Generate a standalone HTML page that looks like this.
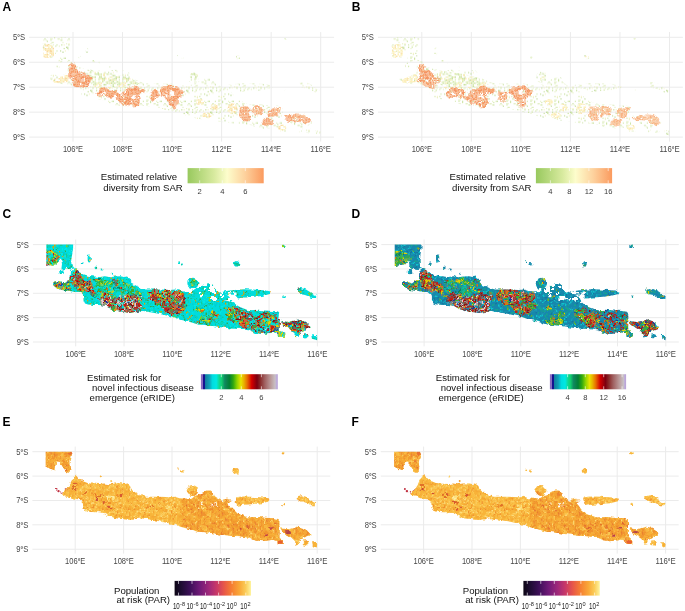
<!DOCTYPE html>
<html><head><meta charset="utf-8"><style>
html,body{margin:0;padding:0;background:#fff;overflow:hidden;}
svg{display:block;font-family:"Liberation Sans", sans-serif;}
</style></head><body>
<svg width="685" height="611" viewBox="0 0 685 611">
<defs><linearGradient id="gA" x1="0" x2="1" y1="0" y2="0"><stop offset="0" stop-color="#98c95e"/><stop offset="0.35" stop-color="#d8ea9f"/><stop offset="0.52" stop-color="#fdfdcc"/><stop offset="0.75" stop-color="#fdd29e"/><stop offset="1" stop-color="#fb9a5e"/></linearGradient><linearGradient id="gB" x1="0" x2="1" y1="0" y2="0"><stop offset="0" stop-color="#98c95e"/><stop offset="0.35" stop-color="#d8ea9f"/><stop offset="0.52" stop-color="#fdfdcc"/><stop offset="0.75" stop-color="#fdd29e"/><stop offset="1" stop-color="#fb9a5e"/></linearGradient><linearGradient id="gC" x1="0" x2="1" y1="0" y2="0"><stop offset="0" stop-color="#8a6cc0"/><stop offset="0.022" stop-color="#8a6cc0"/><stop offset="0.028" stop-color="#141490"/><stop offset="0.05" stop-color="#141490"/><stop offset="0.06" stop-color="#1080a0"/><stop offset="0.11" stop-color="#10a0b8"/><stop offset="0.15" stop-color="#00dce0"/><stop offset="0.2" stop-color="#00e8e4"/><stop offset="0.24" stop-color="#10d890"/><stop offset="0.27" stop-color="#10d070"/><stop offset="0.31" stop-color="#108860"/><stop offset="0.37" stop-color="#008034"/><stop offset="0.42" stop-color="#30a810"/><stop offset="0.47" stop-color="#90d400"/><stop offset="0.52" stop-color="#e8e400"/><stop offset="0.56" stop-color="#e8b000"/><stop offset="0.6" stop-color="#e87000"/><stop offset="0.66" stop-color="#d40000"/><stop offset="0.73" stop-color="#7c0010"/><stop offset="0.77" stop-color="#882828"/><stop offset="0.83" stop-color="#a06060"/><stop offset="0.9" stop-color="#b89494"/><stop offset="0.965" stop-color="#c8c0c4"/><stop offset="0.978" stop-color="#c0b0d8"/><stop offset="1" stop-color="#b8a0d8"/></linearGradient><linearGradient id="gD" x1="0" x2="1" y1="0" y2="0"><stop offset="0" stop-color="#8a6cc0"/><stop offset="0.022" stop-color="#8a6cc0"/><stop offset="0.028" stop-color="#141490"/><stop offset="0.05" stop-color="#141490"/><stop offset="0.06" stop-color="#1080a0"/><stop offset="0.11" stop-color="#10a0b8"/><stop offset="0.15" stop-color="#00dce0"/><stop offset="0.2" stop-color="#00e8e4"/><stop offset="0.24" stop-color="#10d890"/><stop offset="0.27" stop-color="#10d070"/><stop offset="0.31" stop-color="#108860"/><stop offset="0.37" stop-color="#008034"/><stop offset="0.42" stop-color="#30a810"/><stop offset="0.47" stop-color="#90d400"/><stop offset="0.52" stop-color="#e8e400"/><stop offset="0.56" stop-color="#e8b000"/><stop offset="0.6" stop-color="#e87000"/><stop offset="0.66" stop-color="#d40000"/><stop offset="0.73" stop-color="#7c0010"/><stop offset="0.77" stop-color="#882828"/><stop offset="0.83" stop-color="#a06060"/><stop offset="0.9" stop-color="#b89494"/><stop offset="0.965" stop-color="#c8c0c4"/><stop offset="0.978" stop-color="#c0b0d8"/><stop offset="1" stop-color="#b8a0d8"/></linearGradient><linearGradient id="gE" x1="0" x2="1" y1="0" y2="0"><stop offset="0" stop-color="#0c0614"/><stop offset="0.08" stop-color="#1c0c30"/><stop offset="0.2" stop-color="#3c0f58"/><stop offset="0.33" stop-color="#701a78"/><stop offset="0.45" stop-color="#a0287a"/><stop offset="0.55" stop-color="#c83868"/><stop offset="0.65" stop-color="#e85848"/><stop offset="0.75" stop-color="#f68032"/><stop offset="0.85" stop-color="#f9a838"/><stop offset="0.93" stop-color="#fbcc58"/><stop offset="1" stop-color="#fef4a0"/></linearGradient><linearGradient id="gF" x1="0" x2="1" y1="0" y2="0"><stop offset="0" stop-color="#0c0614"/><stop offset="0.08" stop-color="#1c0c30"/><stop offset="0.2" stop-color="#3c0f58"/><stop offset="0.33" stop-color="#701a78"/><stop offset="0.45" stop-color="#a0287a"/><stop offset="0.55" stop-color="#c83868"/><stop offset="0.65" stop-color="#e85848"/><stop offset="0.75" stop-color="#f68032"/><stop offset="0.85" stop-color="#f9a838"/><stop offset="0.93" stop-color="#fbcc58"/><stop offset="1" stop-color="#fef4a0"/></linearGradient><filter id="soft" x="-5%" y="-5%" width="110%" height="110%" color-interpolation-filters="sRGB"><feGaussianBlur stdDeviation="0.55"/></filter><filter id="disp2" x="-5%" y="-10%" width="110%" height="120%" color-interpolation-filters="sRGB"><feTurbulence type="fractalNoise" baseFrequency="0.15" numOctaves="2" seed="11" result="t"/><feDisplacementMap in="SourceGraphic" in2="t" scale="7" xChannelSelector="R" yChannelSelector="G"/></filter><filter id="rag" x="-5%" y="-10%" width="110%" height="120%" color-interpolation-filters="sRGB"><feTurbulence type="fractalNoise" baseFrequency="0.22" numOctaves="2" seed="7" result="t"/><feDisplacementMap in="SourceGraphic" in2="t" scale="4" xChannelSelector="R" yChannelSelector="G" result="d"/><feGaussianBlur in="d" stdDeviation="0.5"/></filter><filter id="disp" x="-5%" y="-10%" width="110%" height="120%" color-interpolation-filters="sRGB"><feTurbulence type="fractalNoise" baseFrequency="0.12" numOctaves="2" seed="4" result="t"/><feDisplacementMap in="SourceGraphic" in2="t" scale="9" xChannelSelector="R" yChannelSelector="G"/></filter><pattern id="hR" patternUnits="userSpaceOnUse" width="30" height="27"><rect x="0" y="0" width="1.5" height="1.5" fill="#c41c14"/><rect x="4.5" y="0" width="1.5" height="1.5" fill="#861414"/><rect x="6" y="0" width="1.5" height="1.5" fill="#ecc8c8"/><rect x="7.5" y="0" width="1.5" height="1.5" fill="#ecc8c8"/><rect x="9" y="0" width="1.5" height="1.5" fill="#e49018"/><rect x="12" y="0" width="1.5" height="1.5" fill="#c41c14"/><rect x="13.5" y="0" width="1.5" height="1.5" fill="#c41c14"/><rect x="16.5" y="0" width="1.5" height="1.5" fill="#ecc8c8"/><rect x="19.5" y="0" width="1.5" height="1.5" fill="#c41c14"/><rect x="21" y="0" width="1.5" height="1.5" fill="#ecc8c8"/><rect x="22.5" y="0" width="1.5" height="1.5" fill="#3ab030"/><rect x="24" y="0" width="1.5" height="1.5" fill="#c41c14"/><rect x="25.5" y="0" width="1.5" height="1.5" fill="#2030a0"/><rect x="27" y="0" width="1.5" height="1.5" fill="#e0d000"/><rect x="28.5" y="0" width="1.5" height="1.5" fill="#c41c14"/><rect x="0" y="1.5" width="1.5" height="1.5" fill="#c41c14"/><rect x="1.5" y="1.5" width="1.5" height="1.5" fill="#d8603c"/><rect x="3" y="1.5" width="1.5" height="1.5" fill="#2030a0"/><rect x="4.5" y="1.5" width="1.5" height="1.5" fill="#861414"/><rect x="6" y="1.5" width="1.5" height="1.5" fill="#c41c14"/><rect x="7.5" y="1.5" width="1.5" height="1.5" fill="#ecc8c8"/><rect x="9" y="1.5" width="1.5" height="1.5" fill="#c41c14"/><rect x="10.5" y="1.5" width="1.5" height="1.5" fill="#c41c14"/><rect x="12" y="1.5" width="1.5" height="1.5" fill="#ecc8c8"/><rect x="13.5" y="1.5" width="1.5" height="1.5" fill="#ecc8c8"/><rect x="15" y="1.5" width="1.5" height="1.5" fill="#c41c14"/><rect x="16.5" y="1.5" width="1.5" height="1.5" fill="#c41c14"/><rect x="18" y="1.5" width="1.5" height="1.5" fill="#c41c14"/><rect x="19.5" y="1.5" width="1.5" height="1.5" fill="#ecc8c8"/><rect x="21" y="1.5" width="1.5" height="1.5" fill="#861414"/><rect x="22.5" y="1.5" width="1.5" height="1.5" fill="#c41c14"/><rect x="25.5" y="1.5" width="1.5" height="1.5" fill="#d8603c"/><rect x="27" y="1.5" width="1.5" height="1.5" fill="#e49018"/><rect x="28.5" y="1.5" width="1.5" height="1.5" fill="#c41c14"/><rect x="0" y="3" width="1.5" height="1.5" fill="#a04848"/><rect x="3" y="3" width="1.5" height="1.5" fill="#c41c14"/><rect x="4.5" y="3" width="1.5" height="1.5" fill="#861414"/><rect x="6" y="3" width="1.5" height="1.5" fill="#3ab030"/><rect x="7.5" y="3" width="1.5" height="1.5" fill="#3ab030"/><rect x="9" y="3" width="1.5" height="1.5" fill="#2030a0"/><rect x="10.5" y="3" width="1.5" height="1.5" fill="#ecc8c8"/><rect x="13.5" y="3" width="1.5" height="1.5" fill="#e49018"/><rect x="15" y="3" width="1.5" height="1.5" fill="#861414"/><rect x="16.5" y="3" width="1.5" height="1.5" fill="#d8603c"/><rect x="18" y="3" width="1.5" height="1.5" fill="#e0d000"/><rect x="21" y="3" width="1.5" height="1.5" fill="#ecc8c8"/><rect x="22.5" y="3" width="1.5" height="1.5" fill="#d8603c"/><rect x="24" y="3" width="1.5" height="1.5" fill="#c41c14"/><rect x="25.5" y="3" width="1.5" height="1.5" fill="#861414"/><rect x="28.5" y="3" width="1.5" height="1.5" fill="#861414"/><rect x="0" y="4.5" width="1.5" height="1.5" fill="#c41c14"/><rect x="1.5" y="4.5" width="1.5" height="1.5" fill="#d8603c"/><rect x="3" y="4.5" width="1.5" height="1.5" fill="#3ab030"/><rect x="4.5" y="4.5" width="1.5" height="1.5" fill="#e49018"/><rect x="6" y="4.5" width="1.5" height="1.5" fill="#861414"/><rect x="7.5" y="4.5" width="1.5" height="1.5" fill="#ecc8c8"/><rect x="9" y="4.5" width="1.5" height="1.5" fill="#ecc8c8"/><rect x="12" y="4.5" width="1.5" height="1.5" fill="#ecc8c8"/><rect x="13.5" y="4.5" width="1.5" height="1.5" fill="#861414"/><rect x="15" y="4.5" width="1.5" height="1.5" fill="#ecc8c8"/><rect x="16.5" y="4.5" width="1.5" height="1.5" fill="#c41c14"/><rect x="18" y="4.5" width="1.5" height="1.5" fill="#c41c14"/><rect x="19.5" y="4.5" width="1.5" height="1.5" fill="#3ab030"/><rect x="21" y="4.5" width="1.5" height="1.5" fill="#a04848"/><rect x="22.5" y="4.5" width="1.5" height="1.5" fill="#d8603c"/><rect x="24" y="4.5" width="1.5" height="1.5" fill="#861414"/><rect x="25.5" y="4.5" width="1.5" height="1.5" fill="#c41c14"/><rect x="27" y="4.5" width="1.5" height="1.5" fill="#ecc8c8"/><rect x="28.5" y="4.5" width="1.5" height="1.5" fill="#a04848"/><rect x="1.5" y="6" width="1.5" height="1.5" fill="#ecc8c8"/><rect x="4.5" y="6" width="1.5" height="1.5" fill="#c41c14"/><rect x="6" y="6" width="1.5" height="1.5" fill="#ecc8c8"/><rect x="7.5" y="6" width="1.5" height="1.5" fill="#2030a0"/><rect x="9" y="6" width="1.5" height="1.5" fill="#d8603c"/><rect x="10.5" y="6" width="1.5" height="1.5" fill="#ecc8c8"/><rect x="12" y="6" width="1.5" height="1.5" fill="#861414"/><rect x="13.5" y="6" width="1.5" height="1.5" fill="#d8603c"/><rect x="15" y="6" width="1.5" height="1.5" fill="#2030a0"/><rect x="16.5" y="6" width="1.5" height="1.5" fill="#c41c14"/><rect x="21" y="6" width="1.5" height="1.5" fill="#e0d000"/><rect x="22.5" y="6" width="1.5" height="1.5" fill="#3ab030"/><rect x="25.5" y="6" width="1.5" height="1.5" fill="#ecc8c8"/><rect x="27" y="6" width="1.5" height="1.5" fill="#d8603c"/><rect x="28.5" y="6" width="1.5" height="1.5" fill="#ecc8c8"/><rect x="0" y="7.5" width="1.5" height="1.5" fill="#c41c14"/><rect x="3" y="7.5" width="1.5" height="1.5" fill="#d8603c"/><rect x="4.5" y="7.5" width="1.5" height="1.5" fill="#c41c14"/><rect x="6" y="7.5" width="1.5" height="1.5" fill="#ecc8c8"/><rect x="7.5" y="7.5" width="1.5" height="1.5" fill="#ecc8c8"/><rect x="9" y="7.5" width="1.5" height="1.5" fill="#861414"/><rect x="10.5" y="7.5" width="1.5" height="1.5" fill="#861414"/><rect x="12" y="7.5" width="1.5" height="1.5" fill="#ecc8c8"/><rect x="13.5" y="7.5" width="1.5" height="1.5" fill="#e49018"/><rect x="15" y="7.5" width="1.5" height="1.5" fill="#d8603c"/><rect x="16.5" y="7.5" width="1.5" height="1.5" fill="#ecc8c8"/><rect x="18" y="7.5" width="1.5" height="1.5" fill="#c41c14"/><rect x="19.5" y="7.5" width="1.5" height="1.5" fill="#c41c14"/><rect x="21" y="7.5" width="1.5" height="1.5" fill="#c41c14"/><rect x="22.5" y="7.5" width="1.5" height="1.5" fill="#d8603c"/><rect x="0" y="9" width="1.5" height="1.5" fill="#861414"/><rect x="3" y="9" width="1.5" height="1.5" fill="#e49018"/><rect x="4.5" y="9" width="1.5" height="1.5" fill="#c41c14"/><rect x="6" y="9" width="1.5" height="1.5" fill="#c41c14"/><rect x="7.5" y="9" width="1.5" height="1.5" fill="#c41c14"/><rect x="9" y="9" width="1.5" height="1.5" fill="#3ab030"/><rect x="10.5" y="9" width="1.5" height="1.5" fill="#861414"/><rect x="12" y="9" width="1.5" height="1.5" fill="#c41c14"/><rect x="13.5" y="9" width="1.5" height="1.5" fill="#e49018"/><rect x="15" y="9" width="1.5" height="1.5" fill="#861414"/><rect x="16.5" y="9" width="1.5" height="1.5" fill="#c41c14"/><rect x="18" y="9" width="1.5" height="1.5" fill="#c41c14"/><rect x="19.5" y="9" width="1.5" height="1.5" fill="#ecc8c8"/><rect x="21" y="9" width="1.5" height="1.5" fill="#c41c14"/><rect x="22.5" y="9" width="1.5" height="1.5" fill="#861414"/><rect x="24" y="9" width="1.5" height="1.5" fill="#3ab030"/><rect x="25.5" y="9" width="1.5" height="1.5" fill="#ecc8c8"/><rect x="27" y="9" width="1.5" height="1.5" fill="#861414"/><rect x="28.5" y="9" width="1.5" height="1.5" fill="#ecc8c8"/><rect x="0" y="10.5" width="1.5" height="1.5" fill="#c41c14"/><rect x="1.5" y="10.5" width="1.5" height="1.5" fill="#861414"/><rect x="3" y="10.5" width="1.5" height="1.5" fill="#ecc8c8"/><rect x="4.5" y="10.5" width="1.5" height="1.5" fill="#c41c14"/><rect x="6" y="10.5" width="1.5" height="1.5" fill="#c41c14"/><rect x="7.5" y="10.5" width="1.5" height="1.5" fill="#e0d000"/><rect x="9" y="10.5" width="1.5" height="1.5" fill="#ecc8c8"/><rect x="10.5" y="10.5" width="1.5" height="1.5" fill="#c41c14"/><rect x="12" y="10.5" width="1.5" height="1.5" fill="#d8603c"/><rect x="15" y="10.5" width="1.5" height="1.5" fill="#c41c14"/><rect x="16.5" y="10.5" width="1.5" height="1.5" fill="#c41c14"/><rect x="18" y="10.5" width="1.5" height="1.5" fill="#c41c14"/><rect x="19.5" y="10.5" width="1.5" height="1.5" fill="#3ab030"/><rect x="21" y="10.5" width="1.5" height="1.5" fill="#c41c14"/><rect x="22.5" y="10.5" width="1.5" height="1.5" fill="#3ab030"/><rect x="24" y="10.5" width="1.5" height="1.5" fill="#e49018"/><rect x="25.5" y="10.5" width="1.5" height="1.5" fill="#d8603c"/><rect x="27" y="10.5" width="1.5" height="1.5" fill="#c41c14"/><rect x="28.5" y="10.5" width="1.5" height="1.5" fill="#a04848"/><rect x="1.5" y="12" width="1.5" height="1.5" fill="#ecc8c8"/><rect x="3" y="12" width="1.5" height="1.5" fill="#c41c14"/><rect x="4.5" y="12" width="1.5" height="1.5" fill="#e49018"/><rect x="6" y="12" width="1.5" height="1.5" fill="#861414"/><rect x="7.5" y="12" width="1.5" height="1.5" fill="#d8603c"/><rect x="9" y="12" width="1.5" height="1.5" fill="#861414"/><rect x="10.5" y="12" width="1.5" height="1.5" fill="#e49018"/><rect x="12" y="12" width="1.5" height="1.5" fill="#c41c14"/><rect x="13.5" y="12" width="1.5" height="1.5" fill="#861414"/><rect x="15" y="12" width="1.5" height="1.5" fill="#a04848"/><rect x="18" y="12" width="1.5" height="1.5" fill="#861414"/><rect x="21" y="12" width="1.5" height="1.5" fill="#861414"/><rect x="22.5" y="12" width="1.5" height="1.5" fill="#2030a0"/><rect x="24" y="12" width="1.5" height="1.5" fill="#3ab030"/><rect x="25.5" y="12" width="1.5" height="1.5" fill="#861414"/><rect x="27" y="12" width="1.5" height="1.5" fill="#861414"/><rect x="28.5" y="12" width="1.5" height="1.5" fill="#c41c14"/><rect x="1.5" y="13.5" width="1.5" height="1.5" fill="#c41c14"/><rect x="4.5" y="13.5" width="1.5" height="1.5" fill="#a04848"/><rect x="6" y="13.5" width="1.5" height="1.5" fill="#d8603c"/><rect x="7.5" y="13.5" width="1.5" height="1.5" fill="#c41c14"/><rect x="10.5" y="13.5" width="1.5" height="1.5" fill="#a04848"/><rect x="12" y="13.5" width="1.5" height="1.5" fill="#3ab030"/><rect x="13.5" y="13.5" width="1.5" height="1.5" fill="#ecc8c8"/><rect x="15" y="13.5" width="1.5" height="1.5" fill="#861414"/><rect x="16.5" y="13.5" width="1.5" height="1.5" fill="#861414"/><rect x="18" y="13.5" width="1.5" height="1.5" fill="#c41c14"/><rect x="19.5" y="13.5" width="1.5" height="1.5" fill="#e49018"/><rect x="21" y="13.5" width="1.5" height="1.5" fill="#ecc8c8"/><rect x="22.5" y="13.5" width="1.5" height="1.5" fill="#c41c14"/><rect x="24" y="13.5" width="1.5" height="1.5" fill="#c41c14"/><rect x="25.5" y="13.5" width="1.5" height="1.5" fill="#e49018"/><rect x="27" y="13.5" width="1.5" height="1.5" fill="#861414"/><rect x="28.5" y="13.5" width="1.5" height="1.5" fill="#ecc8c8"/><rect x="0" y="15" width="1.5" height="1.5" fill="#861414"/><rect x="3" y="15" width="1.5" height="1.5" fill="#e0d000"/><rect x="4.5" y="15" width="1.5" height="1.5" fill="#c41c14"/><rect x="6" y="15" width="1.5" height="1.5" fill="#c41c14"/><rect x="7.5" y="15" width="1.5" height="1.5" fill="#861414"/><rect x="9" y="15" width="1.5" height="1.5" fill="#a04848"/><rect x="12" y="15" width="1.5" height="1.5" fill="#861414"/><rect x="13.5" y="15" width="1.5" height="1.5" fill="#c41c14"/><rect x="15" y="15" width="1.5" height="1.5" fill="#e49018"/><rect x="18" y="15" width="1.5" height="1.5" fill="#2030a0"/><rect x="19.5" y="15" width="1.5" height="1.5" fill="#861414"/><rect x="21" y="15" width="1.5" height="1.5" fill="#e0d000"/><rect x="22.5" y="15" width="1.5" height="1.5" fill="#3ab030"/><rect x="24" y="15" width="1.5" height="1.5" fill="#ecc8c8"/><rect x="25.5" y="15" width="1.5" height="1.5" fill="#a04848"/><rect x="27" y="15" width="1.5" height="1.5" fill="#c41c14"/><rect x="28.5" y="15" width="1.5" height="1.5" fill="#3ab030"/><rect x="0" y="16.5" width="1.5" height="1.5" fill="#c41c14"/><rect x="1.5" y="16.5" width="1.5" height="1.5" fill="#c41c14"/><rect x="3" y="16.5" width="1.5" height="1.5" fill="#e0d000"/><rect x="4.5" y="16.5" width="1.5" height="1.5" fill="#c41c14"/><rect x="6" y="16.5" width="1.5" height="1.5" fill="#3ab030"/><rect x="7.5" y="16.5" width="1.5" height="1.5" fill="#d8603c"/><rect x="10.5" y="16.5" width="1.5" height="1.5" fill="#861414"/><rect x="12" y="16.5" width="1.5" height="1.5" fill="#861414"/><rect x="13.5" y="16.5" width="1.5" height="1.5" fill="#861414"/><rect x="16.5" y="16.5" width="1.5" height="1.5" fill="#d8603c"/><rect x="18" y="16.5" width="1.5" height="1.5" fill="#2030a0"/><rect x="19.5" y="16.5" width="1.5" height="1.5" fill="#e0d000"/><rect x="21" y="16.5" width="1.5" height="1.5" fill="#c41c14"/><rect x="22.5" y="16.5" width="1.5" height="1.5" fill="#d8603c"/><rect x="24" y="16.5" width="1.5" height="1.5" fill="#c41c14"/><rect x="25.5" y="16.5" width="1.5" height="1.5" fill="#c41c14"/><rect x="27" y="16.5" width="1.5" height="1.5" fill="#c41c14"/><rect x="3" y="18" width="1.5" height="1.5" fill="#861414"/><rect x="4.5" y="18" width="1.5" height="1.5" fill="#d8603c"/><rect x="7.5" y="18" width="1.5" height="1.5" fill="#861414"/><rect x="9" y="18" width="1.5" height="1.5" fill="#d8603c"/><rect x="10.5" y="18" width="1.5" height="1.5" fill="#c41c14"/><rect x="12" y="18" width="1.5" height="1.5" fill="#c41c14"/><rect x="13.5" y="18" width="1.5" height="1.5" fill="#861414"/><rect x="15" y="18" width="1.5" height="1.5" fill="#e0d000"/><rect x="16.5" y="18" width="1.5" height="1.5" fill="#d8603c"/><rect x="18" y="18" width="1.5" height="1.5" fill="#e0d000"/><rect x="19.5" y="18" width="1.5" height="1.5" fill="#ecc8c8"/><rect x="21" y="18" width="1.5" height="1.5" fill="#861414"/><rect x="25.5" y="18" width="1.5" height="1.5" fill="#c41c14"/><rect x="27" y="18" width="1.5" height="1.5" fill="#e49018"/><rect x="28.5" y="18" width="1.5" height="1.5" fill="#c41c14"/><rect x="0" y="19.5" width="1.5" height="1.5" fill="#c41c14"/><rect x="1.5" y="19.5" width="1.5" height="1.5" fill="#e0d000"/><rect x="3" y="19.5" width="1.5" height="1.5" fill="#c41c14"/><rect x="4.5" y="19.5" width="1.5" height="1.5" fill="#c41c14"/><rect x="6" y="19.5" width="1.5" height="1.5" fill="#a04848"/><rect x="7.5" y="19.5" width="1.5" height="1.5" fill="#ecc8c8"/><rect x="9" y="19.5" width="1.5" height="1.5" fill="#c41c14"/><rect x="10.5" y="19.5" width="1.5" height="1.5" fill="#c41c14"/><rect x="12" y="19.5" width="1.5" height="1.5" fill="#861414"/><rect x="13.5" y="19.5" width="1.5" height="1.5" fill="#3ab030"/><rect x="15" y="19.5" width="1.5" height="1.5" fill="#c41c14"/><rect x="16.5" y="19.5" width="1.5" height="1.5" fill="#e0d000"/><rect x="18" y="19.5" width="1.5" height="1.5" fill="#861414"/><rect x="19.5" y="19.5" width="1.5" height="1.5" fill="#a04848"/><rect x="21" y="19.5" width="1.5" height="1.5" fill="#e0d000"/><rect x="22.5" y="19.5" width="1.5" height="1.5" fill="#861414"/><rect x="24" y="19.5" width="1.5" height="1.5" fill="#861414"/><rect x="25.5" y="19.5" width="1.5" height="1.5" fill="#ecc8c8"/><rect x="27" y="19.5" width="1.5" height="1.5" fill="#c41c14"/><rect x="28.5" y="19.5" width="1.5" height="1.5" fill="#e49018"/><rect x="0" y="21" width="1.5" height="1.5" fill="#c41c14"/><rect x="1.5" y="21" width="1.5" height="1.5" fill="#c41c14"/><rect x="3" y="21" width="1.5" height="1.5" fill="#a04848"/><rect x="4.5" y="21" width="1.5" height="1.5" fill="#861414"/><rect x="6" y="21" width="1.5" height="1.5" fill="#d8603c"/><rect x="7.5" y="21" width="1.5" height="1.5" fill="#ecc8c8"/><rect x="9" y="21" width="1.5" height="1.5" fill="#861414"/><rect x="10.5" y="21" width="1.5" height="1.5" fill="#c41c14"/><rect x="12" y="21" width="1.5" height="1.5" fill="#e0d000"/><rect x="13.5" y="21" width="1.5" height="1.5" fill="#a04848"/><rect x="15" y="21" width="1.5" height="1.5" fill="#a04848"/><rect x="16.5" y="21" width="1.5" height="1.5" fill="#c41c14"/><rect x="18" y="21" width="1.5" height="1.5" fill="#c41c14"/><rect x="19.5" y="21" width="1.5" height="1.5" fill="#d8603c"/><rect x="21" y="21" width="1.5" height="1.5" fill="#a04848"/><rect x="22.5" y="21" width="1.5" height="1.5" fill="#d8603c"/><rect x="24" y="21" width="1.5" height="1.5" fill="#3ab030"/><rect x="25.5" y="21" width="1.5" height="1.5" fill="#e49018"/><rect x="27" y="21" width="1.5" height="1.5" fill="#861414"/><rect x="28.5" y="21" width="1.5" height="1.5" fill="#d8603c"/><rect x="0" y="22.5" width="1.5" height="1.5" fill="#861414"/><rect x="1.5" y="22.5" width="1.5" height="1.5" fill="#861414"/><rect x="3" y="22.5" width="1.5" height="1.5" fill="#c41c14"/><rect x="4.5" y="22.5" width="1.5" height="1.5" fill="#861414"/><rect x="6" y="22.5" width="1.5" height="1.5" fill="#a04848"/><rect x="7.5" y="22.5" width="1.5" height="1.5" fill="#ecc8c8"/><rect x="9" y="22.5" width="1.5" height="1.5" fill="#e49018"/><rect x="10.5" y="22.5" width="1.5" height="1.5" fill="#e49018"/><rect x="12" y="22.5" width="1.5" height="1.5" fill="#2030a0"/><rect x="13.5" y="22.5" width="1.5" height="1.5" fill="#861414"/><rect x="15" y="22.5" width="1.5" height="1.5" fill="#861414"/><rect x="16.5" y="22.5" width="1.5" height="1.5" fill="#861414"/><rect x="18" y="22.5" width="1.5" height="1.5" fill="#861414"/><rect x="21" y="22.5" width="1.5" height="1.5" fill="#e0d000"/><rect x="22.5" y="22.5" width="1.5" height="1.5" fill="#861414"/><rect x="24" y="22.5" width="1.5" height="1.5" fill="#861414"/><rect x="25.5" y="22.5" width="1.5" height="1.5" fill="#d8603c"/><rect x="27" y="22.5" width="1.5" height="1.5" fill="#d8603c"/><rect x="28.5" y="22.5" width="1.5" height="1.5" fill="#d8603c"/><rect x="0" y="24" width="1.5" height="1.5" fill="#861414"/><rect x="1.5" y="24" width="1.5" height="1.5" fill="#c41c14"/><rect x="3" y="24" width="1.5" height="1.5" fill="#861414"/><rect x="4.5" y="24" width="1.5" height="1.5" fill="#c41c14"/><rect x="6" y="24" width="1.5" height="1.5" fill="#d8603c"/><rect x="7.5" y="24" width="1.5" height="1.5" fill="#c41c14"/><rect x="9" y="24" width="1.5" height="1.5" fill="#c41c14"/><rect x="10.5" y="24" width="1.5" height="1.5" fill="#e49018"/><rect x="12" y="24" width="1.5" height="1.5" fill="#861414"/><rect x="15" y="24" width="1.5" height="1.5" fill="#ecc8c8"/><rect x="18" y="24" width="1.5" height="1.5" fill="#c41c14"/><rect x="19.5" y="24" width="1.5" height="1.5" fill="#ecc8c8"/><rect x="22.5" y="24" width="1.5" height="1.5" fill="#c41c14"/><rect x="24" y="24" width="1.5" height="1.5" fill="#2030a0"/><rect x="25.5" y="24" width="1.5" height="1.5" fill="#c41c14"/><rect x="28.5" y="24" width="1.5" height="1.5" fill="#a04848"/><rect x="1.5" y="25.5" width="1.5" height="1.5" fill="#861414"/><rect x="3" y="25.5" width="1.5" height="1.5" fill="#c41c14"/><rect x="4.5" y="25.5" width="1.5" height="1.5" fill="#ecc8c8"/><rect x="6" y="25.5" width="1.5" height="1.5" fill="#e0d000"/><rect x="7.5" y="25.5" width="1.5" height="1.5" fill="#861414"/><rect x="9" y="25.5" width="1.5" height="1.5" fill="#e0d000"/><rect x="10.5" y="25.5" width="1.5" height="1.5" fill="#c41c14"/><rect x="12" y="25.5" width="1.5" height="1.5" fill="#e0d000"/><rect x="13.5" y="25.5" width="1.5" height="1.5" fill="#c41c14"/><rect x="15" y="25.5" width="1.5" height="1.5" fill="#861414"/><rect x="16.5" y="25.5" width="1.5" height="1.5" fill="#e0d000"/><rect x="19.5" y="25.5" width="1.5" height="1.5" fill="#e0d000"/><rect x="22.5" y="25.5" width="1.5" height="1.5" fill="#3ab030"/><rect x="24" y="25.5" width="1.5" height="1.5" fill="#3ab030"/><rect x="25.5" y="25.5" width="1.5" height="1.5" fill="#c41c14"/><rect x="27" y="25.5" width="1.5" height="1.5" fill="#ecc8c8"/><rect x="28.5" y="25.5" width="1.5" height="1.5" fill="#c41c14"/></pattern><pattern id="hR2" patternUnits="userSpaceOnUse" width="30" height="27"><rect x="0" y="0" width="1.5" height="1.5" fill="#d8603c"/><rect x="1.5" y="0" width="1.5" height="1.5" fill="#d8603c"/><rect x="3" y="0" width="1.5" height="1.5" fill="#c41c14"/><rect x="4.5" y="0" width="1.5" height="1.5" fill="#c41c14"/><rect x="7.5" y="0" width="1.5" height="1.5" fill="#3ab030"/><rect x="9" y="0" width="1.5" height="1.5" fill="#3ab030"/><rect x="10.5" y="0" width="1.5" height="1.5" fill="#861414"/><rect x="12" y="0" width="1.5" height="1.5" fill="#e0c800"/><rect x="13.5" y="0" width="1.5" height="1.5" fill="#e0c800"/><rect x="15" y="0" width="1.5" height="1.5" fill="#e0c800"/><rect x="16.5" y="0" width="1.5" height="1.5" fill="#c41c14"/><rect x="18" y="0" width="1.5" height="1.5" fill="#e07010"/><rect x="19.5" y="0" width="1.5" height="1.5" fill="#861414"/><rect x="21" y="0" width="1.5" height="1.5" fill="#3ab030"/><rect x="22.5" y="0" width="1.5" height="1.5" fill="#d8603c"/><rect x="24" y="0" width="1.5" height="1.5" fill="#d8603c"/><rect x="25.5" y="0" width="1.5" height="1.5" fill="#e07010"/><rect x="27" y="0" width="1.5" height="1.5" fill="#e07010"/><rect x="28.5" y="0" width="1.5" height="1.5" fill="#c41c14"/><rect x="0" y="1.5" width="1.5" height="1.5" fill="#c41c14"/><rect x="1.5" y="1.5" width="1.5" height="1.5" fill="#c41c14"/><rect x="3" y="1.5" width="1.5" height="1.5" fill="#e07010"/><rect x="4.5" y="1.5" width="1.5" height="1.5" fill="#861414"/><rect x="6" y="1.5" width="1.5" height="1.5" fill="#861414"/><rect x="9" y="1.5" width="1.5" height="1.5" fill="#e07010"/><rect x="10.5" y="1.5" width="1.5" height="1.5" fill="#e0c800"/><rect x="12" y="1.5" width="1.5" height="1.5" fill="#c41c14"/><rect x="13.5" y="1.5" width="1.5" height="1.5" fill="#c41c14"/><rect x="15" y="1.5" width="1.5" height="1.5" fill="#861414"/><rect x="16.5" y="1.5" width="1.5" height="1.5" fill="#c41c14"/><rect x="18" y="1.5" width="1.5" height="1.5" fill="#e07010"/><rect x="19.5" y="1.5" width="1.5" height="1.5" fill="#d8603c"/><rect x="21" y="1.5" width="1.5" height="1.5" fill="#3ab030"/><rect x="22.5" y="1.5" width="1.5" height="1.5" fill="#c41c14"/><rect x="27" y="1.5" width="1.5" height="1.5" fill="#3ab030"/><rect x="0" y="3" width="1.5" height="1.5" fill="#e0a0a0"/><rect x="1.5" y="3" width="1.5" height="1.5" fill="#e0a0a0"/><rect x="3" y="3" width="1.5" height="1.5" fill="#861414"/><rect x="4.5" y="3" width="1.5" height="1.5" fill="#d8603c"/><rect x="6" y="3" width="1.5" height="1.5" fill="#d8603c"/><rect x="7.5" y="3" width="1.5" height="1.5" fill="#c41c14"/><rect x="9" y="3" width="1.5" height="1.5" fill="#e0a0a0"/><rect x="10.5" y="3" width="1.5" height="1.5" fill="#3ab030"/><rect x="12" y="3" width="1.5" height="1.5" fill="#e07010"/><rect x="13.5" y="3" width="1.5" height="1.5" fill="#e07010"/><rect x="15" y="3" width="1.5" height="1.5" fill="#e07010"/><rect x="16.5" y="3" width="1.5" height="1.5" fill="#2030a0"/><rect x="18" y="3" width="1.5" height="1.5" fill="#e07010"/><rect x="21" y="3" width="1.5" height="1.5" fill="#861414"/><rect x="25.5" y="3" width="1.5" height="1.5" fill="#e07010"/><rect x="27" y="3" width="1.5" height="1.5" fill="#e0c800"/><rect x="28.5" y="3" width="1.5" height="1.5" fill="#2030a0"/><rect x="0" y="4.5" width="1.5" height="1.5" fill="#3ab030"/><rect x="1.5" y="4.5" width="1.5" height="1.5" fill="#e07010"/><rect x="3" y="4.5" width="1.5" height="1.5" fill="#c41c14"/><rect x="4.5" y="4.5" width="1.5" height="1.5" fill="#861414"/><rect x="6" y="4.5" width="1.5" height="1.5" fill="#3ab030"/><rect x="7.5" y="4.5" width="1.5" height="1.5" fill="#c41c14"/><rect x="10.5" y="4.5" width="1.5" height="1.5" fill="#c41c14"/><rect x="13.5" y="4.5" width="1.5" height="1.5" fill="#861414"/><rect x="15" y="4.5" width="1.5" height="1.5" fill="#d8603c"/><rect x="16.5" y="4.5" width="1.5" height="1.5" fill="#3ab030"/><rect x="18" y="4.5" width="1.5" height="1.5" fill="#e07010"/><rect x="19.5" y="4.5" width="1.5" height="1.5" fill="#e07010"/><rect x="21" y="4.5" width="1.5" height="1.5" fill="#3ab030"/><rect x="22.5" y="4.5" width="1.5" height="1.5" fill="#e0c800"/><rect x="24" y="4.5" width="1.5" height="1.5" fill="#861414"/><rect x="25.5" y="4.5" width="1.5" height="1.5" fill="#c41c14"/><rect x="27" y="4.5" width="1.5" height="1.5" fill="#e07010"/><rect x="28.5" y="4.5" width="1.5" height="1.5" fill="#2030a0"/><rect x="0" y="6" width="1.5" height="1.5" fill="#e0c800"/><rect x="1.5" y="6" width="1.5" height="1.5" fill="#c41c14"/><rect x="4.5" y="6" width="1.5" height="1.5" fill="#3ab030"/><rect x="7.5" y="6" width="1.5" height="1.5" fill="#c41c14"/><rect x="9" y="6" width="1.5" height="1.5" fill="#3ab030"/><rect x="10.5" y="6" width="1.5" height="1.5" fill="#c41c14"/><rect x="12" y="6" width="1.5" height="1.5" fill="#3ab030"/><rect x="13.5" y="6" width="1.5" height="1.5" fill="#c41c14"/><rect x="15" y="6" width="1.5" height="1.5" fill="#c41c14"/><rect x="18" y="6" width="1.5" height="1.5" fill="#c41c14"/><rect x="19.5" y="6" width="1.5" height="1.5" fill="#e07010"/><rect x="22.5" y="6" width="1.5" height="1.5" fill="#c41c14"/><rect x="24" y="6" width="1.5" height="1.5" fill="#c41c14"/><rect x="27" y="6" width="1.5" height="1.5" fill="#e07010"/><rect x="28.5" y="6" width="1.5" height="1.5" fill="#3ab030"/><rect x="0" y="7.5" width="1.5" height="1.5" fill="#c41c14"/><rect x="1.5" y="7.5" width="1.5" height="1.5" fill="#861414"/><rect x="3" y="7.5" width="1.5" height="1.5" fill="#c41c14"/><rect x="4.5" y="7.5" width="1.5" height="1.5" fill="#3ab030"/><rect x="6" y="7.5" width="1.5" height="1.5" fill="#c41c14"/><rect x="7.5" y="7.5" width="1.5" height="1.5" fill="#d8603c"/><rect x="9" y="7.5" width="1.5" height="1.5" fill="#c41c14"/><rect x="10.5" y="7.5" width="1.5" height="1.5" fill="#3ab030"/><rect x="12" y="7.5" width="1.5" height="1.5" fill="#c41c14"/><rect x="13.5" y="7.5" width="1.5" height="1.5" fill="#c41c14"/><rect x="16.5" y="7.5" width="1.5" height="1.5" fill="#c41c14"/><rect x="18" y="7.5" width="1.5" height="1.5" fill="#c41c14"/><rect x="19.5" y="7.5" width="1.5" height="1.5" fill="#3ab030"/><rect x="21" y="7.5" width="1.5" height="1.5" fill="#861414"/><rect x="22.5" y="7.5" width="1.5" height="1.5" fill="#c41c14"/><rect x="24" y="7.5" width="1.5" height="1.5" fill="#d8603c"/><rect x="25.5" y="7.5" width="1.5" height="1.5" fill="#c41c14"/><rect x="27" y="7.5" width="1.5" height="1.5" fill="#c41c14"/><rect x="28.5" y="7.5" width="1.5" height="1.5" fill="#861414"/><rect x="0" y="9" width="1.5" height="1.5" fill="#e0c800"/><rect x="1.5" y="9" width="1.5" height="1.5" fill="#3ab030"/><rect x="3" y="9" width="1.5" height="1.5" fill="#c41c14"/><rect x="4.5" y="9" width="1.5" height="1.5" fill="#861414"/><rect x="6" y="9" width="1.5" height="1.5" fill="#c41c14"/><rect x="7.5" y="9" width="1.5" height="1.5" fill="#e07010"/><rect x="9" y="9" width="1.5" height="1.5" fill="#e0a0a0"/><rect x="10.5" y="9" width="1.5" height="1.5" fill="#3ab030"/><rect x="13.5" y="9" width="1.5" height="1.5" fill="#e0a0a0"/><rect x="16.5" y="9" width="1.5" height="1.5" fill="#3ab030"/><rect x="18" y="9" width="1.5" height="1.5" fill="#e07010"/><rect x="19.5" y="9" width="1.5" height="1.5" fill="#c41c14"/><rect x="21" y="9" width="1.5" height="1.5" fill="#3ab030"/><rect x="22.5" y="9" width="1.5" height="1.5" fill="#861414"/><rect x="24" y="9" width="1.5" height="1.5" fill="#c41c14"/><rect x="25.5" y="9" width="1.5" height="1.5" fill="#e07010"/><rect x="28.5" y="9" width="1.5" height="1.5" fill="#c41c14"/><rect x="0" y="10.5" width="1.5" height="1.5" fill="#e0c800"/><rect x="1.5" y="10.5" width="1.5" height="1.5" fill="#861414"/><rect x="3" y="10.5" width="1.5" height="1.5" fill="#e07010"/><rect x="4.5" y="10.5" width="1.5" height="1.5" fill="#c41c14"/><rect x="6" y="10.5" width="1.5" height="1.5" fill="#d8603c"/><rect x="7.5" y="10.5" width="1.5" height="1.5" fill="#c41c14"/><rect x="9" y="10.5" width="1.5" height="1.5" fill="#e0c800"/><rect x="10.5" y="10.5" width="1.5" height="1.5" fill="#861414"/><rect x="12" y="10.5" width="1.5" height="1.5" fill="#c41c14"/><rect x="13.5" y="10.5" width="1.5" height="1.5" fill="#e07010"/><rect x="15" y="10.5" width="1.5" height="1.5" fill="#c41c14"/><rect x="16.5" y="10.5" width="1.5" height="1.5" fill="#c41c14"/><rect x="18" y="10.5" width="1.5" height="1.5" fill="#c41c14"/><rect x="19.5" y="10.5" width="1.5" height="1.5" fill="#c41c14"/><rect x="21" y="10.5" width="1.5" height="1.5" fill="#c41c14"/><rect x="22.5" y="10.5" width="1.5" height="1.5" fill="#e0c800"/><rect x="24" y="10.5" width="1.5" height="1.5" fill="#e07010"/><rect x="25.5" y="10.5" width="1.5" height="1.5" fill="#d8603c"/><rect x="27" y="10.5" width="1.5" height="1.5" fill="#2030a0"/><rect x="28.5" y="10.5" width="1.5" height="1.5" fill="#d8603c"/><rect x="0" y="12" width="1.5" height="1.5" fill="#c41c14"/><rect x="1.5" y="12" width="1.5" height="1.5" fill="#e07010"/><rect x="3" y="12" width="1.5" height="1.5" fill="#c41c14"/><rect x="4.5" y="12" width="1.5" height="1.5" fill="#e0c800"/><rect x="6" y="12" width="1.5" height="1.5" fill="#e0c800"/><rect x="9" y="12" width="1.5" height="1.5" fill="#3ab030"/><rect x="10.5" y="12" width="1.5" height="1.5" fill="#c41c14"/><rect x="12" y="12" width="1.5" height="1.5" fill="#e07010"/><rect x="13.5" y="12" width="1.5" height="1.5" fill="#e07010"/><rect x="15" y="12" width="1.5" height="1.5" fill="#c41c14"/><rect x="16.5" y="12" width="1.5" height="1.5" fill="#c41c14"/><rect x="18" y="12" width="1.5" height="1.5" fill="#861414"/><rect x="19.5" y="12" width="1.5" height="1.5" fill="#c41c14"/><rect x="21" y="12" width="1.5" height="1.5" fill="#3ab030"/><rect x="22.5" y="12" width="1.5" height="1.5" fill="#c41c14"/><rect x="24" y="12" width="1.5" height="1.5" fill="#c41c14"/><rect x="25.5" y="12" width="1.5" height="1.5" fill="#c41c14"/><rect x="27" y="12" width="1.5" height="1.5" fill="#c41c14"/><rect x="28.5" y="12" width="1.5" height="1.5" fill="#c41c14"/><rect x="0" y="13.5" width="1.5" height="1.5" fill="#e07010"/><rect x="1.5" y="13.5" width="1.5" height="1.5" fill="#e07010"/><rect x="3" y="13.5" width="1.5" height="1.5" fill="#861414"/><rect x="4.5" y="13.5" width="1.5" height="1.5" fill="#e0c800"/><rect x="6" y="13.5" width="1.5" height="1.5" fill="#c41c14"/><rect x="9" y="13.5" width="1.5" height="1.5" fill="#d8603c"/><rect x="10.5" y="13.5" width="1.5" height="1.5" fill="#3ab030"/><rect x="12" y="13.5" width="1.5" height="1.5" fill="#e07010"/><rect x="13.5" y="13.5" width="1.5" height="1.5" fill="#e07010"/><rect x="15" y="13.5" width="1.5" height="1.5" fill="#e0c800"/><rect x="16.5" y="13.5" width="1.5" height="1.5" fill="#c41c14"/><rect x="18" y="13.5" width="1.5" height="1.5" fill="#861414"/><rect x="19.5" y="13.5" width="1.5" height="1.5" fill="#e07010"/><rect x="21" y="13.5" width="1.5" height="1.5" fill="#c41c14"/><rect x="22.5" y="13.5" width="1.5" height="1.5" fill="#c41c14"/><rect x="25.5" y="13.5" width="1.5" height="1.5" fill="#861414"/><rect x="27" y="13.5" width="1.5" height="1.5" fill="#e07010"/><rect x="28.5" y="13.5" width="1.5" height="1.5" fill="#2030a0"/><rect x="0" y="15" width="1.5" height="1.5" fill="#e0c800"/><rect x="1.5" y="15" width="1.5" height="1.5" fill="#861414"/><rect x="3" y="15" width="1.5" height="1.5" fill="#d8603c"/><rect x="4.5" y="15" width="1.5" height="1.5" fill="#861414"/><rect x="6" y="15" width="1.5" height="1.5" fill="#c41c14"/><rect x="7.5" y="15" width="1.5" height="1.5" fill="#3ab030"/><rect x="9" y="15" width="1.5" height="1.5" fill="#c41c14"/><rect x="10.5" y="15" width="1.5" height="1.5" fill="#861414"/><rect x="13.5" y="15" width="1.5" height="1.5" fill="#3ab030"/><rect x="15" y="15" width="1.5" height="1.5" fill="#c41c14"/><rect x="16.5" y="15" width="1.5" height="1.5" fill="#e07010"/><rect x="18" y="15" width="1.5" height="1.5" fill="#861414"/><rect x="19.5" y="15" width="1.5" height="1.5" fill="#e07010"/><rect x="21" y="15" width="1.5" height="1.5" fill="#c41c14"/><rect x="22.5" y="15" width="1.5" height="1.5" fill="#e0c800"/><rect x="24" y="15" width="1.5" height="1.5" fill="#c41c14"/><rect x="25.5" y="15" width="1.5" height="1.5" fill="#861414"/><rect x="27" y="15" width="1.5" height="1.5" fill="#861414"/><rect x="28.5" y="15" width="1.5" height="1.5" fill="#2030a0"/><rect x="0" y="16.5" width="1.5" height="1.5" fill="#c41c14"/><rect x="1.5" y="16.5" width="1.5" height="1.5" fill="#e0a0a0"/><rect x="3" y="16.5" width="1.5" height="1.5" fill="#c41c14"/><rect x="4.5" y="16.5" width="1.5" height="1.5" fill="#e0c800"/><rect x="6" y="16.5" width="1.5" height="1.5" fill="#861414"/><rect x="7.5" y="16.5" width="1.5" height="1.5" fill="#e07010"/><rect x="9" y="16.5" width="1.5" height="1.5" fill="#e0a0a0"/><rect x="10.5" y="16.5" width="1.5" height="1.5" fill="#861414"/><rect x="12" y="16.5" width="1.5" height="1.5" fill="#c41c14"/><rect x="13.5" y="16.5" width="1.5" height="1.5" fill="#c41c14"/><rect x="15" y="16.5" width="1.5" height="1.5" fill="#c41c14"/><rect x="18" y="16.5" width="1.5" height="1.5" fill="#e0c800"/><rect x="19.5" y="16.5" width="1.5" height="1.5" fill="#d8603c"/><rect x="21" y="16.5" width="1.5" height="1.5" fill="#3ab030"/><rect x="22.5" y="16.5" width="1.5" height="1.5" fill="#c41c14"/><rect x="24" y="16.5" width="1.5" height="1.5" fill="#3ab030"/><rect x="25.5" y="16.5" width="1.5" height="1.5" fill="#e0a0a0"/><rect x="27" y="16.5" width="1.5" height="1.5" fill="#3ab030"/><rect x="28.5" y="16.5" width="1.5" height="1.5" fill="#e07010"/><rect x="0" y="18" width="1.5" height="1.5" fill="#861414"/><rect x="1.5" y="18" width="1.5" height="1.5" fill="#e07010"/><rect x="4.5" y="18" width="1.5" height="1.5" fill="#c41c14"/><rect x="6" y="18" width="1.5" height="1.5" fill="#e07010"/><rect x="7.5" y="18" width="1.5" height="1.5" fill="#e07010"/><rect x="9" y="18" width="1.5" height="1.5" fill="#d8603c"/><rect x="12" y="18" width="1.5" height="1.5" fill="#2030a0"/><rect x="15" y="18" width="1.5" height="1.5" fill="#861414"/><rect x="16.5" y="18" width="1.5" height="1.5" fill="#c41c14"/><rect x="18" y="18" width="1.5" height="1.5" fill="#e07010"/><rect x="19.5" y="18" width="1.5" height="1.5" fill="#c41c14"/><rect x="21" y="18" width="1.5" height="1.5" fill="#e07010"/><rect x="22.5" y="18" width="1.5" height="1.5" fill="#3ab030"/><rect x="25.5" y="18" width="1.5" height="1.5" fill="#e0c800"/><rect x="28.5" y="18" width="1.5" height="1.5" fill="#c41c14"/><rect x="0" y="19.5" width="1.5" height="1.5" fill="#861414"/><rect x="1.5" y="19.5" width="1.5" height="1.5" fill="#d8603c"/><rect x="3" y="19.5" width="1.5" height="1.5" fill="#c41c14"/><rect x="4.5" y="19.5" width="1.5" height="1.5" fill="#861414"/><rect x="6" y="19.5" width="1.5" height="1.5" fill="#c41c14"/><rect x="7.5" y="19.5" width="1.5" height="1.5" fill="#c41c14"/><rect x="10.5" y="19.5" width="1.5" height="1.5" fill="#d8603c"/><rect x="12" y="19.5" width="1.5" height="1.5" fill="#e0c800"/><rect x="13.5" y="19.5" width="1.5" height="1.5" fill="#c41c14"/><rect x="15" y="19.5" width="1.5" height="1.5" fill="#861414"/><rect x="16.5" y="19.5" width="1.5" height="1.5" fill="#c41c14"/><rect x="18" y="19.5" width="1.5" height="1.5" fill="#3ab030"/><rect x="19.5" y="19.5" width="1.5" height="1.5" fill="#3ab030"/><rect x="21" y="19.5" width="1.5" height="1.5" fill="#e07010"/><rect x="22.5" y="19.5" width="1.5" height="1.5" fill="#e07010"/><rect x="24" y="19.5" width="1.5" height="1.5" fill="#c41c14"/><rect x="25.5" y="19.5" width="1.5" height="1.5" fill="#e07010"/><rect x="27" y="19.5" width="1.5" height="1.5" fill="#d8603c"/><rect x="28.5" y="19.5" width="1.5" height="1.5" fill="#e0a0a0"/><rect x="0" y="21" width="1.5" height="1.5" fill="#c41c14"/><rect x="1.5" y="21" width="1.5" height="1.5" fill="#e07010"/><rect x="3" y="21" width="1.5" height="1.5" fill="#3ab030"/><rect x="4.5" y="21" width="1.5" height="1.5" fill="#c41c14"/><rect x="7.5" y="21" width="1.5" height="1.5" fill="#e07010"/><rect x="9" y="21" width="1.5" height="1.5" fill="#3ab030"/><rect x="10.5" y="21" width="1.5" height="1.5" fill="#861414"/><rect x="12" y="21" width="1.5" height="1.5" fill="#d8603c"/><rect x="13.5" y="21" width="1.5" height="1.5" fill="#e0a0a0"/><rect x="15" y="21" width="1.5" height="1.5" fill="#e0c800"/><rect x="16.5" y="21" width="1.5" height="1.5" fill="#c41c14"/><rect x="18" y="21" width="1.5" height="1.5" fill="#e07010"/><rect x="19.5" y="21" width="1.5" height="1.5" fill="#c41c14"/><rect x="21" y="21" width="1.5" height="1.5" fill="#e0c800"/><rect x="24" y="21" width="1.5" height="1.5" fill="#c41c14"/><rect x="25.5" y="21" width="1.5" height="1.5" fill="#e07010"/><rect x="27" y="21" width="1.5" height="1.5" fill="#e07010"/><rect x="28.5" y="21" width="1.5" height="1.5" fill="#861414"/><rect x="0" y="22.5" width="1.5" height="1.5" fill="#3ab030"/><rect x="1.5" y="22.5" width="1.5" height="1.5" fill="#2030a0"/><rect x="3" y="22.5" width="1.5" height="1.5" fill="#3ab030"/><rect x="4.5" y="22.5" width="1.5" height="1.5" fill="#e07010"/><rect x="6" y="22.5" width="1.5" height="1.5" fill="#d8603c"/><rect x="7.5" y="22.5" width="1.5" height="1.5" fill="#861414"/><rect x="9" y="22.5" width="1.5" height="1.5" fill="#3ab030"/><rect x="10.5" y="22.5" width="1.5" height="1.5" fill="#3ab030"/><rect x="12" y="22.5" width="1.5" height="1.5" fill="#e0a0a0"/><rect x="15" y="22.5" width="1.5" height="1.5" fill="#c41c14"/><rect x="16.5" y="22.5" width="1.5" height="1.5" fill="#e0c800"/><rect x="18" y="22.5" width="1.5" height="1.5" fill="#861414"/><rect x="19.5" y="22.5" width="1.5" height="1.5" fill="#3ab030"/><rect x="21" y="22.5" width="1.5" height="1.5" fill="#d8603c"/><rect x="22.5" y="22.5" width="1.5" height="1.5" fill="#e0c800"/><rect x="24" y="22.5" width="1.5" height="1.5" fill="#c41c14"/><rect x="25.5" y="22.5" width="1.5" height="1.5" fill="#e07010"/><rect x="27" y="22.5" width="1.5" height="1.5" fill="#3ab030"/><rect x="0" y="24" width="1.5" height="1.5" fill="#3ab030"/><rect x="3" y="24" width="1.5" height="1.5" fill="#c41c14"/><rect x="4.5" y="24" width="1.5" height="1.5" fill="#d8603c"/><rect x="6" y="24" width="1.5" height="1.5" fill="#3ab030"/><rect x="7.5" y="24" width="1.5" height="1.5" fill="#e0c800"/><rect x="12" y="24" width="1.5" height="1.5" fill="#c41c14"/><rect x="15" y="24" width="1.5" height="1.5" fill="#e0a0a0"/><rect x="16.5" y="24" width="1.5" height="1.5" fill="#c41c14"/><rect x="18" y="24" width="1.5" height="1.5" fill="#3ab030"/><rect x="19.5" y="24" width="1.5" height="1.5" fill="#e0c800"/><rect x="21" y="24" width="1.5" height="1.5" fill="#c41c14"/><rect x="24" y="24" width="1.5" height="1.5" fill="#c41c14"/><rect x="25.5" y="24" width="1.5" height="1.5" fill="#e0c800"/><rect x="27" y="24" width="1.5" height="1.5" fill="#e07010"/><rect x="28.5" y="24" width="1.5" height="1.5" fill="#c41c14"/><rect x="0" y="25.5" width="1.5" height="1.5" fill="#e0c800"/><rect x="1.5" y="25.5" width="1.5" height="1.5" fill="#e07010"/><rect x="3" y="25.5" width="1.5" height="1.5" fill="#c41c14"/><rect x="4.5" y="25.5" width="1.5" height="1.5" fill="#d8603c"/><rect x="6" y="25.5" width="1.5" height="1.5" fill="#c41c14"/><rect x="7.5" y="25.5" width="1.5" height="1.5" fill="#c41c14"/><rect x="9" y="25.5" width="1.5" height="1.5" fill="#e07010"/><rect x="12" y="25.5" width="1.5" height="1.5" fill="#3ab030"/><rect x="13.5" y="25.5" width="1.5" height="1.5" fill="#e0a0a0"/><rect x="15" y="25.5" width="1.5" height="1.5" fill="#e07010"/><rect x="16.5" y="25.5" width="1.5" height="1.5" fill="#3ab030"/><rect x="18" y="25.5" width="1.5" height="1.5" fill="#861414"/><rect x="19.5" y="25.5" width="1.5" height="1.5" fill="#c41c14"/><rect x="21" y="25.5" width="1.5" height="1.5" fill="#e07010"/><rect x="22.5" y="25.5" width="1.5" height="1.5" fill="#c41c14"/><rect x="24" y="25.5" width="1.5" height="1.5" fill="#c41c14"/><rect x="25.5" y="25.5" width="1.5" height="1.5" fill="#e0a0a0"/><rect x="27" y="25.5" width="1.5" height="1.5" fill="#c41c14"/><rect x="28.5" y="25.5" width="1.5" height="1.5" fill="#e0a0a0"/></pattern><pattern id="hW" patternUnits="userSpaceOnUse" width="30" height="27"><rect x="0" y="0" width="1.5" height="1.5" fill="#e07010"/><rect x="1.5" y="0" width="1.5" height="1.5" fill="#3ab030"/><rect x="3" y="0" width="1.5" height="1.5" fill="#e0d000"/><rect x="4.5" y="0" width="1.5" height="1.5" fill="#3ab030"/><rect x="6" y="0" width="1.5" height="1.5" fill="#3ab030"/><rect x="7.5" y="0" width="1.5" height="1.5" fill="#c41c14"/><rect x="9" y="0" width="1.5" height="1.5" fill="#c41c14"/><rect x="12" y="0" width="1.5" height="1.5" fill="#e07010"/><rect x="13.5" y="0" width="1.5" height="1.5" fill="#e07010"/><rect x="15" y="0" width="1.5" height="1.5" fill="#861414"/><rect x="16.5" y="0" width="1.5" height="1.5" fill="#3ab030"/><rect x="19.5" y="0" width="1.5" height="1.5" fill="#3ab030"/><rect x="22.5" y="0" width="1.5" height="1.5" fill="#c41c14"/><rect x="25.5" y="0" width="1.5" height="1.5" fill="#0e8060"/><rect x="27" y="0" width="1.5" height="1.5" fill="#3ab030"/><rect x="1.5" y="1.5" width="1.5" height="1.5" fill="#c41c14"/><rect x="4.5" y="1.5" width="1.5" height="1.5" fill="#3ab030"/><rect x="6" y="1.5" width="1.5" height="1.5" fill="#e0d000"/><rect x="7.5" y="1.5" width="1.5" height="1.5" fill="#c41c14"/><rect x="9" y="1.5" width="1.5" height="1.5" fill="#0e8060"/><rect x="10.5" y="1.5" width="1.5" height="1.5" fill="#3ab030"/><rect x="13.5" y="1.5" width="1.5" height="1.5" fill="#0e8060"/><rect x="16.5" y="1.5" width="1.5" height="1.5" fill="#0e8060"/><rect x="18" y="1.5" width="1.5" height="1.5" fill="#e0d000"/><rect x="21" y="1.5" width="1.5" height="1.5" fill="#3ab030"/><rect x="22.5" y="1.5" width="1.5" height="1.5" fill="#2030a0"/><rect x="24" y="1.5" width="1.5" height="1.5" fill="#0e8060"/><rect x="25.5" y="1.5" width="1.5" height="1.5" fill="#c41c14"/><rect x="27" y="1.5" width="1.5" height="1.5" fill="#c41c14"/><rect x="28.5" y="1.5" width="1.5" height="1.5" fill="#e07010"/><rect x="0" y="3" width="1.5" height="1.5" fill="#2030a0"/><rect x="1.5" y="3" width="1.5" height="1.5" fill="#3ab030"/><rect x="3" y="3" width="1.5" height="1.5" fill="#3ab030"/><rect x="4.5" y="3" width="1.5" height="1.5" fill="#e0d000"/><rect x="6" y="3" width="1.5" height="1.5" fill="#3ab030"/><rect x="7.5" y="3" width="1.5" height="1.5" fill="#e0d000"/><rect x="9" y="3" width="1.5" height="1.5" fill="#e0d000"/><rect x="10.5" y="3" width="1.5" height="1.5" fill="#3ab030"/><rect x="12" y="3" width="1.5" height="1.5" fill="#3ab030"/><rect x="13.5" y="3" width="1.5" height="1.5" fill="#0e8060"/><rect x="16.5" y="3" width="1.5" height="1.5" fill="#0e8060"/><rect x="18" y="3" width="1.5" height="1.5" fill="#0e8060"/><rect x="19.5" y="3" width="1.5" height="1.5" fill="#861414"/><rect x="22.5" y="3" width="1.5" height="1.5" fill="#e07010"/><rect x="24" y="3" width="1.5" height="1.5" fill="#0e8060"/><rect x="25.5" y="3" width="1.5" height="1.5" fill="#2030a0"/><rect x="27" y="3" width="1.5" height="1.5" fill="#0e8060"/><rect x="28.5" y="3" width="1.5" height="1.5" fill="#3ab030"/><rect x="1.5" y="4.5" width="1.5" height="1.5" fill="#e07010"/><rect x="4.5" y="4.5" width="1.5" height="1.5" fill="#3ab030"/><rect x="6" y="4.5" width="1.5" height="1.5" fill="#e0d000"/><rect x="7.5" y="4.5" width="1.5" height="1.5" fill="#c41c14"/><rect x="9" y="4.5" width="1.5" height="1.5" fill="#0e8060"/><rect x="10.5" y="4.5" width="1.5" height="1.5" fill="#861414"/><rect x="12" y="4.5" width="1.5" height="1.5" fill="#c41c14"/><rect x="15" y="4.5" width="1.5" height="1.5" fill="#e0d000"/><rect x="16.5" y="4.5" width="1.5" height="1.5" fill="#c41c14"/><rect x="18" y="4.5" width="1.5" height="1.5" fill="#e0d000"/><rect x="21" y="4.5" width="1.5" height="1.5" fill="#0e8060"/><rect x="22.5" y="4.5" width="1.5" height="1.5" fill="#c41c14"/><rect x="24" y="4.5" width="1.5" height="1.5" fill="#3ab030"/><rect x="25.5" y="4.5" width="1.5" height="1.5" fill="#c41c14"/><rect x="28.5" y="4.5" width="1.5" height="1.5" fill="#e0d000"/><rect x="0" y="6" width="1.5" height="1.5" fill="#0e8060"/><rect x="1.5" y="6" width="1.5" height="1.5" fill="#861414"/><rect x="3" y="6" width="1.5" height="1.5" fill="#3ab030"/><rect x="4.5" y="6" width="1.5" height="1.5" fill="#861414"/><rect x="6" y="6" width="1.5" height="1.5" fill="#e0d000"/><rect x="7.5" y="6" width="1.5" height="1.5" fill="#c41c14"/><rect x="9" y="6" width="1.5" height="1.5" fill="#3ab030"/><rect x="10.5" y="6" width="1.5" height="1.5" fill="#c41c14"/><rect x="12" y="6" width="1.5" height="1.5" fill="#e07010"/><rect x="13.5" y="6" width="1.5" height="1.5" fill="#e0d000"/><rect x="15" y="6" width="1.5" height="1.5" fill="#3ab030"/><rect x="16.5" y="6" width="1.5" height="1.5" fill="#c41c14"/><rect x="18" y="6" width="1.5" height="1.5" fill="#c41c14"/><rect x="19.5" y="6" width="1.5" height="1.5" fill="#0e8060"/><rect x="21" y="6" width="1.5" height="1.5" fill="#e0d000"/><rect x="22.5" y="6" width="1.5" height="1.5" fill="#2030a0"/><rect x="24" y="6" width="1.5" height="1.5" fill="#0e8060"/><rect x="25.5" y="6" width="1.5" height="1.5" fill="#e0d000"/><rect x="27" y="6" width="1.5" height="1.5" fill="#3ab030"/><rect x="28.5" y="6" width="1.5" height="1.5" fill="#3ab030"/><rect x="1.5" y="7.5" width="1.5" height="1.5" fill="#3ab030"/><rect x="3" y="7.5" width="1.5" height="1.5" fill="#3ab030"/><rect x="4.5" y="7.5" width="1.5" height="1.5" fill="#3ab030"/><rect x="6" y="7.5" width="1.5" height="1.5" fill="#2030a0"/><rect x="7.5" y="7.5" width="1.5" height="1.5" fill="#3ab030"/><rect x="9" y="7.5" width="1.5" height="1.5" fill="#3ab030"/><rect x="12" y="7.5" width="1.5" height="1.5" fill="#e07010"/><rect x="13.5" y="7.5" width="1.5" height="1.5" fill="#e0d000"/><rect x="15" y="7.5" width="1.5" height="1.5" fill="#861414"/><rect x="16.5" y="7.5" width="1.5" height="1.5" fill="#3ab030"/><rect x="18" y="7.5" width="1.5" height="1.5" fill="#3ab030"/><rect x="19.5" y="7.5" width="1.5" height="1.5" fill="#c41c14"/><rect x="21" y="7.5" width="1.5" height="1.5" fill="#e0d000"/><rect x="22.5" y="7.5" width="1.5" height="1.5" fill="#3ab030"/><rect x="24" y="7.5" width="1.5" height="1.5" fill="#c41c14"/><rect x="25.5" y="7.5" width="1.5" height="1.5" fill="#3ab030"/><rect x="28.5" y="7.5" width="1.5" height="1.5" fill="#c41c14"/><rect x="0" y="9" width="1.5" height="1.5" fill="#3ab030"/><rect x="1.5" y="9" width="1.5" height="1.5" fill="#3ab030"/><rect x="4.5" y="9" width="1.5" height="1.5" fill="#e0d000"/><rect x="9" y="9" width="1.5" height="1.5" fill="#c41c14"/><rect x="10.5" y="9" width="1.5" height="1.5" fill="#c41c14"/><rect x="13.5" y="9" width="1.5" height="1.5" fill="#2030a0"/><rect x="15" y="9" width="1.5" height="1.5" fill="#e07010"/><rect x="16.5" y="9" width="1.5" height="1.5" fill="#3ab030"/><rect x="18" y="9" width="1.5" height="1.5" fill="#3ab030"/><rect x="19.5" y="9" width="1.5" height="1.5" fill="#e0d000"/><rect x="21" y="9" width="1.5" height="1.5" fill="#e0d000"/><rect x="22.5" y="9" width="1.5" height="1.5" fill="#e0d000"/><rect x="24" y="9" width="1.5" height="1.5" fill="#e0d000"/><rect x="25.5" y="9" width="1.5" height="1.5" fill="#3ab030"/><rect x="27" y="9" width="1.5" height="1.5" fill="#e0d000"/><rect x="28.5" y="9" width="1.5" height="1.5" fill="#e0d000"/><rect x="1.5" y="10.5" width="1.5" height="1.5" fill="#c41c14"/><rect x="3" y="10.5" width="1.5" height="1.5" fill="#3ab030"/><rect x="6" y="10.5" width="1.5" height="1.5" fill="#e0d000"/><rect x="7.5" y="10.5" width="1.5" height="1.5" fill="#e07010"/><rect x="10.5" y="10.5" width="1.5" height="1.5" fill="#e07010"/><rect x="12" y="10.5" width="1.5" height="1.5" fill="#e07010"/><rect x="13.5" y="10.5" width="1.5" height="1.5" fill="#3ab030"/><rect x="16.5" y="10.5" width="1.5" height="1.5" fill="#c41c14"/><rect x="18" y="10.5" width="1.5" height="1.5" fill="#e0d000"/><rect x="19.5" y="10.5" width="1.5" height="1.5" fill="#e0d000"/><rect x="22.5" y="10.5" width="1.5" height="1.5" fill="#3ab030"/><rect x="24" y="10.5" width="1.5" height="1.5" fill="#0e8060"/><rect x="25.5" y="10.5" width="1.5" height="1.5" fill="#e07010"/><rect x="27" y="10.5" width="1.5" height="1.5" fill="#e0d000"/><rect x="0" y="12" width="1.5" height="1.5" fill="#0e8060"/><rect x="1.5" y="12" width="1.5" height="1.5" fill="#3ab030"/><rect x="3" y="12" width="1.5" height="1.5" fill="#e07010"/><rect x="4.5" y="12" width="1.5" height="1.5" fill="#c41c14"/><rect x="6" y="12" width="1.5" height="1.5" fill="#3ab030"/><rect x="7.5" y="12" width="1.5" height="1.5" fill="#e07010"/><rect x="12" y="12" width="1.5" height="1.5" fill="#e07010"/><rect x="13.5" y="12" width="1.5" height="1.5" fill="#e07010"/><rect x="19.5" y="12" width="1.5" height="1.5" fill="#e0d000"/><rect x="21" y="12" width="1.5" height="1.5" fill="#c41c14"/><rect x="22.5" y="12" width="1.5" height="1.5" fill="#e0d000"/><rect x="25.5" y="12" width="1.5" height="1.5" fill="#e07010"/><rect x="27" y="12" width="1.5" height="1.5" fill="#e0d000"/><rect x="28.5" y="12" width="1.5" height="1.5" fill="#e0d000"/><rect x="0" y="13.5" width="1.5" height="1.5" fill="#e0d000"/><rect x="1.5" y="13.5" width="1.5" height="1.5" fill="#e0d000"/><rect x="3" y="13.5" width="1.5" height="1.5" fill="#0e8060"/><rect x="4.5" y="13.5" width="1.5" height="1.5" fill="#c41c14"/><rect x="6" y="13.5" width="1.5" height="1.5" fill="#c41c14"/><rect x="7.5" y="13.5" width="1.5" height="1.5" fill="#2030a0"/><rect x="9" y="13.5" width="1.5" height="1.5" fill="#0e8060"/><rect x="10.5" y="13.5" width="1.5" height="1.5" fill="#861414"/><rect x="12" y="13.5" width="1.5" height="1.5" fill="#3ab030"/><rect x="13.5" y="13.5" width="1.5" height="1.5" fill="#2030a0"/><rect x="15" y="13.5" width="1.5" height="1.5" fill="#0e8060"/><rect x="16.5" y="13.5" width="1.5" height="1.5" fill="#e07010"/><rect x="22.5" y="13.5" width="1.5" height="1.5" fill="#3ab030"/><rect x="24" y="13.5" width="1.5" height="1.5" fill="#e0d000"/><rect x="25.5" y="13.5" width="1.5" height="1.5" fill="#e0d000"/><rect x="27" y="13.5" width="1.5" height="1.5" fill="#e07010"/><rect x="28.5" y="13.5" width="1.5" height="1.5" fill="#c41c14"/><rect x="0" y="15" width="1.5" height="1.5" fill="#3ab030"/><rect x="1.5" y="15" width="1.5" height="1.5" fill="#e0d000"/><rect x="4.5" y="15" width="1.5" height="1.5" fill="#c41c14"/><rect x="6" y="15" width="1.5" height="1.5" fill="#0e8060"/><rect x="9" y="15" width="1.5" height="1.5" fill="#0e8060"/><rect x="10.5" y="15" width="1.5" height="1.5" fill="#0e8060"/><rect x="12" y="15" width="1.5" height="1.5" fill="#0e8060"/><rect x="13.5" y="15" width="1.5" height="1.5" fill="#3ab030"/><rect x="15" y="15" width="1.5" height="1.5" fill="#c41c14"/><rect x="18" y="15" width="1.5" height="1.5" fill="#e07010"/><rect x="19.5" y="15" width="1.5" height="1.5" fill="#e0d000"/><rect x="22.5" y="15" width="1.5" height="1.5" fill="#3ab030"/><rect x="24" y="15" width="1.5" height="1.5" fill="#e0d000"/><rect x="25.5" y="15" width="1.5" height="1.5" fill="#2030a0"/><rect x="27" y="15" width="1.5" height="1.5" fill="#3ab030"/><rect x="28.5" y="15" width="1.5" height="1.5" fill="#e0d000"/><rect x="0" y="16.5" width="1.5" height="1.5" fill="#e07010"/><rect x="1.5" y="16.5" width="1.5" height="1.5" fill="#0e8060"/><rect x="3" y="16.5" width="1.5" height="1.5" fill="#3ab030"/><rect x="6" y="16.5" width="1.5" height="1.5" fill="#e0d000"/><rect x="7.5" y="16.5" width="1.5" height="1.5" fill="#e07010"/><rect x="9" y="16.5" width="1.5" height="1.5" fill="#3ab030"/><rect x="12" y="16.5" width="1.5" height="1.5" fill="#e07010"/><rect x="15" y="16.5" width="1.5" height="1.5" fill="#0e8060"/><rect x="19.5" y="16.5" width="1.5" height="1.5" fill="#c41c14"/><rect x="21" y="16.5" width="1.5" height="1.5" fill="#3ab030"/><rect x="22.5" y="16.5" width="1.5" height="1.5" fill="#0e8060"/><rect x="24" y="16.5" width="1.5" height="1.5" fill="#c41c14"/><rect x="25.5" y="16.5" width="1.5" height="1.5" fill="#e07010"/><rect x="27" y="16.5" width="1.5" height="1.5" fill="#e07010"/><rect x="28.5" y="16.5" width="1.5" height="1.5" fill="#3ab030"/><rect x="0" y="18" width="1.5" height="1.5" fill="#e0d000"/><rect x="1.5" y="18" width="1.5" height="1.5" fill="#3ab030"/><rect x="4.5" y="18" width="1.5" height="1.5" fill="#c41c14"/><rect x="6" y="18" width="1.5" height="1.5" fill="#c41c14"/><rect x="7.5" y="18" width="1.5" height="1.5" fill="#c41c14"/><rect x="9" y="18" width="1.5" height="1.5" fill="#c41c14"/><rect x="10.5" y="18" width="1.5" height="1.5" fill="#c41c14"/><rect x="12" y="18" width="1.5" height="1.5" fill="#861414"/><rect x="13.5" y="18" width="1.5" height="1.5" fill="#0e8060"/><rect x="15" y="18" width="1.5" height="1.5" fill="#c41c14"/><rect x="16.5" y="18" width="1.5" height="1.5" fill="#3ab030"/><rect x="18" y="18" width="1.5" height="1.5" fill="#e0d000"/><rect x="19.5" y="18" width="1.5" height="1.5" fill="#e0d000"/><rect x="21" y="18" width="1.5" height="1.5" fill="#e0d000"/><rect x="24" y="18" width="1.5" height="1.5" fill="#3ab030"/><rect x="25.5" y="18" width="1.5" height="1.5" fill="#e0d000"/><rect x="27" y="18" width="1.5" height="1.5" fill="#e07010"/><rect x="28.5" y="18" width="1.5" height="1.5" fill="#e0d000"/><rect x="0" y="19.5" width="1.5" height="1.5" fill="#c41c14"/><rect x="1.5" y="19.5" width="1.5" height="1.5" fill="#3ab030"/><rect x="4.5" y="19.5" width="1.5" height="1.5" fill="#e0d000"/><rect x="6" y="19.5" width="1.5" height="1.5" fill="#c41c14"/><rect x="7.5" y="19.5" width="1.5" height="1.5" fill="#e07010"/><rect x="9" y="19.5" width="1.5" height="1.5" fill="#e0d000"/><rect x="10.5" y="19.5" width="1.5" height="1.5" fill="#3ab030"/><rect x="13.5" y="19.5" width="1.5" height="1.5" fill="#e0d000"/><rect x="16.5" y="19.5" width="1.5" height="1.5" fill="#3ab030"/><rect x="18" y="19.5" width="1.5" height="1.5" fill="#3ab030"/><rect x="19.5" y="19.5" width="1.5" height="1.5" fill="#e0d000"/><rect x="21" y="19.5" width="1.5" height="1.5" fill="#3ab030"/><rect x="24" y="19.5" width="1.5" height="1.5" fill="#e0d000"/><rect x="27" y="19.5" width="1.5" height="1.5" fill="#3ab030"/><rect x="28.5" y="19.5" width="1.5" height="1.5" fill="#e07010"/><rect x="0" y="21" width="1.5" height="1.5" fill="#3ab030"/><rect x="3" y="21" width="1.5" height="1.5" fill="#c41c14"/><rect x="4.5" y="21" width="1.5" height="1.5" fill="#e0d000"/><rect x="6" y="21" width="1.5" height="1.5" fill="#e0d000"/><rect x="7.5" y="21" width="1.5" height="1.5" fill="#0e8060"/><rect x="9" y="21" width="1.5" height="1.5" fill="#2030a0"/><rect x="10.5" y="21" width="1.5" height="1.5" fill="#e0d000"/><rect x="12" y="21" width="1.5" height="1.5" fill="#0e8060"/><rect x="15" y="21" width="1.5" height="1.5" fill="#e07010"/><rect x="16.5" y="21" width="1.5" height="1.5" fill="#3ab030"/><rect x="18" y="21" width="1.5" height="1.5" fill="#c41c14"/><rect x="22.5" y="21" width="1.5" height="1.5" fill="#0e8060"/><rect x="28.5" y="21" width="1.5" height="1.5" fill="#3ab030"/><rect x="0" y="22.5" width="1.5" height="1.5" fill="#c41c14"/><rect x="1.5" y="22.5" width="1.5" height="1.5" fill="#3ab030"/><rect x="3" y="22.5" width="1.5" height="1.5" fill="#c41c14"/><rect x="4.5" y="22.5" width="1.5" height="1.5" fill="#c41c14"/><rect x="7.5" y="22.5" width="1.5" height="1.5" fill="#c41c14"/><rect x="9" y="22.5" width="1.5" height="1.5" fill="#c41c14"/><rect x="10.5" y="22.5" width="1.5" height="1.5" fill="#c41c14"/><rect x="12" y="22.5" width="1.5" height="1.5" fill="#0e8060"/><rect x="13.5" y="22.5" width="1.5" height="1.5" fill="#e07010"/><rect x="15" y="22.5" width="1.5" height="1.5" fill="#c41c14"/><rect x="18" y="22.5" width="1.5" height="1.5" fill="#c41c14"/><rect x="24" y="22.5" width="1.5" height="1.5" fill="#2030a0"/><rect x="25.5" y="22.5" width="1.5" height="1.5" fill="#3ab030"/><rect x="28.5" y="22.5" width="1.5" height="1.5" fill="#c41c14"/><rect x="1.5" y="24" width="1.5" height="1.5" fill="#3ab030"/><rect x="4.5" y="24" width="1.5" height="1.5" fill="#c41c14"/><rect x="7.5" y="24" width="1.5" height="1.5" fill="#2030a0"/><rect x="9" y="24" width="1.5" height="1.5" fill="#c41c14"/><rect x="10.5" y="24" width="1.5" height="1.5" fill="#e0d000"/><rect x="12" y="24" width="1.5" height="1.5" fill="#3ab030"/><rect x="15" y="24" width="1.5" height="1.5" fill="#e07010"/><rect x="16.5" y="24" width="1.5" height="1.5" fill="#e07010"/><rect x="18" y="24" width="1.5" height="1.5" fill="#e07010"/><rect x="19.5" y="24" width="1.5" height="1.5" fill="#3ab030"/><rect x="22.5" y="24" width="1.5" height="1.5" fill="#e0d000"/><rect x="24" y="24" width="1.5" height="1.5" fill="#e0d000"/><rect x="25.5" y="24" width="1.5" height="1.5" fill="#e0d000"/><rect x="27" y="24" width="1.5" height="1.5" fill="#e0d000"/><rect x="28.5" y="24" width="1.5" height="1.5" fill="#e0d000"/><rect x="0" y="25.5" width="1.5" height="1.5" fill="#c41c14"/><rect x="1.5" y="25.5" width="1.5" height="1.5" fill="#3ab030"/><rect x="3" y="25.5" width="1.5" height="1.5" fill="#861414"/><rect x="4.5" y="25.5" width="1.5" height="1.5" fill="#e0d000"/><rect x="7.5" y="25.5" width="1.5" height="1.5" fill="#e07010"/><rect x="13.5" y="25.5" width="1.5" height="1.5" fill="#3ab030"/><rect x="15" y="25.5" width="1.5" height="1.5" fill="#3ab030"/><rect x="18" y="25.5" width="1.5" height="1.5" fill="#0e8060"/><rect x="19.5" y="25.5" width="1.5" height="1.5" fill="#c41c14"/><rect x="21" y="25.5" width="1.5" height="1.5" fill="#c41c14"/><rect x="24" y="25.5" width="1.5" height="1.5" fill="#0e8060"/><rect x="25.5" y="25.5" width="1.5" height="1.5" fill="#3ab030"/><rect x="27" y="25.5" width="1.5" height="1.5" fill="#3ab030"/></pattern><pattern id="hW2" patternUnits="userSpaceOnUse" width="30" height="27"><rect x="0" y="0" width="1.5" height="1.5" fill="#861414"/><rect x="1.5" y="0" width="1.5" height="1.5" fill="#c41c14"/><rect x="3" y="0" width="1.5" height="1.5" fill="#e07010"/><rect x="4.5" y="0" width="1.5" height="1.5" fill="#c41c14"/><rect x="6" y="0" width="1.5" height="1.5" fill="#c41c14"/><rect x="7.5" y="0" width="1.5" height="1.5" fill="#e07010"/><rect x="13.5" y="0" width="1.5" height="1.5" fill="#861414"/><rect x="15" y="0" width="1.5" height="1.5" fill="#e0d000"/><rect x="16.5" y="0" width="1.5" height="1.5" fill="#861414"/><rect x="18" y="0" width="1.5" height="1.5" fill="#c41c14"/><rect x="19.5" y="0" width="1.5" height="1.5" fill="#c41c14"/><rect x="21" y="0" width="1.5" height="1.5" fill="#c41c14"/><rect x="22.5" y="0" width="1.5" height="1.5" fill="#2030a0"/><rect x="28.5" y="0" width="1.5" height="1.5" fill="#c41c14"/><rect x="0" y="1.5" width="1.5" height="1.5" fill="#861414"/><rect x="1.5" y="1.5" width="1.5" height="1.5" fill="#3ab030"/><rect x="3" y="1.5" width="1.5" height="1.5" fill="#3ab030"/><rect x="7.5" y="1.5" width="1.5" height="1.5" fill="#c41c14"/><rect x="9" y="1.5" width="1.5" height="1.5" fill="#3ab030"/><rect x="10.5" y="1.5" width="1.5" height="1.5" fill="#3ab030"/><rect x="12" y="1.5" width="1.5" height="1.5" fill="#e0d000"/><rect x="13.5" y="1.5" width="1.5" height="1.5" fill="#c41c14"/><rect x="15" y="1.5" width="1.5" height="1.5" fill="#e0d000"/><rect x="16.5" y="1.5" width="1.5" height="1.5" fill="#c41c14"/><rect x="18" y="1.5" width="1.5" height="1.5" fill="#2030a0"/><rect x="21" y="1.5" width="1.5" height="1.5" fill="#e0d000"/><rect x="22.5" y="1.5" width="1.5" height="1.5" fill="#861414"/><rect x="25.5" y="1.5" width="1.5" height="1.5" fill="#e0d000"/><rect x="0" y="3" width="1.5" height="1.5" fill="#e0d000"/><rect x="1.5" y="3" width="1.5" height="1.5" fill="#e07010"/><rect x="3" y="3" width="1.5" height="1.5" fill="#e0d000"/><rect x="4.5" y="3" width="1.5" height="1.5" fill="#e07010"/><rect x="6" y="3" width="1.5" height="1.5" fill="#c41c14"/><rect x="7.5" y="3" width="1.5" height="1.5" fill="#861414"/><rect x="10.5" y="3" width="1.5" height="1.5" fill="#c41c14"/><rect x="12" y="3" width="1.5" height="1.5" fill="#c41c14"/><rect x="13.5" y="3" width="1.5" height="1.5" fill="#3ab030"/><rect x="15" y="3" width="1.5" height="1.5" fill="#861414"/><rect x="16.5" y="3" width="1.5" height="1.5" fill="#e0d000"/><rect x="18" y="3" width="1.5" height="1.5" fill="#e0d000"/><rect x="19.5" y="3" width="1.5" height="1.5" fill="#e07010"/><rect x="21" y="3" width="1.5" height="1.5" fill="#0e8060"/><rect x="22.5" y="3" width="1.5" height="1.5" fill="#c41c14"/><rect x="24" y="3" width="1.5" height="1.5" fill="#e07010"/><rect x="25.5" y="3" width="1.5" height="1.5" fill="#c41c14"/><rect x="27" y="3" width="1.5" height="1.5" fill="#3ab030"/><rect x="28.5" y="3" width="1.5" height="1.5" fill="#861414"/><rect x="0" y="4.5" width="1.5" height="1.5" fill="#e07010"/><rect x="3" y="4.5" width="1.5" height="1.5" fill="#e07010"/><rect x="4.5" y="4.5" width="1.5" height="1.5" fill="#e0d000"/><rect x="7.5" y="4.5" width="1.5" height="1.5" fill="#c41c14"/><rect x="9" y="4.5" width="1.5" height="1.5" fill="#c41c14"/><rect x="10.5" y="4.5" width="1.5" height="1.5" fill="#861414"/><rect x="13.5" y="4.5" width="1.5" height="1.5" fill="#3ab030"/><rect x="15" y="4.5" width="1.5" height="1.5" fill="#861414"/><rect x="16.5" y="4.5" width="1.5" height="1.5" fill="#e07010"/><rect x="18" y="4.5" width="1.5" height="1.5" fill="#c41c14"/><rect x="19.5" y="4.5" width="1.5" height="1.5" fill="#e07010"/><rect x="21" y="4.5" width="1.5" height="1.5" fill="#c41c14"/><rect x="22.5" y="4.5" width="1.5" height="1.5" fill="#3ab030"/><rect x="25.5" y="4.5" width="1.5" height="1.5" fill="#2030a0"/><rect x="27" y="4.5" width="1.5" height="1.5" fill="#3ab030"/><rect x="28.5" y="4.5" width="1.5" height="1.5" fill="#2030a0"/><rect x="0" y="6" width="1.5" height="1.5" fill="#c41c14"/><rect x="1.5" y="6" width="1.5" height="1.5" fill="#861414"/><rect x="3" y="6" width="1.5" height="1.5" fill="#2030a0"/><rect x="6" y="6" width="1.5" height="1.5" fill="#e07010"/><rect x="7.5" y="6" width="1.5" height="1.5" fill="#2030a0"/><rect x="9" y="6" width="1.5" height="1.5" fill="#3ab030"/><rect x="12" y="6" width="1.5" height="1.5" fill="#861414"/><rect x="13.5" y="6" width="1.5" height="1.5" fill="#c41c14"/><rect x="15" y="6" width="1.5" height="1.5" fill="#e07010"/><rect x="16.5" y="6" width="1.5" height="1.5" fill="#c41c14"/><rect x="18" y="6" width="1.5" height="1.5" fill="#e07010"/><rect x="19.5" y="6" width="1.5" height="1.5" fill="#2030a0"/><rect x="21" y="6" width="1.5" height="1.5" fill="#e07010"/><rect x="22.5" y="6" width="1.5" height="1.5" fill="#c41c14"/><rect x="24" y="6" width="1.5" height="1.5" fill="#c41c14"/><rect x="25.5" y="6" width="1.5" height="1.5" fill="#c41c14"/><rect x="28.5" y="6" width="1.5" height="1.5" fill="#e07010"/><rect x="0" y="7.5" width="1.5" height="1.5" fill="#861414"/><rect x="1.5" y="7.5" width="1.5" height="1.5" fill="#c41c14"/><rect x="3" y="7.5" width="1.5" height="1.5" fill="#0e8060"/><rect x="4.5" y="7.5" width="1.5" height="1.5" fill="#e07010"/><rect x="6" y="7.5" width="1.5" height="1.5" fill="#c41c14"/><rect x="7.5" y="7.5" width="1.5" height="1.5" fill="#c41c14"/><rect x="9" y="7.5" width="1.5" height="1.5" fill="#c41c14"/><rect x="10.5" y="7.5" width="1.5" height="1.5" fill="#c41c14"/><rect x="12" y="7.5" width="1.5" height="1.5" fill="#3ab030"/><rect x="13.5" y="7.5" width="1.5" height="1.5" fill="#c41c14"/><rect x="15" y="7.5" width="1.5" height="1.5" fill="#c41c14"/><rect x="16.5" y="7.5" width="1.5" height="1.5" fill="#e0d000"/><rect x="18" y="7.5" width="1.5" height="1.5" fill="#861414"/><rect x="19.5" y="7.5" width="1.5" height="1.5" fill="#0e8060"/><rect x="21" y="7.5" width="1.5" height="1.5" fill="#c41c14"/><rect x="22.5" y="7.5" width="1.5" height="1.5" fill="#e0d000"/><rect x="25.5" y="7.5" width="1.5" height="1.5" fill="#e07010"/><rect x="27" y="7.5" width="1.5" height="1.5" fill="#0e8060"/><rect x="28.5" y="7.5" width="1.5" height="1.5" fill="#e0d000"/><rect x="0" y="9" width="1.5" height="1.5" fill="#861414"/><rect x="1.5" y="9" width="1.5" height="1.5" fill="#e07010"/><rect x="3" y="9" width="1.5" height="1.5" fill="#c41c14"/><rect x="4.5" y="9" width="1.5" height="1.5" fill="#e07010"/><rect x="6" y="9" width="1.5" height="1.5" fill="#861414"/><rect x="10.5" y="9" width="1.5" height="1.5" fill="#e0d000"/><rect x="12" y="9" width="1.5" height="1.5" fill="#c41c14"/><rect x="13.5" y="9" width="1.5" height="1.5" fill="#861414"/><rect x="15" y="9" width="1.5" height="1.5" fill="#861414"/><rect x="16.5" y="9" width="1.5" height="1.5" fill="#c41c14"/><rect x="18" y="9" width="1.5" height="1.5" fill="#861414"/><rect x="21" y="9" width="1.5" height="1.5" fill="#c41c14"/><rect x="22.5" y="9" width="1.5" height="1.5" fill="#c41c14"/><rect x="24" y="9" width="1.5" height="1.5" fill="#2030a0"/><rect x="25.5" y="9" width="1.5" height="1.5" fill="#e0d000"/><rect x="27" y="9" width="1.5" height="1.5" fill="#0e8060"/><rect x="28.5" y="9" width="1.5" height="1.5" fill="#e07010"/><rect x="1.5" y="10.5" width="1.5" height="1.5" fill="#3ab030"/><rect x="6" y="10.5" width="1.5" height="1.5" fill="#e0d000"/><rect x="7.5" y="10.5" width="1.5" height="1.5" fill="#c41c14"/><rect x="9" y="10.5" width="1.5" height="1.5" fill="#c41c14"/><rect x="13.5" y="10.5" width="1.5" height="1.5" fill="#2030a0"/><rect x="15" y="10.5" width="1.5" height="1.5" fill="#e07010"/><rect x="16.5" y="10.5" width="1.5" height="1.5" fill="#3ab030"/><rect x="19.5" y="10.5" width="1.5" height="1.5" fill="#3ab030"/><rect x="22.5" y="10.5" width="1.5" height="1.5" fill="#e0d000"/><rect x="24" y="10.5" width="1.5" height="1.5" fill="#3ab030"/><rect x="25.5" y="10.5" width="1.5" height="1.5" fill="#3ab030"/><rect x="27" y="10.5" width="1.5" height="1.5" fill="#861414"/><rect x="28.5" y="10.5" width="1.5" height="1.5" fill="#2030a0"/><rect x="0" y="12" width="1.5" height="1.5" fill="#2030a0"/><rect x="1.5" y="12" width="1.5" height="1.5" fill="#c41c14"/><rect x="3" y="12" width="1.5" height="1.5" fill="#0e8060"/><rect x="4.5" y="12" width="1.5" height="1.5" fill="#2030a0"/><rect x="6" y="12" width="1.5" height="1.5" fill="#3ab030"/><rect x="7.5" y="12" width="1.5" height="1.5" fill="#c41c14"/><rect x="10.5" y="12" width="1.5" height="1.5" fill="#c41c14"/><rect x="12" y="12" width="1.5" height="1.5" fill="#2030a0"/><rect x="13.5" y="12" width="1.5" height="1.5" fill="#3ab030"/><rect x="15" y="12" width="1.5" height="1.5" fill="#c41c14"/><rect x="16.5" y="12" width="1.5" height="1.5" fill="#c41c14"/><rect x="18" y="12" width="1.5" height="1.5" fill="#3ab030"/><rect x="19.5" y="12" width="1.5" height="1.5" fill="#e0d000"/><rect x="22.5" y="12" width="1.5" height="1.5" fill="#2030a0"/><rect x="24" y="12" width="1.5" height="1.5" fill="#c41c14"/><rect x="25.5" y="12" width="1.5" height="1.5" fill="#c41c14"/><rect x="27" y="12" width="1.5" height="1.5" fill="#2030a0"/><rect x="28.5" y="12" width="1.5" height="1.5" fill="#c41c14"/><rect x="1.5" y="13.5" width="1.5" height="1.5" fill="#c41c14"/><rect x="7.5" y="13.5" width="1.5" height="1.5" fill="#e0d000"/><rect x="10.5" y="13.5" width="1.5" height="1.5" fill="#c41c14"/><rect x="12" y="13.5" width="1.5" height="1.5" fill="#3ab030"/><rect x="13.5" y="13.5" width="1.5" height="1.5" fill="#e07010"/><rect x="18" y="13.5" width="1.5" height="1.5" fill="#e0d000"/><rect x="19.5" y="13.5" width="1.5" height="1.5" fill="#e0d000"/><rect x="21" y="13.5" width="1.5" height="1.5" fill="#c41c14"/><rect x="22.5" y="13.5" width="1.5" height="1.5" fill="#c41c14"/><rect x="24" y="13.5" width="1.5" height="1.5" fill="#e0d000"/><rect x="25.5" y="13.5" width="1.5" height="1.5" fill="#e0d000"/><rect x="28.5" y="13.5" width="1.5" height="1.5" fill="#3ab030"/><rect x="0" y="15" width="1.5" height="1.5" fill="#c41c14"/><rect x="1.5" y="15" width="1.5" height="1.5" fill="#e07010"/><rect x="4.5" y="15" width="1.5" height="1.5" fill="#e0d000"/><rect x="6" y="15" width="1.5" height="1.5" fill="#c41c14"/><rect x="10.5" y="15" width="1.5" height="1.5" fill="#c41c14"/><rect x="12" y="15" width="1.5" height="1.5" fill="#e0d000"/><rect x="13.5" y="15" width="1.5" height="1.5" fill="#e07010"/><rect x="16.5" y="15" width="1.5" height="1.5" fill="#861414"/><rect x="18" y="15" width="1.5" height="1.5" fill="#861414"/><rect x="19.5" y="15" width="1.5" height="1.5" fill="#e0d000"/><rect x="21" y="15" width="1.5" height="1.5" fill="#2030a0"/><rect x="22.5" y="15" width="1.5" height="1.5" fill="#c41c14"/><rect x="24" y="15" width="1.5" height="1.5" fill="#c41c14"/><rect x="25.5" y="15" width="1.5" height="1.5" fill="#3ab030"/><rect x="28.5" y="15" width="1.5" height="1.5" fill="#e0d000"/><rect x="0" y="16.5" width="1.5" height="1.5" fill="#e07010"/><rect x="4.5" y="16.5" width="1.5" height="1.5" fill="#c41c14"/><rect x="7.5" y="16.5" width="1.5" height="1.5" fill="#c41c14"/><rect x="9" y="16.5" width="1.5" height="1.5" fill="#861414"/><rect x="12" y="16.5" width="1.5" height="1.5" fill="#e07010"/><rect x="15" y="16.5" width="1.5" height="1.5" fill="#c41c14"/><rect x="18" y="16.5" width="1.5" height="1.5" fill="#c41c14"/><rect x="19.5" y="16.5" width="1.5" height="1.5" fill="#c41c14"/><rect x="21" y="16.5" width="1.5" height="1.5" fill="#e0d000"/><rect x="22.5" y="16.5" width="1.5" height="1.5" fill="#e07010"/><rect x="24" y="16.5" width="1.5" height="1.5" fill="#e0d000"/><rect x="27" y="16.5" width="1.5" height="1.5" fill="#3ab030"/><rect x="28.5" y="16.5" width="1.5" height="1.5" fill="#c41c14"/><rect x="0" y="18" width="1.5" height="1.5" fill="#861414"/><rect x="1.5" y="18" width="1.5" height="1.5" fill="#e0d000"/><rect x="3" y="18" width="1.5" height="1.5" fill="#e0d000"/><rect x="4.5" y="18" width="1.5" height="1.5" fill="#3ab030"/><rect x="6" y="18" width="1.5" height="1.5" fill="#e0d000"/><rect x="7.5" y="18" width="1.5" height="1.5" fill="#c41c14"/><rect x="9" y="18" width="1.5" height="1.5" fill="#861414"/><rect x="12" y="18" width="1.5" height="1.5" fill="#e07010"/><rect x="15" y="18" width="1.5" height="1.5" fill="#0e8060"/><rect x="16.5" y="18" width="1.5" height="1.5" fill="#3ab030"/><rect x="18" y="18" width="1.5" height="1.5" fill="#3ab030"/><rect x="19.5" y="18" width="1.5" height="1.5" fill="#3ab030"/><rect x="21" y="18" width="1.5" height="1.5" fill="#861414"/><rect x="24" y="18" width="1.5" height="1.5" fill="#e0d000"/><rect x="27" y="18" width="1.5" height="1.5" fill="#861414"/><rect x="1.5" y="19.5" width="1.5" height="1.5" fill="#3ab030"/><rect x="3" y="19.5" width="1.5" height="1.5" fill="#e07010"/><rect x="4.5" y="19.5" width="1.5" height="1.5" fill="#c41c14"/><rect x="7.5" y="19.5" width="1.5" height="1.5" fill="#e07010"/><rect x="9" y="19.5" width="1.5" height="1.5" fill="#3ab030"/><rect x="10.5" y="19.5" width="1.5" height="1.5" fill="#c41c14"/><rect x="12" y="19.5" width="1.5" height="1.5" fill="#c41c14"/><rect x="13.5" y="19.5" width="1.5" height="1.5" fill="#c41c14"/><rect x="16.5" y="19.5" width="1.5" height="1.5" fill="#c41c14"/><rect x="19.5" y="19.5" width="1.5" height="1.5" fill="#e07010"/><rect x="21" y="19.5" width="1.5" height="1.5" fill="#e0d000"/><rect x="22.5" y="19.5" width="1.5" height="1.5" fill="#e07010"/><rect x="24" y="19.5" width="1.5" height="1.5" fill="#3ab030"/><rect x="25.5" y="19.5" width="1.5" height="1.5" fill="#c41c14"/><rect x="27" y="19.5" width="1.5" height="1.5" fill="#e07010"/><rect x="28.5" y="19.5" width="1.5" height="1.5" fill="#2030a0"/><rect x="0" y="21" width="1.5" height="1.5" fill="#c41c14"/><rect x="1.5" y="21" width="1.5" height="1.5" fill="#3ab030"/><rect x="3" y="21" width="1.5" height="1.5" fill="#e07010"/><rect x="4.5" y="21" width="1.5" height="1.5" fill="#861414"/><rect x="6" y="21" width="1.5" height="1.5" fill="#c41c14"/><rect x="7.5" y="21" width="1.5" height="1.5" fill="#c41c14"/><rect x="9" y="21" width="1.5" height="1.5" fill="#2030a0"/><rect x="15" y="21" width="1.5" height="1.5" fill="#2030a0"/><rect x="16.5" y="21" width="1.5" height="1.5" fill="#c41c14"/><rect x="18" y="21" width="1.5" height="1.5" fill="#e0d000"/><rect x="19.5" y="21" width="1.5" height="1.5" fill="#e0d000"/><rect x="21" y="21" width="1.5" height="1.5" fill="#e0d000"/><rect x="22.5" y="21" width="1.5" height="1.5" fill="#2030a0"/><rect x="25.5" y="21" width="1.5" height="1.5" fill="#2030a0"/><rect x="27" y="21" width="1.5" height="1.5" fill="#c41c14"/><rect x="28.5" y="21" width="1.5" height="1.5" fill="#3ab030"/><rect x="0" y="22.5" width="1.5" height="1.5" fill="#3ab030"/><rect x="3" y="22.5" width="1.5" height="1.5" fill="#3ab030"/><rect x="6" y="22.5" width="1.5" height="1.5" fill="#861414"/><rect x="7.5" y="22.5" width="1.5" height="1.5" fill="#2030a0"/><rect x="9" y="22.5" width="1.5" height="1.5" fill="#e07010"/><rect x="10.5" y="22.5" width="1.5" height="1.5" fill="#e0d000"/><rect x="13.5" y="22.5" width="1.5" height="1.5" fill="#3ab030"/><rect x="15" y="22.5" width="1.5" height="1.5" fill="#861414"/><rect x="16.5" y="22.5" width="1.5" height="1.5" fill="#861414"/><rect x="18" y="22.5" width="1.5" height="1.5" fill="#e07010"/><rect x="19.5" y="22.5" width="1.5" height="1.5" fill="#3ab030"/><rect x="21" y="22.5" width="1.5" height="1.5" fill="#0e8060"/><rect x="24" y="22.5" width="1.5" height="1.5" fill="#e07010"/><rect x="25.5" y="22.5" width="1.5" height="1.5" fill="#e07010"/><rect x="28.5" y="22.5" width="1.5" height="1.5" fill="#861414"/><rect x="0" y="24" width="1.5" height="1.5" fill="#e07010"/><rect x="1.5" y="24" width="1.5" height="1.5" fill="#c41c14"/><rect x="3" y="24" width="1.5" height="1.5" fill="#c41c14"/><rect x="4.5" y="24" width="1.5" height="1.5" fill="#e0d000"/><rect x="6" y="24" width="1.5" height="1.5" fill="#3ab030"/><rect x="7.5" y="24" width="1.5" height="1.5" fill="#3ab030"/><rect x="9" y="24" width="1.5" height="1.5" fill="#e07010"/><rect x="10.5" y="24" width="1.5" height="1.5" fill="#2030a0"/><rect x="12" y="24" width="1.5" height="1.5" fill="#3ab030"/><rect x="13.5" y="24" width="1.5" height="1.5" fill="#c41c14"/><rect x="15" y="24" width="1.5" height="1.5" fill="#c41c14"/><rect x="16.5" y="24" width="1.5" height="1.5" fill="#0e8060"/><rect x="18" y="24" width="1.5" height="1.5" fill="#0e8060"/><rect x="21" y="24" width="1.5" height="1.5" fill="#3ab030"/><rect x="22.5" y="24" width="1.5" height="1.5" fill="#861414"/><rect x="24" y="24" width="1.5" height="1.5" fill="#c41c14"/><rect x="25.5" y="24" width="1.5" height="1.5" fill="#861414"/><rect x="27" y="24" width="1.5" height="1.5" fill="#861414"/><rect x="28.5" y="24" width="1.5" height="1.5" fill="#2030a0"/><rect x="3" y="25.5" width="1.5" height="1.5" fill="#c41c14"/><rect x="4.5" y="25.5" width="1.5" height="1.5" fill="#861414"/><rect x="6" y="25.5" width="1.5" height="1.5" fill="#861414"/><rect x="7.5" y="25.5" width="1.5" height="1.5" fill="#2030a0"/><rect x="9" y="25.5" width="1.5" height="1.5" fill="#c41c14"/><rect x="12" y="25.5" width="1.5" height="1.5" fill="#3ab030"/><rect x="13.5" y="25.5" width="1.5" height="1.5" fill="#e0d000"/><rect x="15" y="25.5" width="1.5" height="1.5" fill="#2030a0"/><rect x="16.5" y="25.5" width="1.5" height="1.5" fill="#861414"/><rect x="18" y="25.5" width="1.5" height="1.5" fill="#e0d000"/><rect x="19.5" y="25.5" width="1.5" height="1.5" fill="#c41c14"/><rect x="21" y="25.5" width="1.5" height="1.5" fill="#c41c14"/><rect x="22.5" y="25.5" width="1.5" height="1.5" fill="#c41c14"/><rect x="24" y="25.5" width="1.5" height="1.5" fill="#861414"/><rect x="25.5" y="25.5" width="1.5" height="1.5" fill="#c41c14"/><rect x="27" y="25.5" width="1.5" height="1.5" fill="#c41c14"/><rect x="28.5" y="25.5" width="1.5" height="1.5" fill="#0e8060"/></pattern><pattern id="hG" patternUnits="userSpaceOnUse" width="30" height="27"><rect x="0" y="0" width="1.5" height="1.5" fill="#3ab030"/><rect x="1.5" y="0" width="1.5" height="1.5" fill="#3ab030"/><rect x="3" y="0" width="1.5" height="1.5" fill="#e0d000"/><rect x="4.5" y="0" width="1.5" height="1.5" fill="#c41c14"/><rect x="6" y="0" width="1.5" height="1.5" fill="#3ab030"/><rect x="7.5" y="0" width="1.5" height="1.5" fill="#c41c14"/><rect x="10.5" y="0" width="1.5" height="1.5" fill="#10c890"/><rect x="12" y="0" width="1.5" height="1.5" fill="#c41c14"/><rect x="13.5" y="0" width="1.5" height="1.5" fill="#3ab030"/><rect x="15" y="0" width="1.5" height="1.5" fill="#e07010"/><rect x="18" y="0" width="1.5" height="1.5" fill="#10c890"/><rect x="21" y="0" width="1.5" height="1.5" fill="#10c890"/><rect x="22.5" y="0" width="1.5" height="1.5" fill="#10c890"/><rect x="28.5" y="0" width="1.5" height="1.5" fill="#e07010"/><rect x="0" y="1.5" width="1.5" height="1.5" fill="#e0d000"/><rect x="3" y="1.5" width="1.5" height="1.5" fill="#e0d000"/><rect x="6" y="1.5" width="1.5" height="1.5" fill="#3ab030"/><rect x="10.5" y="1.5" width="1.5" height="1.5" fill="#e07010"/><rect x="15" y="1.5" width="1.5" height="1.5" fill="#0e8060"/><rect x="16.5" y="1.5" width="1.5" height="1.5" fill="#e07010"/><rect x="19.5" y="1.5" width="1.5" height="1.5" fill="#0e8060"/><rect x="21" y="1.5" width="1.5" height="1.5" fill="#10c890"/><rect x="22.5" y="1.5" width="1.5" height="1.5" fill="#3ab030"/><rect x="25.5" y="1.5" width="1.5" height="1.5" fill="#c41c14"/><rect x="27" y="1.5" width="1.5" height="1.5" fill="#3ab030"/><rect x="28.5" y="1.5" width="1.5" height="1.5" fill="#0e8060"/><rect x="0" y="3" width="1.5" height="1.5" fill="#e07010"/><rect x="10.5" y="3" width="1.5" height="1.5" fill="#3ab030"/><rect x="13.5" y="3" width="1.5" height="1.5" fill="#3ab030"/><rect x="18" y="3" width="1.5" height="1.5" fill="#e0d000"/><rect x="19.5" y="3" width="1.5" height="1.5" fill="#10c890"/><rect x="22.5" y="3" width="1.5" height="1.5" fill="#10c890"/><rect x="24" y="3" width="1.5" height="1.5" fill="#3ab030"/><rect x="27" y="3" width="1.5" height="1.5" fill="#0e8060"/><rect x="0" y="4.5" width="1.5" height="1.5" fill="#3ab030"/><rect x="1.5" y="4.5" width="1.5" height="1.5" fill="#e0d000"/><rect x="4.5" y="4.5" width="1.5" height="1.5" fill="#e0d000"/><rect x="7.5" y="4.5" width="1.5" height="1.5" fill="#10c890"/><rect x="13.5" y="4.5" width="1.5" height="1.5" fill="#c41c14"/><rect x="16.5" y="4.5" width="1.5" height="1.5" fill="#e0d000"/><rect x="18" y="4.5" width="1.5" height="1.5" fill="#c41c14"/><rect x="19.5" y="4.5" width="1.5" height="1.5" fill="#c41c14"/><rect x="24" y="4.5" width="1.5" height="1.5" fill="#10c890"/><rect x="25.5" y="4.5" width="1.5" height="1.5" fill="#e0d000"/><rect x="28.5" y="4.5" width="1.5" height="1.5" fill="#3ab030"/><rect x="0" y="6" width="1.5" height="1.5" fill="#e0d000"/><rect x="1.5" y="6" width="1.5" height="1.5" fill="#e07010"/><rect x="4.5" y="6" width="1.5" height="1.5" fill="#c41c14"/><rect x="9" y="6" width="1.5" height="1.5" fill="#3ab030"/><rect x="10.5" y="6" width="1.5" height="1.5" fill="#e07010"/><rect x="13.5" y="6" width="1.5" height="1.5" fill="#c41c14"/><rect x="15" y="6" width="1.5" height="1.5" fill="#10c890"/><rect x="24" y="6" width="1.5" height="1.5" fill="#3ab030"/><rect x="25.5" y="6" width="1.5" height="1.5" fill="#0e8060"/><rect x="0" y="7.5" width="1.5" height="1.5" fill="#0e8060"/><rect x="1.5" y="7.5" width="1.5" height="1.5" fill="#10c890"/><rect x="6" y="7.5" width="1.5" height="1.5" fill="#10c890"/><rect x="7.5" y="7.5" width="1.5" height="1.5" fill="#e0d000"/><rect x="9" y="7.5" width="1.5" height="1.5" fill="#10c890"/><rect x="13.5" y="7.5" width="1.5" height="1.5" fill="#e07010"/><rect x="16.5" y="7.5" width="1.5" height="1.5" fill="#10c890"/><rect x="18" y="7.5" width="1.5" height="1.5" fill="#e0d000"/><rect x="21" y="7.5" width="1.5" height="1.5" fill="#3ab030"/><rect x="22.5" y="7.5" width="1.5" height="1.5" fill="#c41c14"/><rect x="24" y="7.5" width="1.5" height="1.5" fill="#3ab030"/><rect x="25.5" y="7.5" width="1.5" height="1.5" fill="#e0d000"/><rect x="1.5" y="9" width="1.5" height="1.5" fill="#e0d000"/><rect x="4.5" y="9" width="1.5" height="1.5" fill="#10c890"/><rect x="6" y="9" width="1.5" height="1.5" fill="#0e8060"/><rect x="7.5" y="9" width="1.5" height="1.5" fill="#e07010"/><rect x="9" y="9" width="1.5" height="1.5" fill="#0e8060"/><rect x="10.5" y="9" width="1.5" height="1.5" fill="#10c890"/><rect x="12" y="9" width="1.5" height="1.5" fill="#10c890"/><rect x="13.5" y="9" width="1.5" height="1.5" fill="#3ab030"/><rect x="15" y="9" width="1.5" height="1.5" fill="#10c890"/><rect x="22.5" y="9" width="1.5" height="1.5" fill="#0e8060"/><rect x="24" y="9" width="1.5" height="1.5" fill="#c41c14"/><rect x="25.5" y="9" width="1.5" height="1.5" fill="#3ab030"/><rect x="27" y="9" width="1.5" height="1.5" fill="#10c890"/><rect x="3" y="10.5" width="1.5" height="1.5" fill="#e0d000"/><rect x="4.5" y="10.5" width="1.5" height="1.5" fill="#e07010"/><rect x="7.5" y="10.5" width="1.5" height="1.5" fill="#e0d000"/><rect x="9" y="10.5" width="1.5" height="1.5" fill="#e0d000"/><rect x="10.5" y="10.5" width="1.5" height="1.5" fill="#3ab030"/><rect x="12" y="10.5" width="1.5" height="1.5" fill="#3ab030"/><rect x="13.5" y="10.5" width="1.5" height="1.5" fill="#e0d000"/><rect x="16.5" y="10.5" width="1.5" height="1.5" fill="#3ab030"/><rect x="19.5" y="10.5" width="1.5" height="1.5" fill="#10c890"/><rect x="21" y="10.5" width="1.5" height="1.5" fill="#e0d000"/><rect x="22.5" y="10.5" width="1.5" height="1.5" fill="#3ab030"/><rect x="25.5" y="10.5" width="1.5" height="1.5" fill="#c41c14"/><rect x="27" y="10.5" width="1.5" height="1.5" fill="#3ab030"/><rect x="28.5" y="10.5" width="1.5" height="1.5" fill="#10c890"/><rect x="1.5" y="12" width="1.5" height="1.5" fill="#10c890"/><rect x="4.5" y="12" width="1.5" height="1.5" fill="#3ab030"/><rect x="6" y="12" width="1.5" height="1.5" fill="#10c890"/><rect x="7.5" y="12" width="1.5" height="1.5" fill="#e0d000"/><rect x="9" y="12" width="1.5" height="1.5" fill="#3ab030"/><rect x="10.5" y="12" width="1.5" height="1.5" fill="#e0d000"/><rect x="13.5" y="12" width="1.5" height="1.5" fill="#3ab030"/><rect x="15" y="12" width="1.5" height="1.5" fill="#3ab030"/><rect x="16.5" y="12" width="1.5" height="1.5" fill="#e0d000"/><rect x="19.5" y="12" width="1.5" height="1.5" fill="#e0d000"/><rect x="21" y="12" width="1.5" height="1.5" fill="#e07010"/><rect x="22.5" y="12" width="1.5" height="1.5" fill="#3ab030"/><rect x="24" y="12" width="1.5" height="1.5" fill="#0e8060"/><rect x="25.5" y="12" width="1.5" height="1.5" fill="#c41c14"/><rect x="27" y="12" width="1.5" height="1.5" fill="#10c890"/><rect x="28.5" y="12" width="1.5" height="1.5" fill="#10c890"/><rect x="1.5" y="13.5" width="1.5" height="1.5" fill="#e0d000"/><rect x="3" y="13.5" width="1.5" height="1.5" fill="#c41c14"/><rect x="4.5" y="13.5" width="1.5" height="1.5" fill="#10c890"/><rect x="6" y="13.5" width="1.5" height="1.5" fill="#3ab030"/><rect x="7.5" y="13.5" width="1.5" height="1.5" fill="#3ab030"/><rect x="9" y="13.5" width="1.5" height="1.5" fill="#3ab030"/><rect x="12" y="13.5" width="1.5" height="1.5" fill="#e0d000"/><rect x="13.5" y="13.5" width="1.5" height="1.5" fill="#10c890"/><rect x="15" y="13.5" width="1.5" height="1.5" fill="#3ab030"/><rect x="18" y="13.5" width="1.5" height="1.5" fill="#3ab030"/><rect x="19.5" y="13.5" width="1.5" height="1.5" fill="#e0d000"/><rect x="21" y="13.5" width="1.5" height="1.5" fill="#3ab030"/><rect x="22.5" y="13.5" width="1.5" height="1.5" fill="#3ab030"/><rect x="28.5" y="13.5" width="1.5" height="1.5" fill="#3ab030"/><rect x="1.5" y="15" width="1.5" height="1.5" fill="#3ab030"/><rect x="3" y="15" width="1.5" height="1.5" fill="#3ab030"/><rect x="6" y="15" width="1.5" height="1.5" fill="#10c890"/><rect x="18" y="15" width="1.5" height="1.5" fill="#10c890"/><rect x="21" y="15" width="1.5" height="1.5" fill="#3ab030"/><rect x="22.5" y="15" width="1.5" height="1.5" fill="#10c890"/><rect x="25.5" y="15" width="1.5" height="1.5" fill="#e07010"/><rect x="4.5" y="16.5" width="1.5" height="1.5" fill="#e0d000"/><rect x="9" y="16.5" width="1.5" height="1.5" fill="#3ab030"/><rect x="12" y="16.5" width="1.5" height="1.5" fill="#10c890"/><rect x="15" y="16.5" width="1.5" height="1.5" fill="#10c890"/><rect x="16.5" y="16.5" width="1.5" height="1.5" fill="#c41c14"/><rect x="18" y="16.5" width="1.5" height="1.5" fill="#e0d000"/><rect x="21" y="16.5" width="1.5" height="1.5" fill="#e0d000"/><rect x="22.5" y="16.5" width="1.5" height="1.5" fill="#3ab030"/><rect x="27" y="16.5" width="1.5" height="1.5" fill="#10c890"/><rect x="28.5" y="16.5" width="1.5" height="1.5" fill="#10c890"/><rect x="0" y="18" width="1.5" height="1.5" fill="#c41c14"/><rect x="1.5" y="18" width="1.5" height="1.5" fill="#0e8060"/><rect x="3" y="18" width="1.5" height="1.5" fill="#3ab030"/><rect x="6" y="18" width="1.5" height="1.5" fill="#e07010"/><rect x="10.5" y="18" width="1.5" height="1.5" fill="#10c890"/><rect x="12" y="18" width="1.5" height="1.5" fill="#3ab030"/><rect x="15" y="18" width="1.5" height="1.5" fill="#3ab030"/><rect x="16.5" y="18" width="1.5" height="1.5" fill="#e07010"/><rect x="24" y="18" width="1.5" height="1.5" fill="#0e8060"/><rect x="27" y="18" width="1.5" height="1.5" fill="#0e8060"/><rect x="28.5" y="18" width="1.5" height="1.5" fill="#e07010"/><rect x="0" y="19.5" width="1.5" height="1.5" fill="#10c890"/><rect x="3" y="19.5" width="1.5" height="1.5" fill="#0e8060"/><rect x="4.5" y="19.5" width="1.5" height="1.5" fill="#10c890"/><rect x="9" y="19.5" width="1.5" height="1.5" fill="#0e8060"/><rect x="10.5" y="19.5" width="1.5" height="1.5" fill="#10c890"/><rect x="13.5" y="19.5" width="1.5" height="1.5" fill="#10c890"/><rect x="16.5" y="19.5" width="1.5" height="1.5" fill="#3ab030"/><rect x="21" y="19.5" width="1.5" height="1.5" fill="#e0d000"/><rect x="22.5" y="19.5" width="1.5" height="1.5" fill="#e0d000"/><rect x="25.5" y="19.5" width="1.5" height="1.5" fill="#10c890"/><rect x="28.5" y="19.5" width="1.5" height="1.5" fill="#c41c14"/><rect x="0" y="21" width="1.5" height="1.5" fill="#e0d000"/><rect x="6" y="21" width="1.5" height="1.5" fill="#0e8060"/><rect x="9" y="21" width="1.5" height="1.5" fill="#3ab030"/><rect x="10.5" y="21" width="1.5" height="1.5" fill="#10c890"/><rect x="12" y="21" width="1.5" height="1.5" fill="#3ab030"/><rect x="13.5" y="21" width="1.5" height="1.5" fill="#3ab030"/><rect x="15" y="21" width="1.5" height="1.5" fill="#3ab030"/><rect x="18" y="21" width="1.5" height="1.5" fill="#e0d000"/><rect x="21" y="21" width="1.5" height="1.5" fill="#10c890"/><rect x="25.5" y="21" width="1.5" height="1.5" fill="#10c890"/><rect x="27" y="21" width="1.5" height="1.5" fill="#10c890"/><rect x="0" y="22.5" width="1.5" height="1.5" fill="#3ab030"/><rect x="1.5" y="22.5" width="1.5" height="1.5" fill="#10c890"/><rect x="6" y="22.5" width="1.5" height="1.5" fill="#10c890"/><rect x="7.5" y="22.5" width="1.5" height="1.5" fill="#e07010"/><rect x="9" y="22.5" width="1.5" height="1.5" fill="#e07010"/><rect x="10.5" y="22.5" width="1.5" height="1.5" fill="#10c890"/><rect x="13.5" y="22.5" width="1.5" height="1.5" fill="#e0d000"/><rect x="16.5" y="22.5" width="1.5" height="1.5" fill="#10c890"/><rect x="18" y="22.5" width="1.5" height="1.5" fill="#3ab030"/><rect x="19.5" y="22.5" width="1.5" height="1.5" fill="#3ab030"/><rect x="21" y="22.5" width="1.5" height="1.5" fill="#10c890"/><rect x="22.5" y="22.5" width="1.5" height="1.5" fill="#e07010"/><rect x="27" y="22.5" width="1.5" height="1.5" fill="#e07010"/><rect x="1.5" y="24" width="1.5" height="1.5" fill="#e0d000"/><rect x="4.5" y="24" width="1.5" height="1.5" fill="#e0d000"/><rect x="6" y="24" width="1.5" height="1.5" fill="#3ab030"/><rect x="10.5" y="24" width="1.5" height="1.5" fill="#e0d000"/><rect x="12" y="24" width="1.5" height="1.5" fill="#e07010"/><rect x="15" y="24" width="1.5" height="1.5" fill="#10c890"/><rect x="16.5" y="24" width="1.5" height="1.5" fill="#10c890"/><rect x="18" y="24" width="1.5" height="1.5" fill="#10c890"/><rect x="22.5" y="24" width="1.5" height="1.5" fill="#10c890"/><rect x="24" y="24" width="1.5" height="1.5" fill="#e0d000"/><rect x="28.5" y="24" width="1.5" height="1.5" fill="#e0d000"/><rect x="0" y="25.5" width="1.5" height="1.5" fill="#e0d000"/><rect x="1.5" y="25.5" width="1.5" height="1.5" fill="#3ab030"/><rect x="4.5" y="25.5" width="1.5" height="1.5" fill="#3ab030"/><rect x="6" y="25.5" width="1.5" height="1.5" fill="#0e8060"/><rect x="7.5" y="25.5" width="1.5" height="1.5" fill="#0e8060"/><rect x="9" y="25.5" width="1.5" height="1.5" fill="#3ab030"/><rect x="12" y="25.5" width="1.5" height="1.5" fill="#e0d000"/><rect x="15" y="25.5" width="1.5" height="1.5" fill="#3ab030"/><rect x="16.5" y="25.5" width="1.5" height="1.5" fill="#c41c14"/><rect x="18" y="25.5" width="1.5" height="1.5" fill="#3ab030"/><rect x="22.5" y="25.5" width="1.5" height="1.5" fill="#e07010"/><rect x="25.5" y="25.5" width="1.5" height="1.5" fill="#3ab030"/></pattern><pattern id="hEJ" patternUnits="userSpaceOnUse" width="30" height="27"><rect x="0" y="0" width="1.5" height="1.5" fill="#861414"/><rect x="1.5" y="0" width="1.5" height="1.5" fill="#e07010"/><rect x="7.5" y="0" width="1.5" height="1.5" fill="#c41c14"/><rect x="10.5" y="0" width="1.5" height="1.5" fill="#861414"/><rect x="13.5" y="0" width="1.5" height="1.5" fill="#861414"/><rect x="16.5" y="0" width="1.5" height="1.5" fill="#e07010"/><rect x="18" y="0" width="1.5" height="1.5" fill="#861414"/><rect x="22.5" y="0" width="1.5" height="1.5" fill="#c41c14"/><rect x="27" y="0" width="1.5" height="1.5" fill="#e07010"/><rect x="0" y="1.5" width="1.5" height="1.5" fill="#e07010"/><rect x="1.5" y="1.5" width="1.5" height="1.5" fill="#c41c14"/><rect x="3" y="1.5" width="1.5" height="1.5" fill="#e07010"/><rect x="7.5" y="1.5" width="1.5" height="1.5" fill="#e07010"/><rect x="9" y="1.5" width="1.5" height="1.5" fill="#e07010"/><rect x="15" y="1.5" width="1.5" height="1.5" fill="#c41c14"/><rect x="18" y="1.5" width="1.5" height="1.5" fill="#2030a0"/><rect x="19.5" y="1.5" width="1.5" height="1.5" fill="#c41c14"/><rect x="22.5" y="1.5" width="1.5" height="1.5" fill="#c41c14"/><rect x="25.5" y="1.5" width="1.5" height="1.5" fill="#3ab030"/><rect x="27" y="1.5" width="1.5" height="1.5" fill="#3ab030"/><rect x="0" y="3" width="1.5" height="1.5" fill="#c41c14"/><rect x="1.5" y="3" width="1.5" height="1.5" fill="#c41c14"/><rect x="3" y="3" width="1.5" height="1.5" fill="#e07010"/><rect x="4.5" y="3" width="1.5" height="1.5" fill="#2030a0"/><rect x="9" y="3" width="1.5" height="1.5" fill="#c41c14"/><rect x="12" y="3" width="1.5" height="1.5" fill="#c41c14"/><rect x="15" y="3" width="1.5" height="1.5" fill="#e0d000"/><rect x="19.5" y="3" width="1.5" height="1.5" fill="#c41c14"/><rect x="28.5" y="3" width="1.5" height="1.5" fill="#e0d000"/><rect x="0" y="4.5" width="1.5" height="1.5" fill="#c41c14"/><rect x="3" y="4.5" width="1.5" height="1.5" fill="#861414"/><rect x="7.5" y="4.5" width="1.5" height="1.5" fill="#3ab030"/><rect x="9" y="4.5" width="1.5" height="1.5" fill="#c41c14"/><rect x="16.5" y="4.5" width="1.5" height="1.5" fill="#0e8060"/><rect x="21" y="4.5" width="1.5" height="1.5" fill="#861414"/><rect x="24" y="4.5" width="1.5" height="1.5" fill="#ecc8c8"/><rect x="27" y="4.5" width="1.5" height="1.5" fill="#2030a0"/><rect x="28.5" y="4.5" width="1.5" height="1.5" fill="#e0d000"/><rect x="0" y="6" width="1.5" height="1.5" fill="#c41c14"/><rect x="1.5" y="6" width="1.5" height="1.5" fill="#e0d000"/><rect x="4.5" y="6" width="1.5" height="1.5" fill="#e07010"/><rect x="6" y="6" width="1.5" height="1.5" fill="#861414"/><rect x="10.5" y="6" width="1.5" height="1.5" fill="#c41c14"/><rect x="15" y="6" width="1.5" height="1.5" fill="#861414"/><rect x="19.5" y="6" width="1.5" height="1.5" fill="#861414"/><rect x="25.5" y="6" width="1.5" height="1.5" fill="#c41c14"/><rect x="1.5" y="7.5" width="1.5" height="1.5" fill="#3ab030"/><rect x="6" y="7.5" width="1.5" height="1.5" fill="#e0d000"/><rect x="7.5" y="7.5" width="1.5" height="1.5" fill="#c41c14"/><rect x="18" y="7.5" width="1.5" height="1.5" fill="#e07010"/><rect x="21" y="7.5" width="1.5" height="1.5" fill="#c41c14"/><rect x="22.5" y="7.5" width="1.5" height="1.5" fill="#2030a0"/><rect x="24" y="7.5" width="1.5" height="1.5" fill="#3ab030"/><rect x="27" y="7.5" width="1.5" height="1.5" fill="#c41c14"/><rect x="3" y="9" width="1.5" height="1.5" fill="#861414"/><rect x="4.5" y="9" width="1.5" height="1.5" fill="#3ab030"/><rect x="13.5" y="9" width="1.5" height="1.5" fill="#861414"/><rect x="16.5" y="9" width="1.5" height="1.5" fill="#c41c14"/><rect x="19.5" y="9" width="1.5" height="1.5" fill="#3ab030"/><rect x="21" y="9" width="1.5" height="1.5" fill="#e07010"/><rect x="25.5" y="9" width="1.5" height="1.5" fill="#3ab030"/><rect x="27" y="9" width="1.5" height="1.5" fill="#c41c14"/><rect x="0" y="10.5" width="1.5" height="1.5" fill="#861414"/><rect x="1.5" y="10.5" width="1.5" height="1.5" fill="#e07010"/><rect x="10.5" y="10.5" width="1.5" height="1.5" fill="#c41c14"/><rect x="12" y="10.5" width="1.5" height="1.5" fill="#c41c14"/><rect x="15" y="10.5" width="1.5" height="1.5" fill="#c41c14"/><rect x="19.5" y="10.5" width="1.5" height="1.5" fill="#c41c14"/><rect x="22.5" y="10.5" width="1.5" height="1.5" fill="#e0d000"/><rect x="24" y="10.5" width="1.5" height="1.5" fill="#c41c14"/><rect x="25.5" y="10.5" width="1.5" height="1.5" fill="#c41c14"/><rect x="28.5" y="10.5" width="1.5" height="1.5" fill="#e07010"/><rect x="1.5" y="12" width="1.5" height="1.5" fill="#c41c14"/><rect x="3" y="12" width="1.5" height="1.5" fill="#3ab030"/><rect x="4.5" y="12" width="1.5" height="1.5" fill="#3ab030"/><rect x="6" y="12" width="1.5" height="1.5" fill="#e0d000"/><rect x="9" y="12" width="1.5" height="1.5" fill="#c41c14"/><rect x="10.5" y="12" width="1.5" height="1.5" fill="#861414"/><rect x="13.5" y="12" width="1.5" height="1.5" fill="#3ab030"/><rect x="15" y="12" width="1.5" height="1.5" fill="#3ab030"/><rect x="18" y="12" width="1.5" height="1.5" fill="#861414"/><rect x="22.5" y="12" width="1.5" height="1.5" fill="#c41c14"/><rect x="25.5" y="12" width="1.5" height="1.5" fill="#e07010"/><rect x="27" y="12" width="1.5" height="1.5" fill="#2030a0"/><rect x="0" y="13.5" width="1.5" height="1.5" fill="#3ab030"/><rect x="3" y="13.5" width="1.5" height="1.5" fill="#e07010"/><rect x="6" y="13.5" width="1.5" height="1.5" fill="#2030a0"/><rect x="9" y="13.5" width="1.5" height="1.5" fill="#3ab030"/><rect x="13.5" y="13.5" width="1.5" height="1.5" fill="#e07010"/><rect x="15" y="13.5" width="1.5" height="1.5" fill="#c41c14"/><rect x="24" y="13.5" width="1.5" height="1.5" fill="#0e8060"/><rect x="25.5" y="13.5" width="1.5" height="1.5" fill="#861414"/><rect x="27" y="13.5" width="1.5" height="1.5" fill="#3ab030"/><rect x="28.5" y="13.5" width="1.5" height="1.5" fill="#c41c14"/><rect x="3" y="15" width="1.5" height="1.5" fill="#861414"/><rect x="22.5" y="15" width="1.5" height="1.5" fill="#c41c14"/><rect x="28.5" y="15" width="1.5" height="1.5" fill="#c41c14"/><rect x="0" y="16.5" width="1.5" height="1.5" fill="#3ab030"/><rect x="7.5" y="16.5" width="1.5" height="1.5" fill="#c41c14"/><rect x="9" y="16.5" width="1.5" height="1.5" fill="#861414"/><rect x="10.5" y="16.5" width="1.5" height="1.5" fill="#c41c14"/><rect x="19.5" y="16.5" width="1.5" height="1.5" fill="#0e8060"/><rect x="22.5" y="16.5" width="1.5" height="1.5" fill="#c41c14"/><rect x="24" y="16.5" width="1.5" height="1.5" fill="#c41c14"/><rect x="25.5" y="16.5" width="1.5" height="1.5" fill="#c41c14"/><rect x="27" y="16.5" width="1.5" height="1.5" fill="#e07010"/><rect x="0" y="18" width="1.5" height="1.5" fill="#c41c14"/><rect x="1.5" y="18" width="1.5" height="1.5" fill="#2030a0"/><rect x="4.5" y="18" width="1.5" height="1.5" fill="#c41c14"/><rect x="10.5" y="18" width="1.5" height="1.5" fill="#861414"/><rect x="13.5" y="18" width="1.5" height="1.5" fill="#c41c14"/><rect x="21" y="18" width="1.5" height="1.5" fill="#861414"/><rect x="24" y="18" width="1.5" height="1.5" fill="#c41c14"/><rect x="25.5" y="18" width="1.5" height="1.5" fill="#3ab030"/><rect x="0" y="19.5" width="1.5" height="1.5" fill="#861414"/><rect x="1.5" y="19.5" width="1.5" height="1.5" fill="#e0d000"/><rect x="4.5" y="19.5" width="1.5" height="1.5" fill="#c41c14"/><rect x="9" y="19.5" width="1.5" height="1.5" fill="#ecc8c8"/><rect x="12" y="19.5" width="1.5" height="1.5" fill="#3ab030"/><rect x="13.5" y="19.5" width="1.5" height="1.5" fill="#861414"/><rect x="15" y="19.5" width="1.5" height="1.5" fill="#c41c14"/><rect x="16.5" y="19.5" width="1.5" height="1.5" fill="#861414"/><rect x="18" y="19.5" width="1.5" height="1.5" fill="#c41c14"/><rect x="24" y="19.5" width="1.5" height="1.5" fill="#e07010"/><rect x="25.5" y="19.5" width="1.5" height="1.5" fill="#861414"/><rect x="27" y="19.5" width="1.5" height="1.5" fill="#861414"/><rect x="0" y="21" width="1.5" height="1.5" fill="#c41c14"/><rect x="3" y="21" width="1.5" height="1.5" fill="#861414"/><rect x="4.5" y="21" width="1.5" height="1.5" fill="#861414"/><rect x="6" y="21" width="1.5" height="1.5" fill="#0e8060"/><rect x="7.5" y="21" width="1.5" height="1.5" fill="#c41c14"/><rect x="9" y="21" width="1.5" height="1.5" fill="#c41c14"/><rect x="10.5" y="21" width="1.5" height="1.5" fill="#861414"/><rect x="13.5" y="21" width="1.5" height="1.5" fill="#c41c14"/><rect x="19.5" y="21" width="1.5" height="1.5" fill="#3ab030"/><rect x="22.5" y="21" width="1.5" height="1.5" fill="#3ab030"/><rect x="24" y="21" width="1.5" height="1.5" fill="#3ab030"/><rect x="27" y="21" width="1.5" height="1.5" fill="#e07010"/><rect x="6" y="22.5" width="1.5" height="1.5" fill="#e07010"/><rect x="9" y="22.5" width="1.5" height="1.5" fill="#c41c14"/><rect x="16.5" y="22.5" width="1.5" height="1.5" fill="#2030a0"/><rect x="19.5" y="22.5" width="1.5" height="1.5" fill="#c41c14"/><rect x="21" y="22.5" width="1.5" height="1.5" fill="#c41c14"/><rect x="22.5" y="22.5" width="1.5" height="1.5" fill="#c41c14"/><rect x="28.5" y="22.5" width="1.5" height="1.5" fill="#e0d000"/><rect x="3" y="24" width="1.5" height="1.5" fill="#e07010"/><rect x="4.5" y="24" width="1.5" height="1.5" fill="#c41c14"/><rect x="6" y="24" width="1.5" height="1.5" fill="#3ab030"/><rect x="7.5" y="24" width="1.5" height="1.5" fill="#e07010"/><rect x="12" y="24" width="1.5" height="1.5" fill="#c41c14"/><rect x="15" y="24" width="1.5" height="1.5" fill="#e0d000"/><rect x="18" y="24" width="1.5" height="1.5" fill="#c41c14"/><rect x="19.5" y="24" width="1.5" height="1.5" fill="#e07010"/><rect x="22.5" y="24" width="1.5" height="1.5" fill="#e07010"/><rect x="24" y="24" width="1.5" height="1.5" fill="#e0d000"/><rect x="27" y="24" width="1.5" height="1.5" fill="#3ab030"/><rect x="28.5" y="24" width="1.5" height="1.5" fill="#e0d000"/><rect x="0" y="25.5" width="1.5" height="1.5" fill="#e07010"/><rect x="7.5" y="25.5" width="1.5" height="1.5" fill="#e07010"/><rect x="15" y="25.5" width="1.5" height="1.5" fill="#c41c14"/><rect x="16.5" y="25.5" width="1.5" height="1.5" fill="#861414"/><rect x="18" y="25.5" width="1.5" height="1.5" fill="#3ab030"/><rect x="24" y="25.5" width="1.5" height="1.5" fill="#3ab030"/><rect x="25.5" y="25.5" width="1.5" height="1.5" fill="#e07010"/><rect x="28.5" y="25.5" width="1.5" height="1.5" fill="#2030a0"/></pattern><pattern id="hB" patternUnits="userSpaceOnUse" width="30" height="27"><rect x="1.5" y="0" width="1.5" height="1.5" fill="#e0d000"/><rect x="3" y="0" width="1.5" height="1.5" fill="#2040b0"/><rect x="4.5" y="0" width="1.5" height="1.5" fill="#e0d000"/><rect x="9" y="0" width="1.5" height="1.5" fill="#e0d000"/><rect x="12" y="0" width="1.5" height="1.5" fill="#e0d000"/><rect x="15" y="0" width="1.5" height="1.5" fill="#e0d000"/><rect x="16.5" y="0" width="1.5" height="1.5" fill="#e0d000"/><rect x="19.5" y="0" width="1.5" height="1.5" fill="#3ab030"/><rect x="21" y="0" width="1.5" height="1.5" fill="#e0d000"/><rect x="22.5" y="0" width="1.5" height="1.5" fill="#e0d000"/><rect x="24" y="0" width="1.5" height="1.5" fill="#2040b0"/><rect x="25.5" y="0" width="1.5" height="1.5" fill="#e07010"/><rect x="27" y="0" width="1.5" height="1.5" fill="#2040b0"/><rect x="0" y="1.5" width="1.5" height="1.5" fill="#e07010"/><rect x="1.5" y="1.5" width="1.5" height="1.5" fill="#e0d000"/><rect x="3" y="1.5" width="1.5" height="1.5" fill="#3ab030"/><rect x="4.5" y="1.5" width="1.5" height="1.5" fill="#e0d000"/><rect x="6" y="1.5" width="1.5" height="1.5" fill="#e0d000"/><rect x="7.5" y="1.5" width="1.5" height="1.5" fill="#e0d000"/><rect x="10.5" y="1.5" width="1.5" height="1.5" fill="#3ab030"/><rect x="12" y="1.5" width="1.5" height="1.5" fill="#e0d000"/><rect x="13.5" y="1.5" width="1.5" height="1.5" fill="#2040b0"/><rect x="15" y="1.5" width="1.5" height="1.5" fill="#2040b0"/><rect x="19.5" y="1.5" width="1.5" height="1.5" fill="#e0d000"/><rect x="21" y="1.5" width="1.5" height="1.5" fill="#e0d000"/><rect x="22.5" y="1.5" width="1.5" height="1.5" fill="#e0d000"/><rect x="24" y="1.5" width="1.5" height="1.5" fill="#2040b0"/><rect x="28.5" y="1.5" width="1.5" height="1.5" fill="#2040b0"/><rect x="1.5" y="3" width="1.5" height="1.5" fill="#e0d000"/><rect x="3" y="3" width="1.5" height="1.5" fill="#3ab030"/><rect x="4.5" y="3" width="1.5" height="1.5" fill="#2040b0"/><rect x="6" y="3" width="1.5" height="1.5" fill="#e0d000"/><rect x="7.5" y="3" width="1.5" height="1.5" fill="#2040b0"/><rect x="10.5" y="3" width="1.5" height="1.5" fill="#3ab030"/><rect x="12" y="3" width="1.5" height="1.5" fill="#2040b0"/><rect x="13.5" y="3" width="1.5" height="1.5" fill="#e0d000"/><rect x="15" y="3" width="1.5" height="1.5" fill="#e07010"/><rect x="16.5" y="3" width="1.5" height="1.5" fill="#e0d000"/><rect x="19.5" y="3" width="1.5" height="1.5" fill="#3ab030"/><rect x="21" y="3" width="1.5" height="1.5" fill="#e0d000"/><rect x="24" y="3" width="1.5" height="1.5" fill="#e0d000"/><rect x="25.5" y="3" width="1.5" height="1.5" fill="#2040b0"/><rect x="27" y="3" width="1.5" height="1.5" fill="#3ab030"/><rect x="28.5" y="3" width="1.5" height="1.5" fill="#2040b0"/><rect x="0" y="4.5" width="1.5" height="1.5" fill="#3ab030"/><rect x="3" y="4.5" width="1.5" height="1.5" fill="#2040b0"/><rect x="4.5" y="4.5" width="1.5" height="1.5" fill="#2040b0"/><rect x="6" y="4.5" width="1.5" height="1.5" fill="#2040b0"/><rect x="9" y="4.5" width="1.5" height="1.5" fill="#3ab030"/><rect x="10.5" y="4.5" width="1.5" height="1.5" fill="#e07010"/><rect x="13.5" y="4.5" width="1.5" height="1.5" fill="#2040b0"/><rect x="15" y="4.5" width="1.5" height="1.5" fill="#e0d000"/><rect x="16.5" y="4.5" width="1.5" height="1.5" fill="#2040b0"/><rect x="18" y="4.5" width="1.5" height="1.5" fill="#2040b0"/><rect x="19.5" y="4.5" width="1.5" height="1.5" fill="#e07010"/><rect x="21" y="4.5" width="1.5" height="1.5" fill="#3ab030"/><rect x="22.5" y="4.5" width="1.5" height="1.5" fill="#e0d000"/><rect x="25.5" y="4.5" width="1.5" height="1.5" fill="#2040b0"/><rect x="27" y="4.5" width="1.5" height="1.5" fill="#e0d000"/><rect x="0" y="6" width="1.5" height="1.5" fill="#e0d000"/><rect x="1.5" y="6" width="1.5" height="1.5" fill="#e0d000"/><rect x="3" y="6" width="1.5" height="1.5" fill="#e0d000"/><rect x="4.5" y="6" width="1.5" height="1.5" fill="#3ab030"/><rect x="6" y="6" width="1.5" height="1.5" fill="#e0d000"/><rect x="7.5" y="6" width="1.5" height="1.5" fill="#e0d000"/><rect x="10.5" y="6" width="1.5" height="1.5" fill="#3ab030"/><rect x="12" y="6" width="1.5" height="1.5" fill="#e0d000"/><rect x="16.5" y="6" width="1.5" height="1.5" fill="#3ab030"/><rect x="18" y="6" width="1.5" height="1.5" fill="#3ab030"/><rect x="19.5" y="6" width="1.5" height="1.5" fill="#3ab030"/><rect x="21" y="6" width="1.5" height="1.5" fill="#e0d000"/><rect x="25.5" y="6" width="1.5" height="1.5" fill="#3ab030"/><rect x="27" y="6" width="1.5" height="1.5" fill="#e07010"/><rect x="28.5" y="6" width="1.5" height="1.5" fill="#e0d000"/><rect x="0" y="7.5" width="1.5" height="1.5" fill="#e0d000"/><rect x="1.5" y="7.5" width="1.5" height="1.5" fill="#e0d000"/><rect x="3" y="7.5" width="1.5" height="1.5" fill="#e0d000"/><rect x="6" y="7.5" width="1.5" height="1.5" fill="#2040b0"/><rect x="7.5" y="7.5" width="1.5" height="1.5" fill="#e0d000"/><rect x="9" y="7.5" width="1.5" height="1.5" fill="#e0d000"/><rect x="13.5" y="7.5" width="1.5" height="1.5" fill="#2040b0"/><rect x="15" y="7.5" width="1.5" height="1.5" fill="#e07010"/><rect x="16.5" y="7.5" width="1.5" height="1.5" fill="#2040b0"/><rect x="19.5" y="7.5" width="1.5" height="1.5" fill="#2040b0"/><rect x="21" y="7.5" width="1.5" height="1.5" fill="#2040b0"/><rect x="22.5" y="7.5" width="1.5" height="1.5" fill="#e0d000"/><rect x="24" y="7.5" width="1.5" height="1.5" fill="#3ab030"/><rect x="25.5" y="7.5" width="1.5" height="1.5" fill="#3ab030"/><rect x="27" y="7.5" width="1.5" height="1.5" fill="#3ab030"/><rect x="28.5" y="7.5" width="1.5" height="1.5" fill="#3ab030"/><rect x="3" y="9" width="1.5" height="1.5" fill="#e0d000"/><rect x="4.5" y="9" width="1.5" height="1.5" fill="#2040b0"/><rect x="6" y="9" width="1.5" height="1.5" fill="#e0d000"/><rect x="7.5" y="9" width="1.5" height="1.5" fill="#e0d000"/><rect x="9" y="9" width="1.5" height="1.5" fill="#e0d000"/><rect x="10.5" y="9" width="1.5" height="1.5" fill="#e0d000"/><rect x="13.5" y="9" width="1.5" height="1.5" fill="#e0d000"/><rect x="15" y="9" width="1.5" height="1.5" fill="#e0d000"/><rect x="16.5" y="9" width="1.5" height="1.5" fill="#e0d000"/><rect x="18" y="9" width="1.5" height="1.5" fill="#e0d000"/><rect x="21" y="9" width="1.5" height="1.5" fill="#e0d000"/><rect x="22.5" y="9" width="1.5" height="1.5" fill="#3ab030"/><rect x="24" y="9" width="1.5" height="1.5" fill="#2040b0"/><rect x="25.5" y="9" width="1.5" height="1.5" fill="#e0d000"/><rect x="27" y="9" width="1.5" height="1.5" fill="#e0d000"/><rect x="1.5" y="10.5" width="1.5" height="1.5" fill="#e0d000"/><rect x="3" y="10.5" width="1.5" height="1.5" fill="#3ab030"/><rect x="4.5" y="10.5" width="1.5" height="1.5" fill="#e07010"/><rect x="9" y="10.5" width="1.5" height="1.5" fill="#e0d000"/><rect x="10.5" y="10.5" width="1.5" height="1.5" fill="#e0d000"/><rect x="13.5" y="10.5" width="1.5" height="1.5" fill="#e0d000"/><rect x="15" y="10.5" width="1.5" height="1.5" fill="#3ab030"/><rect x="16.5" y="10.5" width="1.5" height="1.5" fill="#e0d000"/><rect x="18" y="10.5" width="1.5" height="1.5" fill="#e0d000"/><rect x="19.5" y="10.5" width="1.5" height="1.5" fill="#e07010"/><rect x="22.5" y="10.5" width="1.5" height="1.5" fill="#e0d000"/><rect x="25.5" y="10.5" width="1.5" height="1.5" fill="#e0d000"/><rect x="28.5" y="10.5" width="1.5" height="1.5" fill="#e07010"/><rect x="0" y="12" width="1.5" height="1.5" fill="#3ab030"/><rect x="1.5" y="12" width="1.5" height="1.5" fill="#2040b0"/><rect x="3" y="12" width="1.5" height="1.5" fill="#e0d000"/><rect x="6" y="12" width="1.5" height="1.5" fill="#e0d000"/><rect x="7.5" y="12" width="1.5" height="1.5" fill="#3ab030"/><rect x="10.5" y="12" width="1.5" height="1.5" fill="#3ab030"/><rect x="13.5" y="12" width="1.5" height="1.5" fill="#e0d000"/><rect x="15" y="12" width="1.5" height="1.5" fill="#3ab030"/><rect x="16.5" y="12" width="1.5" height="1.5" fill="#e07010"/><rect x="18" y="12" width="1.5" height="1.5" fill="#3ab030"/><rect x="19.5" y="12" width="1.5" height="1.5" fill="#3ab030"/><rect x="21" y="12" width="1.5" height="1.5" fill="#3ab030"/><rect x="22.5" y="12" width="1.5" height="1.5" fill="#2040b0"/><rect x="24" y="12" width="1.5" height="1.5" fill="#e0d000"/><rect x="28.5" y="12" width="1.5" height="1.5" fill="#e0d000"/><rect x="0" y="13.5" width="1.5" height="1.5" fill="#e0d000"/><rect x="1.5" y="13.5" width="1.5" height="1.5" fill="#e0d000"/><rect x="3" y="13.5" width="1.5" height="1.5" fill="#e0d000"/><rect x="4.5" y="13.5" width="1.5" height="1.5" fill="#2040b0"/><rect x="6" y="13.5" width="1.5" height="1.5" fill="#e07010"/><rect x="9" y="13.5" width="1.5" height="1.5" fill="#e07010"/><rect x="10.5" y="13.5" width="1.5" height="1.5" fill="#e07010"/><rect x="12" y="13.5" width="1.5" height="1.5" fill="#e07010"/><rect x="15" y="13.5" width="1.5" height="1.5" fill="#e0d000"/><rect x="16.5" y="13.5" width="1.5" height="1.5" fill="#e0d000"/><rect x="18" y="13.5" width="1.5" height="1.5" fill="#e0d000"/><rect x="19.5" y="13.5" width="1.5" height="1.5" fill="#e0d000"/><rect x="21" y="13.5" width="1.5" height="1.5" fill="#2040b0"/><rect x="22.5" y="13.5" width="1.5" height="1.5" fill="#e07010"/><rect x="24" y="13.5" width="1.5" height="1.5" fill="#3ab030"/><rect x="27" y="13.5" width="1.5" height="1.5" fill="#2040b0"/><rect x="28.5" y="13.5" width="1.5" height="1.5" fill="#3ab030"/><rect x="0" y="15" width="1.5" height="1.5" fill="#e0d000"/><rect x="1.5" y="15" width="1.5" height="1.5" fill="#2040b0"/><rect x="3" y="15" width="1.5" height="1.5" fill="#e07010"/><rect x="4.5" y="15" width="1.5" height="1.5" fill="#3ab030"/><rect x="6" y="15" width="1.5" height="1.5" fill="#3ab030"/><rect x="9" y="15" width="1.5" height="1.5" fill="#e0d000"/><rect x="10.5" y="15" width="1.5" height="1.5" fill="#3ab030"/><rect x="13.5" y="15" width="1.5" height="1.5" fill="#3ab030"/><rect x="15" y="15" width="1.5" height="1.5" fill="#e07010"/><rect x="19.5" y="15" width="1.5" height="1.5" fill="#e07010"/><rect x="21" y="15" width="1.5" height="1.5" fill="#2040b0"/><rect x="22.5" y="15" width="1.5" height="1.5" fill="#e0d000"/><rect x="24" y="15" width="1.5" height="1.5" fill="#e0d000"/><rect x="25.5" y="15" width="1.5" height="1.5" fill="#e0d000"/><rect x="27" y="15" width="1.5" height="1.5" fill="#e07010"/><rect x="28.5" y="15" width="1.5" height="1.5" fill="#3ab030"/><rect x="0" y="16.5" width="1.5" height="1.5" fill="#e0d000"/><rect x="1.5" y="16.5" width="1.5" height="1.5" fill="#3ab030"/><rect x="3" y="16.5" width="1.5" height="1.5" fill="#e07010"/><rect x="4.5" y="16.5" width="1.5" height="1.5" fill="#2040b0"/><rect x="9" y="16.5" width="1.5" height="1.5" fill="#e0d000"/><rect x="10.5" y="16.5" width="1.5" height="1.5" fill="#e0d000"/><rect x="12" y="16.5" width="1.5" height="1.5" fill="#e07010"/><rect x="13.5" y="16.5" width="1.5" height="1.5" fill="#2040b0"/><rect x="16.5" y="16.5" width="1.5" height="1.5" fill="#e07010"/><rect x="19.5" y="16.5" width="1.5" height="1.5" fill="#3ab030"/><rect x="21" y="16.5" width="1.5" height="1.5" fill="#3ab030"/><rect x="22.5" y="16.5" width="1.5" height="1.5" fill="#e0d000"/><rect x="24" y="16.5" width="1.5" height="1.5" fill="#e0d000"/><rect x="25.5" y="16.5" width="1.5" height="1.5" fill="#e0d000"/><rect x="27" y="16.5" width="1.5" height="1.5" fill="#e0d000"/><rect x="28.5" y="16.5" width="1.5" height="1.5" fill="#2040b0"/><rect x="0" y="18" width="1.5" height="1.5" fill="#e0d000"/><rect x="3" y="18" width="1.5" height="1.5" fill="#e0d000"/><rect x="4.5" y="18" width="1.5" height="1.5" fill="#e07010"/><rect x="9" y="18" width="1.5" height="1.5" fill="#2040b0"/><rect x="10.5" y="18" width="1.5" height="1.5" fill="#e07010"/><rect x="13.5" y="18" width="1.5" height="1.5" fill="#e07010"/><rect x="19.5" y="18" width="1.5" height="1.5" fill="#e0d000"/><rect x="22.5" y="18" width="1.5" height="1.5" fill="#e0d000"/><rect x="24" y="18" width="1.5" height="1.5" fill="#e0d000"/><rect x="25.5" y="18" width="1.5" height="1.5" fill="#3ab030"/><rect x="27" y="18" width="1.5" height="1.5" fill="#e0d000"/><rect x="0" y="19.5" width="1.5" height="1.5" fill="#2040b0"/><rect x="1.5" y="19.5" width="1.5" height="1.5" fill="#2040b0"/><rect x="6" y="19.5" width="1.5" height="1.5" fill="#2040b0"/><rect x="7.5" y="19.5" width="1.5" height="1.5" fill="#3ab030"/><rect x="9" y="19.5" width="1.5" height="1.5" fill="#e0d000"/><rect x="10.5" y="19.5" width="1.5" height="1.5" fill="#2040b0"/><rect x="12" y="19.5" width="1.5" height="1.5" fill="#e0d000"/><rect x="13.5" y="19.5" width="1.5" height="1.5" fill="#e0d000"/><rect x="15" y="19.5" width="1.5" height="1.5" fill="#3ab030"/><rect x="18" y="19.5" width="1.5" height="1.5" fill="#2040b0"/><rect x="19.5" y="19.5" width="1.5" height="1.5" fill="#3ab030"/><rect x="21" y="19.5" width="1.5" height="1.5" fill="#e07010"/><rect x="24" y="19.5" width="1.5" height="1.5" fill="#2040b0"/><rect x="28.5" y="19.5" width="1.5" height="1.5" fill="#2040b0"/><rect x="4.5" y="21" width="1.5" height="1.5" fill="#e07010"/><rect x="6" y="21" width="1.5" height="1.5" fill="#2040b0"/><rect x="7.5" y="21" width="1.5" height="1.5" fill="#3ab030"/><rect x="9" y="21" width="1.5" height="1.5" fill="#e07010"/><rect x="10.5" y="21" width="1.5" height="1.5" fill="#e0d000"/><rect x="12" y="21" width="1.5" height="1.5" fill="#2040b0"/><rect x="13.5" y="21" width="1.5" height="1.5" fill="#e07010"/><rect x="15" y="21" width="1.5" height="1.5" fill="#3ab030"/><rect x="16.5" y="21" width="1.5" height="1.5" fill="#e0d000"/><rect x="18" y="21" width="1.5" height="1.5" fill="#e0d000"/><rect x="21" y="21" width="1.5" height="1.5" fill="#e0d000"/><rect x="22.5" y="21" width="1.5" height="1.5" fill="#e0d000"/><rect x="24" y="21" width="1.5" height="1.5" fill="#e0d000"/><rect x="25.5" y="21" width="1.5" height="1.5" fill="#2040b0"/><rect x="27" y="21" width="1.5" height="1.5" fill="#3ab030"/><rect x="28.5" y="21" width="1.5" height="1.5" fill="#3ab030"/><rect x="0" y="22.5" width="1.5" height="1.5" fill="#e0d000"/><rect x="1.5" y="22.5" width="1.5" height="1.5" fill="#2040b0"/><rect x="3" y="22.5" width="1.5" height="1.5" fill="#2040b0"/><rect x="4.5" y="22.5" width="1.5" height="1.5" fill="#e0d000"/><rect x="6" y="22.5" width="1.5" height="1.5" fill="#3ab030"/><rect x="7.5" y="22.5" width="1.5" height="1.5" fill="#e07010"/><rect x="9" y="22.5" width="1.5" height="1.5" fill="#e0d000"/><rect x="10.5" y="22.5" width="1.5" height="1.5" fill="#e07010"/><rect x="15" y="22.5" width="1.5" height="1.5" fill="#e07010"/><rect x="16.5" y="22.5" width="1.5" height="1.5" fill="#3ab030"/><rect x="18" y="22.5" width="1.5" height="1.5" fill="#e0d000"/><rect x="24" y="22.5" width="1.5" height="1.5" fill="#e0d000"/><rect x="27" y="22.5" width="1.5" height="1.5" fill="#2040b0"/><rect x="28.5" y="22.5" width="1.5" height="1.5" fill="#e0d000"/><rect x="0" y="24" width="1.5" height="1.5" fill="#2040b0"/><rect x="3" y="24" width="1.5" height="1.5" fill="#e0d000"/><rect x="6" y="24" width="1.5" height="1.5" fill="#2040b0"/><rect x="9" y="24" width="1.5" height="1.5" fill="#e0d000"/><rect x="10.5" y="24" width="1.5" height="1.5" fill="#e07010"/><rect x="12" y="24" width="1.5" height="1.5" fill="#3ab030"/><rect x="13.5" y="24" width="1.5" height="1.5" fill="#e07010"/><rect x="15" y="24" width="1.5" height="1.5" fill="#e0d000"/><rect x="16.5" y="24" width="1.5" height="1.5" fill="#e0d000"/><rect x="18" y="24" width="1.5" height="1.5" fill="#e0d000"/><rect x="19.5" y="24" width="1.5" height="1.5" fill="#3ab030"/><rect x="21" y="24" width="1.5" height="1.5" fill="#e0d000"/><rect x="22.5" y="24" width="1.5" height="1.5" fill="#e0d000"/><rect x="25.5" y="24" width="1.5" height="1.5" fill="#e07010"/><rect x="27" y="24" width="1.5" height="1.5" fill="#3ab030"/><rect x="28.5" y="24" width="1.5" height="1.5" fill="#e0d000"/><rect x="0" y="25.5" width="1.5" height="1.5" fill="#e0d000"/><rect x="1.5" y="25.5" width="1.5" height="1.5" fill="#e07010"/><rect x="3" y="25.5" width="1.5" height="1.5" fill="#2040b0"/><rect x="4.5" y="25.5" width="1.5" height="1.5" fill="#2040b0"/><rect x="6" y="25.5" width="1.5" height="1.5" fill="#e0d000"/><rect x="7.5" y="25.5" width="1.5" height="1.5" fill="#e0d000"/><rect x="9" y="25.5" width="1.5" height="1.5" fill="#2040b0"/><rect x="12" y="25.5" width="1.5" height="1.5" fill="#e0d000"/><rect x="13.5" y="25.5" width="1.5" height="1.5" fill="#e07010"/><rect x="15" y="25.5" width="1.5" height="1.5" fill="#2040b0"/><rect x="16.5" y="25.5" width="1.5" height="1.5" fill="#3ab030"/><rect x="18" y="25.5" width="1.5" height="1.5" fill="#e0d000"/><rect x="19.5" y="25.5" width="1.5" height="1.5" fill="#3ab030"/><rect x="21" y="25.5" width="1.5" height="1.5" fill="#e0d000"/><rect x="22.5" y="25.5" width="1.5" height="1.5" fill="#3ab030"/><rect x="27" y="25.5" width="1.5" height="1.5" fill="#2040b0"/><rect x="28.5" y="25.5" width="1.5" height="1.5" fill="#e07010"/></pattern><pattern id="hYG" patternUnits="userSpaceOnUse" width="30" height="27"><rect x="0" y="0" width="1.5" height="1.5" fill="#e0d000"/><rect x="1.5" y="0" width="1.5" height="1.5" fill="#0e8060"/><rect x="3" y="0" width="1.5" height="1.5" fill="#e0d000"/><rect x="6" y="0" width="1.5" height="1.5" fill="#e0d000"/><rect x="7.5" y="0" width="1.5" height="1.5" fill="#e0d000"/><rect x="9" y="0" width="1.5" height="1.5" fill="#0e8060"/><rect x="10.5" y="0" width="1.5" height="1.5" fill="#e0d000"/><rect x="12" y="0" width="1.5" height="1.5" fill="#90d000"/><rect x="13.5" y="0" width="1.5" height="1.5" fill="#3ab030"/><rect x="15" y="0" width="1.5" height="1.5" fill="#3ab030"/><rect x="16.5" y="0" width="1.5" height="1.5" fill="#3ab030"/><rect x="18" y="0" width="1.5" height="1.5" fill="#e0d000"/><rect x="21" y="0" width="1.5" height="1.5" fill="#e0d000"/><rect x="22.5" y="0" width="1.5" height="1.5" fill="#e0d000"/><rect x="24" y="0" width="1.5" height="1.5" fill="#e0d000"/><rect x="25.5" y="0" width="1.5" height="1.5" fill="#3ab030"/><rect x="27" y="0" width="1.5" height="1.5" fill="#3ab030"/><rect x="28.5" y="0" width="1.5" height="1.5" fill="#e07010"/><rect x="0" y="1.5" width="1.5" height="1.5" fill="#3ab030"/><rect x="1.5" y="1.5" width="1.5" height="1.5" fill="#e0d000"/><rect x="3" y="1.5" width="1.5" height="1.5" fill="#e0d000"/><rect x="4.5" y="1.5" width="1.5" height="1.5" fill="#0e8060"/><rect x="6" y="1.5" width="1.5" height="1.5" fill="#e0d000"/><rect x="7.5" y="1.5" width="1.5" height="1.5" fill="#90d000"/><rect x="9" y="1.5" width="1.5" height="1.5" fill="#3ab030"/><rect x="10.5" y="1.5" width="1.5" height="1.5" fill="#90d000"/><rect x="12" y="1.5" width="1.5" height="1.5" fill="#3ab030"/><rect x="15" y="1.5" width="1.5" height="1.5" fill="#3ab030"/><rect x="16.5" y="1.5" width="1.5" height="1.5" fill="#90d000"/><rect x="18" y="1.5" width="1.5" height="1.5" fill="#e07010"/><rect x="19.5" y="1.5" width="1.5" height="1.5" fill="#90d000"/><rect x="21" y="1.5" width="1.5" height="1.5" fill="#e0d000"/><rect x="22.5" y="1.5" width="1.5" height="1.5" fill="#e0d000"/><rect x="24" y="1.5" width="1.5" height="1.5" fill="#0e8060"/><rect x="25.5" y="1.5" width="1.5" height="1.5" fill="#3ab030"/><rect x="27" y="1.5" width="1.5" height="1.5" fill="#e0d000"/><rect x="28.5" y="1.5" width="1.5" height="1.5" fill="#0e8060"/><rect x="0" y="3" width="1.5" height="1.5" fill="#90d000"/><rect x="3" y="3" width="1.5" height="1.5" fill="#e07010"/><rect x="4.5" y="3" width="1.5" height="1.5" fill="#3ab030"/><rect x="6" y="3" width="1.5" height="1.5" fill="#3ab030"/><rect x="7.5" y="3" width="1.5" height="1.5" fill="#e07010"/><rect x="9" y="3" width="1.5" height="1.5" fill="#e0d000"/><rect x="12" y="3" width="1.5" height="1.5" fill="#e0d000"/><rect x="16.5" y="3" width="1.5" height="1.5" fill="#0e8060"/><rect x="19.5" y="3" width="1.5" height="1.5" fill="#3ab030"/><rect x="21" y="3" width="1.5" height="1.5" fill="#e0d000"/><rect x="22.5" y="3" width="1.5" height="1.5" fill="#e0d000"/><rect x="24" y="3" width="1.5" height="1.5" fill="#90d000"/><rect x="25.5" y="3" width="1.5" height="1.5" fill="#3ab030"/><rect x="27" y="3" width="1.5" height="1.5" fill="#e0d000"/><rect x="28.5" y="3" width="1.5" height="1.5" fill="#e07010"/><rect x="0" y="4.5" width="1.5" height="1.5" fill="#3ab030"/><rect x="3" y="4.5" width="1.5" height="1.5" fill="#e0d000"/><rect x="4.5" y="4.5" width="1.5" height="1.5" fill="#e0d000"/><rect x="6" y="4.5" width="1.5" height="1.5" fill="#e0d000"/><rect x="7.5" y="4.5" width="1.5" height="1.5" fill="#3ab030"/><rect x="9" y="4.5" width="1.5" height="1.5" fill="#3ab030"/><rect x="10.5" y="4.5" width="1.5" height="1.5" fill="#3ab030"/><rect x="12" y="4.5" width="1.5" height="1.5" fill="#3ab030"/><rect x="15" y="4.5" width="1.5" height="1.5" fill="#e07010"/><rect x="16.5" y="4.5" width="1.5" height="1.5" fill="#e0d000"/><rect x="18" y="4.5" width="1.5" height="1.5" fill="#3ab030"/><rect x="19.5" y="4.5" width="1.5" height="1.5" fill="#e0d000"/><rect x="21" y="4.5" width="1.5" height="1.5" fill="#90d000"/><rect x="22.5" y="4.5" width="1.5" height="1.5" fill="#0e8060"/><rect x="24" y="4.5" width="1.5" height="1.5" fill="#e0d000"/><rect x="27" y="4.5" width="1.5" height="1.5" fill="#3ab030"/><rect x="28.5" y="4.5" width="1.5" height="1.5" fill="#e0d000"/><rect x="1.5" y="6" width="1.5" height="1.5" fill="#3ab030"/><rect x="3" y="6" width="1.5" height="1.5" fill="#e0d000"/><rect x="4.5" y="6" width="1.5" height="1.5" fill="#3ab030"/><rect x="6" y="6" width="1.5" height="1.5" fill="#e0d000"/><rect x="7.5" y="6" width="1.5" height="1.5" fill="#3ab030"/><rect x="9" y="6" width="1.5" height="1.5" fill="#3ab030"/><rect x="10.5" y="6" width="1.5" height="1.5" fill="#3ab030"/><rect x="12" y="6" width="1.5" height="1.5" fill="#90d000"/><rect x="13.5" y="6" width="1.5" height="1.5" fill="#3ab030"/><rect x="15" y="6" width="1.5" height="1.5" fill="#e0d000"/><rect x="16.5" y="6" width="1.5" height="1.5" fill="#e0d000"/><rect x="18" y="6" width="1.5" height="1.5" fill="#e0d000"/><rect x="19.5" y="6" width="1.5" height="1.5" fill="#90d000"/><rect x="21" y="6" width="1.5" height="1.5" fill="#3ab030"/><rect x="24" y="6" width="1.5" height="1.5" fill="#3ab030"/><rect x="27" y="6" width="1.5" height="1.5" fill="#0e8060"/><rect x="28.5" y="6" width="1.5" height="1.5" fill="#e0d000"/><rect x="0" y="7.5" width="1.5" height="1.5" fill="#e0d000"/><rect x="1.5" y="7.5" width="1.5" height="1.5" fill="#e0d000"/><rect x="3" y="7.5" width="1.5" height="1.5" fill="#3ab030"/><rect x="4.5" y="7.5" width="1.5" height="1.5" fill="#90d000"/><rect x="7.5" y="7.5" width="1.5" height="1.5" fill="#3ab030"/><rect x="9" y="7.5" width="1.5" height="1.5" fill="#0e8060"/><rect x="10.5" y="7.5" width="1.5" height="1.5" fill="#e0d000"/><rect x="13.5" y="7.5" width="1.5" height="1.5" fill="#e0d000"/><rect x="15" y="7.5" width="1.5" height="1.5" fill="#e07010"/><rect x="16.5" y="7.5" width="1.5" height="1.5" fill="#e0d000"/><rect x="18" y="7.5" width="1.5" height="1.5" fill="#0e8060"/><rect x="21" y="7.5" width="1.5" height="1.5" fill="#0e8060"/><rect x="22.5" y="7.5" width="1.5" height="1.5" fill="#90d000"/><rect x="24" y="7.5" width="1.5" height="1.5" fill="#e0d000"/><rect x="25.5" y="7.5" width="1.5" height="1.5" fill="#0e8060"/><rect x="27" y="7.5" width="1.5" height="1.5" fill="#3ab030"/><rect x="28.5" y="7.5" width="1.5" height="1.5" fill="#e0d000"/><rect x="0" y="9" width="1.5" height="1.5" fill="#90d000"/><rect x="1.5" y="9" width="1.5" height="1.5" fill="#3ab030"/><rect x="3" y="9" width="1.5" height="1.5" fill="#3ab030"/><rect x="4.5" y="9" width="1.5" height="1.5" fill="#e0d000"/><rect x="6" y="9" width="1.5" height="1.5" fill="#e0d000"/><rect x="7.5" y="9" width="1.5" height="1.5" fill="#90d000"/><rect x="9" y="9" width="1.5" height="1.5" fill="#3ab030"/><rect x="10.5" y="9" width="1.5" height="1.5" fill="#e0d000"/><rect x="12" y="9" width="1.5" height="1.5" fill="#3ab030"/><rect x="16.5" y="9" width="1.5" height="1.5" fill="#3ab030"/><rect x="18" y="9" width="1.5" height="1.5" fill="#3ab030"/><rect x="19.5" y="9" width="1.5" height="1.5" fill="#3ab030"/><rect x="21" y="9" width="1.5" height="1.5" fill="#e0d000"/><rect x="22.5" y="9" width="1.5" height="1.5" fill="#e0d000"/><rect x="24" y="9" width="1.5" height="1.5" fill="#3ab030"/><rect x="25.5" y="9" width="1.5" height="1.5" fill="#e0d000"/><rect x="0" y="10.5" width="1.5" height="1.5" fill="#90d000"/><rect x="1.5" y="10.5" width="1.5" height="1.5" fill="#e0d000"/><rect x="3" y="10.5" width="1.5" height="1.5" fill="#3ab030"/><rect x="4.5" y="10.5" width="1.5" height="1.5" fill="#3ab030"/><rect x="6" y="10.5" width="1.5" height="1.5" fill="#e0d000"/><rect x="7.5" y="10.5" width="1.5" height="1.5" fill="#0e8060"/><rect x="10.5" y="10.5" width="1.5" height="1.5" fill="#3ab030"/><rect x="13.5" y="10.5" width="1.5" height="1.5" fill="#e0d000"/><rect x="15" y="10.5" width="1.5" height="1.5" fill="#e0d000"/><rect x="16.5" y="10.5" width="1.5" height="1.5" fill="#90d000"/><rect x="19.5" y="10.5" width="1.5" height="1.5" fill="#90d000"/><rect x="21" y="10.5" width="1.5" height="1.5" fill="#e0d000"/><rect x="22.5" y="10.5" width="1.5" height="1.5" fill="#90d000"/><rect x="24" y="10.5" width="1.5" height="1.5" fill="#e07010"/><rect x="27" y="10.5" width="1.5" height="1.5" fill="#0e8060"/><rect x="28.5" y="10.5" width="1.5" height="1.5" fill="#0e8060"/><rect x="0" y="12" width="1.5" height="1.5" fill="#e0d000"/><rect x="1.5" y="12" width="1.5" height="1.5" fill="#3ab030"/><rect x="3" y="12" width="1.5" height="1.5" fill="#90d000"/><rect x="4.5" y="12" width="1.5" height="1.5" fill="#0e8060"/><rect x="6" y="12" width="1.5" height="1.5" fill="#3ab030"/><rect x="7.5" y="12" width="1.5" height="1.5" fill="#0e8060"/><rect x="10.5" y="12" width="1.5" height="1.5" fill="#3ab030"/><rect x="12" y="12" width="1.5" height="1.5" fill="#90d000"/><rect x="13.5" y="12" width="1.5" height="1.5" fill="#0e8060"/><rect x="16.5" y="12" width="1.5" height="1.5" fill="#3ab030"/><rect x="19.5" y="12" width="1.5" height="1.5" fill="#e0d000"/><rect x="21" y="12" width="1.5" height="1.5" fill="#3ab030"/><rect x="22.5" y="12" width="1.5" height="1.5" fill="#0e8060"/><rect x="25.5" y="12" width="1.5" height="1.5" fill="#3ab030"/><rect x="27" y="12" width="1.5" height="1.5" fill="#3ab030"/><rect x="28.5" y="12" width="1.5" height="1.5" fill="#90d000"/><rect x="3" y="13.5" width="1.5" height="1.5" fill="#0e8060"/><rect x="7.5" y="13.5" width="1.5" height="1.5" fill="#90d000"/><rect x="9" y="13.5" width="1.5" height="1.5" fill="#3ab030"/><rect x="10.5" y="13.5" width="1.5" height="1.5" fill="#3ab030"/><rect x="12" y="13.5" width="1.5" height="1.5" fill="#3ab030"/><rect x="13.5" y="13.5" width="1.5" height="1.5" fill="#90d000"/><rect x="16.5" y="13.5" width="1.5" height="1.5" fill="#3ab030"/><rect x="18" y="13.5" width="1.5" height="1.5" fill="#e0d000"/><rect x="21" y="13.5" width="1.5" height="1.5" fill="#3ab030"/><rect x="22.5" y="13.5" width="1.5" height="1.5" fill="#3ab030"/><rect x="24" y="13.5" width="1.5" height="1.5" fill="#e0d000"/><rect x="27" y="13.5" width="1.5" height="1.5" fill="#3ab030"/><rect x="28.5" y="13.5" width="1.5" height="1.5" fill="#3ab030"/><rect x="1.5" y="15" width="1.5" height="1.5" fill="#3ab030"/><rect x="3" y="15" width="1.5" height="1.5" fill="#3ab030"/><rect x="4.5" y="15" width="1.5" height="1.5" fill="#e07010"/><rect x="6" y="15" width="1.5" height="1.5" fill="#3ab030"/><rect x="7.5" y="15" width="1.5" height="1.5" fill="#3ab030"/><rect x="9" y="15" width="1.5" height="1.5" fill="#0e8060"/><rect x="13.5" y="15" width="1.5" height="1.5" fill="#e0d000"/><rect x="16.5" y="15" width="1.5" height="1.5" fill="#90d000"/><rect x="19.5" y="15" width="1.5" height="1.5" fill="#3ab030"/><rect x="24" y="15" width="1.5" height="1.5" fill="#3ab030"/><rect x="25.5" y="15" width="1.5" height="1.5" fill="#90d000"/><rect x="28.5" y="15" width="1.5" height="1.5" fill="#0e8060"/><rect x="0" y="16.5" width="1.5" height="1.5" fill="#0e8060"/><rect x="3" y="16.5" width="1.5" height="1.5" fill="#e0d000"/><rect x="4.5" y="16.5" width="1.5" height="1.5" fill="#90d000"/><rect x="7.5" y="16.5" width="1.5" height="1.5" fill="#e0d000"/><rect x="9" y="16.5" width="1.5" height="1.5" fill="#3ab030"/><rect x="10.5" y="16.5" width="1.5" height="1.5" fill="#e07010"/><rect x="12" y="16.5" width="1.5" height="1.5" fill="#e07010"/><rect x="13.5" y="16.5" width="1.5" height="1.5" fill="#0e8060"/><rect x="15" y="16.5" width="1.5" height="1.5" fill="#e0d000"/><rect x="16.5" y="16.5" width="1.5" height="1.5" fill="#90d000"/><rect x="18" y="16.5" width="1.5" height="1.5" fill="#e07010"/><rect x="19.5" y="16.5" width="1.5" height="1.5" fill="#90d000"/><rect x="21" y="16.5" width="1.5" height="1.5" fill="#3ab030"/><rect x="22.5" y="16.5" width="1.5" height="1.5" fill="#e0d000"/><rect x="24" y="16.5" width="1.5" height="1.5" fill="#e07010"/><rect x="27" y="16.5" width="1.5" height="1.5" fill="#90d000"/><rect x="28.5" y="16.5" width="1.5" height="1.5" fill="#3ab030"/><rect x="4.5" y="18" width="1.5" height="1.5" fill="#90d000"/><rect x="6" y="18" width="1.5" height="1.5" fill="#3ab030"/><rect x="7.5" y="18" width="1.5" height="1.5" fill="#3ab030"/><rect x="9" y="18" width="1.5" height="1.5" fill="#3ab030"/><rect x="10.5" y="18" width="1.5" height="1.5" fill="#3ab030"/><rect x="12" y="18" width="1.5" height="1.5" fill="#90d000"/><rect x="13.5" y="18" width="1.5" height="1.5" fill="#e0d000"/><rect x="16.5" y="18" width="1.5" height="1.5" fill="#3ab030"/><rect x="18" y="18" width="1.5" height="1.5" fill="#e0d000"/><rect x="19.5" y="18" width="1.5" height="1.5" fill="#e0d000"/><rect x="21" y="18" width="1.5" height="1.5" fill="#3ab030"/><rect x="22.5" y="18" width="1.5" height="1.5" fill="#3ab030"/><rect x="25.5" y="18" width="1.5" height="1.5" fill="#e0d000"/><rect x="27" y="18" width="1.5" height="1.5" fill="#e0d000"/><rect x="28.5" y="18" width="1.5" height="1.5" fill="#3ab030"/><rect x="0" y="19.5" width="1.5" height="1.5" fill="#e0d000"/><rect x="3" y="19.5" width="1.5" height="1.5" fill="#e0d000"/><rect x="4.5" y="19.5" width="1.5" height="1.5" fill="#e0d000"/><rect x="6" y="19.5" width="1.5" height="1.5" fill="#90d000"/><rect x="10.5" y="19.5" width="1.5" height="1.5" fill="#90d000"/><rect x="12" y="19.5" width="1.5" height="1.5" fill="#3ab030"/><rect x="13.5" y="19.5" width="1.5" height="1.5" fill="#e07010"/><rect x="16.5" y="19.5" width="1.5" height="1.5" fill="#3ab030"/><rect x="18" y="19.5" width="1.5" height="1.5" fill="#90d000"/><rect x="19.5" y="19.5" width="1.5" height="1.5" fill="#0e8060"/><rect x="21" y="19.5" width="1.5" height="1.5" fill="#0e8060"/><rect x="22.5" y="19.5" width="1.5" height="1.5" fill="#0e8060"/><rect x="24" y="19.5" width="1.5" height="1.5" fill="#e0d000"/><rect x="25.5" y="19.5" width="1.5" height="1.5" fill="#3ab030"/><rect x="27" y="19.5" width="1.5" height="1.5" fill="#3ab030"/><rect x="28.5" y="19.5" width="1.5" height="1.5" fill="#e0d000"/><rect x="1.5" y="21" width="1.5" height="1.5" fill="#e0d000"/><rect x="3" y="21" width="1.5" height="1.5" fill="#e07010"/><rect x="4.5" y="21" width="1.5" height="1.5" fill="#90d000"/><rect x="6" y="21" width="1.5" height="1.5" fill="#90d000"/><rect x="7.5" y="21" width="1.5" height="1.5" fill="#3ab030"/><rect x="9" y="21" width="1.5" height="1.5" fill="#0e8060"/><rect x="10.5" y="21" width="1.5" height="1.5" fill="#90d000"/><rect x="12" y="21" width="1.5" height="1.5" fill="#e07010"/><rect x="13.5" y="21" width="1.5" height="1.5" fill="#0e8060"/><rect x="16.5" y="21" width="1.5" height="1.5" fill="#0e8060"/><rect x="18" y="21" width="1.5" height="1.5" fill="#3ab030"/><rect x="19.5" y="21" width="1.5" height="1.5" fill="#3ab030"/><rect x="22.5" y="21" width="1.5" height="1.5" fill="#90d000"/><rect x="24" y="21" width="1.5" height="1.5" fill="#3ab030"/><rect x="27" y="21" width="1.5" height="1.5" fill="#3ab030"/><rect x="28.5" y="21" width="1.5" height="1.5" fill="#e0d000"/><rect x="1.5" y="22.5" width="1.5" height="1.5" fill="#3ab030"/><rect x="3" y="22.5" width="1.5" height="1.5" fill="#0e8060"/><rect x="4.5" y="22.5" width="1.5" height="1.5" fill="#90d000"/><rect x="6" y="22.5" width="1.5" height="1.5" fill="#0e8060"/><rect x="7.5" y="22.5" width="1.5" height="1.5" fill="#3ab030"/><rect x="9" y="22.5" width="1.5" height="1.5" fill="#e0d000"/><rect x="10.5" y="22.5" width="1.5" height="1.5" fill="#90d000"/><rect x="15" y="22.5" width="1.5" height="1.5" fill="#90d000"/><rect x="16.5" y="22.5" width="1.5" height="1.5" fill="#e0d000"/><rect x="18" y="22.5" width="1.5" height="1.5" fill="#3ab030"/><rect x="19.5" y="22.5" width="1.5" height="1.5" fill="#e0d000"/><rect x="21" y="22.5" width="1.5" height="1.5" fill="#3ab030"/><rect x="22.5" y="22.5" width="1.5" height="1.5" fill="#0e8060"/><rect x="24" y="22.5" width="1.5" height="1.5" fill="#3ab030"/><rect x="27" y="22.5" width="1.5" height="1.5" fill="#90d000"/><rect x="28.5" y="22.5" width="1.5" height="1.5" fill="#e0d000"/><rect x="1.5" y="24" width="1.5" height="1.5" fill="#e0d000"/><rect x="3" y="24" width="1.5" height="1.5" fill="#e0d000"/><rect x="4.5" y="24" width="1.5" height="1.5" fill="#90d000"/><rect x="6" y="24" width="1.5" height="1.5" fill="#e0d000"/><rect x="7.5" y="24" width="1.5" height="1.5" fill="#0e8060"/><rect x="9" y="24" width="1.5" height="1.5" fill="#3ab030"/><rect x="10.5" y="24" width="1.5" height="1.5" fill="#90d000"/><rect x="12" y="24" width="1.5" height="1.5" fill="#0e8060"/><rect x="13.5" y="24" width="1.5" height="1.5" fill="#e0d000"/><rect x="15" y="24" width="1.5" height="1.5" fill="#0e8060"/><rect x="16.5" y="24" width="1.5" height="1.5" fill="#e0d000"/><rect x="18" y="24" width="1.5" height="1.5" fill="#90d000"/><rect x="19.5" y="24" width="1.5" height="1.5" fill="#90d000"/><rect x="21" y="24" width="1.5" height="1.5" fill="#0e8060"/><rect x="22.5" y="24" width="1.5" height="1.5" fill="#3ab030"/><rect x="24" y="24" width="1.5" height="1.5" fill="#0e8060"/><rect x="25.5" y="24" width="1.5" height="1.5" fill="#90d000"/><rect x="27" y="24" width="1.5" height="1.5" fill="#3ab030"/><rect x="28.5" y="24" width="1.5" height="1.5" fill="#e0d000"/><rect x="0" y="25.5" width="1.5" height="1.5" fill="#e0d000"/><rect x="1.5" y="25.5" width="1.5" height="1.5" fill="#3ab030"/><rect x="3" y="25.5" width="1.5" height="1.5" fill="#3ab030"/><rect x="4.5" y="25.5" width="1.5" height="1.5" fill="#3ab030"/><rect x="7.5" y="25.5" width="1.5" height="1.5" fill="#3ab030"/><rect x="9" y="25.5" width="1.5" height="1.5" fill="#90d000"/><rect x="10.5" y="25.5" width="1.5" height="1.5" fill="#e0d000"/><rect x="12" y="25.5" width="1.5" height="1.5" fill="#e0d000"/><rect x="15" y="25.5" width="1.5" height="1.5" fill="#e07010"/><rect x="16.5" y="25.5" width="1.5" height="1.5" fill="#3ab030"/><rect x="18" y="25.5" width="1.5" height="1.5" fill="#e0d000"/><rect x="19.5" y="25.5" width="1.5" height="1.5" fill="#e0d000"/><rect x="21" y="25.5" width="1.5" height="1.5" fill="#3ab030"/><rect x="22.5" y="25.5" width="1.5" height="1.5" fill="#3ab030"/><rect x="24" y="25.5" width="1.5" height="1.5" fill="#90d000"/><rect x="25.5" y="25.5" width="1.5" height="1.5" fill="#3ab030"/><rect x="27" y="25.5" width="1.5" height="1.5" fill="#90d000"/></pattern><pattern id="hUK" patternUnits="userSpaceOnUse" width="30" height="27"><rect x="0" y="0" width="1.5" height="1.5" fill="#3ab030"/><rect x="1.5" y="0" width="1.5" height="1.5" fill="#3ab030"/><rect x="3" y="0" width="1.5" height="1.5" fill="#e0d000"/><rect x="4.5" y="0" width="1.5" height="1.5" fill="#0e8060"/><rect x="6" y="0" width="1.5" height="1.5" fill="#e0d000"/><rect x="7.5" y="0" width="1.5" height="1.5" fill="#3ab030"/><rect x="9" y="0" width="1.5" height="1.5" fill="#0e8060"/><rect x="10.5" y="0" width="1.5" height="1.5" fill="#e0d000"/><rect x="15" y="0" width="1.5" height="1.5" fill="#e0d000"/><rect x="16.5" y="0" width="1.5" height="1.5" fill="#3ab030"/><rect x="18" y="0" width="1.5" height="1.5" fill="#2040b0"/><rect x="19.5" y="0" width="1.5" height="1.5" fill="#3ab030"/><rect x="21" y="0" width="1.5" height="1.5" fill="#2040b0"/><rect x="22.5" y="0" width="1.5" height="1.5" fill="#e0d000"/><rect x="24" y="0" width="1.5" height="1.5" fill="#e07010"/><rect x="25.5" y="0" width="1.5" height="1.5" fill="#e0d000"/><rect x="27" y="0" width="1.5" height="1.5" fill="#3ab030"/><rect x="28.5" y="0" width="1.5" height="1.5" fill="#c41c14"/><rect x="1.5" y="1.5" width="1.5" height="1.5" fill="#2040b0"/><rect x="3" y="1.5" width="1.5" height="1.5" fill="#3ab030"/><rect x="4.5" y="1.5" width="1.5" height="1.5" fill="#2040b0"/><rect x="6" y="1.5" width="1.5" height="1.5" fill="#e0d000"/><rect x="7.5" y="1.5" width="1.5" height="1.5" fill="#e07010"/><rect x="9" y="1.5" width="1.5" height="1.5" fill="#2040b0"/><rect x="10.5" y="1.5" width="1.5" height="1.5" fill="#2040b0"/><rect x="12" y="1.5" width="1.5" height="1.5" fill="#3ab030"/><rect x="13.5" y="1.5" width="1.5" height="1.5" fill="#e0d000"/><rect x="15" y="1.5" width="1.5" height="1.5" fill="#e07010"/><rect x="16.5" y="1.5" width="1.5" height="1.5" fill="#e07010"/><rect x="18" y="1.5" width="1.5" height="1.5" fill="#e07010"/><rect x="19.5" y="1.5" width="1.5" height="1.5" fill="#0e8060"/><rect x="21" y="1.5" width="1.5" height="1.5" fill="#e07010"/><rect x="22.5" y="1.5" width="1.5" height="1.5" fill="#0e8060"/><rect x="24" y="1.5" width="1.5" height="1.5" fill="#0e8060"/><rect x="25.5" y="1.5" width="1.5" height="1.5" fill="#e0d000"/><rect x="27" y="1.5" width="1.5" height="1.5" fill="#3ab030"/><rect x="28.5" y="1.5" width="1.5" height="1.5" fill="#3ab030"/><rect x="0" y="3" width="1.5" height="1.5" fill="#e0d000"/><rect x="1.5" y="3" width="1.5" height="1.5" fill="#3ab030"/><rect x="3" y="3" width="1.5" height="1.5" fill="#c41c14"/><rect x="4.5" y="3" width="1.5" height="1.5" fill="#e0d000"/><rect x="7.5" y="3" width="1.5" height="1.5" fill="#e0d000"/><rect x="10.5" y="3" width="1.5" height="1.5" fill="#0e8060"/><rect x="12" y="3" width="1.5" height="1.5" fill="#e07010"/><rect x="13.5" y="3" width="1.5" height="1.5" fill="#e0d000"/><rect x="15" y="3" width="1.5" height="1.5" fill="#e0d000"/><rect x="18" y="3" width="1.5" height="1.5" fill="#e0d000"/><rect x="19.5" y="3" width="1.5" height="1.5" fill="#e0d000"/><rect x="21" y="3" width="1.5" height="1.5" fill="#3ab030"/><rect x="22.5" y="3" width="1.5" height="1.5" fill="#c41c14"/><rect x="24" y="3" width="1.5" height="1.5" fill="#3ab030"/><rect x="25.5" y="3" width="1.5" height="1.5" fill="#3ab030"/><rect x="28.5" y="3" width="1.5" height="1.5" fill="#e0d000"/><rect x="1.5" y="4.5" width="1.5" height="1.5" fill="#e0d000"/><rect x="4.5" y="4.5" width="1.5" height="1.5" fill="#c41c14"/><rect x="6" y="4.5" width="1.5" height="1.5" fill="#e0d000"/><rect x="10.5" y="4.5" width="1.5" height="1.5" fill="#e0d000"/><rect x="12" y="4.5" width="1.5" height="1.5" fill="#e07010"/><rect x="13.5" y="4.5" width="1.5" height="1.5" fill="#10c890"/><rect x="15" y="4.5" width="1.5" height="1.5" fill="#10c890"/><rect x="16.5" y="4.5" width="1.5" height="1.5" fill="#e0d000"/><rect x="18" y="4.5" width="1.5" height="1.5" fill="#2040b0"/><rect x="19.5" y="4.5" width="1.5" height="1.5" fill="#c41c14"/><rect x="21" y="4.5" width="1.5" height="1.5" fill="#e07010"/><rect x="24" y="4.5" width="1.5" height="1.5" fill="#e0d000"/><rect x="25.5" y="4.5" width="1.5" height="1.5" fill="#3ab030"/><rect x="27" y="4.5" width="1.5" height="1.5" fill="#2040b0"/><rect x="0" y="6" width="1.5" height="1.5" fill="#2040b0"/><rect x="1.5" y="6" width="1.5" height="1.5" fill="#e0d000"/><rect x="3" y="6" width="1.5" height="1.5" fill="#3ab030"/><rect x="4.5" y="6" width="1.5" height="1.5" fill="#0e8060"/><rect x="7.5" y="6" width="1.5" height="1.5" fill="#3ab030"/><rect x="9" y="6" width="1.5" height="1.5" fill="#3ab030"/><rect x="10.5" y="6" width="1.5" height="1.5" fill="#10c890"/><rect x="13.5" y="6" width="1.5" height="1.5" fill="#e0d000"/><rect x="15" y="6" width="1.5" height="1.5" fill="#2040b0"/><rect x="16.5" y="6" width="1.5" height="1.5" fill="#3ab030"/><rect x="18" y="6" width="1.5" height="1.5" fill="#3ab030"/><rect x="19.5" y="6" width="1.5" height="1.5" fill="#e07010"/><rect x="21" y="6" width="1.5" height="1.5" fill="#3ab030"/><rect x="22.5" y="6" width="1.5" height="1.5" fill="#3ab030"/><rect x="24" y="6" width="1.5" height="1.5" fill="#e0d000"/><rect x="27" y="6" width="1.5" height="1.5" fill="#e0d000"/><rect x="28.5" y="6" width="1.5" height="1.5" fill="#2040b0"/><rect x="0" y="7.5" width="1.5" height="1.5" fill="#e0d000"/><rect x="1.5" y="7.5" width="1.5" height="1.5" fill="#2040b0"/><rect x="3" y="7.5" width="1.5" height="1.5" fill="#0e8060"/><rect x="4.5" y="7.5" width="1.5" height="1.5" fill="#3ab030"/><rect x="6" y="7.5" width="1.5" height="1.5" fill="#2040b0"/><rect x="7.5" y="7.5" width="1.5" height="1.5" fill="#e07010"/><rect x="9" y="7.5" width="1.5" height="1.5" fill="#2040b0"/><rect x="10.5" y="7.5" width="1.5" height="1.5" fill="#3ab030"/><rect x="12" y="7.5" width="1.5" height="1.5" fill="#e07010"/><rect x="13.5" y="7.5" width="1.5" height="1.5" fill="#10c890"/><rect x="15" y="7.5" width="1.5" height="1.5" fill="#3ab030"/><rect x="16.5" y="7.5" width="1.5" height="1.5" fill="#3ab030"/><rect x="18" y="7.5" width="1.5" height="1.5" fill="#0e8060"/><rect x="19.5" y="7.5" width="1.5" height="1.5" fill="#3ab030"/><rect x="21" y="7.5" width="1.5" height="1.5" fill="#2040b0"/><rect x="22.5" y="7.5" width="1.5" height="1.5" fill="#e0d000"/><rect x="24" y="7.5" width="1.5" height="1.5" fill="#0e8060"/><rect x="25.5" y="7.5" width="1.5" height="1.5" fill="#e07010"/><rect x="27" y="7.5" width="1.5" height="1.5" fill="#e0d000"/><rect x="28.5" y="7.5" width="1.5" height="1.5" fill="#10c890"/><rect x="0" y="9" width="1.5" height="1.5" fill="#e0d000"/><rect x="1.5" y="9" width="1.5" height="1.5" fill="#c41c14"/><rect x="3" y="9" width="1.5" height="1.5" fill="#10c890"/><rect x="6" y="9" width="1.5" height="1.5" fill="#e0d000"/><rect x="7.5" y="9" width="1.5" height="1.5" fill="#e0d000"/><rect x="9" y="9" width="1.5" height="1.5" fill="#e07010"/><rect x="10.5" y="9" width="1.5" height="1.5" fill="#3ab030"/><rect x="13.5" y="9" width="1.5" height="1.5" fill="#10c890"/><rect x="15" y="9" width="1.5" height="1.5" fill="#3ab030"/><rect x="16.5" y="9" width="1.5" height="1.5" fill="#e0d000"/><rect x="19.5" y="9" width="1.5" height="1.5" fill="#e0d000"/><rect x="21" y="9" width="1.5" height="1.5" fill="#e0d000"/><rect x="24" y="9" width="1.5" height="1.5" fill="#2040b0"/><rect x="25.5" y="9" width="1.5" height="1.5" fill="#e0d000"/><rect x="27" y="9" width="1.5" height="1.5" fill="#3ab030"/><rect x="28.5" y="9" width="1.5" height="1.5" fill="#2040b0"/><rect x="0" y="10.5" width="1.5" height="1.5" fill="#2040b0"/><rect x="1.5" y="10.5" width="1.5" height="1.5" fill="#3ab030"/><rect x="3" y="10.5" width="1.5" height="1.5" fill="#0e8060"/><rect x="4.5" y="10.5" width="1.5" height="1.5" fill="#e0d000"/><rect x="6" y="10.5" width="1.5" height="1.5" fill="#2040b0"/><rect x="7.5" y="10.5" width="1.5" height="1.5" fill="#2040b0"/><rect x="9" y="10.5" width="1.5" height="1.5" fill="#0e8060"/><rect x="10.5" y="10.5" width="1.5" height="1.5" fill="#3ab030"/><rect x="12" y="10.5" width="1.5" height="1.5" fill="#e0d000"/><rect x="13.5" y="10.5" width="1.5" height="1.5" fill="#e0d000"/><rect x="16.5" y="10.5" width="1.5" height="1.5" fill="#e0d000"/><rect x="19.5" y="10.5" width="1.5" height="1.5" fill="#e0d000"/><rect x="21" y="10.5" width="1.5" height="1.5" fill="#2040b0"/><rect x="22.5" y="10.5" width="1.5" height="1.5" fill="#e07010"/><rect x="24" y="10.5" width="1.5" height="1.5" fill="#e0d000"/><rect x="25.5" y="10.5" width="1.5" height="1.5" fill="#e0d000"/><rect x="27" y="10.5" width="1.5" height="1.5" fill="#3ab030"/><rect x="0" y="12" width="1.5" height="1.5" fill="#3ab030"/><rect x="1.5" y="12" width="1.5" height="1.5" fill="#e0d000"/><rect x="3" y="12" width="1.5" height="1.5" fill="#3ab030"/><rect x="4.5" y="12" width="1.5" height="1.5" fill="#c41c14"/><rect x="7.5" y="12" width="1.5" height="1.5" fill="#c41c14"/><rect x="9" y="12" width="1.5" height="1.5" fill="#e0d000"/><rect x="10.5" y="12" width="1.5" height="1.5" fill="#10c890"/><rect x="12" y="12" width="1.5" height="1.5" fill="#0e8060"/><rect x="18" y="12" width="1.5" height="1.5" fill="#c41c14"/><rect x="19.5" y="12" width="1.5" height="1.5" fill="#e0d000"/><rect x="24" y="12" width="1.5" height="1.5" fill="#3ab030"/><rect x="25.5" y="12" width="1.5" height="1.5" fill="#2040b0"/><rect x="27" y="12" width="1.5" height="1.5" fill="#2040b0"/><rect x="28.5" y="12" width="1.5" height="1.5" fill="#e0d000"/><rect x="0" y="13.5" width="1.5" height="1.5" fill="#2040b0"/><rect x="1.5" y="13.5" width="1.5" height="1.5" fill="#3ab030"/><rect x="3" y="13.5" width="1.5" height="1.5" fill="#3ab030"/><rect x="6" y="13.5" width="1.5" height="1.5" fill="#e0d000"/><rect x="9" y="13.5" width="1.5" height="1.5" fill="#3ab030"/><rect x="10.5" y="13.5" width="1.5" height="1.5" fill="#0e8060"/><rect x="12" y="13.5" width="1.5" height="1.5" fill="#e07010"/><rect x="13.5" y="13.5" width="1.5" height="1.5" fill="#0e8060"/><rect x="15" y="13.5" width="1.5" height="1.5" fill="#2040b0"/><rect x="18" y="13.5" width="1.5" height="1.5" fill="#0e8060"/><rect x="19.5" y="13.5" width="1.5" height="1.5" fill="#e0d000"/><rect x="24" y="13.5" width="1.5" height="1.5" fill="#2040b0"/><rect x="25.5" y="13.5" width="1.5" height="1.5" fill="#3ab030"/><rect x="27" y="13.5" width="1.5" height="1.5" fill="#e0d000"/><rect x="28.5" y="13.5" width="1.5" height="1.5" fill="#e07010"/><rect x="1.5" y="15" width="1.5" height="1.5" fill="#e07010"/><rect x="3" y="15" width="1.5" height="1.5" fill="#e0d000"/><rect x="4.5" y="15" width="1.5" height="1.5" fill="#3ab030"/><rect x="6" y="15" width="1.5" height="1.5" fill="#3ab030"/><rect x="9" y="15" width="1.5" height="1.5" fill="#e0d000"/><rect x="10.5" y="15" width="1.5" height="1.5" fill="#2040b0"/><rect x="12" y="15" width="1.5" height="1.5" fill="#3ab030"/><rect x="13.5" y="15" width="1.5" height="1.5" fill="#2040b0"/><rect x="15" y="15" width="1.5" height="1.5" fill="#e0d000"/><rect x="16.5" y="15" width="1.5" height="1.5" fill="#c41c14"/><rect x="19.5" y="15" width="1.5" height="1.5" fill="#10c890"/><rect x="21" y="15" width="1.5" height="1.5" fill="#10c890"/><rect x="22.5" y="15" width="1.5" height="1.5" fill="#0e8060"/><rect x="24" y="15" width="1.5" height="1.5" fill="#e0d000"/><rect x="25.5" y="15" width="1.5" height="1.5" fill="#3ab030"/><rect x="27" y="15" width="1.5" height="1.5" fill="#e07010"/><rect x="28.5" y="15" width="1.5" height="1.5" fill="#2040b0"/><rect x="0" y="16.5" width="1.5" height="1.5" fill="#e07010"/><rect x="1.5" y="16.5" width="1.5" height="1.5" fill="#e07010"/><rect x="3" y="16.5" width="1.5" height="1.5" fill="#e0d000"/><rect x="4.5" y="16.5" width="1.5" height="1.5" fill="#e0d000"/><rect x="6" y="16.5" width="1.5" height="1.5" fill="#c41c14"/><rect x="7.5" y="16.5" width="1.5" height="1.5" fill="#10c890"/><rect x="9" y="16.5" width="1.5" height="1.5" fill="#3ab030"/><rect x="10.5" y="16.5" width="1.5" height="1.5" fill="#2040b0"/><rect x="12" y="16.5" width="1.5" height="1.5" fill="#3ab030"/><rect x="15" y="16.5" width="1.5" height="1.5" fill="#3ab030"/><rect x="18" y="16.5" width="1.5" height="1.5" fill="#e07010"/><rect x="19.5" y="16.5" width="1.5" height="1.5" fill="#e07010"/><rect x="21" y="16.5" width="1.5" height="1.5" fill="#3ab030"/><rect x="22.5" y="16.5" width="1.5" height="1.5" fill="#e07010"/><rect x="24" y="16.5" width="1.5" height="1.5" fill="#3ab030"/><rect x="25.5" y="16.5" width="1.5" height="1.5" fill="#c41c14"/><rect x="27" y="16.5" width="1.5" height="1.5" fill="#e0d000"/><rect x="28.5" y="16.5" width="1.5" height="1.5" fill="#e0d000"/><rect x="0" y="18" width="1.5" height="1.5" fill="#2040b0"/><rect x="1.5" y="18" width="1.5" height="1.5" fill="#e0d000"/><rect x="3" y="18" width="1.5" height="1.5" fill="#e07010"/><rect x="4.5" y="18" width="1.5" height="1.5" fill="#0e8060"/><rect x="7.5" y="18" width="1.5" height="1.5" fill="#e07010"/><rect x="9" y="18" width="1.5" height="1.5" fill="#e0d000"/><rect x="10.5" y="18" width="1.5" height="1.5" fill="#e07010"/><rect x="12" y="18" width="1.5" height="1.5" fill="#3ab030"/><rect x="13.5" y="18" width="1.5" height="1.5" fill="#0e8060"/><rect x="15" y="18" width="1.5" height="1.5" fill="#10c890"/><rect x="16.5" y="18" width="1.5" height="1.5" fill="#2040b0"/><rect x="18" y="18" width="1.5" height="1.5" fill="#c41c14"/><rect x="19.5" y="18" width="1.5" height="1.5" fill="#c41c14"/><rect x="21" y="18" width="1.5" height="1.5" fill="#0e8060"/><rect x="22.5" y="18" width="1.5" height="1.5" fill="#c41c14"/><rect x="24" y="18" width="1.5" height="1.5" fill="#10c890"/><rect x="25.5" y="18" width="1.5" height="1.5" fill="#e0d000"/><rect x="27" y="18" width="1.5" height="1.5" fill="#3ab030"/><rect x="28.5" y="18" width="1.5" height="1.5" fill="#e07010"/><rect x="1.5" y="19.5" width="1.5" height="1.5" fill="#3ab030"/><rect x="3" y="19.5" width="1.5" height="1.5" fill="#3ab030"/><rect x="4.5" y="19.5" width="1.5" height="1.5" fill="#0e8060"/><rect x="6" y="19.5" width="1.5" height="1.5" fill="#3ab030"/><rect x="7.5" y="19.5" width="1.5" height="1.5" fill="#e07010"/><rect x="9" y="19.5" width="1.5" height="1.5" fill="#e07010"/><rect x="10.5" y="19.5" width="1.5" height="1.5" fill="#3ab030"/><rect x="15" y="19.5" width="1.5" height="1.5" fill="#3ab030"/><rect x="16.5" y="19.5" width="1.5" height="1.5" fill="#e07010"/><rect x="18" y="19.5" width="1.5" height="1.5" fill="#3ab030"/><rect x="19.5" y="19.5" width="1.5" height="1.5" fill="#3ab030"/><rect x="21" y="19.5" width="1.5" height="1.5" fill="#e0d000"/><rect x="24" y="19.5" width="1.5" height="1.5" fill="#e07010"/><rect x="25.5" y="19.5" width="1.5" height="1.5" fill="#2040b0"/><rect x="28.5" y="19.5" width="1.5" height="1.5" fill="#e0d000"/><rect x="1.5" y="21" width="1.5" height="1.5" fill="#3ab030"/><rect x="3" y="21" width="1.5" height="1.5" fill="#3ab030"/><rect x="6" y="21" width="1.5" height="1.5" fill="#2040b0"/><rect x="7.5" y="21" width="1.5" height="1.5" fill="#0e8060"/><rect x="9" y="21" width="1.5" height="1.5" fill="#2040b0"/><rect x="10.5" y="21" width="1.5" height="1.5" fill="#e07010"/><rect x="13.5" y="21" width="1.5" height="1.5" fill="#3ab030"/><rect x="15" y="21" width="1.5" height="1.5" fill="#e0d000"/><rect x="18" y="21" width="1.5" height="1.5" fill="#3ab030"/><rect x="19.5" y="21" width="1.5" height="1.5" fill="#0e8060"/><rect x="21" y="21" width="1.5" height="1.5" fill="#3ab030"/><rect x="22.5" y="21" width="1.5" height="1.5" fill="#0e8060"/><rect x="24" y="21" width="1.5" height="1.5" fill="#3ab030"/><rect x="25.5" y="21" width="1.5" height="1.5" fill="#e0d000"/><rect x="27" y="21" width="1.5" height="1.5" fill="#2040b0"/><rect x="28.5" y="21" width="1.5" height="1.5" fill="#e07010"/><rect x="1.5" y="22.5" width="1.5" height="1.5" fill="#e0d000"/><rect x="3" y="22.5" width="1.5" height="1.5" fill="#e0d000"/><rect x="4.5" y="22.5" width="1.5" height="1.5" fill="#c41c14"/><rect x="6" y="22.5" width="1.5" height="1.5" fill="#e0d000"/><rect x="7.5" y="22.5" width="1.5" height="1.5" fill="#e0d000"/><rect x="9" y="22.5" width="1.5" height="1.5" fill="#e0d000"/><rect x="10.5" y="22.5" width="1.5" height="1.5" fill="#e0d000"/><rect x="12" y="22.5" width="1.5" height="1.5" fill="#0e8060"/><rect x="13.5" y="22.5" width="1.5" height="1.5" fill="#10c890"/><rect x="16.5" y="22.5" width="1.5" height="1.5" fill="#3ab030"/><rect x="18" y="22.5" width="1.5" height="1.5" fill="#0e8060"/><rect x="19.5" y="22.5" width="1.5" height="1.5" fill="#3ab030"/><rect x="21" y="22.5" width="1.5" height="1.5" fill="#e0d000"/><rect x="22.5" y="22.5" width="1.5" height="1.5" fill="#2040b0"/><rect x="24" y="22.5" width="1.5" height="1.5" fill="#3ab030"/><rect x="25.5" y="22.5" width="1.5" height="1.5" fill="#e07010"/><rect x="27" y="22.5" width="1.5" height="1.5" fill="#3ab030"/><rect x="28.5" y="22.5" width="1.5" height="1.5" fill="#3ab030"/><rect x="0" y="24" width="1.5" height="1.5" fill="#e07010"/><rect x="3" y="24" width="1.5" height="1.5" fill="#0e8060"/><rect x="6" y="24" width="1.5" height="1.5" fill="#e0d000"/><rect x="7.5" y="24" width="1.5" height="1.5" fill="#2040b0"/><rect x="9" y="24" width="1.5" height="1.5" fill="#e0d000"/><rect x="10.5" y="24" width="1.5" height="1.5" fill="#3ab030"/><rect x="12" y="24" width="1.5" height="1.5" fill="#0e8060"/><rect x="13.5" y="24" width="1.5" height="1.5" fill="#2040b0"/><rect x="15" y="24" width="1.5" height="1.5" fill="#c41c14"/><rect x="16.5" y="24" width="1.5" height="1.5" fill="#2040b0"/><rect x="18" y="24" width="1.5" height="1.5" fill="#e07010"/><rect x="19.5" y="24" width="1.5" height="1.5" fill="#e0d000"/><rect x="21" y="24" width="1.5" height="1.5" fill="#3ab030"/><rect x="22.5" y="24" width="1.5" height="1.5" fill="#2040b0"/><rect x="24" y="24" width="1.5" height="1.5" fill="#e07010"/><rect x="25.5" y="24" width="1.5" height="1.5" fill="#3ab030"/><rect x="27" y="24" width="1.5" height="1.5" fill="#2040b0"/><rect x="28.5" y="24" width="1.5" height="1.5" fill="#3ab030"/><rect x="3" y="25.5" width="1.5" height="1.5" fill="#c41c14"/><rect x="4.5" y="25.5" width="1.5" height="1.5" fill="#e0d000"/><rect x="6" y="25.5" width="1.5" height="1.5" fill="#e07010"/><rect x="7.5" y="25.5" width="1.5" height="1.5" fill="#2040b0"/><rect x="9" y="25.5" width="1.5" height="1.5" fill="#2040b0"/><rect x="10.5" y="25.5" width="1.5" height="1.5" fill="#e0d000"/><rect x="12" y="25.5" width="1.5" height="1.5" fill="#e0d000"/><rect x="13.5" y="25.5" width="1.5" height="1.5" fill="#e07010"/><rect x="16.5" y="25.5" width="1.5" height="1.5" fill="#c41c14"/><rect x="18" y="25.5" width="1.5" height="1.5" fill="#e07010"/><rect x="19.5" y="25.5" width="1.5" height="1.5" fill="#e07010"/><rect x="21" y="25.5" width="1.5" height="1.5" fill="#2040b0"/><rect x="22.5" y="25.5" width="1.5" height="1.5" fill="#3ab030"/><rect x="24" y="25.5" width="1.5" height="1.5" fill="#0e8060"/><rect x="25.5" y="25.5" width="1.5" height="1.5" fill="#10c890"/><rect x="27" y="25.5" width="1.5" height="1.5" fill="#c41c14"/><rect x="28.5" y="25.5" width="1.5" height="1.5" fill="#2040b0"/></pattern><pattern id="perode" patternUnits="userSpaceOnUse" width="24" height="20"><rect x="8" y="0" width="2" height="2" fill="#fff"/><rect x="10" y="0" width="2" height="2" fill="#fff"/><rect x="12" y="0" width="2" height="2" fill="#fff"/><rect x="22" y="0" width="2" height="2" fill="#fff"/><rect x="0" y="2" width="2" height="2" fill="#fff"/><rect x="4" y="2" width="2" height="2" fill="#fff"/><rect x="12" y="2" width="2" height="2" fill="#fff"/><rect x="16" y="2" width="2" height="2" fill="#fff"/><rect x="18" y="2" width="2" height="2" fill="#fff"/><rect x="22" y="2" width="2" height="2" fill="#fff"/><rect x="0" y="4" width="2" height="2" fill="#fff"/><rect x="2" y="4" width="2" height="2" fill="#fff"/><rect x="12" y="4" width="2" height="2" fill="#fff"/><rect x="18" y="4" width="2" height="2" fill="#fff"/><rect x="6" y="6" width="2" height="2" fill="#fff"/><rect x="18" y="6" width="2" height="2" fill="#fff"/><rect x="20" y="6" width="2" height="2" fill="#fff"/><rect x="0" y="8" width="2" height="2" fill="#fff"/><rect x="12" y="8" width="2" height="2" fill="#fff"/><rect x="18" y="8" width="2" height="2" fill="#fff"/><rect x="20" y="8" width="2" height="2" fill="#fff"/><rect x="16" y="10" width="2" height="2" fill="#fff"/><rect x="18" y="10" width="2" height="2" fill="#fff"/><rect x="20" y="10" width="2" height="2" fill="#fff"/><rect x="6" y="12" width="2" height="2" fill="#fff"/><rect x="20" y="12" width="2" height="2" fill="#fff"/><rect x="22" y="12" width="2" height="2" fill="#fff"/><rect x="4" y="14" width="2" height="2" fill="#fff"/><rect x="6" y="16" width="2" height="2" fill="#fff"/><rect x="0" y="18" width="2" height="2" fill="#fff"/><rect x="12" y="18" width="2" height="2" fill="#fff"/><rect x="14" y="18" width="2" height="2" fill="#fff"/><rect x="16" y="18" width="2" height="2" fill="#fff"/><rect x="20" y="18" width="2" height="2" fill="#fff"/><rect x="22" y="18" width="2" height="2" fill="#fff"/></pattern><pattern id="pbC" patternUnits="userSpaceOnUse" width="27" height="24"><rect width="27" height="24" fill="#00dcdc"/><rect x="3" y="0" width="1.5" height="1.5" fill="#00e8e8"/><rect x="12" y="0" width="1.5" height="1.5" fill="#00cfd4"/><rect x="13.5" y="0" width="1.5" height="1.5" fill="#12cc9a"/><rect x="19.5" y="0" width="1.5" height="1.5" fill="#12cc9a"/><rect x="21" y="0" width="1.5" height="1.5" fill="#00cfd4"/><rect x="24" y="0" width="1.5" height="1.5" fill="#e0a000"/><rect x="25.5" y="0" width="1.5" height="1.5" fill="#9ad000"/><rect x="0" y="1.5" width="1.5" height="1.5" fill="#00cfd4"/><rect x="16.5" y="1.5" width="1.5" height="1.5" fill="#2aae58"/><rect x="19.5" y="1.5" width="1.5" height="1.5" fill="#00cfd4"/><rect x="22.5" y="1.5" width="1.5" height="1.5" fill="#00cfd4"/><rect x="0" y="3" width="1.5" height="1.5" fill="#e0a000"/><rect x="1.5" y="3" width="1.5" height="1.5" fill="#e0a000"/><rect x="3" y="3" width="1.5" height="1.5" fill="#2aae58"/><rect x="4.5" y="3" width="1.5" height="1.5" fill="#00cfd4"/><rect x="12" y="3" width="1.5" height="1.5" fill="#12cc9a"/><rect x="15" y="3" width="1.5" height="1.5" fill="#2aae58"/><rect x="18" y="3" width="1.5" height="1.5" fill="#00e8e8"/><rect x="19.5" y="3" width="1.5" height="1.5" fill="#2aae58"/><rect x="24" y="3" width="1.5" height="1.5" fill="#00e8e8"/><rect x="0" y="4.5" width="1.5" height="1.5" fill="#e0a000"/><rect x="4.5" y="4.5" width="1.5" height="1.5" fill="#00cfd4"/><rect x="6" y="4.5" width="1.5" height="1.5" fill="#12cc9a"/><rect x="12" y="4.5" width="1.5" height="1.5" fill="#9ad000"/><rect x="13.5" y="4.5" width="1.5" height="1.5" fill="#12cc9a"/><rect x="21" y="4.5" width="1.5" height="1.5" fill="#12cc9a"/><rect x="1.5" y="6" width="1.5" height="1.5" fill="#12cc9a"/><rect x="4.5" y="6" width="1.5" height="1.5" fill="#00cfd4"/><rect x="12" y="6" width="1.5" height="1.5" fill="#9ad000"/><rect x="13.5" y="6" width="1.5" height="1.5" fill="#12cc9a"/><rect x="16.5" y="6" width="1.5" height="1.5" fill="#00e8e8"/><rect x="21" y="6" width="1.5" height="1.5" fill="#2aae58"/><rect x="22.5" y="6" width="1.5" height="1.5" fill="#00cfd4"/><rect x="25.5" y="6" width="1.5" height="1.5" fill="#e0a000"/><rect x="3" y="7.5" width="1.5" height="1.5" fill="#12cc9a"/><rect x="18" y="7.5" width="1.5" height="1.5" fill="#00e8e8"/><rect x="22.5" y="7.5" width="1.5" height="1.5" fill="#00e8e8"/><rect x="0" y="9" width="1.5" height="1.5" fill="#00e8e8"/><rect x="1.5" y="9" width="1.5" height="1.5" fill="#2aae58"/><rect x="6" y="9" width="1.5" height="1.5" fill="#12cc9a"/><rect x="7.5" y="9" width="1.5" height="1.5" fill="#00e8e8"/><rect x="10.5" y="9" width="1.5" height="1.5" fill="#00e8e8"/><rect x="12" y="9" width="1.5" height="1.5" fill="#00e8e8"/><rect x="19.5" y="9" width="1.5" height="1.5" fill="#9ad000"/><rect x="22.5" y="9" width="1.5" height="1.5" fill="#00cfd4"/><rect x="25.5" y="9" width="1.5" height="1.5" fill="#2aae58"/><rect x="4.5" y="10.5" width="1.5" height="1.5" fill="#12cc9a"/><rect x="10.5" y="10.5" width="1.5" height="1.5" fill="#2aae58"/><rect x="15" y="10.5" width="1.5" height="1.5" fill="#00e8e8"/><rect x="4.5" y="12" width="1.5" height="1.5" fill="#00e8e8"/><rect x="6" y="12" width="1.5" height="1.5" fill="#e0a000"/><rect x="7.5" y="12" width="1.5" height="1.5" fill="#00cfd4"/><rect x="9" y="12" width="1.5" height="1.5" fill="#00cfd4"/><rect x="16.5" y="12" width="1.5" height="1.5" fill="#00e8e8"/><rect x="18" y="12" width="1.5" height="1.5" fill="#00cfd4"/><rect x="19.5" y="12" width="1.5" height="1.5" fill="#9ad000"/><rect x="22.5" y="12" width="1.5" height="1.5" fill="#00cfd4"/><rect x="25.5" y="12" width="1.5" height="1.5" fill="#12cc9a"/><rect x="1.5" y="13.5" width="1.5" height="1.5" fill="#e0a000"/><rect x="6" y="13.5" width="1.5" height="1.5" fill="#12cc9a"/><rect x="7.5" y="13.5" width="1.5" height="1.5" fill="#00e8e8"/><rect x="9" y="13.5" width="1.5" height="1.5" fill="#12cc9a"/><rect x="10.5" y="13.5" width="1.5" height="1.5" fill="#00cfd4"/><rect x="12" y="13.5" width="1.5" height="1.5" fill="#12cc9a"/><rect x="13.5" y="13.5" width="1.5" height="1.5" fill="#00e8e8"/><rect x="16.5" y="13.5" width="1.5" height="1.5" fill="#00cfd4"/><rect x="18" y="13.5" width="1.5" height="1.5" fill="#00e8e8"/><rect x="19.5" y="13.5" width="1.5" height="1.5" fill="#00e8e8"/><rect x="22.5" y="13.5" width="1.5" height="1.5" fill="#12cc9a"/><rect x="24" y="13.5" width="1.5" height="1.5" fill="#00e8e8"/><rect x="0" y="15" width="1.5" height="1.5" fill="#00cfd4"/><rect x="7.5" y="15" width="1.5" height="1.5" fill="#00cfd4"/><rect x="9" y="15" width="1.5" height="1.5" fill="#e0a000"/><rect x="10.5" y="15" width="1.5" height="1.5" fill="#00e8e8"/><rect x="12" y="15" width="1.5" height="1.5" fill="#12cc9a"/><rect x="15" y="15" width="1.5" height="1.5" fill="#12cc9a"/><rect x="19.5" y="15" width="1.5" height="1.5" fill="#2aae58"/><rect x="22.5" y="15" width="1.5" height="1.5" fill="#12cc9a"/><rect x="3" y="16.5" width="1.5" height="1.5" fill="#00cfd4"/><rect x="7.5" y="16.5" width="1.5" height="1.5" fill="#00e8e8"/><rect x="13.5" y="16.5" width="1.5" height="1.5" fill="#00cfd4"/><rect x="18" y="16.5" width="1.5" height="1.5" fill="#00e8e8"/><rect x="19.5" y="16.5" width="1.5" height="1.5" fill="#00cfd4"/><rect x="22.5" y="16.5" width="1.5" height="1.5" fill="#00e8e8"/><rect x="25.5" y="16.5" width="1.5" height="1.5" fill="#00cfd4"/><rect x="3" y="18" width="1.5" height="1.5" fill="#12cc9a"/><rect x="4.5" y="18" width="1.5" height="1.5" fill="#00e8e8"/><rect x="6" y="18" width="1.5" height="1.5" fill="#00e8e8"/><rect x="15" y="18" width="1.5" height="1.5" fill="#2aae58"/><rect x="16.5" y="18" width="1.5" height="1.5" fill="#2aae58"/><rect x="18" y="18" width="1.5" height="1.5" fill="#00cfd4"/><rect x="19.5" y="18" width="1.5" height="1.5" fill="#00e8e8"/><rect x="3" y="19.5" width="1.5" height="1.5" fill="#00cfd4"/><rect x="7.5" y="19.5" width="1.5" height="1.5" fill="#2aae58"/><rect x="9" y="19.5" width="1.5" height="1.5" fill="#e0a000"/><rect x="15" y="19.5" width="1.5" height="1.5" fill="#00e8e8"/><rect x="18" y="19.5" width="1.5" height="1.5" fill="#00cfd4"/><rect x="22.5" y="19.5" width="1.5" height="1.5" fill="#12cc9a"/><rect x="3" y="21" width="1.5" height="1.5" fill="#2aae58"/><rect x="9" y="21" width="1.5" height="1.5" fill="#00cfd4"/><rect x="12" y="21" width="1.5" height="1.5" fill="#00cfd4"/><rect x="13.5" y="21" width="1.5" height="1.5" fill="#00cfd4"/><rect x="15" y="21" width="1.5" height="1.5" fill="#12cc9a"/><rect x="16.5" y="21" width="1.5" height="1.5" fill="#00e8e8"/><rect x="18" y="21" width="1.5" height="1.5" fill="#00cfd4"/><rect x="0" y="22.5" width="1.5" height="1.5" fill="#00cfd4"/><rect x="6" y="22.5" width="1.5" height="1.5" fill="#00cfd4"/><rect x="10.5" y="22.5" width="1.5" height="1.5" fill="#12cc9a"/><rect x="13.5" y="22.5" width="1.5" height="1.5" fill="#12cc9a"/><rect x="15" y="22.5" width="1.5" height="1.5" fill="#00e8e8"/><rect x="18" y="22.5" width="1.5" height="1.5" fill="#00e8e8"/><rect x="19.5" y="22.5" width="1.5" height="1.5" fill="#12cc9a"/><rect x="24" y="22.5" width="1.5" height="1.5" fill="#00cfd4"/><rect x="25.5" y="22.5" width="1.5" height="1.5" fill="#00e8e8"/></pattern><clipPath id="clipC"><path d="M71.0,270.4 L74.0,268.0 L77.0,268.5 L79.0,272.0 L83.0,274.0 L88.0,275.8 L95.0,276.6 L100.0,277.0 L105.0,276.3 L110.0,277.2 L115.0,276.5 L120.5,276.2 L124.0,277.0 L127.0,276.5 L130.5,279.0 L131.5,282.5 L135.0,285.0 L140.3,287.8 L146.7,289.5 L152.6,289.5 L160.0,289.5 L165.0,289.8 L170.0,290.0 L175.0,289.5 L180.0,291.0 L185.0,291.5 L192.0,291.0 L195.0,289.0 L199.0,287.5 L201.0,286.0 L204.0,284.5 L207.0,283.3 L211.0,283.3 L213.0,285.0 L213.5,288.0 L215.0,289.8 L220.4,292.9 L225.0,294.5 L228.0,295.5 L231.0,299.0 L233.0,302.0 L236.5,305.0 L240.0,307.0 L245.0,309.0 L250.0,310.3 L258.0,309.7 L264.7,310.6 L274.2,311.1 L278.5,311.8 L279.8,313.5 L279.8,322.0 L279.8,331.0 L284.2,332.8 L284.2,336.8 L278.0,336.8 L277.5,333.5 L274.0,332.5 L270.0,333.0 L262.0,334.0 L255.0,333.0 L250.0,330.5 L240.0,329.0 L230.0,328.5 L222.6,327.5 L214.4,326.3 L205.0,325.1 L198.0,324.6 L191.0,322.2 L181.7,319.9 L172.3,316.6 L170.0,316.2 L160.0,314.0 L150.2,312.3 L142.0,311.1 L135.0,312.3 L130.4,312.9 L122.2,311.7 L115.2,311.0 L110.0,308.5 L105.5,306.0 L100.0,305.0 L95.0,305.0 L88.0,304.6 L85.0,303.4 L83.5,300.0 L83.5,296.0 L83.0,294.5 L80.0,292.0 L75.3,291.9 L72.0,291.5 L70.0,291.0 L66.0,290.5 L62.0,290.0 L57.0,288.5 L53.5,285.5 L53.0,283.0 L55.0,281.0 L58.0,281.0 L61.0,282.5 L63.5,283.5 L66.0,281.5 L68.5,280.0 L70.0,280.5 L70.5,278.0ZM42.5,240.5 L73.8,240.5 L73.2,244.5 L73.0,249.0 L72.3,254.0 L71.2,260.0 L71.4,263.6 L72.0,266.5 L73.5,267.5 L70.0,269.0 L67.0,268.5 L65.0,268.0 L63.5,270.0 L61.5,269.0 L62.0,265.0 L61.5,262.0 L59.5,259.5 L58.0,262.0 L56.0,264.2 L53.0,265.1 L50.0,264.0 L48.0,265.5 L46.3,266.0 L42.5,266.0ZM59.5,270.0 L63.5,270.5 L64.0,273.5 L60.0,274.0ZM222.0,292.0 L226.0,291.0 L230.0,290.5 L235.0,290.0 L238.0,289.5 L245.0,289.3 L252.0,289.5 L260.0,290.0 L266.0,290.5 L271.0,291.5 L270.0,294.0 L262.0,296.0 L252.0,297.0 L244.0,297.5 L238.0,298.5 L235.0,295.0 L230.0,294.5 L224.0,295.0 L222.0,294.0ZM281.4,320.8 L283.7,321.5 L288.4,322.0 L295.0,320.6 L297.9,319.6 L302.6,320.6 L307.4,323.4 L310.7,327.2 L306.4,330.1 L299.8,332.9 L298.8,336.7 L296.0,337.6 L295.0,333.9 L291.2,330.1 L286.5,327.2 L281.8,323.4ZM297.0,289.0 L302.0,288.0 L306.0,289.5 L310.0,292.0 L313.0,294.5 L316.2,296.0 L316.0,299.0 L312.0,299.0 L309.0,296.5 L305.0,295.0 L300.0,294.0 L297.0,292.0ZM303.0,333.4 L307.0,333.0 L308.8,336.0 L306.0,338.6 L303.0,337.5ZM312.2,335.1 L316.0,335.0 L317.4,337.0 L317.0,340.3 L313.0,339.0Z" fill="#000"/><circle cx="192.8" cy="283.4" r="5.60" fill="#000"/><circle cx="236.5" cy="263.7" r="2.80" fill="#000"/><circle cx="283.6" cy="296.8" r="1.30" fill="#000"/><circle cx="182.5" cy="264.3" r="1.20" fill="#000"/><circle cx="178.2" cy="262.2" r="0.90" fill="#000"/><circle cx="82.0" cy="263.8" r="1.30" fill="#000"/><circle cx="96.0" cy="268.0" r="1.20" fill="#000"/><circle cx="101.3" cy="269.4" r="1.00" fill="#000"/><circle cx="111.8" cy="273.8" r="1.00" fill="#000"/><circle cx="95.6" cy="267.8" r="1.00" fill="#000"/><circle cx="61.5" cy="272.0" r="2.20" fill="#000"/><circle cx="283.2" cy="245.9" r="1.40" fill="#000"/><ellipse cx="89.2" cy="258.5" rx="1.60" ry="4.00" fill="#000"/></clipPath><clipPath id="boxC"><rect x="46.30" y="244.60" width="320" height="130"/></clipPath><pattern id="pbD" patternUnits="userSpaceOnUse" width="27" height="24"><rect width="27" height="24" fill="#1788ac"/><rect x="1.5" y="0" width="1.5" height="1.5" fill="#1a94b0"/><rect x="3" y="0" width="1.5" height="1.5" fill="#1a94b0"/><rect x="10.5" y="0" width="1.5" height="1.5" fill="#14a88c"/><rect x="12" y="0" width="1.5" height="1.5" fill="#0ec4cc"/><rect x="13.5" y="0" width="1.5" height="1.5" fill="#1a94b0"/><rect x="16.5" y="0" width="1.5" height="1.5" fill="#1a94b0"/><rect x="22.5" y="0" width="1.5" height="1.5" fill="#1478a0"/><rect x="25.5" y="0" width="1.5" height="1.5" fill="#14a88c"/><rect x="1.5" y="1.5" width="1.5" height="1.5" fill="#0ec4cc"/><rect x="6" y="1.5" width="1.5" height="1.5" fill="#14a88c"/><rect x="10.5" y="1.5" width="1.5" height="1.5" fill="#1478a0"/><rect x="15" y="1.5" width="1.5" height="1.5" fill="#6ab820"/><rect x="16.5" y="1.5" width="1.5" height="1.5" fill="#1478a0"/><rect x="24" y="1.5" width="1.5" height="1.5" fill="#1a94b0"/><rect x="0" y="3" width="1.5" height="1.5" fill="#0ec4cc"/><rect x="4.5" y="3" width="1.5" height="1.5" fill="#14a88c"/><rect x="9" y="3" width="1.5" height="1.5" fill="#1a94b0"/><rect x="15" y="3" width="1.5" height="1.5" fill="#0ec4cc"/><rect x="16.5" y="3" width="1.5" height="1.5" fill="#1478a0"/><rect x="18" y="3" width="1.5" height="1.5" fill="#6ab820"/><rect x="19.5" y="3" width="1.5" height="1.5" fill="#1a94b0"/><rect x="24" y="3" width="1.5" height="1.5" fill="#0ec4cc"/><rect x="25.5" y="3" width="1.5" height="1.5" fill="#1a94b0"/><rect x="6" y="4.5" width="1.5" height="1.5" fill="#14a88c"/><rect x="10.5" y="4.5" width="1.5" height="1.5" fill="#14a88c"/><rect x="19.5" y="4.5" width="1.5" height="1.5" fill="#0ec4cc"/><rect x="25.5" y="4.5" width="1.5" height="1.5" fill="#0ec4cc"/><rect x="4.5" y="6" width="1.5" height="1.5" fill="#1a94b0"/><rect x="13.5" y="6" width="1.5" height="1.5" fill="#1478a0"/><rect x="16.5" y="6" width="1.5" height="1.5" fill="#1478a0"/><rect x="19.5" y="6" width="1.5" height="1.5" fill="#1478a0"/><rect x="24" y="6" width="1.5" height="1.5" fill="#0ec4cc"/><rect x="25.5" y="6" width="1.5" height="1.5" fill="#1478a0"/><rect x="3" y="7.5" width="1.5" height="1.5" fill="#0ec4cc"/><rect x="10.5" y="7.5" width="1.5" height="1.5" fill="#1a94b0"/><rect x="12" y="7.5" width="1.5" height="1.5" fill="#6ab820"/><rect x="13.5" y="7.5" width="1.5" height="1.5" fill="#d0a010"/><rect x="19.5" y="7.5" width="1.5" height="1.5" fill="#0ec4cc"/><rect x="21" y="7.5" width="1.5" height="1.5" fill="#14a88c"/><rect x="22.5" y="7.5" width="1.5" height="1.5" fill="#1a94b0"/><rect x="1.5" y="9" width="1.5" height="1.5" fill="#1a94b0"/><rect x="4.5" y="9" width="1.5" height="1.5" fill="#1478a0"/><rect x="6" y="9" width="1.5" height="1.5" fill="#1478a0"/><rect x="10.5" y="9" width="1.5" height="1.5" fill="#14a88c"/><rect x="13.5" y="9" width="1.5" height="1.5" fill="#1478a0"/><rect x="16.5" y="9" width="1.5" height="1.5" fill="#0ec4cc"/><rect x="18" y="9" width="1.5" height="1.5" fill="#0ec4cc"/><rect x="24" y="9" width="1.5" height="1.5" fill="#0ec4cc"/><rect x="25.5" y="9" width="1.5" height="1.5" fill="#0ec4cc"/><rect x="1.5" y="10.5" width="1.5" height="1.5" fill="#1478a0"/><rect x="7.5" y="10.5" width="1.5" height="1.5" fill="#6ab820"/><rect x="10.5" y="10.5" width="1.5" height="1.5" fill="#1a94b0"/><rect x="12" y="10.5" width="1.5" height="1.5" fill="#1478a0"/><rect x="13.5" y="10.5" width="1.5" height="1.5" fill="#1478a0"/><rect x="15" y="10.5" width="1.5" height="1.5" fill="#0ec4cc"/><rect x="18" y="10.5" width="1.5" height="1.5" fill="#1a94b0"/><rect x="19.5" y="10.5" width="1.5" height="1.5" fill="#1478a0"/><rect x="21" y="10.5" width="1.5" height="1.5" fill="#0ec4cc"/><rect x="22.5" y="10.5" width="1.5" height="1.5" fill="#1a94b0"/><rect x="0" y="12" width="1.5" height="1.5" fill="#0ec4cc"/><rect x="4.5" y="12" width="1.5" height="1.5" fill="#0ec4cc"/><rect x="6" y="12" width="1.5" height="1.5" fill="#1478a0"/><rect x="7.5" y="12" width="1.5" height="1.5" fill="#0ec4cc"/><rect x="9" y="12" width="1.5" height="1.5" fill="#1478a0"/><rect x="10.5" y="12" width="1.5" height="1.5" fill="#1478a0"/><rect x="13.5" y="12" width="1.5" height="1.5" fill="#0ec4cc"/><rect x="21" y="12" width="1.5" height="1.5" fill="#1478a0"/><rect x="22.5" y="12" width="1.5" height="1.5" fill="#0ec4cc"/><rect x="25.5" y="12" width="1.5" height="1.5" fill="#1a94b0"/><rect x="3" y="13.5" width="1.5" height="1.5" fill="#0ec4cc"/><rect x="10.5" y="13.5" width="1.5" height="1.5" fill="#0ec4cc"/><rect x="16.5" y="13.5" width="1.5" height="1.5" fill="#0ec4cc"/><rect x="18" y="13.5" width="1.5" height="1.5" fill="#0ec4cc"/><rect x="19.5" y="13.5" width="1.5" height="1.5" fill="#1a94b0"/><rect x="21" y="13.5" width="1.5" height="1.5" fill="#1478a0"/><rect x="3" y="15" width="1.5" height="1.5" fill="#1a94b0"/><rect x="9" y="15" width="1.5" height="1.5" fill="#1478a0"/><rect x="19.5" y="15" width="1.5" height="1.5" fill="#1478a0"/><rect x="22.5" y="15" width="1.5" height="1.5" fill="#0ec4cc"/><rect x="0" y="16.5" width="1.5" height="1.5" fill="#1a94b0"/><rect x="1.5" y="16.5" width="1.5" height="1.5" fill="#14a88c"/><rect x="6" y="16.5" width="1.5" height="1.5" fill="#14a88c"/><rect x="7.5" y="16.5" width="1.5" height="1.5" fill="#14a88c"/><rect x="12" y="16.5" width="1.5" height="1.5" fill="#0ec4cc"/><rect x="15" y="16.5" width="1.5" height="1.5" fill="#1a94b0"/><rect x="16.5" y="16.5" width="1.5" height="1.5" fill="#1a94b0"/><rect x="18" y="16.5" width="1.5" height="1.5" fill="#6ab820"/><rect x="21" y="16.5" width="1.5" height="1.5" fill="#0ec4cc"/><rect x="24" y="16.5" width="1.5" height="1.5" fill="#0ec4cc"/><rect x="12" y="18" width="1.5" height="1.5" fill="#0ec4cc"/><rect x="15" y="18" width="1.5" height="1.5" fill="#1478a0"/><rect x="16.5" y="18" width="1.5" height="1.5" fill="#1a94b0"/><rect x="19.5" y="18" width="1.5" height="1.5" fill="#14a88c"/><rect x="21" y="18" width="1.5" height="1.5" fill="#1478a0"/><rect x="25.5" y="18" width="1.5" height="1.5" fill="#1a94b0"/><rect x="0" y="19.5" width="1.5" height="1.5" fill="#14a88c"/><rect x="1.5" y="19.5" width="1.5" height="1.5" fill="#1a94b0"/><rect x="3" y="19.5" width="1.5" height="1.5" fill="#0ec4cc"/><rect x="6" y="19.5" width="1.5" height="1.5" fill="#1a94b0"/><rect x="15" y="19.5" width="1.5" height="1.5" fill="#0ec4cc"/><rect x="21" y="19.5" width="1.5" height="1.5" fill="#6ab820"/><rect x="25.5" y="19.5" width="1.5" height="1.5" fill="#14a88c"/><rect x="0" y="21" width="1.5" height="1.5" fill="#14a88c"/><rect x="1.5" y="21" width="1.5" height="1.5" fill="#14a88c"/><rect x="4.5" y="21" width="1.5" height="1.5" fill="#0ec4cc"/><rect x="9" y="21" width="1.5" height="1.5" fill="#14a88c"/><rect x="10.5" y="21" width="1.5" height="1.5" fill="#14a88c"/><rect x="13.5" y="21" width="1.5" height="1.5" fill="#14a88c"/><rect x="22.5" y="21" width="1.5" height="1.5" fill="#0ec4cc"/><rect x="3" y="22.5" width="1.5" height="1.5" fill="#14a88c"/><rect x="4.5" y="22.5" width="1.5" height="1.5" fill="#1a94b0"/><rect x="7.5" y="22.5" width="1.5" height="1.5" fill="#0ec4cc"/><rect x="13.5" y="22.5" width="1.5" height="1.5" fill="#1a94b0"/><rect x="15" y="22.5" width="1.5" height="1.5" fill="#0ec4cc"/><rect x="18" y="22.5" width="1.5" height="1.5" fill="#1a94b0"/><rect x="21" y="22.5" width="1.5" height="1.5" fill="#1a94b0"/></pattern><clipPath id="clipD"><path d="M419.4,270.4 L422.4,268.0 L425.4,268.5 L427.4,272.0 L431.4,274.0 L436.4,275.8 L443.4,276.6 L448.4,277.0 L453.4,276.3 L458.4,277.2 L463.4,276.5 L468.9,276.2 L472.4,277.0 L475.4,276.5 L478.9,279.0 L479.9,282.5 L483.4,285.0 L488.7,287.8 L495.1,289.5 L501.0,289.5 L508.4,289.5 L513.4,289.8 L518.4,290.0 L523.4,289.5 L528.4,291.0 L533.4,291.5 L540.4,291.0 L543.4,289.0 L547.4,287.5 L549.4,286.0 L552.4,284.5 L555.4,283.3 L559.4,283.3 L561.4,285.0 L561.9,288.0 L563.4,289.8 L568.8,292.9 L573.4,294.5 L576.4,295.5 L579.4,299.0 L581.4,302.0 L584.9,305.0 L588.4,307.0 L593.4,309.0 L598.4,310.3 L606.4,309.7 L613.1,310.6 L622.6,311.1 L626.9,311.8 L628.2,313.5 L628.2,322.0 L628.2,331.0 L632.6,332.8 L632.6,336.8 L626.4,336.8 L625.9,333.5 L622.4,332.5 L618.4,333.0 L610.4,334.0 L603.4,333.0 L598.4,330.5 L588.4,329.0 L578.4,328.5 L571.0,327.5 L562.8,326.3 L553.4,325.1 L546.4,324.6 L539.4,322.2 L530.1,319.9 L520.7,316.6 L518.4,316.2 L508.4,314.0 L498.6,312.3 L490.4,311.1 L483.4,312.3 L478.8,312.9 L470.6,311.7 L463.6,311.0 L458.4,308.5 L453.9,306.0 L448.4,305.0 L443.4,305.0 L436.4,304.6 L433.4,303.4 L431.9,300.0 L431.9,296.0 L431.4,294.5 L428.4,292.0 L423.7,291.9 L420.4,291.5 L418.4,291.0 L414.4,290.5 L410.4,290.0 L405.4,288.5 L401.9,285.5 L401.4,283.0 L403.4,281.0 L406.4,281.0 L409.4,282.5 L411.9,283.5 L414.4,281.5 L416.9,280.0 L418.4,280.5 L418.9,278.0ZM390.9,240.5 L422.2,240.5 L421.6,244.5 L421.4,249.0 L420.7,254.0 L419.6,260.0 L419.8,263.6 L420.4,266.5 L421.9,267.5 L418.4,269.0 L415.4,268.5 L413.4,268.0 L411.9,270.0 L409.9,269.0 L410.4,265.0 L409.9,262.0 L407.9,259.5 L406.4,262.0 L404.4,264.2 L401.4,265.1 L398.4,264.0 L396.4,265.5 L394.7,266.0 L390.9,266.0ZM407.9,270.0 L411.9,270.5 L412.4,273.5 L408.4,274.0ZM570.4,292.0 L574.4,291.0 L578.4,290.5 L583.4,290.0 L586.4,289.5 L593.4,289.3 L600.4,289.5 L608.4,290.0 L614.4,290.5 L619.4,291.5 L618.4,294.0 L610.4,296.0 L600.4,297.0 L592.4,297.5 L586.4,298.5 L583.4,295.0 L578.4,294.5 L572.4,295.0 L570.4,294.0ZM629.8,320.8 L632.1,321.5 L636.8,322.0 L643.4,320.6 L646.3,319.6 L651.0,320.6 L655.8,323.4 L659.1,327.2 L654.8,330.1 L648.2,332.9 L647.2,336.7 L644.4,337.6 L643.4,333.9 L639.6,330.1 L634.9,327.2 L630.2,323.4ZM645.4,289.0 L650.4,288.0 L654.4,289.5 L658.4,292.0 L661.4,294.5 L664.6,296.0 L664.4,299.0 L660.4,299.0 L657.4,296.5 L653.4,295.0 L648.4,294.0 L645.4,292.0ZM651.4,333.4 L655.4,333.0 L657.2,336.0 L654.4,338.6 L651.4,337.5ZM660.6,335.1 L664.4,335.0 L665.8,337.0 L665.4,340.3 L661.4,339.0Z" fill="#000"/><circle cx="541.2" cy="283.4" r="5.60" fill="#000"/><circle cx="584.9" cy="263.7" r="2.80" fill="#000"/><circle cx="632.0" cy="296.8" r="1.30" fill="#000"/><circle cx="530.9" cy="264.3" r="1.20" fill="#000"/><circle cx="526.6" cy="262.2" r="0.90" fill="#000"/><circle cx="430.4" cy="263.8" r="1.30" fill="#000"/><circle cx="444.4" cy="268.0" r="1.20" fill="#000"/><circle cx="449.7" cy="269.4" r="1.00" fill="#000"/><circle cx="460.2" cy="273.8" r="1.00" fill="#000"/><circle cx="444.0" cy="267.8" r="1.00" fill="#000"/><circle cx="409.9" cy="272.0" r="2.20" fill="#000"/><circle cx="631.6" cy="245.9" r="1.40" fill="#000"/><ellipse cx="437.6" cy="258.5" rx="1.60" ry="4.00" fill="#000"/></clipPath><clipPath id="boxD"><rect x="394.70" y="244.60" width="320" height="130"/></clipPath><pattern id="pbE" patternUnits="userSpaceOnUse" width="27" height="25.5"><rect width="27" height="25.5" fill="#f8b43a"/><rect x="1.5" y="0" width="1.5" height="1.5" fill="#f5a632"/><rect x="3" y="0" width="1.5" height="1.5" fill="#f5a632"/><rect x="4.5" y="0" width="1.5" height="1.5" fill="#fde080"/><rect x="12" y="0" width="1.5" height="1.5" fill="#fcd060"/><rect x="15" y="0" width="1.5" height="1.5" fill="#fbc248"/><rect x="19.5" y="0" width="1.5" height="1.5" fill="#fbc248"/><rect x="21" y="0" width="1.5" height="1.5" fill="#fcd060"/><rect x="22.5" y="0" width="1.5" height="1.5" fill="#f5a632"/><rect x="1.5" y="1.5" width="1.5" height="1.5" fill="#fde080"/><rect x="3" y="1.5" width="1.5" height="1.5" fill="#fcd060"/><rect x="4.5" y="1.5" width="1.5" height="1.5" fill="#fcd060"/><rect x="6" y="1.5" width="1.5" height="1.5" fill="#fcd060"/><rect x="7.5" y="1.5" width="1.5" height="1.5" fill="#fcd060"/><rect x="9" y="1.5" width="1.5" height="1.5" fill="#f08e2c"/><rect x="10.5" y="1.5" width="1.5" height="1.5" fill="#fcd060"/><rect x="13.5" y="1.5" width="1.5" height="1.5" fill="#fde080"/><rect x="15" y="1.5" width="1.5" height="1.5" fill="#fbc248"/><rect x="16.5" y="1.5" width="1.5" height="1.5" fill="#fcd060"/><rect x="18" y="1.5" width="1.5" height="1.5" fill="#f5a632"/><rect x="19.5" y="1.5" width="1.5" height="1.5" fill="#fbc248"/><rect x="21" y="1.5" width="1.5" height="1.5" fill="#fbc248"/><rect x="22.5" y="1.5" width="1.5" height="1.5" fill="#fbc248"/><rect x="0" y="3" width="1.5" height="1.5" fill="#fcd060"/><rect x="1.5" y="3" width="1.5" height="1.5" fill="#fcd060"/><rect x="3" y="3" width="1.5" height="1.5" fill="#f9bc40"/><rect x="4.5" y="3" width="1.5" height="1.5" fill="#f5a632"/><rect x="6" y="3" width="1.5" height="1.5" fill="#fbc248"/><rect x="7.5" y="3" width="1.5" height="1.5" fill="#fcd060"/><rect x="10.5" y="3" width="1.5" height="1.5" fill="#f5a632"/><rect x="12" y="3" width="1.5" height="1.5" fill="#fbc248"/><rect x="16.5" y="3" width="1.5" height="1.5" fill="#fbc248"/><rect x="19.5" y="3" width="1.5" height="1.5" fill="#fbc248"/><rect x="21" y="3" width="1.5" height="1.5" fill="#f5a632"/><rect x="22.5" y="3" width="1.5" height="1.5" fill="#fbc248"/><rect x="25.5" y="3" width="1.5" height="1.5" fill="#fbc248"/><rect x="4.5" y="4.5" width="1.5" height="1.5" fill="#fbc248"/><rect x="7.5" y="4.5" width="1.5" height="1.5" fill="#f5a632"/><rect x="9" y="4.5" width="1.5" height="1.5" fill="#f08e2c"/><rect x="10.5" y="4.5" width="1.5" height="1.5" fill="#fbc248"/><rect x="12" y="4.5" width="1.5" height="1.5" fill="#f5a632"/><rect x="13.5" y="4.5" width="1.5" height="1.5" fill="#f08e2c"/><rect x="18" y="4.5" width="1.5" height="1.5" fill="#fcd060"/><rect x="19.5" y="4.5" width="1.5" height="1.5" fill="#fcd060"/><rect x="21" y="4.5" width="1.5" height="1.5" fill="#f5a632"/><rect x="24" y="4.5" width="1.5" height="1.5" fill="#fbc248"/><rect x="25.5" y="4.5" width="1.5" height="1.5" fill="#fde080"/><rect x="0" y="6" width="1.5" height="1.5" fill="#fde080"/><rect x="1.5" y="6" width="1.5" height="1.5" fill="#fcd060"/><rect x="4.5" y="6" width="1.5" height="1.5" fill="#fde080"/><rect x="6" y="6" width="1.5" height="1.5" fill="#fbc248"/><rect x="7.5" y="6" width="1.5" height="1.5" fill="#f5a632"/><rect x="10.5" y="6" width="1.5" height="1.5" fill="#f9bc40"/><rect x="12" y="6" width="1.5" height="1.5" fill="#f5a632"/><rect x="13.5" y="6" width="1.5" height="1.5" fill="#fcd060"/><rect x="16.5" y="6" width="1.5" height="1.5" fill="#f5a632"/><rect x="18" y="6" width="1.5" height="1.5" fill="#f5a632"/><rect x="19.5" y="6" width="1.5" height="1.5" fill="#f5a632"/><rect x="22.5" y="6" width="1.5" height="1.5" fill="#fcd060"/><rect x="1.5" y="7.5" width="1.5" height="1.5" fill="#f5a632"/><rect x="7.5" y="7.5" width="1.5" height="1.5" fill="#f5a632"/><rect x="9" y="7.5" width="1.5" height="1.5" fill="#fbc248"/><rect x="10.5" y="7.5" width="1.5" height="1.5" fill="#fbc248"/><rect x="13.5" y="7.5" width="1.5" height="1.5" fill="#fbc248"/><rect x="19.5" y="7.5" width="1.5" height="1.5" fill="#f9bc40"/><rect x="25.5" y="7.5" width="1.5" height="1.5" fill="#f5a632"/><rect x="1.5" y="9" width="1.5" height="1.5" fill="#fbc248"/><rect x="3" y="9" width="1.5" height="1.5" fill="#fbc248"/><rect x="4.5" y="9" width="1.5" height="1.5" fill="#fcd060"/><rect x="9" y="9" width="1.5" height="1.5" fill="#fbc248"/><rect x="10.5" y="9" width="1.5" height="1.5" fill="#f08e2c"/><rect x="12" y="9" width="1.5" height="1.5" fill="#fbc248"/><rect x="13.5" y="9" width="1.5" height="1.5" fill="#fbc248"/><rect x="15" y="9" width="1.5" height="1.5" fill="#f5a632"/><rect x="19.5" y="9" width="1.5" height="1.5" fill="#fbc248"/><rect x="21" y="9" width="1.5" height="1.5" fill="#f08e2c"/><rect x="22.5" y="9" width="1.5" height="1.5" fill="#fcd060"/><rect x="25.5" y="9" width="1.5" height="1.5" fill="#f5a632"/><rect x="0" y="10.5" width="1.5" height="1.5" fill="#fde080"/><rect x="3" y="10.5" width="1.5" height="1.5" fill="#f5a632"/><rect x="13.5" y="10.5" width="1.5" height="1.5" fill="#fbc248"/><rect x="16.5" y="10.5" width="1.5" height="1.5" fill="#fcd060"/><rect x="18" y="10.5" width="1.5" height="1.5" fill="#f5a632"/><rect x="21" y="10.5" width="1.5" height="1.5" fill="#fcd060"/><rect x="24" y="10.5" width="1.5" height="1.5" fill="#fbc248"/><rect x="25.5" y="10.5" width="1.5" height="1.5" fill="#fbc248"/><rect x="3" y="12" width="1.5" height="1.5" fill="#fbc248"/><rect x="6" y="12" width="1.5" height="1.5" fill="#fde080"/><rect x="9" y="12" width="1.5" height="1.5" fill="#fcd060"/><rect x="13.5" y="12" width="1.5" height="1.5" fill="#fbc248"/><rect x="18" y="12" width="1.5" height="1.5" fill="#fbc248"/><rect x="19.5" y="12" width="1.5" height="1.5" fill="#fbc248"/><rect x="21" y="12" width="1.5" height="1.5" fill="#fde080"/><rect x="22.5" y="12" width="1.5" height="1.5" fill="#f9bc40"/><rect x="25.5" y="12" width="1.5" height="1.5" fill="#fbc248"/><rect x="1.5" y="13.5" width="1.5" height="1.5" fill="#fcd060"/><rect x="4.5" y="13.5" width="1.5" height="1.5" fill="#fde080"/><rect x="6" y="13.5" width="1.5" height="1.5" fill="#fbc248"/><rect x="12" y="13.5" width="1.5" height="1.5" fill="#fde080"/><rect x="15" y="13.5" width="1.5" height="1.5" fill="#fbc248"/><rect x="16.5" y="13.5" width="1.5" height="1.5" fill="#fbc248"/><rect x="19.5" y="13.5" width="1.5" height="1.5" fill="#fcd060"/><rect x="22.5" y="13.5" width="1.5" height="1.5" fill="#f5a632"/><rect x="24" y="13.5" width="1.5" height="1.5" fill="#f5a632"/><rect x="25.5" y="13.5" width="1.5" height="1.5" fill="#f08e2c"/><rect x="0" y="15" width="1.5" height="1.5" fill="#fbc248"/><rect x="1.5" y="15" width="1.5" height="1.5" fill="#f08e2c"/><rect x="3" y="15" width="1.5" height="1.5" fill="#fbc248"/><rect x="4.5" y="15" width="1.5" height="1.5" fill="#f5a632"/><rect x="6" y="15" width="1.5" height="1.5" fill="#f5a632"/><rect x="7.5" y="15" width="1.5" height="1.5" fill="#fcd060"/><rect x="9" y="15" width="1.5" height="1.5" fill="#fde080"/><rect x="13.5" y="15" width="1.5" height="1.5" fill="#fbc248"/><rect x="15" y="15" width="1.5" height="1.5" fill="#fcd060"/><rect x="16.5" y="15" width="1.5" height="1.5" fill="#fbc248"/><rect x="19.5" y="15" width="1.5" height="1.5" fill="#f08e2c"/><rect x="0" y="16.5" width="1.5" height="1.5" fill="#fcd060"/><rect x="3" y="16.5" width="1.5" height="1.5" fill="#f5a632"/><rect x="4.5" y="16.5" width="1.5" height="1.5" fill="#fde080"/><rect x="6" y="16.5" width="1.5" height="1.5" fill="#f9bc40"/><rect x="7.5" y="16.5" width="1.5" height="1.5" fill="#fcd060"/><rect x="9" y="16.5" width="1.5" height="1.5" fill="#fbc248"/><rect x="10.5" y="16.5" width="1.5" height="1.5" fill="#f5a632"/><rect x="12" y="16.5" width="1.5" height="1.5" fill="#fcd060"/><rect x="13.5" y="16.5" width="1.5" height="1.5" fill="#f5a632"/><rect x="16.5" y="16.5" width="1.5" height="1.5" fill="#fcd060"/><rect x="21" y="16.5" width="1.5" height="1.5" fill="#f9bc40"/><rect x="22.5" y="16.5" width="1.5" height="1.5" fill="#fbc248"/><rect x="25.5" y="16.5" width="1.5" height="1.5" fill="#fcd060"/><rect x="0" y="18" width="1.5" height="1.5" fill="#fbc248"/><rect x="7.5" y="18" width="1.5" height="1.5" fill="#f08e2c"/><rect x="10.5" y="18" width="1.5" height="1.5" fill="#fde080"/><rect x="12" y="18" width="1.5" height="1.5" fill="#fde080"/><rect x="13.5" y="18" width="1.5" height="1.5" fill="#fbc248"/><rect x="15" y="18" width="1.5" height="1.5" fill="#f9bc40"/><rect x="16.5" y="18" width="1.5" height="1.5" fill="#fcd060"/><rect x="18" y="18" width="1.5" height="1.5" fill="#fbc248"/><rect x="21" y="18" width="1.5" height="1.5" fill="#fbc248"/><rect x="22.5" y="18" width="1.5" height="1.5" fill="#f08e2c"/><rect x="24" y="18" width="1.5" height="1.5" fill="#fbc248"/><rect x="0" y="19.5" width="1.5" height="1.5" fill="#fbc248"/><rect x="1.5" y="19.5" width="1.5" height="1.5" fill="#fbc248"/><rect x="4.5" y="19.5" width="1.5" height="1.5" fill="#f5a632"/><rect x="7.5" y="19.5" width="1.5" height="1.5" fill="#fcd060"/><rect x="12" y="19.5" width="1.5" height="1.5" fill="#f5a632"/><rect x="15" y="19.5" width="1.5" height="1.5" fill="#fde080"/><rect x="16.5" y="19.5" width="1.5" height="1.5" fill="#fbc248"/><rect x="18" y="19.5" width="1.5" height="1.5" fill="#fbc248"/><rect x="19.5" y="19.5" width="1.5" height="1.5" fill="#fcd060"/><rect x="22.5" y="19.5" width="1.5" height="1.5" fill="#fcd060"/><rect x="24" y="19.5" width="1.5" height="1.5" fill="#f5a632"/><rect x="25.5" y="19.5" width="1.5" height="1.5" fill="#fbc248"/><rect x="0" y="21" width="1.5" height="1.5" fill="#f08e2c"/><rect x="3" y="21" width="1.5" height="1.5" fill="#fde080"/><rect x="6" y="21" width="1.5" height="1.5" fill="#fcd060"/><rect x="10.5" y="21" width="1.5" height="1.5" fill="#fbc248"/><rect x="12" y="21" width="1.5" height="1.5" fill="#f08e2c"/><rect x="15" y="21" width="1.5" height="1.5" fill="#fbc248"/><rect x="16.5" y="21" width="1.5" height="1.5" fill="#f5a632"/><rect x="19.5" y="21" width="1.5" height="1.5" fill="#fbc248"/><rect x="22.5" y="21" width="1.5" height="1.5" fill="#fbc248"/><rect x="24" y="21" width="1.5" height="1.5" fill="#fcd060"/><rect x="3" y="22.5" width="1.5" height="1.5" fill="#f5a632"/><rect x="4.5" y="22.5" width="1.5" height="1.5" fill="#fbc248"/><rect x="6" y="22.5" width="1.5" height="1.5" fill="#f08e2c"/><rect x="7.5" y="22.5" width="1.5" height="1.5" fill="#fcd060"/><rect x="10.5" y="22.5" width="1.5" height="1.5" fill="#f08e2c"/><rect x="12" y="22.5" width="1.5" height="1.5" fill="#f08e2c"/><rect x="13.5" y="22.5" width="1.5" height="1.5" fill="#fcd060"/><rect x="15" y="22.5" width="1.5" height="1.5" fill="#fcd060"/><rect x="16.5" y="22.5" width="1.5" height="1.5" fill="#f5a632"/><rect x="18" y="22.5" width="1.5" height="1.5" fill="#fcd060"/><rect x="19.5" y="22.5" width="1.5" height="1.5" fill="#f5a632"/><rect x="21" y="22.5" width="1.5" height="1.5" fill="#f5a632"/><rect x="25.5" y="22.5" width="1.5" height="1.5" fill="#fcd060"/><rect x="0" y="24" width="1.5" height="1.5" fill="#f5a632"/><rect x="3" y="24" width="1.5" height="1.5" fill="#f5a632"/><rect x="4.5" y="24" width="1.5" height="1.5" fill="#f5a632"/><rect x="6" y="24" width="1.5" height="1.5" fill="#fbc248"/><rect x="7.5" y="24" width="1.5" height="1.5" fill="#fcd060"/><rect x="9" y="24" width="1.5" height="1.5" fill="#fde080"/><rect x="10.5" y="24" width="1.5" height="1.5" fill="#fbc248"/><rect x="12" y="24" width="1.5" height="1.5" fill="#fcd060"/><rect x="13.5" y="24" width="1.5" height="1.5" fill="#fbc248"/><rect x="15" y="24" width="1.5" height="1.5" fill="#f5a632"/><rect x="16.5" y="24" width="1.5" height="1.5" fill="#fbc248"/><rect x="18" y="24" width="1.5" height="1.5" fill="#f08e2c"/><rect x="19.5" y="24" width="1.5" height="1.5" fill="#fbc248"/><rect x="21" y="24" width="1.5" height="1.5" fill="#f08e2c"/><rect x="24" y="24" width="1.5" height="1.5" fill="#f5a632"/><rect x="25.5" y="24" width="1.5" height="1.5" fill="#f08e2c"/></pattern><pattern id="pdE" patternUnits="userSpaceOnUse" width="20" height="20"><rect x="2" y="0" width="2" height="2" fill="#d85a30"/><rect x="4" y="0" width="2" height="2" fill="#e07028"/><rect x="6" y="0" width="2" height="2" fill="#f0902c"/><rect x="12" y="0" width="2" height="2" fill="#d85a30"/><rect x="14" y="0" width="2" height="2" fill="#e07028"/><rect x="18" y="0" width="2" height="2" fill="#d85a30"/><rect x="2" y="2" width="2" height="2" fill="#d85a30"/><rect x="8" y="2" width="2" height="2" fill="#f0902c"/><rect x="14" y="2" width="2" height="2" fill="#d85a30"/><rect x="16" y="2" width="2" height="2" fill="#e07028"/><rect x="0" y="4" width="2" height="2" fill="#e07028"/><rect x="2" y="4" width="2" height="2" fill="#e07028"/><rect x="6" y="4" width="2" height="2" fill="#e07028"/><rect x="16" y="4" width="2" height="2" fill="#f0902c"/><rect x="0" y="6" width="2" height="2" fill="#f0902c"/><rect x="4" y="6" width="2" height="2" fill="#e07028"/><rect x="6" y="6" width="2" height="2" fill="#c84838"/><rect x="8" y="6" width="2" height="2" fill="#d85a30"/><rect x="12" y="6" width="2" height="2" fill="#e07028"/><rect x="14" y="6" width="2" height="2" fill="#e07028"/><rect x="0" y="8" width="2" height="2" fill="#c84838"/><rect x="2" y="8" width="2" height="2" fill="#e07028"/><rect x="10" y="8" width="2" height="2" fill="#d85a30"/><rect x="12" y="8" width="2" height="2" fill="#e07028"/><rect x="16" y="8" width="2" height="2" fill="#d85a30"/><rect x="4" y="10" width="2" height="2" fill="#d85a30"/><rect x="8" y="10" width="2" height="2" fill="#e07028"/><rect x="14" y="10" width="2" height="2" fill="#d85a30"/><rect x="16" y="10" width="2" height="2" fill="#e07028"/><rect x="4" y="12" width="2" height="2" fill="#e07028"/><rect x="12" y="12" width="2" height="2" fill="#c84838"/><rect x="14" y="12" width="2" height="2" fill="#f0902c"/><rect x="0" y="14" width="2" height="2" fill="#d85a30"/><rect x="2" y="14" width="2" height="2" fill="#e07028"/><rect x="6" y="14" width="2" height="2" fill="#d85a30"/><rect x="8" y="14" width="2" height="2" fill="#f0902c"/><rect x="14" y="14" width="2" height="2" fill="#e07028"/><rect x="16" y="14" width="2" height="2" fill="#f0902c"/><rect x="4" y="16" width="2" height="2" fill="#e07028"/><rect x="16" y="16" width="2" height="2" fill="#f0902c"/><rect x="18" y="16" width="2" height="2" fill="#e07028"/><rect x="2" y="18" width="2" height="2" fill="#f0902c"/><rect x="16" y="18" width="2" height="2" fill="#c84838"/></pattern><pattern id="plE" patternUnits="userSpaceOnUse" width="20" height="20"><rect x="0" y="0" width="2" height="2" fill="#fbd060"/><rect x="4" y="0" width="2" height="2" fill="#fdeaa0"/><rect x="8" y="0" width="2" height="2" fill="#fbd060"/><rect x="12" y="0" width="2" height="2" fill="#fbd060"/><rect x="14" y="0" width="2" height="2" fill="#fce080"/><rect x="16" y="0" width="2" height="2" fill="#fbd060"/><rect x="18" y="0" width="2" height="2" fill="#fbd060"/><rect x="4" y="2" width="2" height="2" fill="#fdeaa0"/><rect x="12" y="2" width="2" height="2" fill="#fbd060"/><rect x="14" y="2" width="2" height="2" fill="#fbd060"/><rect x="16" y="2" width="2" height="2" fill="#fdeaa0"/><rect x="0" y="4" width="2" height="2" fill="#fbd060"/><rect x="2" y="4" width="2" height="2" fill="#fce080"/><rect x="6" y="4" width="2" height="2" fill="#fce080"/><rect x="12" y="4" width="2" height="2" fill="#fce080"/><rect x="16" y="4" width="2" height="2" fill="#fce080"/><rect x="18" y="4" width="2" height="2" fill="#fbd060"/><rect x="0" y="6" width="2" height="2" fill="#fce080"/><rect x="4" y="6" width="2" height="2" fill="#fbd060"/><rect x="6" y="6" width="2" height="2" fill="#fbd060"/><rect x="8" y="6" width="2" height="2" fill="#fce080"/><rect x="10" y="6" width="2" height="2" fill="#fbd060"/><rect x="18" y="6" width="2" height="2" fill="#fbd060"/><rect x="0" y="8" width="2" height="2" fill="#fce080"/><rect x="2" y="8" width="2" height="2" fill="#fdeaa0"/><rect x="6" y="8" width="2" height="2" fill="#fce080"/><rect x="8" y="8" width="2" height="2" fill="#fbd060"/><rect x="16" y="8" width="2" height="2" fill="#fce080"/><rect x="18" y="8" width="2" height="2" fill="#fdeaa0"/><rect x="0" y="10" width="2" height="2" fill="#fce080"/><rect x="4" y="10" width="2" height="2" fill="#fce080"/><rect x="8" y="10" width="2" height="2" fill="#fbd060"/><rect x="16" y="10" width="2" height="2" fill="#fdeaa0"/><rect x="0" y="12" width="2" height="2" fill="#fbd060"/><rect x="8" y="12" width="2" height="2" fill="#fbd060"/><rect x="10" y="12" width="2" height="2" fill="#fdeaa0"/><rect x="12" y="12" width="2" height="2" fill="#fce080"/><rect x="16" y="12" width="2" height="2" fill="#fce080"/><rect x="0" y="14" width="2" height="2" fill="#fdeaa0"/><rect x="2" y="14" width="2" height="2" fill="#fbd060"/><rect x="4" y="14" width="2" height="2" fill="#fdeaa0"/><rect x="10" y="14" width="2" height="2" fill="#fbd060"/><rect x="12" y="14" width="2" height="2" fill="#fbd060"/><rect x="16" y="14" width="2" height="2" fill="#fce080"/><rect x="18" y="14" width="2" height="2" fill="#fce080"/><rect x="0" y="16" width="2" height="2" fill="#fbd060"/><rect x="6" y="16" width="2" height="2" fill="#fdeaa0"/><rect x="8" y="16" width="2" height="2" fill="#fce080"/><rect x="10" y="16" width="2" height="2" fill="#fce080"/><rect x="12" y="16" width="2" height="2" fill="#fdeaa0"/><rect x="14" y="16" width="2" height="2" fill="#fce080"/><rect x="16" y="16" width="2" height="2" fill="#fce080"/><rect x="6" y="18" width="2" height="2" fill="#fce080"/><rect x="12" y="18" width="2" height="2" fill="#fce080"/><rect x="14" y="18" width="2" height="2" fill="#fdeaa0"/><rect x="16" y="18" width="2" height="2" fill="#fce080"/></pattern><pattern id="peoE" patternUnits="userSpaceOnUse" width="21" height="19.5"><rect x="1.5" y="0" width="1.5" height="1.5" fill="#f29a2c"/><rect x="3" y="0" width="1.5" height="1.5" fill="#f29a2c"/><rect x="4.5" y="0" width="1.5" height="1.5" fill="#f29a2c"/><rect x="6" y="0" width="1.5" height="1.5" fill="#f29a2c"/><rect x="7.5" y="0" width="1.5" height="1.5" fill="#ee8a2a"/><rect x="10.5" y="0" width="1.5" height="1.5" fill="#f29a2c"/><rect x="18" y="0" width="1.5" height="1.5" fill="#ee8a2a"/><rect x="0" y="1.5" width="1.5" height="1.5" fill="#ee8a2a"/><rect x="1.5" y="1.5" width="1.5" height="1.5" fill="#e47030"/><rect x="4.5" y="1.5" width="1.5" height="1.5" fill="#f5a632"/><rect x="6" y="1.5" width="1.5" height="1.5" fill="#f5a632"/><rect x="7.5" y="1.5" width="1.5" height="1.5" fill="#ee8a2a"/><rect x="10.5" y="1.5" width="1.5" height="1.5" fill="#f29a2c"/><rect x="12" y="1.5" width="1.5" height="1.5" fill="#f29a2c"/><rect x="19.5" y="1.5" width="1.5" height="1.5" fill="#ee8a2a"/><rect x="1.5" y="3" width="1.5" height="1.5" fill="#f29a2c"/><rect x="3" y="3" width="1.5" height="1.5" fill="#f29a2c"/><rect x="4.5" y="3" width="1.5" height="1.5" fill="#f5a632"/><rect x="9" y="3" width="1.5" height="1.5" fill="#e47030"/><rect x="10.5" y="3" width="1.5" height="1.5" fill="#f5a632"/><rect x="12" y="3" width="1.5" height="1.5" fill="#ee8a2a"/><rect x="13.5" y="3" width="1.5" height="1.5" fill="#f29a2c"/><rect x="19.5" y="3" width="1.5" height="1.5" fill="#f29a2c"/><rect x="1.5" y="4.5" width="1.5" height="1.5" fill="#ee8a2a"/><rect x="3" y="4.5" width="1.5" height="1.5" fill="#ee8a2a"/><rect x="6" y="4.5" width="1.5" height="1.5" fill="#f5a632"/><rect x="7.5" y="4.5" width="1.5" height="1.5" fill="#f29a2c"/><rect x="9" y="4.5" width="1.5" height="1.5" fill="#f5a632"/><rect x="10.5" y="4.5" width="1.5" height="1.5" fill="#f29a2c"/><rect x="12" y="4.5" width="1.5" height="1.5" fill="#ee8a2a"/><rect x="13.5" y="4.5" width="1.5" height="1.5" fill="#f29a2c"/><rect x="15" y="4.5" width="1.5" height="1.5" fill="#f29a2c"/><rect x="16.5" y="4.5" width="1.5" height="1.5" fill="#f29a2c"/><rect x="1.5" y="6" width="1.5" height="1.5" fill="#f29a2c"/><rect x="4.5" y="6" width="1.5" height="1.5" fill="#f29a2c"/><rect x="6" y="6" width="1.5" height="1.5" fill="#ee8a2a"/><rect x="7.5" y="6" width="1.5" height="1.5" fill="#f29a2c"/><rect x="10.5" y="6" width="1.5" height="1.5" fill="#f29a2c"/><rect x="12" y="6" width="1.5" height="1.5" fill="#e47030"/><rect x="13.5" y="6" width="1.5" height="1.5" fill="#ee8a2a"/><rect x="15" y="6" width="1.5" height="1.5" fill="#ee8a2a"/><rect x="16.5" y="6" width="1.5" height="1.5" fill="#f5a632"/><rect x="4.5" y="7.5" width="1.5" height="1.5" fill="#f29a2c"/><rect x="6" y="7.5" width="1.5" height="1.5" fill="#f5a632"/><rect x="9" y="7.5" width="1.5" height="1.5" fill="#ee8a2a"/><rect x="10.5" y="7.5" width="1.5" height="1.5" fill="#f5a632"/><rect x="12" y="7.5" width="1.5" height="1.5" fill="#ee8a2a"/><rect x="15" y="7.5" width="1.5" height="1.5" fill="#f29a2c"/><rect x="0" y="9" width="1.5" height="1.5" fill="#f29a2c"/><rect x="1.5" y="9" width="1.5" height="1.5" fill="#f5a632"/><rect x="9" y="9" width="1.5" height="1.5" fill="#f29a2c"/><rect x="10.5" y="9" width="1.5" height="1.5" fill="#ee8a2a"/><rect x="12" y="9" width="1.5" height="1.5" fill="#f29a2c"/><rect x="18" y="9" width="1.5" height="1.5" fill="#ee8a2a"/><rect x="19.5" y="9" width="1.5" height="1.5" fill="#f5a632"/><rect x="0" y="10.5" width="1.5" height="1.5" fill="#f29a2c"/><rect x="4.5" y="10.5" width="1.5" height="1.5" fill="#f29a2c"/><rect x="9" y="10.5" width="1.5" height="1.5" fill="#f29a2c"/><rect x="10.5" y="10.5" width="1.5" height="1.5" fill="#f5a632"/><rect x="13.5" y="10.5" width="1.5" height="1.5" fill="#f5a632"/><rect x="15" y="10.5" width="1.5" height="1.5" fill="#f5a632"/><rect x="16.5" y="10.5" width="1.5" height="1.5" fill="#f29a2c"/><rect x="0" y="12" width="1.5" height="1.5" fill="#ee8a2a"/><rect x="1.5" y="12" width="1.5" height="1.5" fill="#f5a632"/><rect x="3" y="12" width="1.5" height="1.5" fill="#f5a632"/><rect x="6" y="12" width="1.5" height="1.5" fill="#f29a2c"/><rect x="15" y="12" width="1.5" height="1.5" fill="#e47030"/><rect x="18" y="12" width="1.5" height="1.5" fill="#f29a2c"/><rect x="19.5" y="12" width="1.5" height="1.5" fill="#f29a2c"/><rect x="0" y="13.5" width="1.5" height="1.5" fill="#f29a2c"/><rect x="1.5" y="13.5" width="1.5" height="1.5" fill="#f29a2c"/><rect x="3" y="13.5" width="1.5" height="1.5" fill="#f29a2c"/><rect x="4.5" y="13.5" width="1.5" height="1.5" fill="#f29a2c"/><rect x="7.5" y="13.5" width="1.5" height="1.5" fill="#f29a2c"/><rect x="9" y="13.5" width="1.5" height="1.5" fill="#ee8a2a"/><rect x="10.5" y="13.5" width="1.5" height="1.5" fill="#ee8a2a"/><rect x="13.5" y="13.5" width="1.5" height="1.5" fill="#f29a2c"/><rect x="15" y="13.5" width="1.5" height="1.5" fill="#f5a632"/><rect x="16.5" y="13.5" width="1.5" height="1.5" fill="#ee8a2a"/><rect x="1.5" y="15" width="1.5" height="1.5" fill="#ee8a2a"/><rect x="3" y="15" width="1.5" height="1.5" fill="#f29a2c"/><rect x="7.5" y="15" width="1.5" height="1.5" fill="#f29a2c"/><rect x="9" y="15" width="1.5" height="1.5" fill="#ee8a2a"/><rect x="10.5" y="15" width="1.5" height="1.5" fill="#f29a2c"/><rect x="15" y="15" width="1.5" height="1.5" fill="#f29a2c"/><rect x="18" y="15" width="1.5" height="1.5" fill="#f5a632"/><rect x="0" y="16.5" width="1.5" height="1.5" fill="#f29a2c"/><rect x="3" y="16.5" width="1.5" height="1.5" fill="#e47030"/><rect x="4.5" y="16.5" width="1.5" height="1.5" fill="#ee8a2a"/><rect x="7.5" y="16.5" width="1.5" height="1.5" fill="#f29a2c"/><rect x="9" y="16.5" width="1.5" height="1.5" fill="#f5a632"/><rect x="10.5" y="16.5" width="1.5" height="1.5" fill="#f5a632"/><rect x="12" y="16.5" width="1.5" height="1.5" fill="#ee8a2a"/><rect x="13.5" y="16.5" width="1.5" height="1.5" fill="#f29a2c"/><rect x="15" y="16.5" width="1.5" height="1.5" fill="#ee8a2a"/><rect x="16.5" y="16.5" width="1.5" height="1.5" fill="#f5a632"/><rect x="18" y="16.5" width="1.5" height="1.5" fill="#f29a2c"/><rect x="19.5" y="16.5" width="1.5" height="1.5" fill="#f29a2c"/><rect x="0" y="18" width="1.5" height="1.5" fill="#ee8a2a"/><rect x="1.5" y="18" width="1.5" height="1.5" fill="#f29a2c"/><rect x="4.5" y="18" width="1.5" height="1.5" fill="#f29a2c"/><rect x="7.5" y="18" width="1.5" height="1.5" fill="#ee8a2a"/><rect x="9" y="18" width="1.5" height="1.5" fill="#ee8a2a"/><rect x="10.5" y="18" width="1.5" height="1.5" fill="#f5a632"/><rect x="15" y="18" width="1.5" height="1.5" fill="#f5a632"/><rect x="16.5" y="18" width="1.5" height="1.5" fill="#ee8a2a"/><rect x="18" y="18" width="1.5" height="1.5" fill="#e47030"/><rect x="19.5" y="18" width="1.5" height="1.5" fill="#f5a632"/></pattern><clipPath id="clipE"><path d="M75.8,473.7 L76.5,475.6 L78.5,479.1 L82.5,481.1 L87.5,482.9 L94.5,483.7 L99.5,484.1 L104.5,483.4 L109.5,484.3 L114.5,483.6 L120.1,483.3 L123.6,484.1 L126.6,483.6 L130.1,486.1 L131.1,489.6 L134.6,492.1 L139.9,495.0 L146.3,496.7 L152.2,496.7 L159.6,496.7 L164.6,497.0 L169.6,497.2 L174.6,496.7 L179.6,498.2 L184.6,498.7 L191.6,498.2 L194.6,496.2 L198.7,494.7 L200.7,493.2 L203.7,491.6 L206.7,490.4 L210.7,490.4 L212.7,492.1 L213.2,495.2 L214.7,497.0 L220.1,500.1 L224.7,501.7 L227.7,502.7 L230.7,506.2 L232.7,509.2 L236.2,512.2 L239.7,514.2 L244.7,516.2 L249.7,517.5 L257.7,516.9 L264.4,517.8 L273.9,518.3 L278.3,519.0 L279.6,520.7 L279.6,529.2 L279.6,538.2 L284.0,540.0 L284.0,544.0 L277.8,544.0 L277.3,540.7 L273.7,539.7 L269.7,540.2 L261.7,541.2 L254.7,540.2 L249.7,537.7 L239.7,536.2 L229.7,535.7 L222.3,534.7 L214.1,533.5 L204.7,532.3 L197.7,531.8 L190.6,529.4 L181.3,527.1 L171.9,523.8 L169.6,523.4 L159.6,521.2 L149.8,519.5 L141.6,518.3 L134.6,519.5 L130.0,520.1 L121.8,518.9 L114.7,518.2 L109.5,515.7 L105.0,513.2 L99.5,512.2 L94.5,512.2 L87.5,511.8 L84.5,510.6 L83.0,507.2 L83.0,503.2 L82.5,501.7 L79.5,499.2 L74.8,499.1 L70.0,497.1 L64.0,496.6 L62.0,494.1 L65.0,491.0 L68.0,487.0 L71.0,482.0 L73.5,477.1ZM42.0,447.6 L72.3,447.6 L71.8,451.7 L71.4,457.9 L70.4,461.8 L70.9,468.2 L69.5,472.9 L65.4,471.8 L64.0,468.9 L61.8,465.2 L58.5,461.6 L56.7,462.3 L55.2,466.0 L54.5,470.3 L50.9,468.9 L45.9,466.7 L42.0,466.1ZM236.2,497.2 L239.7,496.7 L244.7,496.5 L251.7,496.7 L259.7,497.2 L265.7,497.7 L270.7,498.7 L269.7,501.2 L261.7,503.2 L251.7,504.2 L243.7,504.7 L237.7,505.7 L235.7,502.2ZM222.7,499.7 L226.7,498.7 L230.7,499.2 L229.7,501.7 L224.7,502.2ZM281.2,528.0 L283.5,528.7 L288.2,529.2 L294.8,527.8 L297.7,526.8 L302.4,527.8 L307.2,530.6 L310.5,534.4 L306.2,537.3 L299.6,540.1 L298.6,543.9 L295.8,544.8 L294.8,541.1 L291.0,537.3 L286.3,534.4 L281.6,530.6ZM296.8,496.2 L301.8,495.2 L305.8,496.7 L309.8,499.2 L312.8,501.7 L316.0,503.2 L315.8,506.2 L311.8,506.2 L308.8,503.7 L304.8,502.2 L299.8,501.2 L296.8,499.2ZM302.8,540.6 L306.8,540.2 L308.6,543.2 L305.8,545.8 L302.8,544.7ZM312.0,542.3 L315.8,542.2 L317.2,544.2 L316.8,547.5 L312.8,546.2Z" fill="#000"/><circle cx="192.4" cy="490.5" r="5.61" fill="#000"/><circle cx="236.2" cy="470.8" r="2.80" fill="#000"/><circle cx="283.4" cy="504.0" r="1.30" fill="#000"/><circle cx="182.1" cy="471.4" r="1.20" fill="#000"/><circle cx="177.8" cy="469.3" r="0.90" fill="#000"/><circle cx="100.8" cy="476.5" r="1.00" fill="#000"/><circle cx="111.3" cy="480.9" r="1.00" fill="#000"/><circle cx="283.0" cy="453.0" r="1.40" fill="#000"/></clipPath><clipPath id="boxE"><rect x="45.66" y="451.70" width="320" height="130"/></clipPath><clipPath id="clipF"><path d="M424.2,473.7 L424.9,475.6 L426.9,479.1 L430.9,481.1 L435.9,482.9 L442.9,483.7 L447.9,484.1 L452.9,483.4 L457.9,484.3 L462.9,483.6 L468.5,483.3 L472.0,484.1 L475.0,483.6 L478.5,486.1 L479.5,489.6 L483.0,492.1 L488.3,495.0 L494.7,496.7 L500.6,496.7 L508.0,496.7 L513.0,497.0 L518.0,497.2 L523.0,496.7 L528.0,498.2 L533.0,498.7 L540.0,498.2 L543.0,496.2 L547.1,494.7 L549.1,493.2 L552.1,491.6 L555.1,490.4 L559.1,490.4 L561.1,492.1 L561.6,495.2 L563.1,497.0 L568.5,500.1 L573.1,501.7 L576.1,502.7 L579.1,506.2 L581.1,509.2 L584.6,512.2 L588.1,514.2 L593.1,516.2 L598.1,517.5 L606.1,516.9 L612.8,517.8 L622.3,518.3 L626.7,519.0 L628.0,520.7 L628.0,529.2 L628.0,538.2 L632.4,540.0 L632.4,544.0 L626.2,544.0 L625.7,540.7 L622.1,539.7 L618.1,540.2 L610.1,541.2 L603.1,540.2 L598.1,537.7 L588.1,536.2 L578.1,535.7 L570.7,534.7 L562.5,533.5 L553.1,532.3 L546.1,531.8 L539.0,529.4 L529.7,527.1 L520.3,523.8 L518.0,523.4 L508.0,521.2 L498.2,519.5 L490.0,518.3 L483.0,519.5 L478.4,520.1 L470.2,518.9 L463.1,518.2 L457.9,515.7 L453.4,513.2 L447.9,512.2 L442.9,512.2 L435.9,511.8 L432.9,510.6 L431.4,507.2 L431.4,503.2 L430.9,501.7 L427.9,499.2 L423.2,499.1 L418.4,497.1 L412.4,496.6 L410.4,494.1 L413.4,491.0 L416.4,487.0 L419.4,482.0 L421.9,477.1ZM390.4,447.6 L420.7,447.6 L420.2,451.7 L419.8,457.9 L418.8,461.8 L419.3,468.2 L417.9,472.9 L413.8,471.8 L412.4,468.9 L410.2,465.2 L406.9,461.6 L405.1,462.3 L403.6,466.0 L402.9,470.3 L399.3,468.9 L394.3,466.7 L390.4,466.1ZM584.6,497.2 L588.1,496.7 L593.1,496.5 L600.1,496.7 L608.1,497.2 L614.1,497.7 L619.1,498.7 L618.1,501.2 L610.1,503.2 L600.1,504.2 L592.1,504.7 L586.1,505.7 L584.1,502.2ZM571.1,499.7 L575.1,498.7 L579.1,499.2 L578.1,501.7 L573.1,502.2ZM629.6,528.0 L631.9,528.7 L636.6,529.2 L643.2,527.8 L646.1,526.8 L650.8,527.8 L655.6,530.6 L658.9,534.4 L654.6,537.3 L648.0,540.1 L647.0,543.9 L644.2,544.8 L643.2,541.1 L639.4,537.3 L634.7,534.4 L630.0,530.6ZM645.2,496.2 L650.2,495.2 L654.2,496.7 L658.2,499.2 L661.2,501.7 L664.4,503.2 L664.2,506.2 L660.2,506.2 L657.2,503.7 L653.2,502.2 L648.2,501.2 L645.2,499.2ZM651.2,540.6 L655.2,540.2 L657.0,543.2 L654.2,545.8 L651.2,544.7ZM660.4,542.3 L664.2,542.2 L665.6,544.2 L665.2,547.5 L661.2,546.2Z" fill="#000"/><circle cx="540.8" cy="490.5" r="5.61" fill="#000"/><circle cx="584.6" cy="470.8" r="2.80" fill="#000"/><circle cx="631.8" cy="504.0" r="1.30" fill="#000"/><circle cx="530.5" cy="471.4" r="1.20" fill="#000"/><circle cx="526.2" cy="469.3" r="0.90" fill="#000"/><circle cx="449.2" cy="476.5" r="1.00" fill="#000"/><circle cx="459.7" cy="480.9" r="1.00" fill="#000"/><circle cx="631.4" cy="453.0" r="1.40" fill="#000"/></clipPath><clipPath id="boxF"><rect x="394.06" y="451.70" width="320" height="130"/></clipPath><pattern id="pgA" patternUnits="userSpaceOnUse" width="24" height="21.6"><rect x="2.4" y="0" width="1.2" height="1.2" fill="#e8f1c8"/><rect x="18" y="0" width="1.2" height="1.2" fill="#e8f1c8"/><rect x="20.4" y="0" width="1.2" height="1.2" fill="#f6f2c8"/><rect x="0" y="1.2" width="1.2" height="1.2" fill="#d4e8ac"/><rect x="4.8" y="1.2" width="1.2" height="1.2" fill="#e8f1c8"/><rect x="8.4" y="1.2" width="1.2" height="1.2" fill="#d4e8ac"/><rect x="13.2" y="1.2" width="1.2" height="1.2" fill="#c6df9c"/><rect x="15.6" y="1.2" width="1.2" height="1.2" fill="#f6f2c8"/><rect x="20.4" y="1.2" width="1.2" height="1.2" fill="#c6df9c"/><rect x="3.6" y="2.4" width="1.2" height="1.2" fill="#e8f1c8"/><rect x="7.2" y="2.4" width="1.2" height="1.2" fill="#d4e8ac"/><rect x="10.8" y="2.4" width="1.2" height="1.2" fill="#e8f1c8"/><rect x="0" y="3.6" width="1.2" height="1.2" fill="#c6df9c"/><rect x="3.6" y="3.6" width="1.2" height="1.2" fill="#d4e8ac"/><rect x="18" y="3.6" width="1.2" height="1.2" fill="#b8d68e"/><rect x="19.2" y="3.6" width="1.2" height="1.2" fill="#c6df9c"/><rect x="2.4" y="4.8" width="1.2" height="1.2" fill="#e8f1c8"/><rect x="15.6" y="4.8" width="1.2" height="1.2" fill="#c6df9c"/><rect x="19.2" y="4.8" width="1.2" height="1.2" fill="#c6df9c"/><rect x="20.4" y="6" width="1.2" height="1.2" fill="#e8f1c8"/><rect x="8.4" y="7.2" width="1.2" height="1.2" fill="#d4e8ac"/><rect x="12" y="7.2" width="1.2" height="1.2" fill="#c6df9c"/><rect x="16.8" y="7.2" width="1.2" height="1.2" fill="#f6f2c8"/><rect x="14.4" y="8.4" width="1.2" height="1.2" fill="#b8d68e"/><rect x="2.4" y="9.6" width="1.2" height="1.2" fill="#d4e8ac"/><rect x="4.8" y="9.6" width="1.2" height="1.2" fill="#f6f2c8"/><rect x="7.2" y="9.6" width="1.2" height="1.2" fill="#d4e8ac"/><rect x="4.8" y="10.8" width="1.2" height="1.2" fill="#e8f1c8"/><rect x="8.4" y="12" width="1.2" height="1.2" fill="#b8d68e"/><rect x="2.4" y="13.2" width="1.2" height="1.2" fill="#d4e8ac"/><rect x="3.6" y="13.2" width="1.2" height="1.2" fill="#e8f1c8"/><rect x="2.4" y="14.4" width="1.2" height="1.2" fill="#d4e8ac"/><rect x="6" y="14.4" width="1.2" height="1.2" fill="#c6df9c"/><rect x="12" y="14.4" width="1.2" height="1.2" fill="#e8f1c8"/><rect x="15.6" y="14.4" width="1.2" height="1.2" fill="#d4e8ac"/><rect x="16.8" y="14.4" width="1.2" height="1.2" fill="#c6df9c"/><rect x="22.8" y="14.4" width="1.2" height="1.2" fill="#d4e8ac"/><rect x="6" y="15.6" width="1.2" height="1.2" fill="#d4e8ac"/><rect x="13.2" y="15.6" width="1.2" height="1.2" fill="#d4e8ac"/><rect x="2.4" y="16.8" width="1.2" height="1.2" fill="#d4e8ac"/><rect x="3.6" y="16.8" width="1.2" height="1.2" fill="#e8f1c8"/><rect x="9.6" y="16.8" width="1.2" height="1.2" fill="#d4e8ac"/><rect x="10.8" y="16.8" width="1.2" height="1.2" fill="#e8f1c8"/><rect x="20.4" y="16.8" width="1.2" height="1.2" fill="#c6df9c"/><rect x="2.4" y="18" width="1.2" height="1.2" fill="#d4e8ac"/><rect x="12" y="18" width="1.2" height="1.2" fill="#e8f1c8"/><rect x="13.2" y="18" width="1.2" height="1.2" fill="#c6df9c"/><rect x="19.2" y="18" width="1.2" height="1.2" fill="#e8f1c8"/><rect x="21.6" y="18" width="1.2" height="1.2" fill="#e8f1c8"/><rect x="22.8" y="19.2" width="1.2" height="1.2" fill="#c6df9c"/><rect x="3.6" y="20.4" width="1.2" height="1.2" fill="#d4e8ac"/><rect x="4.8" y="20.4" width="1.2" height="1.2" fill="#e8f1c8"/><rect x="14.4" y="20.4" width="1.2" height="1.2" fill="#e8f1c8"/></pattern><pattern id="pggA" patternUnits="userSpaceOnUse" width="24" height="22.5"><rect x="1.5" y="0" width="1.5" height="1.5" fill="#d6e9b0"/><rect x="15" y="0" width="1.5" height="1.5" fill="#d6e9b0"/><rect x="18" y="0" width="1.5" height="1.5" fill="#d6e9b0"/><rect x="19.5" y="0" width="1.5" height="1.5" fill="#c6df9c"/><rect x="21" y="0" width="1.5" height="1.5" fill="#eaf2cc"/><rect x="22.5" y="0" width="1.5" height="1.5" fill="#f8f0b8"/><rect x="3" y="1.5" width="1.5" height="1.5" fill="#c6df9c"/><rect x="7.5" y="1.5" width="1.5" height="1.5" fill="#d6e9b0"/><rect x="9" y="1.5" width="1.5" height="1.5" fill="#eaf2cc"/><rect x="10.5" y="1.5" width="1.5" height="1.5" fill="#eaf2cc"/><rect x="16.5" y="1.5" width="1.5" height="1.5" fill="#fbe8b0"/><rect x="19.5" y="1.5" width="1.5" height="1.5" fill="#c6df9c"/><rect x="1.5" y="3" width="1.5" height="1.5" fill="#eaf2cc"/><rect x="9" y="3" width="1.5" height="1.5" fill="#f8f0b8"/><rect x="12" y="3" width="1.5" height="1.5" fill="#d6e9b0"/><rect x="13.5" y="3" width="1.5" height="1.5" fill="#d6e9b0"/><rect x="18" y="3" width="1.5" height="1.5" fill="#d6e9b0"/><rect x="1.5" y="4.5" width="1.5" height="1.5" fill="#d6e9b0"/><rect x="7.5" y="4.5" width="1.5" height="1.5" fill="#eaf2cc"/><rect x="9" y="4.5" width="1.5" height="1.5" fill="#eaf2cc"/><rect x="18" y="4.5" width="1.5" height="1.5" fill="#d6e9b0"/><rect x="22.5" y="4.5" width="1.5" height="1.5" fill="#f8f0b8"/><rect x="0" y="6" width="1.5" height="1.5" fill="#d6e9b0"/><rect x="1.5" y="6" width="1.5" height="1.5" fill="#c6df9c"/><rect x="3" y="6" width="1.5" height="1.5" fill="#eaf2cc"/><rect x="4.5" y="6" width="1.5" height="1.5" fill="#d6e9b0"/><rect x="7.5" y="6" width="1.5" height="1.5" fill="#fbe8b0"/><rect x="10.5" y="6" width="1.5" height="1.5" fill="#d6e9b0"/><rect x="12" y="6" width="1.5" height="1.5" fill="#eaf2cc"/><rect x="15" y="6" width="1.5" height="1.5" fill="#eaf2cc"/><rect x="22.5" y="6" width="1.5" height="1.5" fill="#d6e9b0"/><rect x="3" y="7.5" width="1.5" height="1.5" fill="#eaf2cc"/><rect x="7.5" y="7.5" width="1.5" height="1.5" fill="#fbe8b0"/><rect x="16.5" y="7.5" width="1.5" height="1.5" fill="#c6df9c"/><rect x="18" y="7.5" width="1.5" height="1.5" fill="#d6e9b0"/><rect x="3" y="9" width="1.5" height="1.5" fill="#c6df9c"/><rect x="4.5" y="9" width="1.5" height="1.5" fill="#c6df9c"/><rect x="13.5" y="9" width="1.5" height="1.5" fill="#eaf2cc"/><rect x="15" y="9" width="1.5" height="1.5" fill="#f8f0b8"/><rect x="19.5" y="9" width="1.5" height="1.5" fill="#c6df9c"/><rect x="21" y="9" width="1.5" height="1.5" fill="#f8f0b8"/><rect x="22.5" y="9" width="1.5" height="1.5" fill="#c6df9c"/><rect x="3" y="10.5" width="1.5" height="1.5" fill="#eaf2cc"/><rect x="4.5" y="10.5" width="1.5" height="1.5" fill="#f8f0b8"/><rect x="6" y="10.5" width="1.5" height="1.5" fill="#c6df9c"/><rect x="7.5" y="10.5" width="1.5" height="1.5" fill="#c6df9c"/><rect x="9" y="10.5" width="1.5" height="1.5" fill="#fbe8b0"/><rect x="12" y="10.5" width="1.5" height="1.5" fill="#f8f0b8"/><rect x="16.5" y="10.5" width="1.5" height="1.5" fill="#eaf2cc"/><rect x="18" y="10.5" width="1.5" height="1.5" fill="#d6e9b0"/><rect x="19.5" y="10.5" width="1.5" height="1.5" fill="#c6df9c"/><rect x="6" y="12" width="1.5" height="1.5" fill="#f8f0b8"/><rect x="7.5" y="12" width="1.5" height="1.5" fill="#d6e9b0"/><rect x="13.5" y="12" width="1.5" height="1.5" fill="#c6df9c"/><rect x="15" y="12" width="1.5" height="1.5" fill="#fbe8b0"/><rect x="18" y="12" width="1.5" height="1.5" fill="#f8f0b8"/><rect x="19.5" y="12" width="1.5" height="1.5" fill="#eaf2cc"/><rect x="6" y="13.5" width="1.5" height="1.5" fill="#d6e9b0"/><rect x="10.5" y="13.5" width="1.5" height="1.5" fill="#eaf2cc"/><rect x="12" y="13.5" width="1.5" height="1.5" fill="#eaf2cc"/><rect x="15" y="13.5" width="1.5" height="1.5" fill="#eaf2cc"/><rect x="16.5" y="13.5" width="1.5" height="1.5" fill="#c6df9c"/><rect x="21" y="13.5" width="1.5" height="1.5" fill="#d6e9b0"/><rect x="22.5" y="13.5" width="1.5" height="1.5" fill="#eaf2cc"/><rect x="0" y="15" width="1.5" height="1.5" fill="#eaf2cc"/><rect x="1.5" y="15" width="1.5" height="1.5" fill="#f8f0b8"/><rect x="4.5" y="15" width="1.5" height="1.5" fill="#fbe8b0"/><rect x="10.5" y="15" width="1.5" height="1.5" fill="#d6e9b0"/><rect x="13.5" y="15" width="1.5" height="1.5" fill="#f8f0b8"/><rect x="15" y="15" width="1.5" height="1.5" fill="#c6df9c"/><rect x="16.5" y="15" width="1.5" height="1.5" fill="#eaf2cc"/><rect x="18" y="15" width="1.5" height="1.5" fill="#d6e9b0"/><rect x="22.5" y="15" width="1.5" height="1.5" fill="#d6e9b0"/><rect x="0" y="16.5" width="1.5" height="1.5" fill="#f8f0b8"/><rect x="3" y="16.5" width="1.5" height="1.5" fill="#fbe8b0"/><rect x="7.5" y="16.5" width="1.5" height="1.5" fill="#c6df9c"/><rect x="9" y="16.5" width="1.5" height="1.5" fill="#d6e9b0"/><rect x="16.5" y="16.5" width="1.5" height="1.5" fill="#d6e9b0"/><rect x="21" y="16.5" width="1.5" height="1.5" fill="#d6e9b0"/><rect x="3" y="18" width="1.5" height="1.5" fill="#f8f0b8"/><rect x="16.5" y="18" width="1.5" height="1.5" fill="#c6df9c"/><rect x="22.5" y="18" width="1.5" height="1.5" fill="#fbe8b0"/><rect x="1.5" y="19.5" width="1.5" height="1.5" fill="#f8f0b8"/><rect x="4.5" y="19.5" width="1.5" height="1.5" fill="#d6e9b0"/><rect x="6" y="19.5" width="1.5" height="1.5" fill="#eaf2cc"/><rect x="12" y="19.5" width="1.5" height="1.5" fill="#fbe8b0"/><rect x="13.5" y="19.5" width="1.5" height="1.5" fill="#fbe8b0"/><rect x="18" y="19.5" width="1.5" height="1.5" fill="#eaf2cc"/><rect x="19.5" y="19.5" width="1.5" height="1.5" fill="#eaf2cc"/><rect x="3" y="21" width="1.5" height="1.5" fill="#d6e9b0"/><rect x="7.5" y="21" width="1.5" height="1.5" fill="#c6df9c"/><rect x="15" y="21" width="1.5" height="1.5" fill="#eaf2cc"/><rect x="18" y="21" width="1.5" height="1.5" fill="#f8f0b8"/><rect x="19.5" y="21" width="1.5" height="1.5" fill="#d6e9b0"/><rect x="22.5" y="21" width="1.5" height="1.5" fill="#eaf2cc"/></pattern><pattern id="poA" patternUnits="userSpaceOnUse" width="21" height="21"><rect x="0" y="0" width="1.5" height="1.5" fill="#f8ae84"/><rect x="3" y="0" width="1.5" height="1.5" fill="#f49262"/><rect x="4.5" y="0" width="1.5" height="1.5" fill="#f49262"/><rect x="6" y="0" width="1.5" height="1.5" fill="#f6a06c"/><rect x="7.5" y="0" width="1.5" height="1.5" fill="#fac8a4"/><rect x="9" y="0" width="1.5" height="1.5" fill="#f6a06c"/><rect x="10.5" y="0" width="1.5" height="1.5" fill="#f6a06c"/><rect x="12" y="0" width="1.5" height="1.5" fill="#f6a06c"/><rect x="13.5" y="0" width="1.5" height="1.5" fill="#f6a06c"/><rect x="15" y="0" width="1.5" height="1.5" fill="#f6a06c"/><rect x="16.5" y="0" width="1.5" height="1.5" fill="#f6a06c"/><rect x="18" y="0" width="1.5" height="1.5" fill="#f6a06c"/><rect x="19.5" y="0" width="1.5" height="1.5" fill="#f6a06c"/><rect x="0" y="1.5" width="1.5" height="1.5" fill="#f6a06c"/><rect x="1.5" y="1.5" width="1.5" height="1.5" fill="#f49262"/><rect x="3" y="1.5" width="1.5" height="1.5" fill="#f6a06c"/><rect x="4.5" y="1.5" width="1.5" height="1.5" fill="#f6a06c"/><rect x="6" y="1.5" width="1.5" height="1.5" fill="#f6a06c"/><rect x="7.5" y="1.5" width="1.5" height="1.5" fill="#f49262"/><rect x="9" y="1.5" width="1.5" height="1.5" fill="#f6a06c"/><rect x="10.5" y="1.5" width="1.5" height="1.5" fill="#f8ae84"/><rect x="13.5" y="1.5" width="1.5" height="1.5" fill="#f6a06c"/><rect x="15" y="1.5" width="1.5" height="1.5" fill="#f6a06c"/><rect x="16.5" y="1.5" width="1.5" height="1.5" fill="#f8ae84"/><rect x="18" y="1.5" width="1.5" height="1.5" fill="#f8ae84"/><rect x="19.5" y="1.5" width="1.5" height="1.5" fill="#f6a06c"/><rect x="0" y="3" width="1.5" height="1.5" fill="#f8ae84"/><rect x="1.5" y="3" width="1.5" height="1.5" fill="#f6a06c"/><rect x="3" y="3" width="1.5" height="1.5" fill="#fac8a4"/><rect x="7.5" y="3" width="1.5" height="1.5" fill="#fac8a4"/><rect x="9" y="3" width="1.5" height="1.5" fill="#f6a06c"/><rect x="10.5" y="3" width="1.5" height="1.5" fill="#f49262"/><rect x="12" y="3" width="1.5" height="1.5" fill="#f8ae84"/><rect x="15" y="3" width="1.5" height="1.5" fill="#f6a06c"/><rect x="16.5" y="3" width="1.5" height="1.5" fill="#f6a06c"/><rect x="18" y="3" width="1.5" height="1.5" fill="#f8ae84"/><rect x="19.5" y="3" width="1.5" height="1.5" fill="#f6a06c"/><rect x="0" y="4.5" width="1.5" height="1.5" fill="#f8ae84"/><rect x="1.5" y="4.5" width="1.5" height="1.5" fill="#f6a06c"/><rect x="3" y="4.5" width="1.5" height="1.5" fill="#f6a06c"/><rect x="4.5" y="4.5" width="1.5" height="1.5" fill="#f49262"/><rect x="6" y="4.5" width="1.5" height="1.5" fill="#f6a06c"/><rect x="7.5" y="4.5" width="1.5" height="1.5" fill="#f49262"/><rect x="9" y="4.5" width="1.5" height="1.5" fill="#f49262"/><rect x="10.5" y="4.5" width="1.5" height="1.5" fill="#f6a06c"/><rect x="12" y="4.5" width="1.5" height="1.5" fill="#fac8a4"/><rect x="15" y="4.5" width="1.5" height="1.5" fill="#fac8a4"/><rect x="16.5" y="4.5" width="1.5" height="1.5" fill="#f6a06c"/><rect x="18" y="4.5" width="1.5" height="1.5" fill="#f6a06c"/><rect x="19.5" y="4.5" width="1.5" height="1.5" fill="#f6a06c"/><rect x="0" y="6" width="1.5" height="1.5" fill="#f6a06c"/><rect x="1.5" y="6" width="1.5" height="1.5" fill="#f8ae84"/><rect x="3" y="6" width="1.5" height="1.5" fill="#f6a06c"/><rect x="4.5" y="6" width="1.5" height="1.5" fill="#f6a06c"/><rect x="6" y="6" width="1.5" height="1.5" fill="#f6a06c"/><rect x="7.5" y="6" width="1.5" height="1.5" fill="#f6a06c"/><rect x="9" y="6" width="1.5" height="1.5" fill="#f8ae84"/><rect x="10.5" y="6" width="1.5" height="1.5" fill="#f49262"/><rect x="12" y="6" width="1.5" height="1.5" fill="#f6a06c"/><rect x="13.5" y="6" width="1.5" height="1.5" fill="#f8ae84"/><rect x="15" y="6" width="1.5" height="1.5" fill="#f6a06c"/><rect x="16.5" y="6" width="1.5" height="1.5" fill="#f6a06c"/><rect x="18" y="6" width="1.5" height="1.5" fill="#f8ae84"/><rect x="19.5" y="6" width="1.5" height="1.5" fill="#f8ae84"/><rect x="0" y="7.5" width="1.5" height="1.5" fill="#f6a06c"/><rect x="1.5" y="7.5" width="1.5" height="1.5" fill="#f6a06c"/><rect x="3" y="7.5" width="1.5" height="1.5" fill="#f49262"/><rect x="4.5" y="7.5" width="1.5" height="1.5" fill="#f8ae84"/><rect x="6" y="7.5" width="1.5" height="1.5" fill="#f6a06c"/><rect x="7.5" y="7.5" width="1.5" height="1.5" fill="#f6a06c"/><rect x="9" y="7.5" width="1.5" height="1.5" fill="#f6a06c"/><rect x="10.5" y="7.5" width="1.5" height="1.5" fill="#f6a06c"/><rect x="12" y="7.5" width="1.5" height="1.5" fill="#f6a06c"/><rect x="13.5" y="7.5" width="1.5" height="1.5" fill="#f6a06c"/><rect x="15" y="7.5" width="1.5" height="1.5" fill="#f49262"/><rect x="16.5" y="7.5" width="1.5" height="1.5" fill="#f6a06c"/><rect x="18" y="7.5" width="1.5" height="1.5" fill="#f8ae84"/><rect x="0" y="9" width="1.5" height="1.5" fill="#f8ae84"/><rect x="1.5" y="9" width="1.5" height="1.5" fill="#f6a06c"/><rect x="3" y="9" width="1.5" height="1.5" fill="#f8ae84"/><rect x="4.5" y="9" width="1.5" height="1.5" fill="#f8ae84"/><rect x="6" y="9" width="1.5" height="1.5" fill="#f6a06c"/><rect x="7.5" y="9" width="1.5" height="1.5" fill="#f6a06c"/><rect x="9" y="9" width="1.5" height="1.5" fill="#f8ae84"/><rect x="10.5" y="9" width="1.5" height="1.5" fill="#fac8a4"/><rect x="12" y="9" width="1.5" height="1.5" fill="#fac8a4"/><rect x="13.5" y="9" width="1.5" height="1.5" fill="#f49262"/><rect x="15" y="9" width="1.5" height="1.5" fill="#f49262"/><rect x="16.5" y="9" width="1.5" height="1.5" fill="#fac8a4"/><rect x="18" y="9" width="1.5" height="1.5" fill="#f6a06c"/><rect x="19.5" y="9" width="1.5" height="1.5" fill="#f49262"/><rect x="0" y="10.5" width="1.5" height="1.5" fill="#f6a06c"/><rect x="3" y="10.5" width="1.5" height="1.5" fill="#f8ae84"/><rect x="4.5" y="10.5" width="1.5" height="1.5" fill="#f6a06c"/><rect x="6" y="10.5" width="1.5" height="1.5" fill="#f6a06c"/><rect x="7.5" y="10.5" width="1.5" height="1.5" fill="#f49262"/><rect x="9" y="10.5" width="1.5" height="1.5" fill="#f8ae84"/><rect x="10.5" y="10.5" width="1.5" height="1.5" fill="#f6a06c"/><rect x="12" y="10.5" width="1.5" height="1.5" fill="#f6a06c"/><rect x="13.5" y="10.5" width="1.5" height="1.5" fill="#f49262"/><rect x="15" y="10.5" width="1.5" height="1.5" fill="#f6a06c"/><rect x="18" y="10.5" width="1.5" height="1.5" fill="#f8ae84"/><rect x="19.5" y="10.5" width="1.5" height="1.5" fill="#fac8a4"/><rect x="0" y="12" width="1.5" height="1.5" fill="#f8ae84"/><rect x="1.5" y="12" width="1.5" height="1.5" fill="#f8ae84"/><rect x="3" y="12" width="1.5" height="1.5" fill="#f6a06c"/><rect x="4.5" y="12" width="1.5" height="1.5" fill="#f49262"/><rect x="6" y="12" width="1.5" height="1.5" fill="#f6a06c"/><rect x="7.5" y="12" width="1.5" height="1.5" fill="#f49262"/><rect x="9" y="12" width="1.5" height="1.5" fill="#f6a06c"/><rect x="12" y="12" width="1.5" height="1.5" fill="#f6a06c"/><rect x="13.5" y="12" width="1.5" height="1.5" fill="#f6a06c"/><rect x="15" y="12" width="1.5" height="1.5" fill="#fac8a4"/><rect x="16.5" y="12" width="1.5" height="1.5" fill="#f49262"/><rect x="19.5" y="12" width="1.5" height="1.5" fill="#f6a06c"/><rect x="0" y="13.5" width="1.5" height="1.5" fill="#f49262"/><rect x="1.5" y="13.5" width="1.5" height="1.5" fill="#f6a06c"/><rect x="3" y="13.5" width="1.5" height="1.5" fill="#f6a06c"/><rect x="4.5" y="13.5" width="1.5" height="1.5" fill="#f6a06c"/><rect x="6" y="13.5" width="1.5" height="1.5" fill="#f6a06c"/><rect x="9" y="13.5" width="1.5" height="1.5" fill="#fac8a4"/><rect x="10.5" y="13.5" width="1.5" height="1.5" fill="#f6a06c"/><rect x="12" y="13.5" width="1.5" height="1.5" fill="#f8ae84"/><rect x="13.5" y="13.5" width="1.5" height="1.5" fill="#f49262"/><rect x="15" y="13.5" width="1.5" height="1.5" fill="#f6a06c"/><rect x="16.5" y="13.5" width="1.5" height="1.5" fill="#f6a06c"/><rect x="18" y="13.5" width="1.5" height="1.5" fill="#f6a06c"/><rect x="19.5" y="13.5" width="1.5" height="1.5" fill="#f6a06c"/><rect x="0" y="15" width="1.5" height="1.5" fill="#f6a06c"/><rect x="1.5" y="15" width="1.5" height="1.5" fill="#f49262"/><rect x="3" y="15" width="1.5" height="1.5" fill="#f6a06c"/><rect x="4.5" y="15" width="1.5" height="1.5" fill="#f6a06c"/><rect x="6" y="15" width="1.5" height="1.5" fill="#f6a06c"/><rect x="7.5" y="15" width="1.5" height="1.5" fill="#fac8a4"/><rect x="9" y="15" width="1.5" height="1.5" fill="#f6a06c"/><rect x="10.5" y="15" width="1.5" height="1.5" fill="#fac8a4"/><rect x="12" y="15" width="1.5" height="1.5" fill="#f6a06c"/><rect x="13.5" y="15" width="1.5" height="1.5" fill="#f8ae84"/><rect x="15" y="15" width="1.5" height="1.5" fill="#f49262"/><rect x="16.5" y="15" width="1.5" height="1.5" fill="#f8ae84"/><rect x="18" y="15" width="1.5" height="1.5" fill="#f49262"/><rect x="0" y="16.5" width="1.5" height="1.5" fill="#f49262"/><rect x="1.5" y="16.5" width="1.5" height="1.5" fill="#f6a06c"/><rect x="3" y="16.5" width="1.5" height="1.5" fill="#f8ae84"/><rect x="4.5" y="16.5" width="1.5" height="1.5" fill="#f49262"/><rect x="6" y="16.5" width="1.5" height="1.5" fill="#f6a06c"/><rect x="7.5" y="16.5" width="1.5" height="1.5" fill="#f8ae84"/><rect x="10.5" y="16.5" width="1.5" height="1.5" fill="#f6a06c"/><rect x="12" y="16.5" width="1.5" height="1.5" fill="#f6a06c"/><rect x="13.5" y="16.5" width="1.5" height="1.5" fill="#f6a06c"/><rect x="15" y="16.5" width="1.5" height="1.5" fill="#f49262"/><rect x="16.5" y="16.5" width="1.5" height="1.5" fill="#f6a06c"/><rect x="18" y="16.5" width="1.5" height="1.5" fill="#f6a06c"/><rect x="19.5" y="16.5" width="1.5" height="1.5" fill="#f6a06c"/><rect x="0" y="18" width="1.5" height="1.5" fill="#f49262"/><rect x="1.5" y="18" width="1.5" height="1.5" fill="#f49262"/><rect x="3" y="18" width="1.5" height="1.5" fill="#f6a06c"/><rect x="6" y="18" width="1.5" height="1.5" fill="#f8ae84"/><rect x="7.5" y="18" width="1.5" height="1.5" fill="#f6a06c"/><rect x="9" y="18" width="1.5" height="1.5" fill="#f6a06c"/><rect x="10.5" y="18" width="1.5" height="1.5" fill="#fac8a4"/><rect x="12" y="18" width="1.5" height="1.5" fill="#f6a06c"/><rect x="13.5" y="18" width="1.5" height="1.5" fill="#f6a06c"/><rect x="15" y="18" width="1.5" height="1.5" fill="#f6a06c"/><rect x="16.5" y="18" width="1.5" height="1.5" fill="#f49262"/><rect x="19.5" y="18" width="1.5" height="1.5" fill="#f6a06c"/><rect x="0" y="19.5" width="1.5" height="1.5" fill="#f6a06c"/><rect x="1.5" y="19.5" width="1.5" height="1.5" fill="#f6a06c"/><rect x="3" y="19.5" width="1.5" height="1.5" fill="#f6a06c"/><rect x="4.5" y="19.5" width="1.5" height="1.5" fill="#f49262"/><rect x="6" y="19.5" width="1.5" height="1.5" fill="#f49262"/><rect x="7.5" y="19.5" width="1.5" height="1.5" fill="#fac8a4"/><rect x="9" y="19.5" width="1.5" height="1.5" fill="#f6a06c"/><rect x="10.5" y="19.5" width="1.5" height="1.5" fill="#f49262"/><rect x="12" y="19.5" width="1.5" height="1.5" fill="#f6a06c"/><rect x="13.5" y="19.5" width="1.5" height="1.5" fill="#f6a06c"/><rect x="15" y="19.5" width="1.5" height="1.5" fill="#f6a06c"/><rect x="16.5" y="19.5" width="1.5" height="1.5" fill="#f6a06c"/><rect x="19.5" y="19.5" width="1.5" height="1.5" fill="#f6a06c"/></pattern><pattern id="po2A" patternUnits="userSpaceOnUse" width="21" height="21"><rect x="0" y="0" width="1.5" height="1.5" fill="#f6a478"/><rect x="4.5" y="0" width="1.5" height="1.5" fill="#f6a478"/><rect x="6" y="0" width="1.5" height="1.5" fill="#f7ae80"/><rect x="7.5" y="0" width="1.5" height="1.5" fill="#f9bc90"/><rect x="9" y="0" width="1.5" height="1.5" fill="#f6a478"/><rect x="10.5" y="0" width="1.5" height="1.5" fill="#f6a478"/><rect x="12" y="0" width="1.5" height="1.5" fill="#f9bc90"/><rect x="13.5" y="0" width="1.5" height="1.5" fill="#f7ae80"/><rect x="15" y="0" width="1.5" height="1.5" fill="#f7ae80"/><rect x="16.5" y="0" width="1.5" height="1.5" fill="#f6a478"/><rect x="18" y="0" width="1.5" height="1.5" fill="#f7ae80"/><rect x="19.5" y="0" width="1.5" height="1.5" fill="#f7ae80"/><rect x="0" y="1.5" width="1.5" height="1.5" fill="#f6a478"/><rect x="1.5" y="1.5" width="1.5" height="1.5" fill="#f9bc90"/><rect x="3" y="1.5" width="1.5" height="1.5" fill="#f7ae80"/><rect x="4.5" y="1.5" width="1.5" height="1.5" fill="#f7ae80"/><rect x="6" y="1.5" width="1.5" height="1.5" fill="#f6a478"/><rect x="7.5" y="1.5" width="1.5" height="1.5" fill="#f7ae80"/><rect x="9" y="1.5" width="1.5" height="1.5" fill="#f9bc90"/><rect x="10.5" y="1.5" width="1.5" height="1.5" fill="#f9bc90"/><rect x="12" y="1.5" width="1.5" height="1.5" fill="#f6a478"/><rect x="13.5" y="1.5" width="1.5" height="1.5" fill="#f9bc90"/><rect x="15" y="1.5" width="1.5" height="1.5" fill="#f7ae80"/><rect x="16.5" y="1.5" width="1.5" height="1.5" fill="#f9bc90"/><rect x="18" y="1.5" width="1.5" height="1.5" fill="#f7ae80"/><rect x="19.5" y="1.5" width="1.5" height="1.5" fill="#f7ae80"/><rect x="0" y="3" width="1.5" height="1.5" fill="#f7ae80"/><rect x="3" y="3" width="1.5" height="1.5" fill="#f7ae80"/><rect x="6" y="3" width="1.5" height="1.5" fill="#f7ae80"/><rect x="7.5" y="3" width="1.5" height="1.5" fill="#f7ae80"/><rect x="9" y="3" width="1.5" height="1.5" fill="#f7ae80"/><rect x="12" y="3" width="1.5" height="1.5" fill="#f6a478"/><rect x="13.5" y="3" width="1.5" height="1.5" fill="#f7ae80"/><rect x="15" y="3" width="1.5" height="1.5" fill="#f7ae80"/><rect x="16.5" y="3" width="1.5" height="1.5" fill="#f7ae80"/><rect x="18" y="3" width="1.5" height="1.5" fill="#f9bc90"/><rect x="19.5" y="3" width="1.5" height="1.5" fill="#f7ae80"/><rect x="0" y="4.5" width="1.5" height="1.5" fill="#f7ae80"/><rect x="1.5" y="4.5" width="1.5" height="1.5" fill="#f9bc90"/><rect x="3" y="4.5" width="1.5" height="1.5" fill="#f9bc90"/><rect x="4.5" y="4.5" width="1.5" height="1.5" fill="#f9bc90"/><rect x="6" y="4.5" width="1.5" height="1.5" fill="#f7ae80"/><rect x="7.5" y="4.5" width="1.5" height="1.5" fill="#f9bc90"/><rect x="9" y="4.5" width="1.5" height="1.5" fill="#f9bc90"/><rect x="10.5" y="4.5" width="1.5" height="1.5" fill="#f9bc90"/><rect x="12" y="4.5" width="1.5" height="1.5" fill="#f7ae80"/><rect x="13.5" y="4.5" width="1.5" height="1.5" fill="#f6a478"/><rect x="15" y="4.5" width="1.5" height="1.5" fill="#f6a478"/><rect x="18" y="4.5" width="1.5" height="1.5" fill="#f6a478"/><rect x="19.5" y="4.5" width="1.5" height="1.5" fill="#f9bc90"/><rect x="0" y="6" width="1.5" height="1.5" fill="#f7ae80"/><rect x="1.5" y="6" width="1.5" height="1.5" fill="#f7ae80"/><rect x="3" y="6" width="1.5" height="1.5" fill="#f9bc90"/><rect x="4.5" y="6" width="1.5" height="1.5" fill="#f9bc90"/><rect x="6" y="6" width="1.5" height="1.5" fill="#f9bc90"/><rect x="7.5" y="6" width="1.5" height="1.5" fill="#f6a478"/><rect x="9" y="6" width="1.5" height="1.5" fill="#f6a478"/><rect x="10.5" y="6" width="1.5" height="1.5" fill="#f7ae80"/><rect x="12" y="6" width="1.5" height="1.5" fill="#f6a478"/><rect x="13.5" y="6" width="1.5" height="1.5" fill="#f7ae80"/><rect x="15" y="6" width="1.5" height="1.5" fill="#f9bc90"/><rect x="16.5" y="6" width="1.5" height="1.5" fill="#f7ae80"/><rect x="19.5" y="6" width="1.5" height="1.5" fill="#f6a478"/><rect x="0" y="7.5" width="1.5" height="1.5" fill="#f9bc90"/><rect x="3" y="7.5" width="1.5" height="1.5" fill="#f7ae80"/><rect x="4.5" y="7.5" width="1.5" height="1.5" fill="#f9bc90"/><rect x="6" y="7.5" width="1.5" height="1.5" fill="#f7ae80"/><rect x="7.5" y="7.5" width="1.5" height="1.5" fill="#f9bc90"/><rect x="9" y="7.5" width="1.5" height="1.5" fill="#f7ae80"/><rect x="10.5" y="7.5" width="1.5" height="1.5" fill="#f7ae80"/><rect x="13.5" y="7.5" width="1.5" height="1.5" fill="#f7ae80"/><rect x="15" y="7.5" width="1.5" height="1.5" fill="#f7ae80"/><rect x="16.5" y="7.5" width="1.5" height="1.5" fill="#f7ae80"/><rect x="18" y="7.5" width="1.5" height="1.5" fill="#f9bc90"/><rect x="19.5" y="7.5" width="1.5" height="1.5" fill="#f7ae80"/><rect x="0" y="9" width="1.5" height="1.5" fill="#f7ae80"/><rect x="1.5" y="9" width="1.5" height="1.5" fill="#f7ae80"/><rect x="3" y="9" width="1.5" height="1.5" fill="#f7ae80"/><rect x="4.5" y="9" width="1.5" height="1.5" fill="#f9bc90"/><rect x="6" y="9" width="1.5" height="1.5" fill="#f7ae80"/><rect x="7.5" y="9" width="1.5" height="1.5" fill="#f7ae80"/><rect x="9" y="9" width="1.5" height="1.5" fill="#f9bc90"/><rect x="10.5" y="9" width="1.5" height="1.5" fill="#f9bc90"/><rect x="12" y="9" width="1.5" height="1.5" fill="#f7ae80"/><rect x="13.5" y="9" width="1.5" height="1.5" fill="#f7ae80"/><rect x="15" y="9" width="1.5" height="1.5" fill="#f7ae80"/><rect x="16.5" y="9" width="1.5" height="1.5" fill="#f7ae80"/><rect x="18" y="9" width="1.5" height="1.5" fill="#f7ae80"/><rect x="19.5" y="9" width="1.5" height="1.5" fill="#f7ae80"/><rect x="0" y="10.5" width="1.5" height="1.5" fill="#f7ae80"/><rect x="1.5" y="10.5" width="1.5" height="1.5" fill="#f7ae80"/><rect x="3" y="10.5" width="1.5" height="1.5" fill="#f7ae80"/><rect x="4.5" y="10.5" width="1.5" height="1.5" fill="#f9bc90"/><rect x="6" y="10.5" width="1.5" height="1.5" fill="#f6a478"/><rect x="7.5" y="10.5" width="1.5" height="1.5" fill="#f9bc90"/><rect x="9" y="10.5" width="1.5" height="1.5" fill="#f9bc90"/><rect x="10.5" y="10.5" width="1.5" height="1.5" fill="#f7ae80"/><rect x="12" y="10.5" width="1.5" height="1.5" fill="#f7ae80"/><rect x="13.5" y="10.5" width="1.5" height="1.5" fill="#f9bc90"/><rect x="15" y="10.5" width="1.5" height="1.5" fill="#f7ae80"/><rect x="16.5" y="10.5" width="1.5" height="1.5" fill="#f6a478"/><rect x="18" y="10.5" width="1.5" height="1.5" fill="#f6a478"/><rect x="19.5" y="10.5" width="1.5" height="1.5" fill="#f7ae80"/><rect x="0" y="12" width="1.5" height="1.5" fill="#f7ae80"/><rect x="1.5" y="12" width="1.5" height="1.5" fill="#f7ae80"/><rect x="4.5" y="12" width="1.5" height="1.5" fill="#f7ae80"/><rect x="6" y="12" width="1.5" height="1.5" fill="#f7ae80"/><rect x="7.5" y="12" width="1.5" height="1.5" fill="#f6a478"/><rect x="9" y="12" width="1.5" height="1.5" fill="#f7ae80"/><rect x="10.5" y="12" width="1.5" height="1.5" fill="#f6a478"/><rect x="12" y="12" width="1.5" height="1.5" fill="#f7ae80"/><rect x="13.5" y="12" width="1.5" height="1.5" fill="#f6a478"/><rect x="15" y="12" width="1.5" height="1.5" fill="#f9bc90"/><rect x="16.5" y="12" width="1.5" height="1.5" fill="#f7ae80"/><rect x="18" y="12" width="1.5" height="1.5" fill="#f9bc90"/><rect x="19.5" y="12" width="1.5" height="1.5" fill="#f7ae80"/><rect x="0" y="13.5" width="1.5" height="1.5" fill="#f6a478"/><rect x="3" y="13.5" width="1.5" height="1.5" fill="#f9bc90"/><rect x="4.5" y="13.5" width="1.5" height="1.5" fill="#f6a478"/><rect x="6" y="13.5" width="1.5" height="1.5" fill="#f9bc90"/><rect x="7.5" y="13.5" width="1.5" height="1.5" fill="#f6a478"/><rect x="10.5" y="13.5" width="1.5" height="1.5" fill="#f7ae80"/><rect x="12" y="13.5" width="1.5" height="1.5" fill="#f7ae80"/><rect x="13.5" y="13.5" width="1.5" height="1.5" fill="#f6a478"/><rect x="15" y="13.5" width="1.5" height="1.5" fill="#f7ae80"/><rect x="16.5" y="13.5" width="1.5" height="1.5" fill="#f6a478"/><rect x="18" y="13.5" width="1.5" height="1.5" fill="#f7ae80"/><rect x="0" y="15" width="1.5" height="1.5" fill="#f9bc90"/><rect x="1.5" y="15" width="1.5" height="1.5" fill="#f7ae80"/><rect x="3" y="15" width="1.5" height="1.5" fill="#f9bc90"/><rect x="4.5" y="15" width="1.5" height="1.5" fill="#f9bc90"/><rect x="6" y="15" width="1.5" height="1.5" fill="#f7ae80"/><rect x="7.5" y="15" width="1.5" height="1.5" fill="#f7ae80"/><rect x="9" y="15" width="1.5" height="1.5" fill="#f7ae80"/><rect x="10.5" y="15" width="1.5" height="1.5" fill="#f9bc90"/><rect x="12" y="15" width="1.5" height="1.5" fill="#f6a478"/><rect x="13.5" y="15" width="1.5" height="1.5" fill="#f7ae80"/><rect x="15" y="15" width="1.5" height="1.5" fill="#f6a478"/><rect x="16.5" y="15" width="1.5" height="1.5" fill="#f7ae80"/><rect x="18" y="15" width="1.5" height="1.5" fill="#f7ae80"/><rect x="19.5" y="15" width="1.5" height="1.5" fill="#f6a478"/><rect x="0" y="16.5" width="1.5" height="1.5" fill="#f6a478"/><rect x="1.5" y="16.5" width="1.5" height="1.5" fill="#f7ae80"/><rect x="3" y="16.5" width="1.5" height="1.5" fill="#f6a478"/><rect x="4.5" y="16.5" width="1.5" height="1.5" fill="#f7ae80"/><rect x="7.5" y="16.5" width="1.5" height="1.5" fill="#f7ae80"/><rect x="9" y="16.5" width="1.5" height="1.5" fill="#f6a478"/><rect x="10.5" y="16.5" width="1.5" height="1.5" fill="#f7ae80"/><rect x="12" y="16.5" width="1.5" height="1.5" fill="#f7ae80"/><rect x="13.5" y="16.5" width="1.5" height="1.5" fill="#f7ae80"/><rect x="15" y="16.5" width="1.5" height="1.5" fill="#f7ae80"/><rect x="16.5" y="16.5" width="1.5" height="1.5" fill="#f7ae80"/><rect x="18" y="16.5" width="1.5" height="1.5" fill="#f6a478"/><rect x="19.5" y="16.5" width="1.5" height="1.5" fill="#f7ae80"/><rect x="0" y="18" width="1.5" height="1.5" fill="#f7ae80"/><rect x="1.5" y="18" width="1.5" height="1.5" fill="#f7ae80"/><rect x="3" y="18" width="1.5" height="1.5" fill="#f7ae80"/><rect x="6" y="18" width="1.5" height="1.5" fill="#f7ae80"/><rect x="9" y="18" width="1.5" height="1.5" fill="#f7ae80"/><rect x="10.5" y="18" width="1.5" height="1.5" fill="#f7ae80"/><rect x="12" y="18" width="1.5" height="1.5" fill="#f7ae80"/><rect x="13.5" y="18" width="1.5" height="1.5" fill="#f9bc90"/><rect x="15" y="18" width="1.5" height="1.5" fill="#f7ae80"/><rect x="16.5" y="18" width="1.5" height="1.5" fill="#f7ae80"/><rect x="18" y="18" width="1.5" height="1.5" fill="#f7ae80"/><rect x="19.5" y="18" width="1.5" height="1.5" fill="#f9bc90"/><rect x="1.5" y="19.5" width="1.5" height="1.5" fill="#f7ae80"/><rect x="3" y="19.5" width="1.5" height="1.5" fill="#f9bc90"/><rect x="6" y="19.5" width="1.5" height="1.5" fill="#f7ae80"/><rect x="9" y="19.5" width="1.5" height="1.5" fill="#f7ae80"/><rect x="10.5" y="19.5" width="1.5" height="1.5" fill="#f9bc90"/><rect x="12" y="19.5" width="1.5" height="1.5" fill="#f7ae80"/><rect x="13.5" y="19.5" width="1.5" height="1.5" fill="#f7ae80"/><rect x="15" y="19.5" width="1.5" height="1.5" fill="#f9bc90"/><rect x="16.5" y="19.5" width="1.5" height="1.5" fill="#f6a478"/><rect x="18" y="19.5" width="1.5" height="1.5" fill="#f9bc90"/><rect x="19.5" y="19.5" width="1.5" height="1.5" fill="#f7ae80"/></pattern><pattern id="ppA" patternUnits="userSpaceOnUse" width="21" height="21"><rect x="0" y="0" width="1.5" height="1.5" fill="#fbe6b0"/><rect x="4.5" y="0" width="1.5" height="1.5" fill="#fdf2c6"/><rect x="6" y="0" width="1.5" height="1.5" fill="#fbe6b0"/><rect x="10.5" y="0" width="1.5" height="1.5" fill="#fdf2c6"/><rect x="12" y="0" width="1.5" height="1.5" fill="#fdf2c6"/><rect x="13.5" y="0" width="1.5" height="1.5" fill="#fbe6b0"/><rect x="15" y="0" width="1.5" height="1.5" fill="#fbe6b0"/><rect x="16.5" y="0" width="1.5" height="1.5" fill="#fdf2c6"/><rect x="18" y="0" width="1.5" height="1.5" fill="#fdf2c6"/><rect x="19.5" y="0" width="1.5" height="1.5" fill="#fbe6b0"/><rect x="1.5" y="1.5" width="1.5" height="1.5" fill="#fbe6b0"/><rect x="3" y="1.5" width="1.5" height="1.5" fill="#fbe6b0"/><rect x="4.5" y="1.5" width="1.5" height="1.5" fill="#fbe6b0"/><rect x="6" y="1.5" width="1.5" height="1.5" fill="#f9d8a4"/><rect x="12" y="1.5" width="1.5" height="1.5" fill="#fbe6b0"/><rect x="13.5" y="1.5" width="1.5" height="1.5" fill="#fbe6b0"/><rect x="15" y="1.5" width="1.5" height="1.5" fill="#fdf2c6"/><rect x="16.5" y="1.5" width="1.5" height="1.5" fill="#fbe6b0"/><rect x="18" y="1.5" width="1.5" height="1.5" fill="#f9d8a4"/><rect x="19.5" y="1.5" width="1.5" height="1.5" fill="#fdf2c6"/><rect x="0" y="3" width="1.5" height="1.5" fill="#fbe6b0"/><rect x="3" y="3" width="1.5" height="1.5" fill="#fbe6b0"/><rect x="4.5" y="3" width="1.5" height="1.5" fill="#f9d8a4"/><rect x="6" y="3" width="1.5" height="1.5" fill="#fdf2c6"/><rect x="7.5" y="3" width="1.5" height="1.5" fill="#fdf2c6"/><rect x="9" y="3" width="1.5" height="1.5" fill="#fbe6b0"/><rect x="10.5" y="3" width="1.5" height="1.5" fill="#fdf2c6"/><rect x="12" y="3" width="1.5" height="1.5" fill="#fbe6b0"/><rect x="13.5" y="3" width="1.5" height="1.5" fill="#fbe6b0"/><rect x="16.5" y="3" width="1.5" height="1.5" fill="#fbe6b0"/><rect x="19.5" y="3" width="1.5" height="1.5" fill="#fbe6b0"/><rect x="0" y="4.5" width="1.5" height="1.5" fill="#f9d8a4"/><rect x="6" y="4.5" width="1.5" height="1.5" fill="#fdf2c6"/><rect x="9" y="4.5" width="1.5" height="1.5" fill="#fbe6b0"/><rect x="10.5" y="4.5" width="1.5" height="1.5" fill="#fdf2c6"/><rect x="13.5" y="4.5" width="1.5" height="1.5" fill="#fbe6b0"/><rect x="15" y="4.5" width="1.5" height="1.5" fill="#f9d8a4"/><rect x="18" y="4.5" width="1.5" height="1.5" fill="#fdf2c6"/><rect x="19.5" y="4.5" width="1.5" height="1.5" fill="#fdf2c6"/><rect x="0" y="6" width="1.5" height="1.5" fill="#fdf2c6"/><rect x="1.5" y="6" width="1.5" height="1.5" fill="#fdf2c6"/><rect x="3" y="6" width="1.5" height="1.5" fill="#f9d8a4"/><rect x="4.5" y="6" width="1.5" height="1.5" fill="#fdf2c6"/><rect x="6" y="6" width="1.5" height="1.5" fill="#fbe6b0"/><rect x="7.5" y="6" width="1.5" height="1.5" fill="#fbe6b0"/><rect x="10.5" y="6" width="1.5" height="1.5" fill="#f9d8a4"/><rect x="12" y="6" width="1.5" height="1.5" fill="#fdf2c6"/><rect x="13.5" y="6" width="1.5" height="1.5" fill="#fdf2c6"/><rect x="15" y="6" width="1.5" height="1.5" fill="#fdf2c6"/><rect x="18" y="6" width="1.5" height="1.5" fill="#fbe6b0"/><rect x="0" y="7.5" width="1.5" height="1.5" fill="#fdf2c6"/><rect x="3" y="7.5" width="1.5" height="1.5" fill="#fbe6b0"/><rect x="4.5" y="7.5" width="1.5" height="1.5" fill="#fbe6b0"/><rect x="6" y="7.5" width="1.5" height="1.5" fill="#fbe6b0"/><rect x="7.5" y="7.5" width="1.5" height="1.5" fill="#f9d8a4"/><rect x="9" y="7.5" width="1.5" height="1.5" fill="#fbe6b0"/><rect x="10.5" y="7.5" width="1.5" height="1.5" fill="#fdf2c6"/><rect x="12" y="7.5" width="1.5" height="1.5" fill="#fbe6b0"/><rect x="13.5" y="7.5" width="1.5" height="1.5" fill="#fbe6b0"/><rect x="15" y="7.5" width="1.5" height="1.5" fill="#fbe6b0"/><rect x="19.5" y="7.5" width="1.5" height="1.5" fill="#fdf2c6"/><rect x="4.5" y="9" width="1.5" height="1.5" fill="#f9d8a4"/><rect x="6" y="9" width="1.5" height="1.5" fill="#fdf2c6"/><rect x="7.5" y="9" width="1.5" height="1.5" fill="#f9d8a4"/><rect x="9" y="9" width="1.5" height="1.5" fill="#f9d8a4"/><rect x="10.5" y="9" width="1.5" height="1.5" fill="#fdf2c6"/><rect x="13.5" y="9" width="1.5" height="1.5" fill="#fdf2c6"/><rect x="15" y="9" width="1.5" height="1.5" fill="#fdf2c6"/><rect x="16.5" y="9" width="1.5" height="1.5" fill="#fbe6b0"/><rect x="19.5" y="9" width="1.5" height="1.5" fill="#fbe6b0"/><rect x="0" y="10.5" width="1.5" height="1.5" fill="#fbe6b0"/><rect x="4.5" y="10.5" width="1.5" height="1.5" fill="#fdf2c6"/><rect x="7.5" y="10.5" width="1.5" height="1.5" fill="#fbe6b0"/><rect x="9" y="10.5" width="1.5" height="1.5" fill="#fbe6b0"/><rect x="10.5" y="10.5" width="1.5" height="1.5" fill="#fbe6b0"/><rect x="12" y="10.5" width="1.5" height="1.5" fill="#fdf2c6"/><rect x="13.5" y="10.5" width="1.5" height="1.5" fill="#fbe6b0"/><rect x="15" y="10.5" width="1.5" height="1.5" fill="#fbe6b0"/><rect x="16.5" y="10.5" width="1.5" height="1.5" fill="#fbe6b0"/><rect x="19.5" y="10.5" width="1.5" height="1.5" fill="#f9d8a4"/><rect x="1.5" y="12" width="1.5" height="1.5" fill="#fdf2c6"/><rect x="3" y="12" width="1.5" height="1.5" fill="#fbe6b0"/><rect x="4.5" y="12" width="1.5" height="1.5" fill="#f9d8a4"/><rect x="6" y="12" width="1.5" height="1.5" fill="#fdf2c6"/><rect x="9" y="12" width="1.5" height="1.5" fill="#fbe6b0"/><rect x="10.5" y="12" width="1.5" height="1.5" fill="#fbe6b0"/><rect x="18" y="12" width="1.5" height="1.5" fill="#fdf2c6"/><rect x="19.5" y="12" width="1.5" height="1.5" fill="#fdf2c6"/><rect x="1.5" y="13.5" width="1.5" height="1.5" fill="#fbe6b0"/><rect x="3" y="13.5" width="1.5" height="1.5" fill="#fdf2c6"/><rect x="4.5" y="13.5" width="1.5" height="1.5" fill="#fbe6b0"/><rect x="7.5" y="13.5" width="1.5" height="1.5" fill="#fbe6b0"/><rect x="10.5" y="13.5" width="1.5" height="1.5" fill="#f9d8a4"/><rect x="12" y="13.5" width="1.5" height="1.5" fill="#fbe6b0"/><rect x="13.5" y="13.5" width="1.5" height="1.5" fill="#fdf2c6"/><rect x="18" y="13.5" width="1.5" height="1.5" fill="#fdf2c6"/><rect x="19.5" y="13.5" width="1.5" height="1.5" fill="#fbe6b0"/><rect x="0" y="15" width="1.5" height="1.5" fill="#fdf2c6"/><rect x="1.5" y="15" width="1.5" height="1.5" fill="#f9d8a4"/><rect x="3" y="15" width="1.5" height="1.5" fill="#f9d8a4"/><rect x="4.5" y="15" width="1.5" height="1.5" fill="#fbe6b0"/><rect x="6" y="15" width="1.5" height="1.5" fill="#fbe6b0"/><rect x="7.5" y="15" width="1.5" height="1.5" fill="#fbe6b0"/><rect x="9" y="15" width="1.5" height="1.5" fill="#fbe6b0"/><rect x="10.5" y="15" width="1.5" height="1.5" fill="#fdf2c6"/><rect x="12" y="15" width="1.5" height="1.5" fill="#fbe6b0"/><rect x="16.5" y="15" width="1.5" height="1.5" fill="#fbe6b0"/><rect x="18" y="15" width="1.5" height="1.5" fill="#fdf2c6"/><rect x="19.5" y="15" width="1.5" height="1.5" fill="#fbe6b0"/><rect x="0" y="16.5" width="1.5" height="1.5" fill="#fdf2c6"/><rect x="1.5" y="16.5" width="1.5" height="1.5" fill="#fbe6b0"/><rect x="3" y="16.5" width="1.5" height="1.5" fill="#fbe6b0"/><rect x="4.5" y="16.5" width="1.5" height="1.5" fill="#fbe6b0"/><rect x="6" y="16.5" width="1.5" height="1.5" fill="#fdf2c6"/><rect x="9" y="16.5" width="1.5" height="1.5" fill="#fdf2c6"/><rect x="10.5" y="16.5" width="1.5" height="1.5" fill="#fbe6b0"/><rect x="18" y="16.5" width="1.5" height="1.5" fill="#fbe6b0"/><rect x="19.5" y="16.5" width="1.5" height="1.5" fill="#fdf2c6"/><rect x="0" y="18" width="1.5" height="1.5" fill="#fbe6b0"/><rect x="3" y="18" width="1.5" height="1.5" fill="#fbe6b0"/><rect x="6" y="18" width="1.5" height="1.5" fill="#fbe6b0"/><rect x="9" y="18" width="1.5" height="1.5" fill="#fbe6b0"/><rect x="10.5" y="18" width="1.5" height="1.5" fill="#fbe6b0"/><rect x="12" y="18" width="1.5" height="1.5" fill="#fdf2c6"/><rect x="13.5" y="18" width="1.5" height="1.5" fill="#fbe6b0"/><rect x="15" y="18" width="1.5" height="1.5" fill="#f9d8a4"/><rect x="16.5" y="18" width="1.5" height="1.5" fill="#fbe6b0"/><rect x="18" y="18" width="1.5" height="1.5" fill="#fdf2c6"/><rect x="19.5" y="18" width="1.5" height="1.5" fill="#fdf2c6"/><rect x="0" y="19.5" width="1.5" height="1.5" fill="#f9d8a4"/><rect x="1.5" y="19.5" width="1.5" height="1.5" fill="#fbe6b0"/><rect x="4.5" y="19.5" width="1.5" height="1.5" fill="#fdf2c6"/><rect x="7.5" y="19.5" width="1.5" height="1.5" fill="#f9d8a4"/><rect x="9" y="19.5" width="1.5" height="1.5" fill="#fbe6b0"/><rect x="12" y="19.5" width="1.5" height="1.5" fill="#fdf2c6"/><rect x="13.5" y="19.5" width="1.5" height="1.5" fill="#fdf2c6"/><rect x="15" y="19.5" width="1.5" height="1.5" fill="#fbe6b0"/><rect x="18" y="19.5" width="1.5" height="1.5" fill="#f9d8a4"/><rect x="19.5" y="19.5" width="1.5" height="1.5" fill="#fdf2c6"/></pattern><clipPath id="boxA"><rect x="42.87" y="37.30" width="320" height="130"/></clipPath><pattern id="poB" patternUnits="userSpaceOnUse" width="21" height="21"><rect x="0" y="0" width="1.5" height="1.5" fill="#facaa8"/><rect x="1.5" y="0" width="1.5" height="1.5" fill="#f6a26e"/><rect x="3" y="0" width="1.5" height="1.5" fill="#f6a26e"/><rect x="4.5" y="0" width="1.5" height="1.5" fill="#facaa8"/><rect x="6" y="0" width="1.5" height="1.5" fill="#f6a26e"/><rect x="7.5" y="0" width="1.5" height="1.5" fill="#f6a26e"/><rect x="9" y="0" width="1.5" height="1.5" fill="#f8b088"/><rect x="10.5" y="0" width="1.5" height="1.5" fill="#f6a26e"/><rect x="12" y="0" width="1.5" height="1.5" fill="#facaa8"/><rect x="13.5" y="0" width="1.5" height="1.5" fill="#f6a26e"/><rect x="15" y="0" width="1.5" height="1.5" fill="#facaa8"/><rect x="16.5" y="0" width="1.5" height="1.5" fill="#f6a26e"/><rect x="18" y="0" width="1.5" height="1.5" fill="#f8b088"/><rect x="19.5" y="0" width="1.5" height="1.5" fill="#facaa8"/><rect x="0" y="1.5" width="1.5" height="1.5" fill="#f8b088"/><rect x="1.5" y="1.5" width="1.5" height="1.5" fill="#facaa8"/><rect x="3" y="1.5" width="1.5" height="1.5" fill="#f8b088"/><rect x="4.5" y="1.5" width="1.5" height="1.5" fill="#f6a26e"/><rect x="6" y="1.5" width="1.5" height="1.5" fill="#facaa8"/><rect x="7.5" y="1.5" width="1.5" height="1.5" fill="#f49464"/><rect x="9" y="1.5" width="1.5" height="1.5" fill="#f6a26e"/><rect x="10.5" y="1.5" width="1.5" height="1.5" fill="#f6a26e"/><rect x="13.5" y="1.5" width="1.5" height="1.5" fill="#f49464"/><rect x="15" y="1.5" width="1.5" height="1.5" fill="#facaa8"/><rect x="18" y="1.5" width="1.5" height="1.5" fill="#facaa8"/><rect x="19.5" y="1.5" width="1.5" height="1.5" fill="#f49464"/><rect x="0" y="3" width="1.5" height="1.5" fill="#f8b088"/><rect x="1.5" y="3" width="1.5" height="1.5" fill="#f8b088"/><rect x="3" y="3" width="1.5" height="1.5" fill="#f6a26e"/><rect x="4.5" y="3" width="1.5" height="1.5" fill="#facaa8"/><rect x="6" y="3" width="1.5" height="1.5" fill="#f6a26e"/><rect x="9" y="3" width="1.5" height="1.5" fill="#facaa8"/><rect x="10.5" y="3" width="1.5" height="1.5" fill="#f8b088"/><rect x="12" y="3" width="1.5" height="1.5" fill="#f6a26e"/><rect x="15" y="3" width="1.5" height="1.5" fill="#f8b088"/><rect x="16.5" y="3" width="1.5" height="1.5" fill="#f6a26e"/><rect x="18" y="3" width="1.5" height="1.5" fill="#f6a26e"/><rect x="19.5" y="3" width="1.5" height="1.5" fill="#f49464"/><rect x="0" y="4.5" width="1.5" height="1.5" fill="#f6a26e"/><rect x="1.5" y="4.5" width="1.5" height="1.5" fill="#facaa8"/><rect x="3" y="4.5" width="1.5" height="1.5" fill="#f49464"/><rect x="4.5" y="4.5" width="1.5" height="1.5" fill="#f49464"/><rect x="6" y="4.5" width="1.5" height="1.5" fill="#f6a26e"/><rect x="7.5" y="4.5" width="1.5" height="1.5" fill="#f8b088"/><rect x="9" y="4.5" width="1.5" height="1.5" fill="#facaa8"/><rect x="10.5" y="4.5" width="1.5" height="1.5" fill="#f6a26e"/><rect x="12" y="4.5" width="1.5" height="1.5" fill="#f6a26e"/><rect x="13.5" y="4.5" width="1.5" height="1.5" fill="#f49464"/><rect x="15" y="4.5" width="1.5" height="1.5" fill="#f6a26e"/><rect x="16.5" y="4.5" width="1.5" height="1.5" fill="#f49464"/><rect x="18" y="4.5" width="1.5" height="1.5" fill="#f49464"/><rect x="19.5" y="4.5" width="1.5" height="1.5" fill="#f6a26e"/><rect x="0" y="6" width="1.5" height="1.5" fill="#f8b088"/><rect x="1.5" y="6" width="1.5" height="1.5" fill="#f49464"/><rect x="3" y="6" width="1.5" height="1.5" fill="#f6a26e"/><rect x="4.5" y="6" width="1.5" height="1.5" fill="#facaa8"/><rect x="6" y="6" width="1.5" height="1.5" fill="#f6a26e"/><rect x="7.5" y="6" width="1.5" height="1.5" fill="#f6a26e"/><rect x="9" y="6" width="1.5" height="1.5" fill="#f6a26e"/><rect x="10.5" y="6" width="1.5" height="1.5" fill="#facaa8"/><rect x="12" y="6" width="1.5" height="1.5" fill="#facaa8"/><rect x="13.5" y="6" width="1.5" height="1.5" fill="#f49464"/><rect x="15" y="6" width="1.5" height="1.5" fill="#f6a26e"/><rect x="16.5" y="6" width="1.5" height="1.5" fill="#f6a26e"/><rect x="18" y="6" width="1.5" height="1.5" fill="#facaa8"/><rect x="19.5" y="6" width="1.5" height="1.5" fill="#f6a26e"/><rect x="0" y="7.5" width="1.5" height="1.5" fill="#f49464"/><rect x="1.5" y="7.5" width="1.5" height="1.5" fill="#f6a26e"/><rect x="3" y="7.5" width="1.5" height="1.5" fill="#f6a26e"/><rect x="4.5" y="7.5" width="1.5" height="1.5" fill="#f6a26e"/><rect x="6" y="7.5" width="1.5" height="1.5" fill="#f6a26e"/><rect x="7.5" y="7.5" width="1.5" height="1.5" fill="#f6a26e"/><rect x="9" y="7.5" width="1.5" height="1.5" fill="#f49464"/><rect x="12" y="7.5" width="1.5" height="1.5" fill="#f8b088"/><rect x="13.5" y="7.5" width="1.5" height="1.5" fill="#f6a26e"/><rect x="15" y="7.5" width="1.5" height="1.5" fill="#f8b088"/><rect x="16.5" y="7.5" width="1.5" height="1.5" fill="#f6a26e"/><rect x="18" y="7.5" width="1.5" height="1.5" fill="#f6a26e"/><rect x="0" y="9" width="1.5" height="1.5" fill="#facaa8"/><rect x="1.5" y="9" width="1.5" height="1.5" fill="#f49464"/><rect x="4.5" y="9" width="1.5" height="1.5" fill="#f49464"/><rect x="6" y="9" width="1.5" height="1.5" fill="#f49464"/><rect x="7.5" y="9" width="1.5" height="1.5" fill="#f49464"/><rect x="9" y="9" width="1.5" height="1.5" fill="#facaa8"/><rect x="10.5" y="9" width="1.5" height="1.5" fill="#f8b088"/><rect x="12" y="9" width="1.5" height="1.5" fill="#f49464"/><rect x="13.5" y="9" width="1.5" height="1.5" fill="#f8b088"/><rect x="15" y="9" width="1.5" height="1.5" fill="#f8b088"/><rect x="16.5" y="9" width="1.5" height="1.5" fill="#f6a26e"/><rect x="0" y="10.5" width="1.5" height="1.5" fill="#f8b088"/><rect x="1.5" y="10.5" width="1.5" height="1.5" fill="#facaa8"/><rect x="3" y="10.5" width="1.5" height="1.5" fill="#f6a26e"/><rect x="4.5" y="10.5" width="1.5" height="1.5" fill="#f49464"/><rect x="6" y="10.5" width="1.5" height="1.5" fill="#f8b088"/><rect x="7.5" y="10.5" width="1.5" height="1.5" fill="#f6a26e"/><rect x="9" y="10.5" width="1.5" height="1.5" fill="#f6a26e"/><rect x="10.5" y="10.5" width="1.5" height="1.5" fill="#f8b088"/><rect x="12" y="10.5" width="1.5" height="1.5" fill="#f6a26e"/><rect x="13.5" y="10.5" width="1.5" height="1.5" fill="#f6a26e"/><rect x="15" y="10.5" width="1.5" height="1.5" fill="#f6a26e"/><rect x="16.5" y="10.5" width="1.5" height="1.5" fill="#facaa8"/><rect x="18" y="10.5" width="1.5" height="1.5" fill="#f6a26e"/><rect x="19.5" y="10.5" width="1.5" height="1.5" fill="#f6a26e"/><rect x="0" y="12" width="1.5" height="1.5" fill="#f6a26e"/><rect x="1.5" y="12" width="1.5" height="1.5" fill="#f6a26e"/><rect x="4.5" y="12" width="1.5" height="1.5" fill="#f6a26e"/><rect x="6" y="12" width="1.5" height="1.5" fill="#f6a26e"/><rect x="7.5" y="12" width="1.5" height="1.5" fill="#f6a26e"/><rect x="9" y="12" width="1.5" height="1.5" fill="#f49464"/><rect x="10.5" y="12" width="1.5" height="1.5" fill="#f6a26e"/><rect x="12" y="12" width="1.5" height="1.5" fill="#f6a26e"/><rect x="13.5" y="12" width="1.5" height="1.5" fill="#f8b088"/><rect x="15" y="12" width="1.5" height="1.5" fill="#facaa8"/><rect x="18" y="12" width="1.5" height="1.5" fill="#f6a26e"/><rect x="19.5" y="12" width="1.5" height="1.5" fill="#f6a26e"/><rect x="1.5" y="13.5" width="1.5" height="1.5" fill="#f6a26e"/><rect x="3" y="13.5" width="1.5" height="1.5" fill="#f6a26e"/><rect x="4.5" y="13.5" width="1.5" height="1.5" fill="#f49464"/><rect x="6" y="13.5" width="1.5" height="1.5" fill="#f6a26e"/><rect x="9" y="13.5" width="1.5" height="1.5" fill="#f8b088"/><rect x="10.5" y="13.5" width="1.5" height="1.5" fill="#f49464"/><rect x="12" y="13.5" width="1.5" height="1.5" fill="#f6a26e"/><rect x="13.5" y="13.5" width="1.5" height="1.5" fill="#f6a26e"/><rect x="15" y="13.5" width="1.5" height="1.5" fill="#f6a26e"/><rect x="16.5" y="13.5" width="1.5" height="1.5" fill="#f6a26e"/><rect x="18" y="13.5" width="1.5" height="1.5" fill="#f8b088"/><rect x="19.5" y="13.5" width="1.5" height="1.5" fill="#f6a26e"/><rect x="0" y="15" width="1.5" height="1.5" fill="#facaa8"/><rect x="1.5" y="15" width="1.5" height="1.5" fill="#f8b088"/><rect x="3" y="15" width="1.5" height="1.5" fill="#f6a26e"/><rect x="4.5" y="15" width="1.5" height="1.5" fill="#f49464"/><rect x="6" y="15" width="1.5" height="1.5" fill="#f8b088"/><rect x="7.5" y="15" width="1.5" height="1.5" fill="#f6a26e"/><rect x="9" y="15" width="1.5" height="1.5" fill="#f49464"/><rect x="10.5" y="15" width="1.5" height="1.5" fill="#f6a26e"/><rect x="13.5" y="15" width="1.5" height="1.5" fill="#f6a26e"/><rect x="15" y="15" width="1.5" height="1.5" fill="#f8b088"/><rect x="16.5" y="15" width="1.5" height="1.5" fill="#facaa8"/><rect x="19.5" y="15" width="1.5" height="1.5" fill="#f6a26e"/><rect x="0" y="16.5" width="1.5" height="1.5" fill="#f49464"/><rect x="1.5" y="16.5" width="1.5" height="1.5" fill="#f6a26e"/><rect x="3" y="16.5" width="1.5" height="1.5" fill="#f6a26e"/><rect x="7.5" y="16.5" width="1.5" height="1.5" fill="#f6a26e"/><rect x="9" y="16.5" width="1.5" height="1.5" fill="#f6a26e"/><rect x="10.5" y="16.5" width="1.5" height="1.5" fill="#f8b088"/><rect x="12" y="16.5" width="1.5" height="1.5" fill="#f6a26e"/><rect x="15" y="16.5" width="1.5" height="1.5" fill="#facaa8"/><rect x="16.5" y="16.5" width="1.5" height="1.5" fill="#f49464"/><rect x="18" y="16.5" width="1.5" height="1.5" fill="#f6a26e"/><rect x="0" y="18" width="1.5" height="1.5" fill="#f49464"/><rect x="1.5" y="18" width="1.5" height="1.5" fill="#f6a26e"/><rect x="3" y="18" width="1.5" height="1.5" fill="#f6a26e"/><rect x="4.5" y="18" width="1.5" height="1.5" fill="#f6a26e"/><rect x="7.5" y="18" width="1.5" height="1.5" fill="#f49464"/><rect x="9" y="18" width="1.5" height="1.5" fill="#f8b088"/><rect x="12" y="18" width="1.5" height="1.5" fill="#facaa8"/><rect x="13.5" y="18" width="1.5" height="1.5" fill="#f6a26e"/><rect x="15" y="18" width="1.5" height="1.5" fill="#f6a26e"/><rect x="19.5" y="18" width="1.5" height="1.5" fill="#f6a26e"/><rect x="0" y="19.5" width="1.5" height="1.5" fill="#f8b088"/><rect x="1.5" y="19.5" width="1.5" height="1.5" fill="#f6a26e"/><rect x="3" y="19.5" width="1.5" height="1.5" fill="#f6a26e"/><rect x="4.5" y="19.5" width="1.5" height="1.5" fill="#f6a26e"/><rect x="6" y="19.5" width="1.5" height="1.5" fill="#f6a26e"/><rect x="7.5" y="19.5" width="1.5" height="1.5" fill="#f6a26e"/><rect x="9" y="19.5" width="1.5" height="1.5" fill="#f49464"/><rect x="10.5" y="19.5" width="1.5" height="1.5" fill="#facaa8"/><rect x="12" y="19.5" width="1.5" height="1.5" fill="#f6a26e"/><rect x="13.5" y="19.5" width="1.5" height="1.5" fill="#f49464"/><rect x="16.5" y="19.5" width="1.5" height="1.5" fill="#f49464"/><rect x="18" y="19.5" width="1.5" height="1.5" fill="#f49464"/></pattern><pattern id="po2B" patternUnits="userSpaceOnUse" width="21" height="21"><rect x="0" y="0" width="1.5" height="1.5" fill="#f8b284"/><rect x="1.5" y="0" width="1.5" height="1.5" fill="#f8b284"/><rect x="3" y="0" width="1.5" height="1.5" fill="#f8b284"/><rect x="4.5" y="0" width="1.5" height="1.5" fill="#f9bc8e"/><rect x="6" y="0" width="1.5" height="1.5" fill="#fbc8a0"/><rect x="7.5" y="0" width="1.5" height="1.5" fill="#fbc8a0"/><rect x="9" y="0" width="1.5" height="1.5" fill="#fbc8a0"/><rect x="10.5" y="0" width="1.5" height="1.5" fill="#f9bc8e"/><rect x="12" y="0" width="1.5" height="1.5" fill="#f9bc8e"/><rect x="13.5" y="0" width="1.5" height="1.5" fill="#fbc8a0"/><rect x="15" y="0" width="1.5" height="1.5" fill="#f9bc8e"/><rect x="16.5" y="0" width="1.5" height="1.5" fill="#fbc8a0"/><rect x="18" y="0" width="1.5" height="1.5" fill="#f9bc8e"/><rect x="19.5" y="0" width="1.5" height="1.5" fill="#f9bc8e"/><rect x="1.5" y="1.5" width="1.5" height="1.5" fill="#fbc8a0"/><rect x="3" y="1.5" width="1.5" height="1.5" fill="#fbc8a0"/><rect x="6" y="1.5" width="1.5" height="1.5" fill="#f9bc8e"/><rect x="7.5" y="1.5" width="1.5" height="1.5" fill="#f9bc8e"/><rect x="10.5" y="1.5" width="1.5" height="1.5" fill="#fbc8a0"/><rect x="12" y="1.5" width="1.5" height="1.5" fill="#fbc8a0"/><rect x="13.5" y="1.5" width="1.5" height="1.5" fill="#fbc8a0"/><rect x="15" y="1.5" width="1.5" height="1.5" fill="#f8b284"/><rect x="16.5" y="1.5" width="1.5" height="1.5" fill="#f9bc8e"/><rect x="19.5" y="1.5" width="1.5" height="1.5" fill="#f9bc8e"/><rect x="0" y="3" width="1.5" height="1.5" fill="#fbc8a0"/><rect x="1.5" y="3" width="1.5" height="1.5" fill="#fbc8a0"/><rect x="3" y="3" width="1.5" height="1.5" fill="#f9bc8e"/><rect x="4.5" y="3" width="1.5" height="1.5" fill="#f9bc8e"/><rect x="6" y="3" width="1.5" height="1.5" fill="#fbc8a0"/><rect x="9" y="3" width="1.5" height="1.5" fill="#fbc8a0"/><rect x="10.5" y="3" width="1.5" height="1.5" fill="#fbc8a0"/><rect x="12" y="3" width="1.5" height="1.5" fill="#fbc8a0"/><rect x="13.5" y="3" width="1.5" height="1.5" fill="#f9bc8e"/><rect x="15" y="3" width="1.5" height="1.5" fill="#f9bc8e"/><rect x="16.5" y="3" width="1.5" height="1.5" fill="#f9bc8e"/><rect x="18" y="3" width="1.5" height="1.5" fill="#f8b284"/><rect x="19.5" y="3" width="1.5" height="1.5" fill="#f9bc8e"/><rect x="0" y="4.5" width="1.5" height="1.5" fill="#f9bc8e"/><rect x="1.5" y="4.5" width="1.5" height="1.5" fill="#f9bc8e"/><rect x="3" y="4.5" width="1.5" height="1.5" fill="#f9bc8e"/><rect x="4.5" y="4.5" width="1.5" height="1.5" fill="#f9bc8e"/><rect x="6" y="4.5" width="1.5" height="1.5" fill="#fbc8a0"/><rect x="7.5" y="4.5" width="1.5" height="1.5" fill="#f8b284"/><rect x="9" y="4.5" width="1.5" height="1.5" fill="#f9bc8e"/><rect x="10.5" y="4.5" width="1.5" height="1.5" fill="#f9bc8e"/><rect x="12" y="4.5" width="1.5" height="1.5" fill="#f9bc8e"/><rect x="13.5" y="4.5" width="1.5" height="1.5" fill="#f9bc8e"/><rect x="16.5" y="4.5" width="1.5" height="1.5" fill="#fbc8a0"/><rect x="18" y="4.5" width="1.5" height="1.5" fill="#f9bc8e"/><rect x="19.5" y="4.5" width="1.5" height="1.5" fill="#f9bc8e"/><rect x="3" y="6" width="1.5" height="1.5" fill="#f8b284"/><rect x="4.5" y="6" width="1.5" height="1.5" fill="#f9bc8e"/><rect x="6" y="6" width="1.5" height="1.5" fill="#fbc8a0"/><rect x="7.5" y="6" width="1.5" height="1.5" fill="#f8b284"/><rect x="9" y="6" width="1.5" height="1.5" fill="#fbc8a0"/><rect x="10.5" y="6" width="1.5" height="1.5" fill="#f8b284"/><rect x="12" y="6" width="1.5" height="1.5" fill="#f9bc8e"/><rect x="13.5" y="6" width="1.5" height="1.5" fill="#f8b284"/><rect x="15" y="6" width="1.5" height="1.5" fill="#f9bc8e"/><rect x="16.5" y="6" width="1.5" height="1.5" fill="#f9bc8e"/><rect x="18" y="6" width="1.5" height="1.5" fill="#f9bc8e"/><rect x="19.5" y="6" width="1.5" height="1.5" fill="#f8b284"/><rect x="1.5" y="7.5" width="1.5" height="1.5" fill="#f8b284"/><rect x="3" y="7.5" width="1.5" height="1.5" fill="#f8b284"/><rect x="4.5" y="7.5" width="1.5" height="1.5" fill="#f8b284"/><rect x="6" y="7.5" width="1.5" height="1.5" fill="#fbc8a0"/><rect x="7.5" y="7.5" width="1.5" height="1.5" fill="#f8b284"/><rect x="10.5" y="7.5" width="1.5" height="1.5" fill="#f9bc8e"/><rect x="12" y="7.5" width="1.5" height="1.5" fill="#f8b284"/><rect x="13.5" y="7.5" width="1.5" height="1.5" fill="#f9bc8e"/><rect x="15" y="7.5" width="1.5" height="1.5" fill="#f9bc8e"/><rect x="16.5" y="7.5" width="1.5" height="1.5" fill="#f9bc8e"/><rect x="18" y="7.5" width="1.5" height="1.5" fill="#fbc8a0"/><rect x="19.5" y="7.5" width="1.5" height="1.5" fill="#f9bc8e"/><rect x="0" y="9" width="1.5" height="1.5" fill="#f8b284"/><rect x="1.5" y="9" width="1.5" height="1.5" fill="#f8b284"/><rect x="3" y="9" width="1.5" height="1.5" fill="#f9bc8e"/><rect x="4.5" y="9" width="1.5" height="1.5" fill="#f9bc8e"/><rect x="6" y="9" width="1.5" height="1.5" fill="#fbc8a0"/><rect x="7.5" y="9" width="1.5" height="1.5" fill="#f9bc8e"/><rect x="9" y="9" width="1.5" height="1.5" fill="#fbc8a0"/><rect x="10.5" y="9" width="1.5" height="1.5" fill="#f8b284"/><rect x="12" y="9" width="1.5" height="1.5" fill="#f9bc8e"/><rect x="13.5" y="9" width="1.5" height="1.5" fill="#fbc8a0"/><rect x="15" y="9" width="1.5" height="1.5" fill="#f8b284"/><rect x="16.5" y="9" width="1.5" height="1.5" fill="#fbc8a0"/><rect x="18" y="9" width="1.5" height="1.5" fill="#f9bc8e"/><rect x="19.5" y="9" width="1.5" height="1.5" fill="#f8b284"/><rect x="0" y="10.5" width="1.5" height="1.5" fill="#f8b284"/><rect x="1.5" y="10.5" width="1.5" height="1.5" fill="#f8b284"/><rect x="4.5" y="10.5" width="1.5" height="1.5" fill="#f9bc8e"/><rect x="7.5" y="10.5" width="1.5" height="1.5" fill="#f8b284"/><rect x="9" y="10.5" width="1.5" height="1.5" fill="#fbc8a0"/><rect x="10.5" y="10.5" width="1.5" height="1.5" fill="#f9bc8e"/><rect x="12" y="10.5" width="1.5" height="1.5" fill="#f9bc8e"/><rect x="13.5" y="10.5" width="1.5" height="1.5" fill="#f9bc8e"/><rect x="16.5" y="10.5" width="1.5" height="1.5" fill="#fbc8a0"/><rect x="18" y="10.5" width="1.5" height="1.5" fill="#fbc8a0"/><rect x="19.5" y="10.5" width="1.5" height="1.5" fill="#f8b284"/><rect x="0" y="12" width="1.5" height="1.5" fill="#f9bc8e"/><rect x="1.5" y="12" width="1.5" height="1.5" fill="#fbc8a0"/><rect x="3" y="12" width="1.5" height="1.5" fill="#f9bc8e"/><rect x="4.5" y="12" width="1.5" height="1.5" fill="#fbc8a0"/><rect x="6" y="12" width="1.5" height="1.5" fill="#f8b284"/><rect x="7.5" y="12" width="1.5" height="1.5" fill="#f9bc8e"/><rect x="9" y="12" width="1.5" height="1.5" fill="#f8b284"/><rect x="10.5" y="12" width="1.5" height="1.5" fill="#f9bc8e"/><rect x="12" y="12" width="1.5" height="1.5" fill="#fbc8a0"/><rect x="13.5" y="12" width="1.5" height="1.5" fill="#fbc8a0"/><rect x="15" y="12" width="1.5" height="1.5" fill="#f9bc8e"/><rect x="16.5" y="12" width="1.5" height="1.5" fill="#fbc8a0"/><rect x="18" y="12" width="1.5" height="1.5" fill="#fbc8a0"/><rect x="19.5" y="12" width="1.5" height="1.5" fill="#fbc8a0"/><rect x="1.5" y="13.5" width="1.5" height="1.5" fill="#f9bc8e"/><rect x="3" y="13.5" width="1.5" height="1.5" fill="#f9bc8e"/><rect x="6" y="13.5" width="1.5" height="1.5" fill="#f9bc8e"/><rect x="7.5" y="13.5" width="1.5" height="1.5" fill="#f8b284"/><rect x="9" y="13.5" width="1.5" height="1.5" fill="#f9bc8e"/><rect x="12" y="13.5" width="1.5" height="1.5" fill="#f9bc8e"/><rect x="13.5" y="13.5" width="1.5" height="1.5" fill="#fbc8a0"/><rect x="15" y="13.5" width="1.5" height="1.5" fill="#fbc8a0"/><rect x="16.5" y="13.5" width="1.5" height="1.5" fill="#f9bc8e"/><rect x="19.5" y="13.5" width="1.5" height="1.5" fill="#fbc8a0"/><rect x="1.5" y="15" width="1.5" height="1.5" fill="#fbc8a0"/><rect x="3" y="15" width="1.5" height="1.5" fill="#fbc8a0"/><rect x="4.5" y="15" width="1.5" height="1.5" fill="#fbc8a0"/><rect x="6" y="15" width="1.5" height="1.5" fill="#f9bc8e"/><rect x="7.5" y="15" width="1.5" height="1.5" fill="#f8b284"/><rect x="9" y="15" width="1.5" height="1.5" fill="#f9bc8e"/><rect x="10.5" y="15" width="1.5" height="1.5" fill="#f8b284"/><rect x="12" y="15" width="1.5" height="1.5" fill="#f8b284"/><rect x="13.5" y="15" width="1.5" height="1.5" fill="#fbc8a0"/><rect x="18" y="15" width="1.5" height="1.5" fill="#fbc8a0"/><rect x="19.5" y="15" width="1.5" height="1.5" fill="#f9bc8e"/><rect x="0" y="16.5" width="1.5" height="1.5" fill="#f9bc8e"/><rect x="1.5" y="16.5" width="1.5" height="1.5" fill="#f9bc8e"/><rect x="3" y="16.5" width="1.5" height="1.5" fill="#f9bc8e"/><rect x="4.5" y="16.5" width="1.5" height="1.5" fill="#f8b284"/><rect x="6" y="16.5" width="1.5" height="1.5" fill="#f9bc8e"/><rect x="7.5" y="16.5" width="1.5" height="1.5" fill="#f9bc8e"/><rect x="9" y="16.5" width="1.5" height="1.5" fill="#f9bc8e"/><rect x="10.5" y="16.5" width="1.5" height="1.5" fill="#f8b284"/><rect x="12" y="16.5" width="1.5" height="1.5" fill="#fbc8a0"/><rect x="13.5" y="16.5" width="1.5" height="1.5" fill="#fbc8a0"/><rect x="15" y="16.5" width="1.5" height="1.5" fill="#f9bc8e"/><rect x="16.5" y="16.5" width="1.5" height="1.5" fill="#f9bc8e"/><rect x="18" y="16.5" width="1.5" height="1.5" fill="#f9bc8e"/><rect x="19.5" y="16.5" width="1.5" height="1.5" fill="#f9bc8e"/><rect x="0" y="18" width="1.5" height="1.5" fill="#f9bc8e"/><rect x="1.5" y="18" width="1.5" height="1.5" fill="#f8b284"/><rect x="3" y="18" width="1.5" height="1.5" fill="#fbc8a0"/><rect x="4.5" y="18" width="1.5" height="1.5" fill="#f9bc8e"/><rect x="6" y="18" width="1.5" height="1.5" fill="#fbc8a0"/><rect x="7.5" y="18" width="1.5" height="1.5" fill="#f9bc8e"/><rect x="9" y="18" width="1.5" height="1.5" fill="#fbc8a0"/><rect x="10.5" y="18" width="1.5" height="1.5" fill="#fbc8a0"/><rect x="12" y="18" width="1.5" height="1.5" fill="#f8b284"/><rect x="13.5" y="18" width="1.5" height="1.5" fill="#f9bc8e"/><rect x="15" y="18" width="1.5" height="1.5" fill="#f8b284"/><rect x="16.5" y="18" width="1.5" height="1.5" fill="#f9bc8e"/><rect x="18" y="18" width="1.5" height="1.5" fill="#f8b284"/><rect x="19.5" y="18" width="1.5" height="1.5" fill="#fbc8a0"/><rect x="0" y="19.5" width="1.5" height="1.5" fill="#f9bc8e"/><rect x="1.5" y="19.5" width="1.5" height="1.5" fill="#f8b284"/><rect x="3" y="19.5" width="1.5" height="1.5" fill="#f9bc8e"/><rect x="4.5" y="19.5" width="1.5" height="1.5" fill="#f9bc8e"/><rect x="6" y="19.5" width="1.5" height="1.5" fill="#f9bc8e"/><rect x="7.5" y="19.5" width="1.5" height="1.5" fill="#f8b284"/><rect x="9" y="19.5" width="1.5" height="1.5" fill="#f9bc8e"/><rect x="12" y="19.5" width="1.5" height="1.5" fill="#f9bc8e"/><rect x="15" y="19.5" width="1.5" height="1.5" fill="#f9bc8e"/><rect x="16.5" y="19.5" width="1.5" height="1.5" fill="#f9bc8e"/><rect x="18" y="19.5" width="1.5" height="1.5" fill="#f8b284"/><rect x="19.5" y="19.5" width="1.5" height="1.5" fill="#fbc8a0"/></pattern><pattern id="ppB" patternUnits="userSpaceOnUse" width="21" height="21"><rect x="3" y="0" width="1.5" height="1.5" fill="#fcefbc"/><rect x="4.5" y="0" width="1.5" height="1.5" fill="#fae4b0"/><rect x="6" y="0" width="1.5" height="1.5" fill="#fcefbc"/><rect x="9" y="0" width="1.5" height="1.5" fill="#fcefbc"/><rect x="12" y="0" width="1.5" height="1.5" fill="#fcefbc"/><rect x="18" y="0" width="1.5" height="1.5" fill="#fdf6d0"/><rect x="0" y="1.5" width="1.5" height="1.5" fill="#fae4b0"/><rect x="1.5" y="1.5" width="1.5" height="1.5" fill="#fcefbc"/><rect x="3" y="1.5" width="1.5" height="1.5" fill="#fdf6d0"/><rect x="4.5" y="1.5" width="1.5" height="1.5" fill="#fae4b0"/><rect x="7.5" y="1.5" width="1.5" height="1.5" fill="#fdf6d0"/><rect x="9" y="1.5" width="1.5" height="1.5" fill="#fcefbc"/><rect x="10.5" y="1.5" width="1.5" height="1.5" fill="#fae4b0"/><rect x="12" y="1.5" width="1.5" height="1.5" fill="#fcefbc"/><rect x="16.5" y="1.5" width="1.5" height="1.5" fill="#fcefbc"/><rect x="18" y="1.5" width="1.5" height="1.5" fill="#fcefbc"/><rect x="19.5" y="1.5" width="1.5" height="1.5" fill="#fcefbc"/><rect x="0" y="3" width="1.5" height="1.5" fill="#fdf6d0"/><rect x="1.5" y="3" width="1.5" height="1.5" fill="#fdf6d0"/><rect x="4.5" y="3" width="1.5" height="1.5" fill="#fae4b0"/><rect x="6" y="3" width="1.5" height="1.5" fill="#fcefbc"/><rect x="9" y="3" width="1.5" height="1.5" fill="#fcefbc"/><rect x="10.5" y="3" width="1.5" height="1.5" fill="#fcefbc"/><rect x="16.5" y="3" width="1.5" height="1.5" fill="#fae4b0"/><rect x="19.5" y="3" width="1.5" height="1.5" fill="#fcefbc"/><rect x="1.5" y="4.5" width="1.5" height="1.5" fill="#fae4b0"/><rect x="3" y="4.5" width="1.5" height="1.5" fill="#fcefbc"/><rect x="4.5" y="4.5" width="1.5" height="1.5" fill="#fdf6d0"/><rect x="6" y="4.5" width="1.5" height="1.5" fill="#fcefbc"/><rect x="7.5" y="4.5" width="1.5" height="1.5" fill="#fcefbc"/><rect x="9" y="4.5" width="1.5" height="1.5" fill="#fdf6d0"/><rect x="12" y="4.5" width="1.5" height="1.5" fill="#fae4b0"/><rect x="13.5" y="4.5" width="1.5" height="1.5" fill="#fcefbc"/><rect x="15" y="4.5" width="1.5" height="1.5" fill="#fdf6d0"/><rect x="16.5" y="4.5" width="1.5" height="1.5" fill="#fae4b0"/><rect x="19.5" y="4.5" width="1.5" height="1.5" fill="#fdf6d0"/><rect x="0" y="6" width="1.5" height="1.5" fill="#fcefbc"/><rect x="3" y="6" width="1.5" height="1.5" fill="#fcefbc"/><rect x="7.5" y="6" width="1.5" height="1.5" fill="#fdf6d0"/><rect x="10.5" y="6" width="1.5" height="1.5" fill="#fdf6d0"/><rect x="12" y="6" width="1.5" height="1.5" fill="#fdf6d0"/><rect x="15" y="6" width="1.5" height="1.5" fill="#fcefbc"/><rect x="16.5" y="6" width="1.5" height="1.5" fill="#fcefbc"/><rect x="18" y="6" width="1.5" height="1.5" fill="#fdf6d0"/><rect x="19.5" y="6" width="1.5" height="1.5" fill="#fdf6d0"/><rect x="1.5" y="7.5" width="1.5" height="1.5" fill="#fcefbc"/><rect x="3" y="7.5" width="1.5" height="1.5" fill="#fdf6d0"/><rect x="4.5" y="7.5" width="1.5" height="1.5" fill="#fcefbc"/><rect x="6" y="7.5" width="1.5" height="1.5" fill="#fdf6d0"/><rect x="7.5" y="7.5" width="1.5" height="1.5" fill="#fcefbc"/><rect x="9" y="7.5" width="1.5" height="1.5" fill="#fdf6d0"/><rect x="12" y="7.5" width="1.5" height="1.5" fill="#fcefbc"/><rect x="13.5" y="7.5" width="1.5" height="1.5" fill="#fae4b0"/><rect x="18" y="7.5" width="1.5" height="1.5" fill="#fdf6d0"/><rect x="19.5" y="7.5" width="1.5" height="1.5" fill="#fdf6d0"/><rect x="0" y="9" width="1.5" height="1.5" fill="#fdf6d0"/><rect x="1.5" y="9" width="1.5" height="1.5" fill="#fdf6d0"/><rect x="3" y="9" width="1.5" height="1.5" fill="#fcefbc"/><rect x="4.5" y="9" width="1.5" height="1.5" fill="#fcefbc"/><rect x="6" y="9" width="1.5" height="1.5" fill="#fcefbc"/><rect x="7.5" y="9" width="1.5" height="1.5" fill="#fcefbc"/><rect x="9" y="9" width="1.5" height="1.5" fill="#fae4b0"/><rect x="13.5" y="9" width="1.5" height="1.5" fill="#fcefbc"/><rect x="15" y="9" width="1.5" height="1.5" fill="#fcefbc"/><rect x="16.5" y="9" width="1.5" height="1.5" fill="#fdf6d0"/><rect x="19.5" y="9" width="1.5" height="1.5" fill="#fdf6d0"/><rect x="1.5" y="10.5" width="1.5" height="1.5" fill="#fae4b0"/><rect x="3" y="10.5" width="1.5" height="1.5" fill="#fcefbc"/><rect x="4.5" y="10.5" width="1.5" height="1.5" fill="#fdf6d0"/><rect x="7.5" y="10.5" width="1.5" height="1.5" fill="#fcefbc"/><rect x="10.5" y="10.5" width="1.5" height="1.5" fill="#fdf6d0"/><rect x="12" y="10.5" width="1.5" height="1.5" fill="#fcefbc"/><rect x="13.5" y="10.5" width="1.5" height="1.5" fill="#fdf6d0"/><rect x="15" y="10.5" width="1.5" height="1.5" fill="#fcefbc"/><rect x="19.5" y="10.5" width="1.5" height="1.5" fill="#fdf6d0"/><rect x="1.5" y="12" width="1.5" height="1.5" fill="#fcefbc"/><rect x="3" y="12" width="1.5" height="1.5" fill="#fdf6d0"/><rect x="4.5" y="12" width="1.5" height="1.5" fill="#fcefbc"/><rect x="6" y="12" width="1.5" height="1.5" fill="#fcefbc"/><rect x="9" y="12" width="1.5" height="1.5" fill="#fcefbc"/><rect x="10.5" y="12" width="1.5" height="1.5" fill="#fae4b0"/><rect x="12" y="12" width="1.5" height="1.5" fill="#fdf6d0"/><rect x="15" y="12" width="1.5" height="1.5" fill="#fcefbc"/><rect x="16.5" y="12" width="1.5" height="1.5" fill="#fae4b0"/><rect x="19.5" y="12" width="1.5" height="1.5" fill="#fcefbc"/><rect x="0" y="13.5" width="1.5" height="1.5" fill="#fcefbc"/><rect x="1.5" y="13.5" width="1.5" height="1.5" fill="#fcefbc"/><rect x="3" y="13.5" width="1.5" height="1.5" fill="#fdf6d0"/><rect x="4.5" y="13.5" width="1.5" height="1.5" fill="#fcefbc"/><rect x="7.5" y="13.5" width="1.5" height="1.5" fill="#fdf6d0"/><rect x="10.5" y="13.5" width="1.5" height="1.5" fill="#fcefbc"/><rect x="13.5" y="13.5" width="1.5" height="1.5" fill="#fdf6d0"/><rect x="16.5" y="13.5" width="1.5" height="1.5" fill="#fdf6d0"/><rect x="18" y="13.5" width="1.5" height="1.5" fill="#fae4b0"/><rect x="1.5" y="15" width="1.5" height="1.5" fill="#fcefbc"/><rect x="3" y="15" width="1.5" height="1.5" fill="#fcefbc"/><rect x="4.5" y="15" width="1.5" height="1.5" fill="#fcefbc"/><rect x="6" y="15" width="1.5" height="1.5" fill="#fcefbc"/><rect x="7.5" y="15" width="1.5" height="1.5" fill="#fae4b0"/><rect x="9" y="15" width="1.5" height="1.5" fill="#fcefbc"/><rect x="12" y="15" width="1.5" height="1.5" fill="#fcefbc"/><rect x="15" y="15" width="1.5" height="1.5" fill="#fcefbc"/><rect x="16.5" y="15" width="1.5" height="1.5" fill="#fcefbc"/><rect x="0" y="16.5" width="1.5" height="1.5" fill="#fae4b0"/><rect x="1.5" y="16.5" width="1.5" height="1.5" fill="#fcefbc"/><rect x="3" y="16.5" width="1.5" height="1.5" fill="#fcefbc"/><rect x="4.5" y="16.5" width="1.5" height="1.5" fill="#fcefbc"/><rect x="6" y="16.5" width="1.5" height="1.5" fill="#fcefbc"/><rect x="7.5" y="16.5" width="1.5" height="1.5" fill="#fae4b0"/><rect x="9" y="16.5" width="1.5" height="1.5" fill="#fdf6d0"/><rect x="10.5" y="16.5" width="1.5" height="1.5" fill="#fdf6d0"/><rect x="12" y="16.5" width="1.5" height="1.5" fill="#fcefbc"/><rect x="16.5" y="16.5" width="1.5" height="1.5" fill="#fcefbc"/><rect x="18" y="16.5" width="1.5" height="1.5" fill="#fcefbc"/><rect x="19.5" y="16.5" width="1.5" height="1.5" fill="#fcefbc"/><rect x="3" y="18" width="1.5" height="1.5" fill="#fcefbc"/><rect x="4.5" y="18" width="1.5" height="1.5" fill="#fcefbc"/><rect x="6" y="18" width="1.5" height="1.5" fill="#fcefbc"/><rect x="10.5" y="18" width="1.5" height="1.5" fill="#fcefbc"/><rect x="12" y="18" width="1.5" height="1.5" fill="#fcefbc"/><rect x="13.5" y="18" width="1.5" height="1.5" fill="#fcefbc"/><rect x="15" y="18" width="1.5" height="1.5" fill="#fae4b0"/><rect x="16.5" y="18" width="1.5" height="1.5" fill="#fdf6d0"/><rect x="18" y="18" width="1.5" height="1.5" fill="#fae4b0"/><rect x="19.5" y="18" width="1.5" height="1.5" fill="#fcefbc"/><rect x="1.5" y="19.5" width="1.5" height="1.5" fill="#fdf6d0"/><rect x="3" y="19.5" width="1.5" height="1.5" fill="#fae4b0"/><rect x="4.5" y="19.5" width="1.5" height="1.5" fill="#fdf6d0"/><rect x="6" y="19.5" width="1.5" height="1.5" fill="#fcefbc"/><rect x="9" y="19.5" width="1.5" height="1.5" fill="#fae4b0"/><rect x="10.5" y="19.5" width="1.5" height="1.5" fill="#fdf6d0"/><rect x="12" y="19.5" width="1.5" height="1.5" fill="#fcefbc"/><rect x="13.5" y="19.5" width="1.5" height="1.5" fill="#fcefbc"/><rect x="15" y="19.5" width="1.5" height="1.5" fill="#fdf6d0"/><rect x="16.5" y="19.5" width="1.5" height="1.5" fill="#fae4b0"/><rect x="18" y="19.5" width="1.5" height="1.5" fill="#fdf6d0"/><rect x="19.5" y="19.5" width="1.5" height="1.5" fill="#fdf6d0"/></pattern><clipPath id="boxB"><rect x="391.67" y="37.30" width="320" height="130"/></clipPath><filter id="tblur" x="-2%" y="-2%" width="104%" height="104%"><feGaussianBlur stdDeviation="0.3"/></filter></defs>
<rect width="685" height="611" fill="#fff"/>
<line x1="29.16" y1="37.30" x2="334.08" y2="37.30" stroke="#ebebeb" stroke-width="1"/>
<line x1="29.16" y1="62.25" x2="334.08" y2="62.25" stroke="#ebebeb" stroke-width="1"/>
<line x1="29.16" y1="87.20" x2="334.08" y2="87.20" stroke="#ebebeb" stroke-width="1"/>
<line x1="29.16" y1="112.15" x2="334.08" y2="112.15" stroke="#ebebeb" stroke-width="1"/>
<line x1="29.16" y1="137.10" x2="334.08" y2="137.10" stroke="#ebebeb" stroke-width="1"/>
<line x1="73.00" y1="32.06" x2="73.00" y2="141.59" stroke="#ebebeb" stroke-width="1"/>
<line x1="122.54" y1="32.06" x2="122.54" y2="141.59" stroke="#ebebeb" stroke-width="1"/>
<line x1="172.08" y1="32.06" x2="172.08" y2="141.59" stroke="#ebebeb" stroke-width="1"/>
<line x1="221.62" y1="32.06" x2="221.62" y2="141.59" stroke="#ebebeb" stroke-width="1"/>
<line x1="271.16" y1="32.06" x2="271.16" y2="141.59" stroke="#ebebeb" stroke-width="1"/>
<line x1="320.70" y1="32.06" x2="320.70" y2="141.59" stroke="#ebebeb" stroke-width="1"/>
<line x1="377.96" y1="37.30" x2="682.88" y2="37.30" stroke="#ebebeb" stroke-width="1"/>
<line x1="377.96" y1="62.25" x2="682.88" y2="62.25" stroke="#ebebeb" stroke-width="1"/>
<line x1="377.96" y1="87.20" x2="682.88" y2="87.20" stroke="#ebebeb" stroke-width="1"/>
<line x1="377.96" y1="112.15" x2="682.88" y2="112.15" stroke="#ebebeb" stroke-width="1"/>
<line x1="377.96" y1="137.10" x2="682.88" y2="137.10" stroke="#ebebeb" stroke-width="1"/>
<line x1="421.80" y1="32.06" x2="421.80" y2="141.59" stroke="#ebebeb" stroke-width="1"/>
<line x1="471.34" y1="32.06" x2="471.34" y2="141.59" stroke="#ebebeb" stroke-width="1"/>
<line x1="520.88" y1="32.06" x2="520.88" y2="141.59" stroke="#ebebeb" stroke-width="1"/>
<line x1="570.42" y1="32.06" x2="570.42" y2="141.59" stroke="#ebebeb" stroke-width="1"/>
<line x1="619.96" y1="32.06" x2="619.96" y2="141.59" stroke="#ebebeb" stroke-width="1"/>
<line x1="669.50" y1="32.06" x2="669.50" y2="141.59" stroke="#ebebeb" stroke-width="1"/>
<line x1="32.92" y1="244.60" x2="330.45" y2="244.60" stroke="#ebebeb" stroke-width="1"/>
<line x1="32.92" y1="268.95" x2="330.45" y2="268.95" stroke="#ebebeb" stroke-width="1"/>
<line x1="32.92" y1="293.30" x2="330.45" y2="293.30" stroke="#ebebeb" stroke-width="1"/>
<line x1="32.92" y1="317.65" x2="330.45" y2="317.65" stroke="#ebebeb" stroke-width="1"/>
<line x1="32.92" y1="342.00" x2="330.45" y2="342.00" stroke="#ebebeb" stroke-width="1"/>
<line x1="75.70" y1="239.49" x2="75.70" y2="346.38" stroke="#ebebeb" stroke-width="1"/>
<line x1="124.04" y1="239.49" x2="124.04" y2="346.38" stroke="#ebebeb" stroke-width="1"/>
<line x1="172.38" y1="239.49" x2="172.38" y2="346.38" stroke="#ebebeb" stroke-width="1"/>
<line x1="220.72" y1="239.49" x2="220.72" y2="346.38" stroke="#ebebeb" stroke-width="1"/>
<line x1="269.06" y1="239.49" x2="269.06" y2="346.38" stroke="#ebebeb" stroke-width="1"/>
<line x1="317.40" y1="239.49" x2="317.40" y2="346.38" stroke="#ebebeb" stroke-width="1"/>
<line x1="381.32" y1="244.60" x2="678.85" y2="244.60" stroke="#ebebeb" stroke-width="1"/>
<line x1="381.32" y1="268.95" x2="678.85" y2="268.95" stroke="#ebebeb" stroke-width="1"/>
<line x1="381.32" y1="293.30" x2="678.85" y2="293.30" stroke="#ebebeb" stroke-width="1"/>
<line x1="381.32" y1="317.65" x2="678.85" y2="317.65" stroke="#ebebeb" stroke-width="1"/>
<line x1="381.32" y1="342.00" x2="678.85" y2="342.00" stroke="#ebebeb" stroke-width="1"/>
<line x1="424.10" y1="239.49" x2="424.10" y2="346.38" stroke="#ebebeb" stroke-width="1"/>
<line x1="472.44" y1="239.49" x2="472.44" y2="346.38" stroke="#ebebeb" stroke-width="1"/>
<line x1="520.78" y1="239.49" x2="520.78" y2="346.38" stroke="#ebebeb" stroke-width="1"/>
<line x1="569.12" y1="239.49" x2="569.12" y2="346.38" stroke="#ebebeb" stroke-width="1"/>
<line x1="617.46" y1="239.49" x2="617.46" y2="346.38" stroke="#ebebeb" stroke-width="1"/>
<line x1="665.80" y1="239.49" x2="665.80" y2="346.38" stroke="#ebebeb" stroke-width="1"/>
<line x1="32.37" y1="451.70" x2="330.27" y2="451.70" stroke="#ebebeb" stroke-width="1"/>
<line x1="32.37" y1="476.08" x2="330.27" y2="476.08" stroke="#ebebeb" stroke-width="1"/>
<line x1="32.37" y1="500.46" x2="330.27" y2="500.46" stroke="#ebebeb" stroke-width="1"/>
<line x1="32.37" y1="524.84" x2="330.27" y2="524.84" stroke="#ebebeb" stroke-width="1"/>
<line x1="32.37" y1="549.22" x2="330.27" y2="549.22" stroke="#ebebeb" stroke-width="1"/>
<line x1="75.20" y1="446.58" x2="75.20" y2="553.61" stroke="#ebebeb" stroke-width="1"/>
<line x1="123.60" y1="446.58" x2="123.60" y2="553.61" stroke="#ebebeb" stroke-width="1"/>
<line x1="172.00" y1="446.58" x2="172.00" y2="553.61" stroke="#ebebeb" stroke-width="1"/>
<line x1="220.40" y1="446.58" x2="220.40" y2="553.61" stroke="#ebebeb" stroke-width="1"/>
<line x1="268.80" y1="446.58" x2="268.80" y2="553.61" stroke="#ebebeb" stroke-width="1"/>
<line x1="317.20" y1="446.58" x2="317.20" y2="553.61" stroke="#ebebeb" stroke-width="1"/>
<line x1="380.77" y1="451.70" x2="678.67" y2="451.70" stroke="#ebebeb" stroke-width="1"/>
<line x1="380.77" y1="476.08" x2="678.67" y2="476.08" stroke="#ebebeb" stroke-width="1"/>
<line x1="380.77" y1="500.46" x2="678.67" y2="500.46" stroke="#ebebeb" stroke-width="1"/>
<line x1="380.77" y1="524.84" x2="678.67" y2="524.84" stroke="#ebebeb" stroke-width="1"/>
<line x1="380.77" y1="549.22" x2="678.67" y2="549.22" stroke="#ebebeb" stroke-width="1"/>
<line x1="423.60" y1="446.58" x2="423.60" y2="553.61" stroke="#ebebeb" stroke-width="1"/>
<line x1="472.00" y1="446.58" x2="472.00" y2="553.61" stroke="#ebebeb" stroke-width="1"/>
<line x1="520.40" y1="446.58" x2="520.40" y2="553.61" stroke="#ebebeb" stroke-width="1"/>
<line x1="568.80" y1="446.58" x2="568.80" y2="553.61" stroke="#ebebeb" stroke-width="1"/>
<line x1="617.20" y1="446.58" x2="617.20" y2="553.61" stroke="#ebebeb" stroke-width="1"/>
<line x1="665.60" y1="446.58" x2="665.60" y2="553.61" stroke="#ebebeb" stroke-width="1"/>
<g clip-path="url(#boxC)"><g filter="url(#rag)"><path d="M71.0,270.4 L74.0,268.0 L77.0,268.5 L79.0,272.0 L83.0,274.0 L88.0,275.8 L95.0,276.6 L100.0,277.0 L105.0,276.3 L110.0,277.2 L115.0,276.5 L120.5,276.2 L124.0,277.0 L127.0,276.5 L130.5,279.0 L131.5,282.5 L135.0,285.0 L140.3,287.8 L146.7,289.5 L152.6,289.5 L160.0,289.5 L165.0,289.8 L170.0,290.0 L175.0,289.5 L180.0,291.0 L185.0,291.5 L192.0,291.0 L195.0,289.0 L199.0,287.5 L201.0,286.0 L204.0,284.5 L207.0,283.3 L211.0,283.3 L213.0,285.0 L213.5,288.0 L215.0,289.8 L220.4,292.9 L225.0,294.5 L228.0,295.5 L231.0,299.0 L233.0,302.0 L236.5,305.0 L240.0,307.0 L245.0,309.0 L250.0,310.3 L258.0,309.7 L264.7,310.6 L274.2,311.1 L278.5,311.8 L279.8,313.5 L279.8,322.0 L279.8,331.0 L284.2,332.8 L284.2,336.8 L278.0,336.8 L277.5,333.5 L274.0,332.5 L270.0,333.0 L262.0,334.0 L255.0,333.0 L250.0,330.5 L240.0,329.0 L230.0,328.5 L222.6,327.5 L214.4,326.3 L205.0,325.1 L198.0,324.6 L191.0,322.2 L181.7,319.9 L172.3,316.6 L170.0,316.2 L160.0,314.0 L150.2,312.3 L142.0,311.1 L135.0,312.3 L130.4,312.9 L122.2,311.7 L115.2,311.0 L110.0,308.5 L105.5,306.0 L100.0,305.0 L95.0,305.0 L88.0,304.6 L85.0,303.4 L83.5,300.0 L83.5,296.0 L83.0,294.5 L80.0,292.0 L75.3,291.9 L72.0,291.5 L70.0,291.0 L66.0,290.5 L62.0,290.0 L57.0,288.5 L53.5,285.5 L53.0,283.0 L55.0,281.0 L58.0,281.0 L61.0,282.5 L63.5,283.5 L66.0,281.5 L68.5,280.0 L70.0,280.5 L70.5,278.0ZM42.5,240.5 L73.8,240.5 L73.2,244.5 L73.0,249.0 L72.3,254.0 L71.2,260.0 L71.4,263.6 L72.0,266.5 L73.5,267.5 L70.0,269.0 L67.0,268.5 L65.0,268.0 L63.5,270.0 L61.5,269.0 L62.0,265.0 L61.5,262.0 L59.5,259.5 L58.0,262.0 L56.0,264.2 L53.0,265.1 L50.0,264.0 L48.0,265.5 L46.3,266.0 L42.5,266.0ZM59.5,270.0 L63.5,270.5 L64.0,273.5 L60.0,274.0ZM222.0,292.0 L226.0,291.0 L230.0,290.5 L235.0,290.0 L238.0,289.5 L245.0,289.3 L252.0,289.5 L260.0,290.0 L266.0,290.5 L271.0,291.5 L270.0,294.0 L262.0,296.0 L252.0,297.0 L244.0,297.5 L238.0,298.5 L235.0,295.0 L230.0,294.5 L224.0,295.0 L222.0,294.0ZM281.4,320.8 L283.7,321.5 L288.4,322.0 L295.0,320.6 L297.9,319.6 L302.6,320.6 L307.4,323.4 L310.7,327.2 L306.4,330.1 L299.8,332.9 L298.8,336.7 L296.0,337.6 L295.0,333.9 L291.2,330.1 L286.5,327.2 L281.8,323.4ZM297.0,289.0 L302.0,288.0 L306.0,289.5 L310.0,292.0 L313.0,294.5 L316.2,296.0 L316.0,299.0 L312.0,299.0 L309.0,296.5 L305.0,295.0 L300.0,294.0 L297.0,292.0ZM303.0,333.4 L307.0,333.0 L308.8,336.0 L306.0,338.6 L303.0,337.5ZM312.2,335.1 L316.0,335.0 L317.4,337.0 L317.0,340.3 L313.0,339.0Z" fill="url(#pbC)"/><circle cx="192.8" cy="283.4" r="5.60" fill="url(#pbC)"/><circle cx="236.5" cy="263.7" r="2.80" fill="url(#pbC)"/><circle cx="283.6" cy="296.8" r="1.30" fill="url(#pbC)"/><circle cx="182.5" cy="264.3" r="1.20" fill="url(#pbC)"/><circle cx="178.2" cy="262.2" r="0.90" fill="url(#pbC)"/><circle cx="82.0" cy="263.8" r="1.30" fill="url(#pbC)"/><circle cx="96.0" cy="268.0" r="1.20" fill="url(#pbC)"/><circle cx="101.3" cy="269.4" r="1.00" fill="url(#pbC)"/><circle cx="111.8" cy="273.8" r="1.00" fill="url(#pbC)"/><circle cx="95.6" cy="267.8" r="1.00" fill="url(#pbC)"/><circle cx="61.5" cy="272.0" r="2.20" fill="url(#pbC)"/><circle cx="283.2" cy="245.9" r="1.40" fill="url(#pbC)"/><ellipse cx="89.2" cy="258.5" rx="1.60" ry="4.00" fill="url(#pbC)"/><g clip-path="url(#clipC)"><g filter="url(#disp)"><path d="M44.0,252.0 L50.0,250.5 L56.0,252.5 L59.5,256.0 L58.5,262.0 L54.0,268.0 L44.0,268.0Z" fill="url(#hW)"/><path d="M71.6,271.5 L75.2,270.0 L77.8,272.2 L79.6,275.1 L84.0,278.0 L88.4,280.2 L92.7,283.9 L94.2,289.0 L94.2,293.4 L90.5,294.1 L85.4,291.2 L81.8,291.9 L77.4,289.7 L73.8,286.1 L72.3,281.0 L70.8,276.6Z" fill="url(#hR2)"/><path d="M50.0,278.0 L71.0,278.0 L71.0,293.0 L50.0,293.0Z" fill="url(#hUK)"/><path d="M95.0,279.0 L112.0,279.0 L128.0,281.0 L136.0,290.0 L145.0,293.0 L140.0,293.0 L127.0,294.0 L115.0,296.0 L104.0,294.0 L96.0,297.0Z" fill="url(#hG)"/><path d="M99.0,300.0 L103.8,294.0 L109.6,293.2 L114.7,296.1 L122.0,296.9 L127.1,294.0 L133.0,293.2 L140.3,293.2 L144.0,296.0 L142.0,305.0 L141.0,310.0 L135.0,314.0 L125.0,314.0 L117.0,311.0 L100.0,306.0Z" fill="url(#hR)"/><path d="M148.0,291.0 L160.0,290.0 L172.0,290.5 L184.0,292.0 L187.0,300.0 L184.0,310.0 L176.0,315.0 L168.0,313.0 L162.0,306.0 L154.0,302.0 L148.0,299.0Z" fill="url(#hR2)"/><path d="M228.0,306.0 L238.0,308.0 L250.0,311.0 L262.0,310.0 L270.0,311.0 L280.0,316.0 L288.0,321.0 L288.0,327.0 L282.0,327.0 L276.0,334.0 L262.0,335.0 L248.0,331.0 L236.0,322.0 L228.0,320.0Z" fill="url(#hEJ)"/><path d="M284.0,318.0 L296.0,316.0 L306.0,318.0 L312.0,324.0 L310.0,332.0 L300.0,334.0 L290.0,332.0 L284.0,328.0Z" fill="url(#hW2)"/><path d="M274.0,327.0 L285.0,327.0 L285.0,338.0 L274.0,338.0Z" fill="url(#hB)"/><ellipse cx="205.0" cy="321.0" rx="8.50" ry="4.50" fill="url(#hW)"/><ellipse cx="200.0" cy="308.5" rx="3.00" ry="3.50" fill="url(#hG)"/><ellipse cx="214.0" cy="313.5" rx="4.00" ry="3.50" fill="url(#hW)"/><ellipse cx="231.5" cy="313.5" rx="4.50" ry="5.50" fill="url(#hW)"/><ellipse cx="243.0" cy="320.0" rx="5.00" ry="8.00" fill="url(#hR2)"/><ellipse cx="192.7" cy="282.7" rx="3.00" ry="3.00" fill="url(#hG)"/><ellipse cx="236.5" cy="263.7" rx="1.80" ry="1.80" fill="url(#hG)"/><ellipse cx="300.0" cy="290.5" rx="3.00" ry="2.50" fill="url(#hG)"/><ellipse cx="185.0" cy="306.0" rx="2.50" ry="3.00" fill="url(#hG)"/><ellipse cx="253.0" cy="328.8" rx="3.00" ry="2.00" fill="url(#hG)"/><ellipse cx="174.0" cy="300.0" rx="3.00" ry="2.50" fill="url(#hG)"/></g></g><path d="M210.0,296.0 L217.0,296.0 L217.0,300.0 L210.0,300.0Z" fill="#fff"/><path d="M200.0,295.0 L203.0,295.0 L203.0,297.2 L200.0,297.2Z" fill="#fff"/><path d="M233.0,292.5 L236.5,292.5 L236.5,295.0 L233.0,295.0Z" fill="#fff"/><path d="M228.0,292.0 L231.0,292.0 L231.0,293.5 L228.0,293.5Z" fill="#fff"/><path d="M186.0,289.0 L200.0,287.0 L206.0,282.0 L212.0,283.0 L216.0,288.0 L222.0,291.0 L236.0,294.0 L236.0,304.0 L228.0,301.0 L218.0,299.0 L208.0,296.0 L198.0,294.0 L186.0,293.0Z" fill="url(#perode)"/></g></g>
<g clip-path="url(#boxD)"><g filter="url(#rag)"><path d="M419.4,270.4 L422.4,268.0 L425.4,268.5 L427.4,272.0 L431.4,274.0 L436.4,275.8 L443.4,276.6 L448.4,277.0 L453.4,276.3 L458.4,277.2 L463.4,276.5 L468.9,276.2 L472.4,277.0 L475.4,276.5 L478.9,279.0 L479.9,282.5 L483.4,285.0 L488.7,287.8 L495.1,289.5 L501.0,289.5 L508.4,289.5 L513.4,289.8 L518.4,290.0 L523.4,289.5 L528.4,291.0 L533.4,291.5 L540.4,291.0 L543.4,289.0 L547.4,287.5 L549.4,286.0 L552.4,284.5 L555.4,283.3 L559.4,283.3 L561.4,285.0 L561.9,288.0 L563.4,289.8 L568.8,292.9 L573.4,294.5 L576.4,295.5 L579.4,299.0 L581.4,302.0 L584.9,305.0 L588.4,307.0 L593.4,309.0 L598.4,310.3 L606.4,309.7 L613.1,310.6 L622.6,311.1 L626.9,311.8 L628.2,313.5 L628.2,322.0 L628.2,331.0 L632.6,332.8 L632.6,336.8 L626.4,336.8 L625.9,333.5 L622.4,332.5 L618.4,333.0 L610.4,334.0 L603.4,333.0 L598.4,330.5 L588.4,329.0 L578.4,328.5 L571.0,327.5 L562.8,326.3 L553.4,325.1 L546.4,324.6 L539.4,322.2 L530.1,319.9 L520.7,316.6 L518.4,316.2 L508.4,314.0 L498.6,312.3 L490.4,311.1 L483.4,312.3 L478.8,312.9 L470.6,311.7 L463.6,311.0 L458.4,308.5 L453.9,306.0 L448.4,305.0 L443.4,305.0 L436.4,304.6 L433.4,303.4 L431.9,300.0 L431.9,296.0 L431.4,294.5 L428.4,292.0 L423.7,291.9 L420.4,291.5 L418.4,291.0 L414.4,290.5 L410.4,290.0 L405.4,288.5 L401.9,285.5 L401.4,283.0 L403.4,281.0 L406.4,281.0 L409.4,282.5 L411.9,283.5 L414.4,281.5 L416.9,280.0 L418.4,280.5 L418.9,278.0ZM390.9,240.5 L422.2,240.5 L421.6,244.5 L421.4,249.0 L420.7,254.0 L419.6,260.0 L419.8,263.6 L420.4,266.5 L421.9,267.5 L418.4,269.0 L415.4,268.5 L413.4,268.0 L411.9,270.0 L409.9,269.0 L410.4,265.0 L409.9,262.0 L407.9,259.5 L406.4,262.0 L404.4,264.2 L401.4,265.1 L398.4,264.0 L396.4,265.5 L394.7,266.0 L390.9,266.0ZM407.9,270.0 L411.9,270.5 L412.4,273.5 L408.4,274.0ZM570.4,292.0 L574.4,291.0 L578.4,290.5 L583.4,290.0 L586.4,289.5 L593.4,289.3 L600.4,289.5 L608.4,290.0 L614.4,290.5 L619.4,291.5 L618.4,294.0 L610.4,296.0 L600.4,297.0 L592.4,297.5 L586.4,298.5 L583.4,295.0 L578.4,294.5 L572.4,295.0 L570.4,294.0ZM629.8,320.8 L632.1,321.5 L636.8,322.0 L643.4,320.6 L646.3,319.6 L651.0,320.6 L655.8,323.4 L659.1,327.2 L654.8,330.1 L648.2,332.9 L647.2,336.7 L644.4,337.6 L643.4,333.9 L639.6,330.1 L634.9,327.2 L630.2,323.4ZM645.4,289.0 L650.4,288.0 L654.4,289.5 L658.4,292.0 L661.4,294.5 L664.6,296.0 L664.4,299.0 L660.4,299.0 L657.4,296.5 L653.4,295.0 L648.4,294.0 L645.4,292.0ZM651.4,333.4 L655.4,333.0 L657.2,336.0 L654.4,338.6 L651.4,337.5ZM660.6,335.1 L664.4,335.0 L665.8,337.0 L665.4,340.3 L661.4,339.0Z" fill="url(#pbD)"/><circle cx="541.2" cy="283.4" r="5.60" fill="url(#pbD)"/><circle cx="584.9" cy="263.7" r="2.80" fill="url(#pbD)"/><circle cx="632.0" cy="296.8" r="1.30" fill="url(#pbD)"/><circle cx="530.9" cy="264.3" r="1.20" fill="url(#pbD)"/><circle cx="526.6" cy="262.2" r="0.90" fill="url(#pbD)"/><circle cx="430.4" cy="263.8" r="1.30" fill="url(#pbD)"/><circle cx="444.4" cy="268.0" r="1.20" fill="url(#pbD)"/><circle cx="449.7" cy="269.4" r="1.00" fill="url(#pbD)"/><circle cx="460.2" cy="273.8" r="1.00" fill="url(#pbD)"/><circle cx="444.0" cy="267.8" r="1.00" fill="url(#pbD)"/><circle cx="409.9" cy="272.0" r="2.20" fill="url(#pbD)"/><circle cx="631.6" cy="245.9" r="1.40" fill="url(#pbD)"/><ellipse cx="437.6" cy="258.5" rx="1.60" ry="4.00" fill="url(#pbD)"/><g clip-path="url(#clipD)"><g filter="url(#disp)"><path d="M392.4,252.0 L398.4,250.5 L404.4,252.5 L407.9,256.0 L406.9,262.0 L402.4,268.0 L392.4,268.0Z" fill="url(#hYG)"/><path d="M420.0,271.5 L423.6,270.0 L426.2,272.2 L428.0,275.1 L432.4,278.0 L436.8,280.2 L441.1,283.9 L442.6,289.0 L442.6,293.4 L438.9,294.1 L433.8,291.2 L430.2,291.9 L425.8,289.7 L422.2,286.1 L420.7,281.0 L419.2,276.6Z" fill="url(#hR2)"/><path d="M398.4,278.0 L419.4,278.0 L419.4,293.0 L398.4,293.0Z" fill="url(#hUK)"/><path d="M443.4,279.0 L460.4,279.0 L476.4,281.0 L484.4,290.0 L493.4,293.0 L488.4,293.0 L475.4,294.0 L463.4,296.0 L452.4,294.0 L444.4,297.0Z" fill="url(#hG)"/><path d="M447.4,300.0 L452.2,294.0 L458.0,293.2 L463.1,296.1 L470.4,296.9 L475.5,294.0 L481.4,293.2 L488.7,293.2 L492.4,296.0 L490.4,305.0 L489.4,310.0 L483.4,314.0 L473.4,314.0 L465.4,311.0 L448.4,306.0Z" fill="url(#hR)"/><path d="M496.4,291.0 L508.4,290.0 L520.4,290.5 L532.4,292.0 L535.4,300.0 L532.4,310.0 L524.4,315.0 L516.4,313.0 L510.4,306.0 L502.4,302.0 L496.4,299.0Z" fill="url(#hR2)"/><path d="M576.4,306.0 L586.4,308.0 L598.4,311.0 L610.4,310.0 L618.4,311.0 L628.4,316.0 L636.4,321.0 L636.4,327.0 L630.4,327.0 L624.4,334.0 L610.4,335.0 L596.4,331.0 L584.4,322.0 L576.4,320.0Z" fill="url(#hEJ)"/><path d="M632.4,318.0 L644.4,316.0 L654.4,318.0 L660.4,324.0 L658.4,332.0 L648.4,334.0 L638.4,332.0 L632.4,328.0Z" fill="url(#hW2)"/><path d="M622.4,327.0 L633.4,327.0 L633.4,338.0 L622.4,338.0Z" fill="url(#hB)"/><ellipse cx="553.4" cy="321.0" rx="8.50" ry="4.50" fill="url(#hYG)"/><ellipse cx="548.4" cy="308.5" rx="3.00" ry="3.50" fill="url(#hG)"/><ellipse cx="562.4" cy="313.5" rx="4.00" ry="3.50" fill="url(#hYG)"/><ellipse cx="579.9" cy="313.5" rx="4.50" ry="5.50" fill="url(#hYG)"/><ellipse cx="591.4" cy="320.0" rx="5.00" ry="8.00" fill="url(#hR2)"/><ellipse cx="541.1" cy="282.7" rx="3.00" ry="3.00" fill="url(#hG)"/><ellipse cx="584.9" cy="263.7" rx="1.80" ry="1.80" fill="url(#hG)"/><ellipse cx="648.4" cy="290.5" rx="3.00" ry="2.50" fill="url(#hG)"/><ellipse cx="533.4" cy="306.0" rx="2.50" ry="3.00" fill="url(#hG)"/><ellipse cx="601.4" cy="328.8" rx="3.00" ry="2.00" fill="url(#hG)"/><ellipse cx="522.4" cy="300.0" rx="3.00" ry="2.50" fill="url(#hG)"/></g></g><path d="M558.4,296.0 L565.4,296.0 L565.4,300.0 L558.4,300.0Z" fill="#fff"/><path d="M548.4,295.0 L551.4,295.0 L551.4,297.2 L548.4,297.2Z" fill="#fff"/><path d="M581.4,292.5 L584.9,292.5 L584.9,295.0 L581.4,295.0Z" fill="#fff"/><path d="M576.4,292.0 L579.4,292.0 L579.4,293.5 L576.4,293.5Z" fill="#fff"/><path d="M534.4,289.0 L548.4,287.0 L554.4,282.0 L560.4,283.0 L564.4,288.0 L570.4,291.0 L584.4,294.0 L584.4,304.0 L576.4,301.0 L566.4,299.0 L556.4,296.0 L546.4,294.0 L534.4,293.0Z" fill="url(#perode)"/></g></g>
<g clip-path="url(#boxE)"><g filter="url(#rag)"><path d="M75.8,473.7 L76.5,475.6 L78.5,479.1 L82.5,481.1 L87.5,482.9 L94.5,483.7 L99.5,484.1 L104.5,483.4 L109.5,484.3 L114.5,483.6 L120.1,483.3 L123.6,484.1 L126.6,483.6 L130.1,486.1 L131.1,489.6 L134.6,492.1 L139.9,495.0 L146.3,496.7 L152.2,496.7 L159.6,496.7 L164.6,497.0 L169.6,497.2 L174.6,496.7 L179.6,498.2 L184.6,498.7 L191.6,498.2 L194.6,496.2 L198.7,494.7 L200.7,493.2 L203.7,491.6 L206.7,490.4 L210.7,490.4 L212.7,492.1 L213.2,495.2 L214.7,497.0 L220.1,500.1 L224.7,501.7 L227.7,502.7 L230.7,506.2 L232.7,509.2 L236.2,512.2 L239.7,514.2 L244.7,516.2 L249.7,517.5 L257.7,516.9 L264.4,517.8 L273.9,518.3 L278.3,519.0 L279.6,520.7 L279.6,529.2 L279.6,538.2 L284.0,540.0 L284.0,544.0 L277.8,544.0 L277.3,540.7 L273.7,539.7 L269.7,540.2 L261.7,541.2 L254.7,540.2 L249.7,537.7 L239.7,536.2 L229.7,535.7 L222.3,534.7 L214.1,533.5 L204.7,532.3 L197.7,531.8 L190.6,529.4 L181.3,527.1 L171.9,523.8 L169.6,523.4 L159.6,521.2 L149.8,519.5 L141.6,518.3 L134.6,519.5 L130.0,520.1 L121.8,518.9 L114.7,518.2 L109.5,515.7 L105.0,513.2 L99.5,512.2 L94.5,512.2 L87.5,511.8 L84.5,510.6 L83.0,507.2 L83.0,503.2 L82.5,501.7 L79.5,499.2 L74.8,499.1 L70.0,497.1 L64.0,496.6 L62.0,494.1 L65.0,491.0 L68.0,487.0 L71.0,482.0 L73.5,477.1ZM42.0,447.6 L72.3,447.6 L71.8,451.7 L71.4,457.9 L70.4,461.8 L70.9,468.2 L69.5,472.9 L65.4,471.8 L64.0,468.9 L61.8,465.2 L58.5,461.6 L56.7,462.3 L55.2,466.0 L54.5,470.3 L50.9,468.9 L45.9,466.7 L42.0,466.1ZM236.2,497.2 L239.7,496.7 L244.7,496.5 L251.7,496.7 L259.7,497.2 L265.7,497.7 L270.7,498.7 L269.7,501.2 L261.7,503.2 L251.7,504.2 L243.7,504.7 L237.7,505.7 L235.7,502.2ZM222.7,499.7 L226.7,498.7 L230.7,499.2 L229.7,501.7 L224.7,502.2ZM281.2,528.0 L283.5,528.7 L288.2,529.2 L294.8,527.8 L297.7,526.8 L302.4,527.8 L307.2,530.6 L310.5,534.4 L306.2,537.3 L299.6,540.1 L298.6,543.9 L295.8,544.8 L294.8,541.1 L291.0,537.3 L286.3,534.4 L281.6,530.6ZM296.8,496.2 L301.8,495.2 L305.8,496.7 L309.8,499.2 L312.8,501.7 L316.0,503.2 L315.8,506.2 L311.8,506.2 L308.8,503.7 L304.8,502.2 L299.8,501.2 L296.8,499.2ZM302.8,540.6 L306.8,540.2 L308.6,543.2 L305.8,545.8 L302.8,544.7ZM312.0,542.3 L315.8,542.2 L317.2,544.2 L316.8,547.5 L312.8,546.2Z" fill="url(#pbE)"/><circle cx="192.4" cy="490.5" r="5.61" fill="url(#pbE)"/><circle cx="236.2" cy="470.8" r="2.80" fill="url(#pbE)"/><circle cx="283.4" cy="504.0" r="1.30" fill="url(#pbE)"/><circle cx="182.1" cy="471.4" r="1.20" fill="url(#pbE)"/><circle cx="177.8" cy="469.3" r="0.90" fill="url(#pbE)"/><circle cx="100.8" cy="476.5" r="1.00" fill="url(#pbE)"/><circle cx="111.3" cy="480.9" r="1.00" fill="url(#pbE)"/><circle cx="283.0" cy="453.0" r="1.40" fill="url(#pbE)"/><ellipse cx="109.5" cy="498.2" rx="6.01" ry="3.00" fill="url(#plE)" clip-path="url(#clipE)"/><ellipse cx="199.7" cy="507.2" rx="5.01" ry="3.00" fill="url(#plE)" clip-path="url(#clipE)"/><ellipse cx="169.6" cy="507.2" rx="4.00" ry="3.00" fill="url(#plE)" clip-path="url(#clipE)"/><ellipse cx="84.0" cy="493.2" rx="2.50" ry="1.50" fill="url(#pdE)" clip-path="url(#clipE)"/><ellipse cx="96.0" cy="494.2" rx="2.50" ry="1.50" fill="url(#pdE)" clip-path="url(#clipE)"/><ellipse cx="105.5" cy="502.7" rx="3.00" ry="2.00" fill="url(#pdE)" clip-path="url(#clipE)"/><ellipse cx="109.5" cy="507.7" rx="3.00" ry="2.00" fill="url(#pdE)" clip-path="url(#clipE)"/><ellipse cx="271.5" cy="528.4" rx="3.50" ry="2.20" fill="url(#pdE)" clip-path="url(#clipE)"/><ellipse cx="265.8" cy="535.6" rx="2.50" ry="2.00" fill="url(#pdE)" clip-path="url(#clipE)"/><ellipse cx="257.7" cy="525.9" rx="2.00" ry="1.60" fill="url(#pdE)" clip-path="url(#clipE)"/><ellipse cx="274.7" cy="523.2" rx="2.00" ry="1.60" fill="url(#pdE)" clip-path="url(#clipE)"/><ellipse cx="261.7" cy="532.2" rx="3.00" ry="2.00" fill="url(#pdE)" clip-path="url(#clipE)"/><ellipse cx="249.7" cy="525.2" rx="4.00" ry="3.00" fill="url(#pdE)" clip-path="url(#clipE)"/><ellipse cx="239.7" cy="529.2" rx="3.00" ry="2.50" fill="url(#pdE)" clip-path="url(#clipE)"/><ellipse cx="99.5" cy="497.2" rx="4.00" ry="3.00" fill="url(#pdE)" clip-path="url(#clipE)"/><ellipse cx="119.6" cy="494.2" rx="3.00" ry="2.50" fill="url(#pdE)" clip-path="url(#clipE)"/><ellipse cx="74.5" cy="487.1" rx="3.00" ry="4.00" fill="url(#pdE)" clip-path="url(#clipE)"/><ellipse cx="107.5" cy="503.2" rx="3.00" ry="2.00" fill="url(#pdE)" clip-path="url(#clipE)"/><ellipse cx="151.6" cy="505.2" rx="3.00" ry="2.00" fill="url(#pdE)" clip-path="url(#clipE)"/><path d="M209.7,503.2 L216.7,503.2 L216.7,507.2 L209.7,507.2Z" fill="#fff"/><path d="M199.7,502.2 L202.7,502.2 L202.7,504.4 L199.7,504.4Z" fill="#fff"/><path d="M232.7,499.7 L236.2,499.7 L236.2,502.2 L232.7,502.2Z" fill="#fff"/><path d="M227.7,499.2 L230.7,499.2 L230.7,500.7 L227.7,500.7Z" fill="#fff"/><g clip-path="url(#clipE)"><path d="M231.7,513.2 L249.7,516.2 L269.7,516.2 L279.8,519.2 L280.8,543.2 L261.7,542.2 L239.7,537.2 L227.7,527.2Z" fill="url(#peoE)"/><path d="M281.8,527.2 L299.8,525.2 L310.8,533.2 L299.8,541.2 L285.8,535.2Z" fill="url(#peoE)"/><path d="M43.5,449.1 L73.5,449.1 L73.5,475.1 L43.5,475.1Z" fill="url(#peoE)"/><path d="M181.6,491.1 L235.7,491.1 L239.7,517.2 L235.7,537.2 L181.6,529.2Z" fill="url(#peoE)"/></g><circle cx="56.5" cy="489.1" r="1.00" fill="#c03040"/><circle cx="58.5" cy="491.1" r="1.20" fill="#c03040"/><circle cx="61.5" cy="492.7" r="1.00" fill="#c03040"/><circle cx="65.5" cy="490.1" r="0.80" fill="#c03040"/><ellipse cx="280.8" cy="542.0" rx="3.00" ry="1.80" fill="#e86030"/><ellipse cx="70.0" cy="453.3" rx="2.20" ry="1.80" fill="#e87030"/><ellipse cx="287.8" cy="532.0" rx="3.00" ry="1.10" fill="#a02850" opacity="0.8"/><ellipse cx="271.7" cy="528.4" rx="2.20" ry="1.10" fill="#c04848"/><ellipse cx="265.7" cy="535.6" rx="1.60" ry="1.20" fill="#b83a50"/></g></g>
<g clip-path="url(#boxF)"><g filter="url(#rag)"><path d="M424.2,473.7 L424.9,475.6 L426.9,479.1 L430.9,481.1 L435.9,482.9 L442.9,483.7 L447.9,484.1 L452.9,483.4 L457.9,484.3 L462.9,483.6 L468.5,483.3 L472.0,484.1 L475.0,483.6 L478.5,486.1 L479.5,489.6 L483.0,492.1 L488.3,495.0 L494.7,496.7 L500.6,496.7 L508.0,496.7 L513.0,497.0 L518.0,497.2 L523.0,496.7 L528.0,498.2 L533.0,498.7 L540.0,498.2 L543.0,496.2 L547.1,494.7 L549.1,493.2 L552.1,491.6 L555.1,490.4 L559.1,490.4 L561.1,492.1 L561.6,495.2 L563.1,497.0 L568.5,500.1 L573.1,501.7 L576.1,502.7 L579.1,506.2 L581.1,509.2 L584.6,512.2 L588.1,514.2 L593.1,516.2 L598.1,517.5 L606.1,516.9 L612.8,517.8 L622.3,518.3 L626.7,519.0 L628.0,520.7 L628.0,529.2 L628.0,538.2 L632.4,540.0 L632.4,544.0 L626.2,544.0 L625.7,540.7 L622.1,539.7 L618.1,540.2 L610.1,541.2 L603.1,540.2 L598.1,537.7 L588.1,536.2 L578.1,535.7 L570.7,534.7 L562.5,533.5 L553.1,532.3 L546.1,531.8 L539.0,529.4 L529.7,527.1 L520.3,523.8 L518.0,523.4 L508.0,521.2 L498.2,519.5 L490.0,518.3 L483.0,519.5 L478.4,520.1 L470.2,518.9 L463.1,518.2 L457.9,515.7 L453.4,513.2 L447.9,512.2 L442.9,512.2 L435.9,511.8 L432.9,510.6 L431.4,507.2 L431.4,503.2 L430.9,501.7 L427.9,499.2 L423.2,499.1 L418.4,497.1 L412.4,496.6 L410.4,494.1 L413.4,491.0 L416.4,487.0 L419.4,482.0 L421.9,477.1ZM390.4,447.6 L420.7,447.6 L420.2,451.7 L419.8,457.9 L418.8,461.8 L419.3,468.2 L417.9,472.9 L413.8,471.8 L412.4,468.9 L410.2,465.2 L406.9,461.6 L405.1,462.3 L403.6,466.0 L402.9,470.3 L399.3,468.9 L394.3,466.7 L390.4,466.1ZM584.6,497.2 L588.1,496.7 L593.1,496.5 L600.1,496.7 L608.1,497.2 L614.1,497.7 L619.1,498.7 L618.1,501.2 L610.1,503.2 L600.1,504.2 L592.1,504.7 L586.1,505.7 L584.1,502.2ZM571.1,499.7 L575.1,498.7 L579.1,499.2 L578.1,501.7 L573.1,502.2ZM629.6,528.0 L631.9,528.7 L636.6,529.2 L643.2,527.8 L646.1,526.8 L650.8,527.8 L655.6,530.6 L658.9,534.4 L654.6,537.3 L648.0,540.1 L647.0,543.9 L644.2,544.8 L643.2,541.1 L639.4,537.3 L634.7,534.4 L630.0,530.6ZM645.2,496.2 L650.2,495.2 L654.2,496.7 L658.2,499.2 L661.2,501.7 L664.4,503.2 L664.2,506.2 L660.2,506.2 L657.2,503.7 L653.2,502.2 L648.2,501.2 L645.2,499.2ZM651.2,540.6 L655.2,540.2 L657.0,543.2 L654.2,545.8 L651.2,544.7ZM660.4,542.3 L664.2,542.2 L665.6,544.2 L665.2,547.5 L661.2,546.2Z" fill="url(#pbE)"/><circle cx="540.8" cy="490.5" r="5.61" fill="url(#pbE)"/><circle cx="584.6" cy="470.8" r="2.80" fill="url(#pbE)"/><circle cx="631.8" cy="504.0" r="1.30" fill="url(#pbE)"/><circle cx="530.5" cy="471.4" r="1.20" fill="url(#pbE)"/><circle cx="526.2" cy="469.3" r="0.90" fill="url(#pbE)"/><circle cx="449.2" cy="476.5" r="1.00" fill="url(#pbE)"/><circle cx="459.7" cy="480.9" r="1.00" fill="url(#pbE)"/><circle cx="631.4" cy="453.0" r="1.40" fill="url(#pbE)"/><ellipse cx="457.9" cy="498.2" rx="6.01" ry="3.00" fill="url(#plE)" clip-path="url(#clipF)"/><ellipse cx="548.1" cy="507.2" rx="5.01" ry="3.00" fill="url(#plE)" clip-path="url(#clipF)"/><ellipse cx="518.0" cy="507.2" rx="4.00" ry="3.00" fill="url(#plE)" clip-path="url(#clipF)"/><ellipse cx="432.4" cy="493.2" rx="2.50" ry="1.50" fill="url(#pdE)" clip-path="url(#clipF)"/><ellipse cx="444.4" cy="494.2" rx="2.50" ry="1.50" fill="url(#pdE)" clip-path="url(#clipF)"/><ellipse cx="453.9" cy="502.7" rx="3.00" ry="2.00" fill="url(#pdE)" clip-path="url(#clipF)"/><ellipse cx="457.9" cy="507.7" rx="3.00" ry="2.00" fill="url(#pdE)" clip-path="url(#clipF)"/><ellipse cx="619.9" cy="528.4" rx="3.50" ry="2.20" fill="url(#pdE)" clip-path="url(#clipF)"/><ellipse cx="614.2" cy="535.6" rx="2.50" ry="2.00" fill="url(#pdE)" clip-path="url(#clipF)"/><ellipse cx="606.1" cy="525.9" rx="2.00" ry="1.60" fill="url(#pdE)" clip-path="url(#clipF)"/><ellipse cx="623.1" cy="523.2" rx="2.00" ry="1.60" fill="url(#pdE)" clip-path="url(#clipF)"/><ellipse cx="610.1" cy="532.2" rx="3.00" ry="2.00" fill="url(#pdE)" clip-path="url(#clipF)"/><ellipse cx="598.1" cy="525.2" rx="4.00" ry="3.00" fill="url(#pdE)" clip-path="url(#clipF)"/><ellipse cx="588.1" cy="529.2" rx="3.00" ry="2.50" fill="url(#pdE)" clip-path="url(#clipF)"/><ellipse cx="447.9" cy="497.2" rx="4.00" ry="3.00" fill="url(#pdE)" clip-path="url(#clipF)"/><ellipse cx="468.0" cy="494.2" rx="3.00" ry="2.50" fill="url(#pdE)" clip-path="url(#clipF)"/><ellipse cx="422.9" cy="487.1" rx="3.00" ry="4.00" fill="url(#pdE)" clip-path="url(#clipF)"/><ellipse cx="455.9" cy="503.2" rx="3.00" ry="2.00" fill="url(#pdE)" clip-path="url(#clipF)"/><ellipse cx="500.0" cy="505.2" rx="3.00" ry="2.00" fill="url(#pdE)" clip-path="url(#clipF)"/><path d="M558.1,503.2 L565.1,503.2 L565.1,507.2 L558.1,507.2Z" fill="#fff"/><path d="M548.1,502.2 L551.1,502.2 L551.1,504.4 L548.1,504.4Z" fill="#fff"/><path d="M581.1,499.7 L584.6,499.7 L584.6,502.2 L581.1,502.2Z" fill="#fff"/><path d="M576.1,499.2 L579.1,499.2 L579.1,500.7 L576.1,500.7Z" fill="#fff"/><g clip-path="url(#clipF)"><path d="M580.1,513.2 L598.1,516.2 L618.1,516.2 L628.2,519.2 L629.2,543.2 L610.1,542.2 L588.1,537.2 L576.1,527.2Z" fill="url(#peoE)"/><path d="M630.2,527.2 L648.2,525.2 L659.2,533.2 L648.2,541.2 L634.2,535.2Z" fill="url(#peoE)"/><path d="M391.9,449.1 L421.9,449.1 L421.9,475.1 L391.9,475.1Z" fill="url(#peoE)"/><path d="M530.0,491.1 L584.1,491.1 L588.1,517.2 L584.1,537.2 L530.0,529.2Z" fill="url(#peoE)"/></g><circle cx="404.9" cy="489.1" r="1.00" fill="#c03040"/><circle cx="406.9" cy="491.1" r="1.20" fill="#c03040"/><circle cx="409.9" cy="492.7" r="1.00" fill="#c03040"/><circle cx="413.9" cy="490.1" r="0.80" fill="#c03040"/><ellipse cx="629.2" cy="542.0" rx="3.00" ry="1.80" fill="#e86030"/><ellipse cx="418.4" cy="453.3" rx="2.20" ry="1.80" fill="#e87030"/><ellipse cx="636.2" cy="532.0" rx="3.00" ry="1.10" fill="#a02850" opacity="0.8"/><ellipse cx="620.1" cy="528.4" rx="2.20" ry="1.10" fill="#c04848"/><ellipse cx="614.1" cy="535.6" rx="1.60" ry="1.20" fill="#b83a50"/></g></g>
<g clip-path="url(#boxA)"><g filter="url(#soft)"><path d="M68.2,63.7 L71.3,61.3 L74.3,61.8 L76.4,65.4 L80.5,67.4 L85.6,69.3 L92.8,70.1 L97.9,70.5 L103.0,69.8 L108.2,70.7 L113.3,70.0 L118.9,69.7 L122.5,70.5 L125.6,70.0 L129.2,72.5 L130.2,76.1 L133.8,78.7 L139.2,81.6 L145.8,83.3 L151.8,83.3 L159.4,83.3 L164.5,83.6 L169.6,83.8 L174.8,83.3 L179.9,84.8 L185.0,85.4 L192.2,84.8 L195.3,82.8 L199.4,81.3 L201.4,79.7 L204.5,78.2 L207.6,77.0 L211.7,77.0 L213.7,78.7 L214.2,81.8 L215.8,83.6 L221.3,86.8 L226.0,88.4 L229.1,89.5 L232.2,93.0 L234.2,96.1 L237.8,99.2 L241.4,101.2 L246.5,103.3 L251.6,104.6 L259.8,104.0 L266.7,104.9 L276.4,105.4 L280.8,106.2 L282.2,107.9 L282.2,116.6 L282.2,125.8 L286.7,127.7 L286.7,131.8 L280.3,131.8 L279.8,128.4 L276.2,127.4 L272.1,127.9 L263.9,128.9 L256.8,127.9 L251.6,125.3 L241.4,123.8 L231.1,123.3 L223.5,122.2 L215.1,121.0 L205.5,119.8 L198.3,119.3 L191.2,116.8 L181.6,114.5 L172.0,111.1 L169.6,110.7 L159.4,108.4 L149.3,106.7 L140.9,105.4 L133.8,106.7 L129.1,107.3 L120.7,106.1 L113.5,105.3 L108.2,102.8 L103.5,100.2 L97.9,99.2 L92.8,99.2 L85.6,98.8 L82.5,97.5 L81.0,94.1 L81.0,90.0 L80.5,88.4 L77.4,85.9 L72.6,85.8 L69.2,85.4 L67.2,84.8 L63.1,84.3 L59.0,83.8 L53.8,82.3 L50.2,79.2 L49.7,76.6 L51.8,74.6 L54.9,74.6 L57.9,76.1 L60.5,77.2 L63.1,75.1 L65.6,73.6 L67.2,74.1 L67.7,71.5ZM39.0,33.1 L71.1,33.1 L70.4,37.2 L70.2,41.8 L69.5,46.9 L68.4,53.1 L68.6,56.8 L69.2,59.7 L70.7,60.8 L67.2,62.3 L64.1,61.8 L62.0,61.3 L60.5,63.3 L58.4,62.3 L59.0,58.2 L58.4,55.1 L56.4,52.6 L54.9,55.1 L52.8,57.4 L49.7,58.3 L46.7,57.2 L44.6,58.7 L42.9,59.2 L39.0,59.2ZM56.4,63.3 L60.5,63.8 L61.0,66.9 L56.9,67.4ZM222.9,85.9 L227.0,84.8 L231.1,84.3 L236.3,83.8 L239.3,83.3 L246.5,83.1 L253.7,83.3 L261.9,83.8 L268.0,84.3 L273.1,85.4 L272.1,87.9 L263.9,90.0 L253.7,91.0 L245.5,91.5 L239.3,92.5 L236.3,88.9 L231.1,88.4 L225.0,88.9 L222.9,87.9ZM283.8,115.4 L286.2,116.1 L291.0,116.6 L297.7,115.2 L300.7,114.1 L305.5,115.2 L310.5,118.0 L313.8,121.9 L309.4,124.9 L302.7,127.8 L301.6,131.7 L298.8,132.6 L297.7,128.8 L293.8,124.9 L289.0,121.9 L284.2,118.0ZM299.8,82.8 L304.9,81.8 L309.0,83.3 L313.1,85.9 L316.2,88.4 L319.5,90.0 L319.3,93.0 L315.2,93.0 L312.1,90.5 L308.0,88.9 L302.9,87.9 L299.8,85.9ZM305.9,128.3 L310.0,127.9 L311.9,131.0 L309.0,133.6 L305.9,132.5ZM315.4,130.0 L319.3,129.9 L320.7,132.0 L320.3,135.4 L316.2,134.0Z" fill="url(#pgA)"/><circle cx="193.0" cy="77.1" r="5.74" fill="url(#pgA)"/><circle cx="237.8" cy="56.9" r="2.87" fill="url(#pgA)"/><circle cx="286.1" cy="90.8" r="1.33" fill="url(#pgA)"/><circle cx="182.5" cy="57.5" r="1.23" fill="url(#pgA)"/><circle cx="178.0" cy="55.3" r="0.92" fill="url(#pgA)"/><circle cx="79.5" cy="57.0" r="1.33" fill="url(#pgA)"/><circle cx="93.8" cy="61.3" r="1.23" fill="url(#pgA)"/><circle cx="99.2" cy="62.7" r="1.02" fill="url(#pgA)"/><circle cx="110.0" cy="67.2" r="1.02" fill="url(#pgA)"/><circle cx="93.4" cy="61.1" r="1.02" fill="url(#pgA)"/><circle cx="58.4" cy="65.4" r="2.25" fill="url(#pgA)"/><circle cx="285.7" cy="38.6" r="1.43" fill="url(#pgA)"/><ellipse cx="86.8" cy="51.5" rx="1.64" ry="4.10" fill="url(#pgA)"/><path d="M88.0,70.0 L100.0,72.0 L115.0,74.0 L130.0,78.0 L140.0,84.0 L130.0,88.0 L110.0,88.0 L95.0,88.0 L88.0,80.0Z" fill="url(#pggA)"/><ellipse cx="193.5" cy="76.0" rx="3.60" ry="3.60" fill="url(#pggA)"/><ellipse cx="238.0" cy="57.0" rx="2.00" ry="1.50" fill="url(#pggA)"/><path d="M43.0,45.0 L50.0,44.0 L54.0,48.0 L54.0,56.0 L47.0,58.0 L43.0,57.0Z" fill="url(#ppA)"/><path d="M53.0,80.0 L58.0,77.0 L63.0,76.0 L66.0,74.0 L69.0,76.0 L68.0,82.0 L60.0,83.0 L54.0,83.0Z" fill="url(#ppA)"/><ellipse cx="232.5" cy="108.5" rx="4.80" ry="5.50" fill="url(#ppA)"/><ellipse cx="214.5" cy="107.5" rx="4.00" ry="3.60" fill="url(#ppA)"/><ellipse cx="200.0" cy="102.0" rx="4.00" ry="3.00" fill="url(#ppA)"/><ellipse cx="207.0" cy="115.3" rx="5.00" ry="3.00" fill="url(#ppA)"/><ellipse cx="282.0" cy="127.5" rx="4.00" ry="3.00" fill="url(#ppA)"/><g filter="url(#disp2)"><path d="M69.5,64.5 L73.0,63.8 L76.0,66.0 L78.5,70.0 L83.0,73.0 L88.0,75.0 L92.0,78.0 L91.5,82.0 L89.0,85.0 L86.0,87.8 L80.0,87.5 L74.0,86.0 L70.5,82.0 L69.5,76.0 L69.0,70.0Z" fill="url(#poA)"/><path d="M97.0,93.0 L101.0,89.0 L106.0,87.6 L112.0,88.5 L116.0,90.0 L117.0,95.0 L113.0,98.0 L106.0,97.0 L100.0,96.5Z" fill="url(#poA)"/><path d="M116.0,93.0 L120.0,94.5 L124.0,91.0 L127.0,88.0 L133.0,86.5 L140.0,87.5 L144.0,90.0 L143.0,94.0 L139.0,95.0 L140.0,101.0 L138.0,106.0 L130.0,106.4 L122.0,104.5 L117.0,101.0Z" fill="url(#poA)"/><path d="M140.0,90.0 L144.0,88.8 L146.5,90.5 L145.0,93.6 L141.0,93.5Z" fill="url(#poA)"/><path d="M148.5,93.0 L152.0,90.7 L157.0,91.0 L159.5,94.0 L158.0,99.0 L154.0,102.3 L150.0,100.0 L148.5,96.0Z" fill="url(#poA)"/><path d="M160.4,90.0 L164.0,86.5 L170.0,85.5 L176.0,86.5 L181.0,88.5 L183.8,92.0 L181.0,96.0 L177.0,99.0 L176.5,104.0 L174.0,108.0 L170.0,106.0 L169.5,101.0 L165.0,99.0 L161.0,95.0Z" fill="url(#poA)"/><path d="M240.0,107.0 L246.0,106.0 L251.0,110.0 L250.0,117.0 L248.0,122.0 L243.0,121.0 L239.0,115.0Z" fill="url(#po2A)"/><path d="M251.0,109.0 L256.0,106.0 L262.0,106.0 L263.6,110.0 L261.0,115.0 L254.0,116.0Z" fill="url(#po2A)"/><path d="M269.0,110.0 L275.0,107.5 L281.0,107.0 L280.0,112.0 L276.0,117.0 L270.0,118.0Z" fill="url(#po2A)"/><path d="M283.0,116.0 L290.0,116.0 L298.0,114.5 L305.0,115.0 L310.0,119.0 L312.6,123.0 L306.0,124.5 L298.0,122.0 L290.0,121.0 L284.0,119.0Z" fill="url(#po2A)"/><ellipse cx="268.0" cy="122.0" rx="5.50" ry="3.50" fill="url(#po2A)"/><ellipse cx="104.0" cy="94.0" rx="2.00" ry="1.20" fill="#fff"/><ellipse cx="133.0" cy="97.0" rx="2.00" ry="2.00" fill="#fff"/><ellipse cx="172.0" cy="93.0" rx="2.50" ry="2.00" fill="#fff"/></g></g></g>
<g clip-path="url(#boxB)"><g filter="url(#soft)"><path d="M417.0,63.7 L420.1,61.3 L423.1,61.8 L425.2,65.4 L429.3,67.4 L434.4,69.3 L441.6,70.1 L446.7,70.5 L451.8,69.8 L457.0,70.7 L462.1,70.0 L467.7,69.7 L471.3,70.5 L474.4,70.0 L478.0,72.5 L479.0,76.1 L482.6,78.7 L488.0,81.6 L494.6,83.3 L500.6,83.3 L508.2,83.3 L513.3,83.6 L518.4,83.8 L523.6,83.3 L528.7,84.8 L533.8,85.4 L541.0,84.8 L544.1,82.8 L548.2,81.3 L550.2,79.7 L553.3,78.2 L556.4,77.0 L560.5,77.0 L562.5,78.7 L563.0,81.8 L564.6,83.6 L570.1,86.8 L574.8,88.4 L577.9,89.5 L581.0,93.0 L583.0,96.1 L586.6,99.2 L590.2,101.2 L595.3,103.3 L600.4,104.6 L608.6,104.0 L615.5,104.9 L625.2,105.4 L629.6,106.2 L631.0,107.9 L631.0,116.6 L631.0,125.8 L635.5,127.7 L635.5,131.8 L629.1,131.8 L628.6,128.4 L625.0,127.4 L620.9,127.9 L612.7,128.9 L605.6,127.9 L600.4,125.3 L590.2,123.8 L579.9,123.3 L572.3,122.2 L563.9,121.0 L554.3,119.8 L547.1,119.3 L540.0,116.8 L530.4,114.5 L520.8,111.1 L518.4,110.7 L508.2,108.4 L498.1,106.7 L489.7,105.4 L482.6,106.7 L477.9,107.3 L469.5,106.1 L462.3,105.3 L457.0,102.8 L452.3,100.2 L446.7,99.2 L441.6,99.2 L434.4,98.8 L431.3,97.5 L429.8,94.1 L429.8,90.0 L429.3,88.4 L426.2,85.9 L421.4,85.8 L418.0,85.4 L416.0,84.8 L411.9,84.3 L407.8,83.8 L402.6,82.3 L399.0,79.2 L398.5,76.6 L400.6,74.6 L403.7,74.6 L406.7,76.1 L409.3,77.2 L411.9,75.1 L414.4,73.6 L416.0,74.1 L416.5,71.5ZM387.8,33.1 L419.9,33.1 L419.2,37.2 L419.0,41.8 L418.3,46.9 L417.2,53.1 L417.4,56.8 L418.0,59.7 L419.5,60.8 L416.0,62.3 L412.9,61.8 L410.8,61.3 L409.3,63.3 L407.2,62.3 L407.8,58.2 L407.2,55.1 L405.2,52.6 L403.7,55.1 L401.6,57.4 L398.5,58.3 L395.5,57.2 L393.4,58.7 L391.7,59.2 L387.8,59.2ZM405.2,63.3 L409.3,63.8 L409.8,66.9 L405.7,67.4ZM571.7,85.9 L575.8,84.8 L579.9,84.3 L585.1,83.8 L588.1,83.3 L595.3,83.1 L602.5,83.3 L610.7,83.8 L616.8,84.3 L621.9,85.4 L620.9,87.9 L612.7,90.0 L602.5,91.0 L594.3,91.5 L588.1,92.5 L585.1,88.9 L579.9,88.4 L573.8,88.9 L571.7,87.9ZM632.6,115.4 L635.0,116.1 L639.8,116.6 L646.5,115.2 L649.5,114.1 L654.3,115.2 L659.3,118.0 L662.6,121.9 L658.2,124.9 L651.5,127.8 L650.4,131.7 L647.6,132.6 L646.5,128.8 L642.6,124.9 L637.8,121.9 L633.0,118.0ZM648.6,82.8 L653.7,81.8 L657.8,83.3 L661.9,85.9 L665.0,88.4 L668.3,90.0 L668.1,93.0 L664.0,93.0 L660.9,90.5 L656.8,88.9 L651.7,87.9 L648.6,85.9ZM654.7,128.3 L658.8,127.9 L660.7,131.0 L657.8,133.6 L654.7,132.5ZM664.2,130.0 L668.1,129.9 L669.5,132.0 L669.1,135.4 L665.0,134.0Z" fill="url(#pgA)"/><circle cx="541.8" cy="77.1" r="5.74" fill="url(#pgA)"/><circle cx="586.6" cy="56.9" r="2.87" fill="url(#pgA)"/><circle cx="634.9" cy="90.8" r="1.33" fill="url(#pgA)"/><circle cx="531.3" cy="57.5" r="1.23" fill="url(#pgA)"/><circle cx="526.8" cy="55.3" r="0.92" fill="url(#pgA)"/><circle cx="428.3" cy="57.0" r="1.33" fill="url(#pgA)"/><circle cx="442.6" cy="61.3" r="1.23" fill="url(#pgA)"/><circle cx="448.0" cy="62.7" r="1.02" fill="url(#pgA)"/><circle cx="458.8" cy="67.2" r="1.02" fill="url(#pgA)"/><circle cx="442.2" cy="61.1" r="1.02" fill="url(#pgA)"/><circle cx="407.2" cy="65.4" r="2.25" fill="url(#pgA)"/><circle cx="634.5" cy="38.6" r="1.43" fill="url(#pgA)"/><ellipse cx="435.6" cy="51.5" rx="1.64" ry="4.10" fill="url(#pgA)"/><path d="M436.8,70.0 L448.8,72.0 L463.8,74.0 L478.8,78.0 L488.8,84.0 L478.8,88.0 L458.8,88.0 L443.8,88.0 L436.8,80.0Z" fill="url(#pggA)"/><ellipse cx="542.3" cy="76.0" rx="3.60" ry="3.60" fill="url(#pggA)"/><ellipse cx="586.8" cy="57.0" rx="2.00" ry="1.50" fill="url(#pggA)"/><path d="M391.8,45.0 L398.8,44.0 L402.8,48.0 L402.8,56.0 L395.8,58.0 L391.8,57.0Z" fill="url(#ppB)"/><path d="M401.8,80.0 L406.8,77.0 L411.8,76.0 L414.8,74.0 L417.8,76.0 L416.8,82.0 L408.8,83.0 L402.8,83.0Z" fill="url(#ppB)"/><ellipse cx="581.3" cy="108.5" rx="4.80" ry="5.50" fill="url(#ppB)"/><ellipse cx="563.3" cy="107.5" rx="4.00" ry="3.60" fill="url(#ppB)"/><ellipse cx="548.8" cy="102.0" rx="4.00" ry="3.00" fill="url(#ppB)"/><ellipse cx="555.8" cy="115.3" rx="5.00" ry="3.00" fill="url(#ppB)"/><ellipse cx="630.8" cy="127.5" rx="4.00" ry="3.00" fill="url(#ppB)"/><g filter="url(#disp2)"><path d="M418.3,64.5 L421.8,63.8 L424.8,66.0 L427.3,70.0 L431.8,73.0 L436.8,75.0 L440.8,78.0 L440.3,82.0 L437.8,85.0 L434.8,87.8 L428.8,87.5 L422.8,86.0 L419.3,82.0 L418.3,76.0 L417.8,70.0Z" fill="url(#poB)"/><path d="M445.8,93.0 L449.8,89.0 L454.8,87.6 L460.8,88.5 L464.8,90.0 L465.8,95.0 L461.8,98.0 L454.8,97.0 L448.8,96.5Z" fill="url(#poB)"/><path d="M464.8,93.0 L468.8,94.5 L472.8,91.0 L475.8,88.0 L481.8,86.5 L488.8,87.5 L492.8,90.0 L491.8,94.0 L487.8,95.0 L488.8,101.0 L486.8,106.0 L478.8,106.4 L470.8,104.5 L465.8,101.0Z" fill="url(#poB)"/><path d="M488.8,90.0 L492.8,88.8 L495.3,90.5 L493.8,93.6 L489.8,93.5Z" fill="url(#poB)"/><path d="M497.3,93.0 L500.8,90.7 L505.8,91.0 L508.3,94.0 L506.8,99.0 L502.8,102.3 L498.8,100.0 L497.3,96.0Z" fill="url(#poB)"/><path d="M509.2,90.0 L512.8,86.5 L518.8,85.5 L524.8,86.5 L529.8,88.5 L532.6,92.0 L529.8,96.0 L525.8,99.0 L525.3,104.0 L522.8,108.0 L518.8,106.0 L518.3,101.0 L513.8,99.0 L509.8,95.0Z" fill="url(#poB)"/><path d="M588.8,107.0 L594.8,106.0 L599.8,110.0 L598.8,117.0 L596.8,122.0 L591.8,121.0 L587.8,115.0Z" fill="url(#po2B)"/><path d="M599.8,109.0 L604.8,106.0 L610.8,106.0 L612.4,110.0 L609.8,115.0 L602.8,116.0Z" fill="url(#po2B)"/><path d="M617.8,110.0 L623.8,107.5 L629.8,107.0 L628.8,112.0 L624.8,117.0 L618.8,118.0Z" fill="url(#po2B)"/><path d="M631.8,116.0 L638.8,116.0 L646.8,114.5 L653.8,115.0 L658.8,119.0 L661.4,123.0 L654.8,124.5 L646.8,122.0 L638.8,121.0 L632.8,119.0Z" fill="url(#po2B)"/><ellipse cx="616.8" cy="122.0" rx="5.50" ry="3.50" fill="url(#po2B)"/><ellipse cx="452.8" cy="94.0" rx="2.00" ry="1.20" fill="#fff"/><ellipse cx="481.8" cy="97.0" rx="2.00" ry="2.00" fill="#fff"/><ellipse cx="520.8" cy="93.0" rx="2.50" ry="2.00" fill="#fff"/></g></g></g>
<rect x="187.6" y="168.1" width="76.10" height="15.20" fill="url(#gA)"/>
<line x1="199.7" y1="168.1" x2="199.7" y2="171.1" stroke="#fff" stroke-width="0.6"/>
<line x1="199.7" y1="180.3" x2="199.7" y2="183.3" stroke="#fff" stroke-width="0.6"/>
<line x1="222.3" y1="168.1" x2="222.3" y2="171.1" stroke="#fff" stroke-width="0.6"/>
<line x1="222.3" y1="180.3" x2="222.3" y2="183.3" stroke="#fff" stroke-width="0.6"/>
<line x1="245.3" y1="168.1" x2="245.3" y2="171.1" stroke="#fff" stroke-width="0.6"/>
<line x1="245.3" y1="180.3" x2="245.3" y2="183.3" stroke="#fff" stroke-width="0.6"/>
<rect x="535.9" y="168.1" width="76.20" height="15.20" fill="url(#gB)"/>
<line x1="550.4" y1="168.1" x2="550.4" y2="171.1" stroke="#fff" stroke-width="0.6"/>
<line x1="550.4" y1="180.3" x2="550.4" y2="183.3" stroke="#fff" stroke-width="0.6"/>
<line x1="569.4" y1="168.1" x2="569.4" y2="171.1" stroke="#fff" stroke-width="0.6"/>
<line x1="569.4" y1="180.3" x2="569.4" y2="183.3" stroke="#fff" stroke-width="0.6"/>
<line x1="588.9" y1="168.1" x2="588.9" y2="171.1" stroke="#fff" stroke-width="0.6"/>
<line x1="588.9" y1="180.3" x2="588.9" y2="183.3" stroke="#fff" stroke-width="0.6"/>
<line x1="608.2" y1="168.1" x2="608.2" y2="171.1" stroke="#fff" stroke-width="0.6"/>
<line x1="608.2" y1="180.3" x2="608.2" y2="183.3" stroke="#fff" stroke-width="0.6"/>
<rect x="200.9" y="374.2" width="76.90" height="15.10" fill="url(#gC)"/>
<line x1="221.3" y1="374.2" x2="221.3" y2="377.2" stroke="#fff" stroke-width="0.6"/>
<line x1="221.3" y1="386.3" x2="221.3" y2="389.3" stroke="#fff" stroke-width="0.6"/>
<line x1="241.3" y1="374.2" x2="241.3" y2="377.2" stroke="#fff" stroke-width="0.6"/>
<line x1="241.3" y1="386.3" x2="241.3" y2="389.3" stroke="#fff" stroke-width="0.6"/>
<line x1="261.4" y1="374.2" x2="261.4" y2="377.2" stroke="#fff" stroke-width="0.6"/>
<line x1="261.4" y1="386.3" x2="261.4" y2="389.3" stroke="#fff" stroke-width="0.6"/>
<rect x="549.9" y="374.2" width="76.20" height="15.10" fill="url(#gD)"/>
<line x1="567.6" y1="374.2" x2="567.6" y2="377.2" stroke="#fff" stroke-width="0.6"/>
<line x1="567.6" y1="386.3" x2="567.6" y2="389.3" stroke="#fff" stroke-width="0.6"/>
<line x1="585.3" y1="374.2" x2="585.3" y2="377.2" stroke="#fff" stroke-width="0.6"/>
<line x1="585.3" y1="386.3" x2="585.3" y2="389.3" stroke="#fff" stroke-width="0.6"/>
<line x1="603.7" y1="374.2" x2="603.7" y2="377.2" stroke="#fff" stroke-width="0.6"/>
<line x1="603.7" y1="386.3" x2="603.7" y2="389.3" stroke="#fff" stroke-width="0.6"/>
<line x1="622.1" y1="374.2" x2="622.1" y2="377.2" stroke="#fff" stroke-width="0.6"/>
<line x1="622.1" y1="386.3" x2="622.1" y2="389.3" stroke="#fff" stroke-width="0.6"/>
<rect x="174.6" y="580.9" width="76.40" height="14.70" fill="url(#gE)"/>
<line x1="178.5" y1="580.9" x2="178.5" y2="583.9" stroke="#fff" stroke-width="0.6"/>
<line x1="178.5" y1="592.6" x2="178.5" y2="595.6" stroke="#fff" stroke-width="0.6"/>
<line x1="192.0" y1="580.9" x2="192.0" y2="583.9" stroke="#fff" stroke-width="0.6"/>
<line x1="192.0" y1="592.6" x2="192.0" y2="595.6" stroke="#fff" stroke-width="0.6"/>
<line x1="205.5" y1="580.9" x2="205.5" y2="583.9" stroke="#fff" stroke-width="0.6"/>
<line x1="205.5" y1="592.6" x2="205.5" y2="595.6" stroke="#fff" stroke-width="0.6"/>
<line x1="218.6" y1="580.9" x2="218.6" y2="583.9" stroke="#fff" stroke-width="0.6"/>
<line x1="218.6" y1="592.6" x2="218.6" y2="595.6" stroke="#fff" stroke-width="0.6"/>
<line x1="232.1" y1="580.9" x2="232.1" y2="583.9" stroke="#fff" stroke-width="0.6"/>
<line x1="232.1" y1="592.6" x2="232.1" y2="595.6" stroke="#fff" stroke-width="0.6"/>
<line x1="245.8" y1="580.9" x2="245.8" y2="583.9" stroke="#fff" stroke-width="0.6"/>
<line x1="245.8" y1="592.6" x2="245.8" y2="595.6" stroke="#fff" stroke-width="0.6"/>
<rect x="523.4" y="580.9" width="76.40" height="14.70" fill="url(#gF)"/>
<line x1="527.3" y1="580.9" x2="527.3" y2="583.9" stroke="#fff" stroke-width="0.6"/>
<line x1="527.3" y1="592.6" x2="527.3" y2="595.6" stroke="#fff" stroke-width="0.6"/>
<line x1="540.8" y1="580.9" x2="540.8" y2="583.9" stroke="#fff" stroke-width="0.6"/>
<line x1="540.8" y1="592.6" x2="540.8" y2="595.6" stroke="#fff" stroke-width="0.6"/>
<line x1="554.3" y1="580.9" x2="554.3" y2="583.9" stroke="#fff" stroke-width="0.6"/>
<line x1="554.3" y1="592.6" x2="554.3" y2="595.6" stroke="#fff" stroke-width="0.6"/>
<line x1="567.4" y1="580.9" x2="567.4" y2="583.9" stroke="#fff" stroke-width="0.6"/>
<line x1="567.4" y1="592.6" x2="567.4" y2="595.6" stroke="#fff" stroke-width="0.6"/>
<line x1="580.9" y1="580.9" x2="580.9" y2="583.9" stroke="#fff" stroke-width="0.6"/>
<line x1="580.9" y1="592.6" x2="580.9" y2="595.6" stroke="#fff" stroke-width="0.6"/>
<line x1="594.6" y1="580.9" x2="594.6" y2="583.9" stroke="#fff" stroke-width="0.6"/>
<line x1="594.6" y1="592.6" x2="594.6" y2="595.6" stroke="#fff" stroke-width="0.6"/>
<g filter="url(#tblur)">
<text x="2.6" y="10.9" font-size="12" font-weight="bold" fill="#000">A</text>
<text x="25.06" y="40.20" font-size="8.3" fill="#474747" text-anchor="end" textLength="12.01" lengthAdjust="spacingAndGlyphs">5<tspan font-size="7.2" font-weight="bold" dy="0.2">°</tspan><tspan dy="-0.2">S</tspan></text>
<text x="25.06" y="65.15" font-size="8.3" fill="#474747" text-anchor="end" textLength="12.01" lengthAdjust="spacingAndGlyphs">6<tspan font-size="7.2" font-weight="bold" dy="0.2">°</tspan><tspan dy="-0.2">S</tspan></text>
<text x="25.06" y="90.10" font-size="8.3" fill="#474747" text-anchor="end" textLength="12.01" lengthAdjust="spacingAndGlyphs">7<tspan font-size="7.2" font-weight="bold" dy="0.2">°</tspan><tspan dy="-0.2">S</tspan></text>
<text x="25.06" y="115.05" font-size="8.3" fill="#474747" text-anchor="end" textLength="12.01" lengthAdjust="spacingAndGlyphs">8<tspan font-size="7.2" font-weight="bold" dy="0.2">°</tspan><tspan dy="-0.2">S</tspan></text>
<text x="25.06" y="140.00" font-size="8.3" fill="#474747" text-anchor="end" textLength="12.01" lengthAdjust="spacingAndGlyphs">9<tspan font-size="7.2" font-weight="bold" dy="0.2">°</tspan><tspan dy="-0.2">S</tspan></text>
<text x="73.00" y="151.89" font-size="8.3" fill="#474747" text-anchor="middle" textLength="20.24" lengthAdjust="spacingAndGlyphs">106<tspan font-size="7.2" font-weight="bold" dy="0.2">°</tspan><tspan dy="-0.2">E</tspan></text>
<text x="122.54" y="151.89" font-size="8.3" fill="#474747" text-anchor="middle" textLength="20.24" lengthAdjust="spacingAndGlyphs">108<tspan font-size="7.2" font-weight="bold" dy="0.2">°</tspan><tspan dy="-0.2">E</tspan></text>
<text x="172.08" y="151.89" font-size="8.3" fill="#474747" text-anchor="middle" textLength="20.24" lengthAdjust="spacingAndGlyphs">110<tspan font-size="7.2" font-weight="bold" dy="0.2">°</tspan><tspan dy="-0.2">E</tspan></text>
<text x="221.62" y="151.89" font-size="8.3" fill="#474747" text-anchor="middle" textLength="20.24" lengthAdjust="spacingAndGlyphs">112<tspan font-size="7.2" font-weight="bold" dy="0.2">°</tspan><tspan dy="-0.2">E</tspan></text>
<text x="271.16" y="151.89" font-size="8.3" fill="#474747" text-anchor="middle" textLength="20.24" lengthAdjust="spacingAndGlyphs">114<tspan font-size="7.2" font-weight="bold" dy="0.2">°</tspan><tspan dy="-0.2">E</tspan></text>
<text x="320.70" y="151.89" font-size="8.3" fill="#474747" text-anchor="middle" textLength="20.24" lengthAdjust="spacingAndGlyphs">116<tspan font-size="7.2" font-weight="bold" dy="0.2">°</tspan><tspan dy="-0.2">E</tspan></text>
<text x="351.70000000000005" y="10.9" font-size="12" font-weight="bold" fill="#000">B</text>
<text x="373.86" y="40.20" font-size="8.3" fill="#474747" text-anchor="end" textLength="12.01" lengthAdjust="spacingAndGlyphs">5<tspan font-size="7.2" font-weight="bold" dy="0.2">°</tspan><tspan dy="-0.2">S</tspan></text>
<text x="373.86" y="65.15" font-size="8.3" fill="#474747" text-anchor="end" textLength="12.01" lengthAdjust="spacingAndGlyphs">6<tspan font-size="7.2" font-weight="bold" dy="0.2">°</tspan><tspan dy="-0.2">S</tspan></text>
<text x="373.86" y="90.10" font-size="8.3" fill="#474747" text-anchor="end" textLength="12.01" lengthAdjust="spacingAndGlyphs">7<tspan font-size="7.2" font-weight="bold" dy="0.2">°</tspan><tspan dy="-0.2">S</tspan></text>
<text x="373.86" y="115.05" font-size="8.3" fill="#474747" text-anchor="end" textLength="12.01" lengthAdjust="spacingAndGlyphs">8<tspan font-size="7.2" font-weight="bold" dy="0.2">°</tspan><tspan dy="-0.2">S</tspan></text>
<text x="373.86" y="140.00" font-size="8.3" fill="#474747" text-anchor="end" textLength="12.01" lengthAdjust="spacingAndGlyphs">9<tspan font-size="7.2" font-weight="bold" dy="0.2">°</tspan><tspan dy="-0.2">S</tspan></text>
<text x="421.80" y="151.89" font-size="8.3" fill="#474747" text-anchor="middle" textLength="20.24" lengthAdjust="spacingAndGlyphs">106<tspan font-size="7.2" font-weight="bold" dy="0.2">°</tspan><tspan dy="-0.2">E</tspan></text>
<text x="471.34" y="151.89" font-size="8.3" fill="#474747" text-anchor="middle" textLength="20.24" lengthAdjust="spacingAndGlyphs">108<tspan font-size="7.2" font-weight="bold" dy="0.2">°</tspan><tspan dy="-0.2">E</tspan></text>
<text x="520.88" y="151.89" font-size="8.3" fill="#474747" text-anchor="middle" textLength="20.24" lengthAdjust="spacingAndGlyphs">110<tspan font-size="7.2" font-weight="bold" dy="0.2">°</tspan><tspan dy="-0.2">E</tspan></text>
<text x="570.42" y="151.89" font-size="8.3" fill="#474747" text-anchor="middle" textLength="20.24" lengthAdjust="spacingAndGlyphs">112<tspan font-size="7.2" font-weight="bold" dy="0.2">°</tspan><tspan dy="-0.2">E</tspan></text>
<text x="619.96" y="151.89" font-size="8.3" fill="#474747" text-anchor="middle" textLength="20.24" lengthAdjust="spacingAndGlyphs">114<tspan font-size="7.2" font-weight="bold" dy="0.2">°</tspan><tspan dy="-0.2">E</tspan></text>
<text x="669.50" y="151.89" font-size="8.3" fill="#474747" text-anchor="middle" textLength="20.24" lengthAdjust="spacingAndGlyphs">116<tspan font-size="7.2" font-weight="bold" dy="0.2">°</tspan><tspan dy="-0.2">E</tspan></text>
<text x="2.6" y="218.2" font-size="12" font-weight="bold" fill="#000">C</text>
<text x="28.82" y="247.50" font-size="8.3" fill="#474747" text-anchor="end" textLength="12.01" lengthAdjust="spacingAndGlyphs">5<tspan font-size="7.2" font-weight="bold" dy="0.2">°</tspan><tspan dy="-0.2">S</tspan></text>
<text x="28.82" y="271.85" font-size="8.3" fill="#474747" text-anchor="end" textLength="12.01" lengthAdjust="spacingAndGlyphs">6<tspan font-size="7.2" font-weight="bold" dy="0.2">°</tspan><tspan dy="-0.2">S</tspan></text>
<text x="28.82" y="296.20" font-size="8.3" fill="#474747" text-anchor="end" textLength="12.01" lengthAdjust="spacingAndGlyphs">7<tspan font-size="7.2" font-weight="bold" dy="0.2">°</tspan><tspan dy="-0.2">S</tspan></text>
<text x="28.82" y="320.55" font-size="8.3" fill="#474747" text-anchor="end" textLength="12.01" lengthAdjust="spacingAndGlyphs">8<tspan font-size="7.2" font-weight="bold" dy="0.2">°</tspan><tspan dy="-0.2">S</tspan></text>
<text x="28.82" y="344.90" font-size="8.3" fill="#474747" text-anchor="end" textLength="12.01" lengthAdjust="spacingAndGlyphs">9<tspan font-size="7.2" font-weight="bold" dy="0.2">°</tspan><tspan dy="-0.2">S</tspan></text>
<text x="75.70" y="356.68" font-size="8.3" fill="#474747" text-anchor="middle" textLength="20.24" lengthAdjust="spacingAndGlyphs">106<tspan font-size="7.2" font-weight="bold" dy="0.2">°</tspan><tspan dy="-0.2">E</tspan></text>
<text x="124.04" y="356.68" font-size="8.3" fill="#474747" text-anchor="middle" textLength="20.24" lengthAdjust="spacingAndGlyphs">108<tspan font-size="7.2" font-weight="bold" dy="0.2">°</tspan><tspan dy="-0.2">E</tspan></text>
<text x="172.38" y="356.68" font-size="8.3" fill="#474747" text-anchor="middle" textLength="20.24" lengthAdjust="spacingAndGlyphs">110<tspan font-size="7.2" font-weight="bold" dy="0.2">°</tspan><tspan dy="-0.2">E</tspan></text>
<text x="220.72" y="356.68" font-size="8.3" fill="#474747" text-anchor="middle" textLength="20.24" lengthAdjust="spacingAndGlyphs">112<tspan font-size="7.2" font-weight="bold" dy="0.2">°</tspan><tspan dy="-0.2">E</tspan></text>
<text x="269.06" y="356.68" font-size="8.3" fill="#474747" text-anchor="middle" textLength="20.24" lengthAdjust="spacingAndGlyphs">114<tspan font-size="7.2" font-weight="bold" dy="0.2">°</tspan><tspan dy="-0.2">E</tspan></text>
<text x="317.40" y="356.68" font-size="8.3" fill="#474747" text-anchor="middle" textLength="20.24" lengthAdjust="spacingAndGlyphs">116<tspan font-size="7.2" font-weight="bold" dy="0.2">°</tspan><tspan dy="-0.2">E</tspan></text>
<text x="351.40000000000003" y="218.2" font-size="12" font-weight="bold" fill="#000">D</text>
<text x="377.22" y="247.50" font-size="8.3" fill="#474747" text-anchor="end" textLength="12.01" lengthAdjust="spacingAndGlyphs">5<tspan font-size="7.2" font-weight="bold" dy="0.2">°</tspan><tspan dy="-0.2">S</tspan></text>
<text x="377.22" y="271.85" font-size="8.3" fill="#474747" text-anchor="end" textLength="12.01" lengthAdjust="spacingAndGlyphs">6<tspan font-size="7.2" font-weight="bold" dy="0.2">°</tspan><tspan dy="-0.2">S</tspan></text>
<text x="377.22" y="296.20" font-size="8.3" fill="#474747" text-anchor="end" textLength="12.01" lengthAdjust="spacingAndGlyphs">7<tspan font-size="7.2" font-weight="bold" dy="0.2">°</tspan><tspan dy="-0.2">S</tspan></text>
<text x="377.22" y="320.55" font-size="8.3" fill="#474747" text-anchor="end" textLength="12.01" lengthAdjust="spacingAndGlyphs">8<tspan font-size="7.2" font-weight="bold" dy="0.2">°</tspan><tspan dy="-0.2">S</tspan></text>
<text x="377.22" y="344.90" font-size="8.3" fill="#474747" text-anchor="end" textLength="12.01" lengthAdjust="spacingAndGlyphs">9<tspan font-size="7.2" font-weight="bold" dy="0.2">°</tspan><tspan dy="-0.2">S</tspan></text>
<text x="424.10" y="356.68" font-size="8.3" fill="#474747" text-anchor="middle" textLength="20.24" lengthAdjust="spacingAndGlyphs">106<tspan font-size="7.2" font-weight="bold" dy="0.2">°</tspan><tspan dy="-0.2">E</tspan></text>
<text x="472.44" y="356.68" font-size="8.3" fill="#474747" text-anchor="middle" textLength="20.24" lengthAdjust="spacingAndGlyphs">108<tspan font-size="7.2" font-weight="bold" dy="0.2">°</tspan><tspan dy="-0.2">E</tspan></text>
<text x="520.78" y="356.68" font-size="8.3" fill="#474747" text-anchor="middle" textLength="20.24" lengthAdjust="spacingAndGlyphs">110<tspan font-size="7.2" font-weight="bold" dy="0.2">°</tspan><tspan dy="-0.2">E</tspan></text>
<text x="569.12" y="356.68" font-size="8.3" fill="#474747" text-anchor="middle" textLength="20.24" lengthAdjust="spacingAndGlyphs">112<tspan font-size="7.2" font-weight="bold" dy="0.2">°</tspan><tspan dy="-0.2">E</tspan></text>
<text x="617.46" y="356.68" font-size="8.3" fill="#474747" text-anchor="middle" textLength="20.24" lengthAdjust="spacingAndGlyphs">114<tspan font-size="7.2" font-weight="bold" dy="0.2">°</tspan><tspan dy="-0.2">E</tspan></text>
<text x="665.80" y="356.68" font-size="8.3" fill="#474747" text-anchor="middle" textLength="20.24" lengthAdjust="spacingAndGlyphs">116<tspan font-size="7.2" font-weight="bold" dy="0.2">°</tspan><tspan dy="-0.2">E</tspan></text>
<text x="2.6" y="425.9" font-size="12" font-weight="bold" fill="#000">E</text>
<text x="28.27" y="454.60" font-size="8.3" fill="#474747" text-anchor="end" textLength="12.01" lengthAdjust="spacingAndGlyphs">5<tspan font-size="7.2" font-weight="bold" dy="0.2">°</tspan><tspan dy="-0.2">S</tspan></text>
<text x="28.27" y="478.98" font-size="8.3" fill="#474747" text-anchor="end" textLength="12.01" lengthAdjust="spacingAndGlyphs">6<tspan font-size="7.2" font-weight="bold" dy="0.2">°</tspan><tspan dy="-0.2">S</tspan></text>
<text x="28.27" y="503.36" font-size="8.3" fill="#474747" text-anchor="end" textLength="12.01" lengthAdjust="spacingAndGlyphs">7<tspan font-size="7.2" font-weight="bold" dy="0.2">°</tspan><tspan dy="-0.2">S</tspan></text>
<text x="28.27" y="527.74" font-size="8.3" fill="#474747" text-anchor="end" textLength="12.01" lengthAdjust="spacingAndGlyphs">8<tspan font-size="7.2" font-weight="bold" dy="0.2">°</tspan><tspan dy="-0.2">S</tspan></text>
<text x="28.27" y="552.12" font-size="8.3" fill="#474747" text-anchor="end" textLength="12.01" lengthAdjust="spacingAndGlyphs">9<tspan font-size="7.2" font-weight="bold" dy="0.2">°</tspan><tspan dy="-0.2">S</tspan></text>
<text x="75.20" y="563.91" font-size="8.3" fill="#474747" text-anchor="middle" textLength="20.24" lengthAdjust="spacingAndGlyphs">106<tspan font-size="7.2" font-weight="bold" dy="0.2">°</tspan><tspan dy="-0.2">E</tspan></text>
<text x="123.60" y="563.91" font-size="8.3" fill="#474747" text-anchor="middle" textLength="20.24" lengthAdjust="spacingAndGlyphs">108<tspan font-size="7.2" font-weight="bold" dy="0.2">°</tspan><tspan dy="-0.2">E</tspan></text>
<text x="172.00" y="563.91" font-size="8.3" fill="#474747" text-anchor="middle" textLength="20.24" lengthAdjust="spacingAndGlyphs">110<tspan font-size="7.2" font-weight="bold" dy="0.2">°</tspan><tspan dy="-0.2">E</tspan></text>
<text x="220.40" y="563.91" font-size="8.3" fill="#474747" text-anchor="middle" textLength="20.24" lengthAdjust="spacingAndGlyphs">112<tspan font-size="7.2" font-weight="bold" dy="0.2">°</tspan><tspan dy="-0.2">E</tspan></text>
<text x="268.80" y="563.91" font-size="8.3" fill="#474747" text-anchor="middle" textLength="20.24" lengthAdjust="spacingAndGlyphs">114<tspan font-size="7.2" font-weight="bold" dy="0.2">°</tspan><tspan dy="-0.2">E</tspan></text>
<text x="317.20" y="563.91" font-size="8.3" fill="#474747" text-anchor="middle" textLength="20.24" lengthAdjust="spacingAndGlyphs">116<tspan font-size="7.2" font-weight="bold" dy="0.2">°</tspan><tspan dy="-0.2">E</tspan></text>
<text x="351.40000000000003" y="425.9" font-size="12" font-weight="bold" fill="#000">F</text>
<text x="376.67" y="454.60" font-size="8.3" fill="#474747" text-anchor="end" textLength="12.01" lengthAdjust="spacingAndGlyphs">5<tspan font-size="7.2" font-weight="bold" dy="0.2">°</tspan><tspan dy="-0.2">S</tspan></text>
<text x="376.67" y="478.98" font-size="8.3" fill="#474747" text-anchor="end" textLength="12.01" lengthAdjust="spacingAndGlyphs">6<tspan font-size="7.2" font-weight="bold" dy="0.2">°</tspan><tspan dy="-0.2">S</tspan></text>
<text x="376.67" y="503.36" font-size="8.3" fill="#474747" text-anchor="end" textLength="12.01" lengthAdjust="spacingAndGlyphs">7<tspan font-size="7.2" font-weight="bold" dy="0.2">°</tspan><tspan dy="-0.2">S</tspan></text>
<text x="376.67" y="527.74" font-size="8.3" fill="#474747" text-anchor="end" textLength="12.01" lengthAdjust="spacingAndGlyphs">8<tspan font-size="7.2" font-weight="bold" dy="0.2">°</tspan><tspan dy="-0.2">S</tspan></text>
<text x="376.67" y="552.12" font-size="8.3" fill="#474747" text-anchor="end" textLength="12.01" lengthAdjust="spacingAndGlyphs">9<tspan font-size="7.2" font-weight="bold" dy="0.2">°</tspan><tspan dy="-0.2">S</tspan></text>
<text x="423.60" y="563.91" font-size="8.3" fill="#474747" text-anchor="middle" textLength="20.24" lengthAdjust="spacingAndGlyphs">106<tspan font-size="7.2" font-weight="bold" dy="0.2">°</tspan><tspan dy="-0.2">E</tspan></text>
<text x="472.00" y="563.91" font-size="8.3" fill="#474747" text-anchor="middle" textLength="20.24" lengthAdjust="spacingAndGlyphs">108<tspan font-size="7.2" font-weight="bold" dy="0.2">°</tspan><tspan dy="-0.2">E</tspan></text>
<text x="520.40" y="563.91" font-size="8.3" fill="#474747" text-anchor="middle" textLength="20.24" lengthAdjust="spacingAndGlyphs">110<tspan font-size="7.2" font-weight="bold" dy="0.2">°</tspan><tspan dy="-0.2">E</tspan></text>
<text x="568.80" y="563.91" font-size="8.3" fill="#474747" text-anchor="middle" textLength="20.24" lengthAdjust="spacingAndGlyphs">112<tspan font-size="7.2" font-weight="bold" dy="0.2">°</tspan><tspan dy="-0.2">E</tspan></text>
<text x="617.20" y="563.91" font-size="8.3" fill="#474747" text-anchor="middle" textLength="20.24" lengthAdjust="spacingAndGlyphs">114<tspan font-size="7.2" font-weight="bold" dy="0.2">°</tspan><tspan dy="-0.2">E</tspan></text>
<text x="665.60" y="563.91" font-size="8.3" fill="#474747" text-anchor="middle" textLength="20.24" lengthAdjust="spacingAndGlyphs">116<tspan font-size="7.2" font-weight="bold" dy="0.2">°</tspan><tspan dy="-0.2">E</tspan></text>
<text x="100.8" y="180.4" font-size="9.6" fill="#111">Estimated relative</text>
<text x="103.3" y="190.8" font-size="9.6" fill="#111">diversity from SAR</text>
<text x="199.7" y="193.9" font-size="7.6" fill="#3a3a3a" text-anchor="middle">2</text>
<text x="222.3" y="193.9" font-size="7.6" fill="#3a3a3a" text-anchor="middle">4</text>
<text x="245.3" y="193.9" font-size="7.6" fill="#3a3a3a" text-anchor="middle">6</text>
<text x="449.6" y="180.4" font-size="9.6" fill="#111">Estimated relative</text>
<text x="452.1" y="190.8" font-size="9.6" fill="#111">diversity from SAR</text>
<text x="550.4" y="193.9" font-size="7.6" fill="#3a3a3a" text-anchor="middle">4</text>
<text x="569.4" y="193.9" font-size="7.6" fill="#3a3a3a" text-anchor="middle">8</text>
<text x="588.9" y="193.9" font-size="7.6" fill="#3a3a3a" text-anchor="middle">12</text>
<text x="608.2" y="193.9" font-size="7.6" fill="#3a3a3a" text-anchor="middle">16</text>
<text x="87.0" y="381.1" font-size="9.6" fill="#111">Estimated risk for</text>
<text x="91.9" y="391.3" font-size="9.6" fill="#111">novel infectious disease</text>
<text x="89.6" y="401.4" font-size="9.6" fill="#111">emergence (eRIDE)</text>
<text x="221.3" y="399.8" font-size="7.6" fill="#3a3a3a" text-anchor="middle">2</text>
<text x="241.3" y="399.8" font-size="7.6" fill="#3a3a3a" text-anchor="middle">4</text>
<text x="261.4" y="399.8" font-size="7.6" fill="#3a3a3a" text-anchor="middle">6</text>
<text x="435.8" y="381.1" font-size="9.6" fill="#111">Estimated risk for</text>
<text x="440.70000000000005" y="391.3" font-size="9.6" fill="#111">novel infectious disease</text>
<text x="438.4" y="401.4" font-size="9.6" fill="#111">emergence (eRIDE)</text>
<text x="567.6" y="399.8" font-size="7.6" fill="#3a3a3a" text-anchor="middle">4</text>
<text x="585.3" y="399.8" font-size="7.6" fill="#3a3a3a" text-anchor="middle">8</text>
<text x="603.7" y="399.8" font-size="7.6" fill="#3a3a3a" text-anchor="middle">12</text>
<text x="622.1" y="399.8" font-size="7.6" fill="#3a3a3a" text-anchor="middle">16</text>
<text x="114" y="593.5" font-size="9.6" fill="#111">Population</text>
<text x="116.4" y="603.1" font-size="9.6" fill="#111">at risk (PAR)</text>
<text x="172.9" y="608.5" font-size="8.2" fill="#222" textLength="6.9" lengthAdjust="spacingAndGlyphs">10</text>
<text x="180.1" y="605.5" font-size="5.6" fill="#222">-8</text>
<text x="186.4" y="608.5" font-size="8.2" fill="#222" textLength="6.9" lengthAdjust="spacingAndGlyphs">10</text>
<text x="193.6" y="605.5" font-size="5.6" fill="#222">-6</text>
<text x="199.9" y="608.5" font-size="8.2" fill="#222" textLength="6.9" lengthAdjust="spacingAndGlyphs">10</text>
<text x="207.1" y="605.5" font-size="5.6" fill="#222">-4</text>
<text x="213.0" y="608.5" font-size="8.2" fill="#222" textLength="6.9" lengthAdjust="spacingAndGlyphs">10</text>
<text x="220.2" y="605.5" font-size="5.6" fill="#222">-2</text>
<text x="226.5" y="608.5" font-size="8.2" fill="#222" textLength="6.9" lengthAdjust="spacingAndGlyphs">10</text>
<text x="233.7" y="605.5" font-size="5.6" fill="#222">0</text>
<text x="240.20000000000002" y="608.5" font-size="8.2" fill="#222" textLength="6.9" lengthAdjust="spacingAndGlyphs">10</text>
<text x="247.4" y="605.5" font-size="5.6" fill="#222">2</text>
<text x="462.8" y="593.5" font-size="9.6" fill="#111">Population</text>
<text x="465.20000000000005" y="603.1" font-size="9.6" fill="#111">at risk (PAR)</text>
<text x="521.6999999999999" y="608.5" font-size="8.2" fill="#222" textLength="6.9" lengthAdjust="spacingAndGlyphs">10</text>
<text x="528.9" y="605.5" font-size="5.6" fill="#222">-8</text>
<text x="535.1999999999999" y="608.5" font-size="8.2" fill="#222" textLength="6.9" lengthAdjust="spacingAndGlyphs">10</text>
<text x="542.4" y="605.5" font-size="5.6" fill="#222">-6</text>
<text x="548.6999999999999" y="608.5" font-size="8.2" fill="#222" textLength="6.9" lengthAdjust="spacingAndGlyphs">10</text>
<text x="555.9" y="605.5" font-size="5.6" fill="#222">-4</text>
<text x="561.8" y="608.5" font-size="8.2" fill="#222" textLength="6.9" lengthAdjust="spacingAndGlyphs">10</text>
<text x="569.0" y="605.5" font-size="5.6" fill="#222">-2</text>
<text x="575.3" y="608.5" font-size="8.2" fill="#222" textLength="6.9" lengthAdjust="spacingAndGlyphs">10</text>
<text x="582.5" y="605.5" font-size="5.6" fill="#222">0</text>
<text x="589.0" y="608.5" font-size="8.2" fill="#222" textLength="6.9" lengthAdjust="spacingAndGlyphs">10</text>
<text x="596.2" y="605.5" font-size="5.6" fill="#222">2</text>
</g>
</svg></body></html>
